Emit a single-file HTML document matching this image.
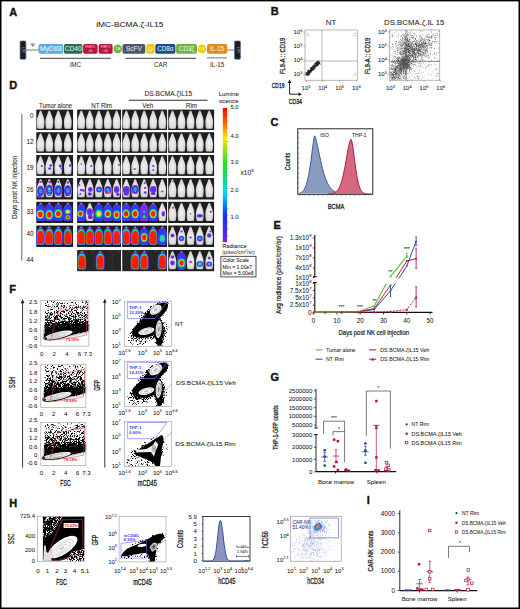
<!DOCTYPE html>
<html><head><meta charset="utf-8"><style>
html,body{margin:0;padding:0;background:#fff;}
body{width:520px;height:609px;overflow:hidden;}
svg{display:block;}
text{font-family:"Liberation Sans",sans-serif;}
</style></head><body>
<svg width="520" height="609" viewBox="0 0 520 609">
<defs>
<radialGradient id="mg" cx="50%" cy="55%" r="60%">
<stop offset="0" stop-color="#f2f2f2"/><stop offset="0.7" stop-color="#dadada"/><stop offset="1" stop-color="#a8a8a8"/>
</radialGradient>
<filter id="bl" x="-20%" y="-20%" width="140%" height="140%"><feGaussianBlur stdDeviation="0.35"/></filter>
<filter id="bl2" x="-20%" y="-20%" width="140%" height="140%"><feGaussianBlur stdDeviation="0.6"/></filter>
<filter id="bl3" x="-20%" y="-20%" width="140%" height="140%"><feGaussianBlur stdDeviation="1.3"/></filter>
<linearGradient id="cbar" x1="0" y1="0" x2="0" y2="1">
<stop offset="0" stop-color="#ff0000"/><stop offset="0.12" stop-color="#ff6a00"/><stop offset="0.22" stop-color="#ffe600"/>
<stop offset="0.42" stop-color="#20e020"/><stop offset="0.64" stop-color="#00d8f0"/><stop offset="0.8" stop-color="#1030ff"/>
<stop offset="1" stop-color="#7a20e8"/>
</linearGradient>

<linearGradient id="fsc" x1="0" y1="0" x2="0" y2="1">
<stop offset="0" stop-color="#000" stop-opacity="0.42"/><stop offset="0.3" stop-color="#000" stop-opacity="0.53"/>
<stop offset="0.5" stop-color="#000" stop-opacity="0.68"/><stop offset="0.66" stop-color="#000" stop-opacity="0.95"/><stop offset="1" stop-color="#000" stop-opacity="1"/>
</linearGradient>
<filter id="speck" x="0" y="0" width="100%" height="100%">
<feTurbulence type="fractalNoise" baseFrequency="2.2" numOctaves="1" seed="5" result="n"/>
<feColorMatrix in="n" type="matrix" values="0 0 0 0 0  0 0 0 0 0  0 0 0 0 0  2.0 0 0 0 -0.5" result="na"/>
<feComposite in="SourceGraphic" in2="na" operator="arithmetic" k1="0" k2="4" k3="-4" k4="0"/>
<feGaussianBlur stdDeviation="0.45"/>
</filter>
</defs>
<rect x="0" y="0" width="520" height="609" fill="#fff"/>
<text x="9.30" y="16.20" font-size="11" text-anchor="start" fill="#111" font-weight="bold" stroke="#111" stroke-width="0.35" >A</text>
<text x="129.80" y="27.10" font-size="8.1" text-anchor="middle" fill="#1a1a1a" font-weight="normal" stroke="#1a1a1a" stroke-width="0.05" textLength="67.3" lengthAdjust="spacingAndGlyphs">iMC-BCMA.ζ-IL15</text>
<line x1="25.80" y1="50.00" x2="38.60" y2="50.00" stroke="#999" stroke-width="1.3" />
<line x1="227.20" y1="50.00" x2="234.80" y2="50.00" stroke="#999" stroke-width="1.3" />
<rect x="20.10" y="41.00" width="5.80" height="18.20" fill="#1c1c1c" stroke="#4a6a9a" stroke-width="0.7" rx="1" />
<text transform="translate(23.00,50) rotate(90)" font-size="3" text-anchor="middle" dominant-baseline="central" fill="#ddd">LTR</text>
<rect x="234.60" y="41.00" width="5.80" height="18.20" fill="#1c1c1c" stroke="#4a6a9a" stroke-width="0.7" rx="1" />
<text transform="translate(237.50,50) rotate(90)" font-size="3" text-anchor="middle" dominant-baseline="central" fill="#ddd">LTR</text>
<text x="32.80" y="46.90" font-size="4.8" text-anchor="middle" fill="#333" font-weight="normal" stroke="#333" stroke-width="0.05" >Ψ</text>
<rect x="38.50" y="44.10" width="24.70" height="9.60" fill="#5ea9df" stroke="none" stroke-width="1" rx="1.8" />
<text x="50.85" y="51.30" font-size="6.9" text-anchor="middle" fill="#eef6ff" font-weight="normal" stroke="#eef6ff" stroke-width="0.05" >MyD88</text>
<rect x="63.90" y="44.10" width="18.50" height="9.60" fill="#2d6a4e" stroke="none" stroke-width="1" rx="1.8" />
<text x="73.15" y="51.30" font-size="6.6" text-anchor="middle" fill="#e6efe9" font-weight="normal" stroke="#e6efe9" stroke-width="0.05" >CD40</text>
<rect x="83.10" y="44.10" width="14.50" height="9.60" fill="#b4173c" stroke="none" stroke-width="1" rx="1.8" />
<rect x="98.70" y="44.10" width="13.90" height="9.60" fill="#b4173c" stroke="none" stroke-width="1" rx="1.8" />
<text x="90.35" y="48.30" font-size="2.7" text-anchor="middle" fill="#f8d0da" font-weight="normal" >FKBP12</text>
<text x="90.35" y="51.80" font-size="2.7" text-anchor="middle" fill="#f8d0da" font-weight="normal" >v36</text>
<text x="105.65" y="48.30" font-size="2.7" text-anchor="middle" fill="#f8d0da" font-weight="normal" >FKBP12</text>
<text x="105.65" y="51.80" font-size="2.7" text-anchor="middle" fill="#f8d0da" font-weight="normal" >v36</text>
<circle cx="117.8" cy="48.9" r="4.3" fill="#6cb544"/>
<text x="117.80" y="50.00" font-size="2.8" text-anchor="middle" fill="#e8f5e0" font-weight="normal" stroke="#e8f5e0" stroke-width="0.05" >T2A</text>
<rect x="122.50" y="44.10" width="22.80" height="9.60" fill="#4c556c" stroke="none" stroke-width="1" rx="1.8" />
<text x="133.90" y="51.30" font-size="6.4" text-anchor="middle" fill="#e6e8ee" font-weight="normal" stroke="#e6e8ee" stroke-width="0.05" >ScFV</text>
<rect x="146.30" y="44.10" width="8.20" height="9.60" fill="#f0c41c" stroke="none" stroke-width="1" rx="1.8" />
<text x="150.40" y="51.30" font-size="6.2" text-anchor="middle" fill="#fff6d0" font-weight="normal" stroke="#fff6d0" stroke-width="0.05" >Q</text>
<rect x="155.30" y="44.10" width="20.10" height="9.60" fill="#1f4a8b" stroke="none" stroke-width="1" rx="1.8" />
<text x="165.35" y="51.30" font-size="6.3" text-anchor="middle" fill="#e6ecf5" font-weight="normal" stroke="#e6ecf5" stroke-width="0.05" >CD8α</text>
<rect x="176.10" y="44.10" width="20.90" height="9.60" fill="#6cb544" stroke="none" stroke-width="1" rx="1.8" />
<text x="186.55" y="51.30" font-size="6.3" text-anchor="middle" fill="#eef8e8" font-weight="normal" stroke="#eef8e8" stroke-width="0.05" >CD3ζ</text>
<circle cx="202" cy="48.9" r="4.3" fill="#f0c41c"/>
<text x="202.00" y="50.00" font-size="2.8" text-anchor="middle" fill="#fff6d0" font-weight="normal" stroke="#fff6d0" stroke-width="0.05" >P2A</text>
<rect x="207.00" y="44.10" width="20.30" height="9.60" fill="#e08a1f" stroke="none" stroke-width="1" rx="1.8" />
<text x="217.15" y="51.30" font-size="6.3" text-anchor="middle" fill="#fff1de" font-weight="normal" stroke="#fff1de" stroke-width="0.05" >IL-15</text>
<line x1="40.00" y1="58.45" x2="110.80" y2="58.45" stroke="#666" stroke-width="1.2" />
<line x1="125.60" y1="58.45" x2="196.00" y2="58.45" stroke="#666" stroke-width="1.2" />
<line x1="207.00" y1="57.80" x2="227.00" y2="57.80" stroke="#999" stroke-width="1.4" />
<text x="75.50" y="67.30" font-size="6.3" text-anchor="middle" fill="#333" font-weight="normal" stroke="#333" stroke-width="0.05" >iMC</text>
<text x="160.60" y="67.30" font-size="6.3" text-anchor="middle" fill="#333" font-weight="normal" stroke="#333" stroke-width="0.05" >CAR</text>
<text x="217.20" y="67.30" font-size="6.3" text-anchor="middle" fill="#333" font-weight="normal" stroke="#333" stroke-width="0.05" >IL-15</text>
<text x="270.80" y="15.30" font-size="11" text-anchor="start" fill="#111" font-weight="bold" stroke="#111" stroke-width="0.35" >B</text>
<text x="331.00" y="25.30" font-size="7.8" text-anchor="middle" fill="#1a1a1a" font-weight="normal" stroke="#1a1a1a" stroke-width="0.05" >NT</text>
<rect x="305.00" y="30.00" width="52.60" height="50.20" fill="#fff" stroke="#888" stroke-width="0.6" rx="0" />
<line x1="322.00" y1="30.00" x2="322.00" y2="80.20" stroke="#888" stroke-width="0.6" />
<line x1="305.00" y1="61.00" x2="357.60" y2="61.00" stroke="#888" stroke-width="0.6" />
<text x="302.40" y="34.20" font-size="6.0" text-anchor="end" fill="#1a1a1a" stroke="#1a1a1a" stroke-width="0.05">10<tspan font-size="3.90" dy="-2.70">6</tspan></text>
<line x1="303.50" y1="32.00" x2="305.00" y2="32.00" stroke="#555" stroke-width="0.5" />
<text x="302.40" y="48.20" font-size="6.0" text-anchor="end" fill="#1a1a1a" stroke="#1a1a1a" stroke-width="0.05">10<tspan font-size="3.90" dy="-2.70">5</tspan></text>
<line x1="303.50" y1="46.00" x2="305.00" y2="46.00" stroke="#555" stroke-width="0.5" />
<text x="302.40" y="62.20" font-size="6.0" text-anchor="end" fill="#1a1a1a" stroke="#1a1a1a" stroke-width="0.05">10<tspan font-size="3.90" dy="-2.70">4</tspan></text>
<line x1="303.50" y1="60.00" x2="305.00" y2="60.00" stroke="#555" stroke-width="0.5" />
<text x="302.40" y="76.20" font-size="6.0" text-anchor="end" fill="#1a1a1a" stroke="#1a1a1a" stroke-width="0.05">10<tspan font-size="3.90" dy="-2.70">3</tspan></text>
<line x1="303.50" y1="74.00" x2="305.00" y2="74.00" stroke="#555" stroke-width="0.5" />
<text x="306.00" y="90.40" font-size="6.0" text-anchor="middle" fill="#1a1a1a" stroke="#1a1a1a" stroke-width="0.05">10<tspan font-size="3.90" dy="-2.70">3</tspan></text>
<line x1="306.00" y1="80.20" x2="306.00" y2="81.70" stroke="#555" stroke-width="0.5" />
<text x="322.80" y="90.40" font-size="6.0" text-anchor="middle" fill="#1a1a1a" stroke="#1a1a1a" stroke-width="0.05">10<tspan font-size="3.90" dy="-2.70">4</tspan></text>
<line x1="322.80" y1="80.20" x2="322.80" y2="81.70" stroke="#555" stroke-width="0.5" />
<text x="339.60" y="90.40" font-size="6.0" text-anchor="middle" fill="#1a1a1a" stroke="#1a1a1a" stroke-width="0.05">10<tspan font-size="3.90" dy="-2.70">5</tspan></text>
<line x1="339.60" y1="80.20" x2="339.60" y2="81.70" stroke="#555" stroke-width="0.5" />
<text x="356.40" y="90.40" font-size="6.0" text-anchor="middle" fill="#1a1a1a" stroke="#1a1a1a" stroke-width="0.05">10<tspan font-size="3.90" dy="-2.70">6</tspan></text>
<line x1="356.40" y1="80.20" x2="356.40" y2="81.70" stroke="#555" stroke-width="0.5" />
<text transform="translate(285.38,74.00) rotate(-90)" x="0" y="0" font-size="6.6" fill="#1a1a1a" stroke="#1a1a1a" stroke-width="0.28" textLength="36.2" lengthAdjust="spacingAndGlyphs">FL9-A :: CD19</text>
<text x="306.50" y="33.60" font-size="2.2" text-anchor="start" fill="#555" font-weight="normal" >Q</text>
<text x="306.50" y="36.20" font-size="2.2" text-anchor="start" fill="#555" font-weight="normal" >0.0</text>
<text x="356.10" y="33.60" font-size="2.2" text-anchor="end" fill="#555" font-weight="normal" >Q</text>
<text x="356.10" y="36.20" font-size="2.2" text-anchor="end" fill="#555" font-weight="normal" >0.0</text>
<text x="306.50" y="73.70" font-size="2.2" text-anchor="start" fill="#555" font-weight="normal" >Q</text>
<text x="306.50" y="76.30" font-size="2.2" text-anchor="start" fill="#555" font-weight="normal" >0.0</text>
<text x="356.10" y="73.70" font-size="2.2" text-anchor="end" fill="#555" font-weight="normal" >Q</text>
<text x="356.10" y="76.30" font-size="2.2" text-anchor="end" fill="#555" font-weight="normal" >0.0</text>
<text x="414.30" y="25.30" font-size="7.8" text-anchor="middle" fill="#1a1a1a" font-weight="normal" stroke="#1a1a1a" stroke-width="0.05" >DS.BCMA.ζ.IL 15</text>
<rect x="389.40" y="30.00" width="50.40" height="50.20" fill="#fff" stroke="#888" stroke-width="0.6" rx="0" />
<line x1="406.00" y1="30.00" x2="406.00" y2="80.20" stroke="#888" stroke-width="0.6" />
<line x1="389.40" y1="61.40" x2="439.80" y2="61.40" stroke="#888" stroke-width="0.6" />
<text x="386.80" y="34.20" font-size="6.0" text-anchor="end" fill="#1a1a1a" stroke="#1a1a1a" stroke-width="0.05">10<tspan font-size="3.90" dy="-2.70">6</tspan></text>
<line x1="387.90" y1="32.00" x2="389.40" y2="32.00" stroke="#555" stroke-width="0.5" />
<text x="386.80" y="48.20" font-size="6.0" text-anchor="end" fill="#1a1a1a" stroke="#1a1a1a" stroke-width="0.05">10<tspan font-size="3.90" dy="-2.70">5</tspan></text>
<line x1="387.90" y1="46.00" x2="389.40" y2="46.00" stroke="#555" stroke-width="0.5" />
<text x="386.80" y="62.20" font-size="6.0" text-anchor="end" fill="#1a1a1a" stroke="#1a1a1a" stroke-width="0.05">10<tspan font-size="3.90" dy="-2.70">4</tspan></text>
<line x1="387.90" y1="60.00" x2="389.40" y2="60.00" stroke="#555" stroke-width="0.5" />
<text x="386.80" y="76.20" font-size="6.0" text-anchor="end" fill="#1a1a1a" stroke="#1a1a1a" stroke-width="0.05">10<tspan font-size="3.90" dy="-2.70">3</tspan></text>
<line x1="387.90" y1="74.00" x2="389.40" y2="74.00" stroke="#555" stroke-width="0.5" />
<text x="390.40" y="90.40" font-size="6.0" text-anchor="middle" fill="#1a1a1a" stroke="#1a1a1a" stroke-width="0.05">10<tspan font-size="3.90" dy="-2.70">3</tspan></text>
<line x1="390.40" y1="80.20" x2="390.40" y2="81.70" stroke="#555" stroke-width="0.5" />
<text x="407.20" y="90.40" font-size="6.0" text-anchor="middle" fill="#1a1a1a" stroke="#1a1a1a" stroke-width="0.05">10<tspan font-size="3.90" dy="-2.70">4</tspan></text>
<line x1="407.20" y1="80.20" x2="407.20" y2="81.70" stroke="#555" stroke-width="0.5" />
<text x="424.00" y="90.40" font-size="6.0" text-anchor="middle" fill="#1a1a1a" stroke="#1a1a1a" stroke-width="0.05">10<tspan font-size="3.90" dy="-2.70">5</tspan></text>
<line x1="424.00" y1="80.20" x2="424.00" y2="81.70" stroke="#555" stroke-width="0.5" />
<text x="440.80" y="90.40" font-size="6.0" text-anchor="middle" fill="#1a1a1a" stroke="#1a1a1a" stroke-width="0.05">10<tspan font-size="3.90" dy="-2.70">6</tspan></text>
<line x1="440.80" y1="80.20" x2="440.80" y2="81.70" stroke="#555" stroke-width="0.5" />
<text transform="translate(369.78,74.00) rotate(-90)" x="0" y="0" font-size="6.6" fill="#1a1a1a" stroke="#1a1a1a" stroke-width="0.28" textLength="36.2" lengthAdjust="spacingAndGlyphs">FL9-A :: CD19</text>
<text x="390.90" y="33.60" font-size="2.2" text-anchor="start" fill="#555" font-weight="normal" >Q</text>
<text x="390.90" y="36.20" font-size="2.2" text-anchor="start" fill="#555" font-weight="normal" >0.0</text>
<text x="438.30" y="33.60" font-size="2.2" text-anchor="end" fill="#555" font-weight="normal" >Q</text>
<text x="438.30" y="36.20" font-size="2.2" text-anchor="end" fill="#555" font-weight="normal" >0.0</text>
<text x="390.90" y="73.70" font-size="2.2" text-anchor="start" fill="#555" font-weight="normal" >Q</text>
<text x="390.90" y="76.30" font-size="2.2" text-anchor="start" fill="#555" font-weight="normal" >0.0</text>
<text x="438.30" y="73.70" font-size="2.2" text-anchor="end" fill="#555" font-weight="normal" >Q</text>
<text x="438.30" y="76.30" font-size="2.2" text-anchor="end" fill="#555" font-weight="normal" >0.0</text>
<path d="M310.3 71.8h0.7v0.7h-0.7zM310.6 70.8h0.7v0.7h-0.7zM306.1 74.0h0.7v0.7h-0.7zM316.9 64.4h0.7v0.7h-0.7zM314.1 66.8h0.7v0.7h-0.7zM307.6 74.7h0.7v0.7h-0.7zM307.9 73.4h0.7v0.7h-0.7zM312.2 66.8h0.7v0.7h-0.7zM312.6 68.2h0.7v0.7h-0.7zM311.4 70.9h0.7v0.7h-0.7zM311.3 68.7h0.7v0.7h-0.7zM311.5 67.0h0.7v0.7h-0.7zM315.4 65.1h0.7v0.7h-0.7zM316.0 65.7h0.7v0.7h-0.7zM308.5 70.0h0.7v0.7h-0.7zM311.8 66.7h0.7v0.7h-0.7zM314.2 66.2h0.7v0.7h-0.7zM314.9 67.6h0.7v0.7h-0.7zM315.0 66.8h0.7v0.7h-0.7zM307.8 72.9h0.7v0.7h-0.7zM307.6 71.9h0.7v0.7h-0.7zM306.0 73.3h0.7v0.7h-0.7zM316.1 62.9h0.7v0.7h-0.7zM310.4 71.7h0.7v0.7h-0.7zM308.6 72.7h0.7v0.7h-0.7zM312.9 67.0h0.7v0.7h-0.7zM313.4 67.8h0.7v0.7h-0.7zM310.8 68.3h0.7v0.7h-0.7zM316.5 64.6h0.7v0.7h-0.7zM310.1 69.6h0.7v0.7h-0.7zM306.4 73.7h0.7v0.7h-0.7zM309.6 70.7h0.7v0.7h-0.7zM310.8 70.7h0.7v0.7h-0.7zM313.7 67.1h0.7v0.7h-0.7zM308.2 72.7h0.7v0.7h-0.7zM310.9 69.0h0.7v0.7h-0.7zM309.1 71.7h0.7v0.7h-0.7zM306.7 75.1h0.7v0.7h-0.7zM305.8 74.5h0.7v0.7h-0.7zM316.5 63.0h0.7v0.7h-0.7zM315.2 64.8h0.7v0.7h-0.7zM310.3 71.6h0.7v0.7h-0.7zM316.2 63.5h0.7v0.7h-0.7zM307.6 71.5h0.7v0.7h-0.7zM308.8 71.9h0.7v0.7h-0.7zM317.2 61.3h0.7v0.7h-0.7zM309.8 70.5h0.7v0.7h-0.7zM308.6 73.1h0.7v0.7h-0.7zM310.3 67.6h0.7v0.7h-0.7zM310.6 68.4h0.7v0.7h-0.7zM309.1 71.0h0.7v0.7h-0.7zM318.5 62.2h0.7v0.7h-0.7zM308.5 74.0h0.7v0.7h-0.7zM316.5 63.5h0.7v0.7h-0.7zM309.3 71.1h0.7v0.7h-0.7zM313.1 66.5h0.7v0.7h-0.7zM311.1 70.3h0.7v0.7h-0.7zM309.5 72.2h0.7v0.7h-0.7zM308.4 71.6h0.7v0.7h-0.7zM310.1 68.4h0.7v0.7h-0.7zM311.0 69.8h0.7v0.7h-0.7zM305.8 74.0h0.7v0.7h-0.7zM305.9 73.7h0.7v0.7h-0.7zM312.4 68.3h0.7v0.7h-0.7zM312.3 67.6h0.7v0.7h-0.7zM308.7 70.8h0.7v0.7h-0.7zM311.8 67.3h0.7v0.7h-0.7zM311.5 68.7h0.7v0.7h-0.7zM310.2 69.0h0.7v0.7h-0.7zM317.0 62.7h0.7v0.7h-0.7zM313.4 69.0h0.7v0.7h-0.7zM311.4 69.7h0.7v0.7h-0.7zM305.5 73.3h0.7v0.7h-0.7zM314.4 65.1h0.7v0.7h-0.7zM317.6 63.8h0.7v0.7h-0.7zM312.0 68.5h0.7v0.7h-0.7zM306.9 71.9h0.7v0.7h-0.7zM309.6 71.2h0.7v0.7h-0.7zM312.3 67.4h0.7v0.7h-0.7zM313.5 69.5h0.7v0.7h-0.7zM316.0 64.7h0.7v0.7h-0.7zM315.8 64.9h0.7v0.7h-0.7zM311.3 70.6h0.7v0.7h-0.7zM317.6 62.6h0.7v0.7h-0.7zM307.8 74.3h0.7v0.7h-0.7zM317.7 61.8h0.7v0.7h-0.7zM306.7 73.9h0.7v0.7h-0.7zM308.3 69.9h0.7v0.7h-0.7zM309.5 72.1h0.7v0.7h-0.7zM308.0 73.1h0.7v0.7h-0.7zM309.4 70.5h0.7v0.7h-0.7zM308.3 73.3h0.7v0.7h-0.7zM309.5 72.5h0.7v0.7h-0.7zM311.3 68.7h0.7v0.7h-0.7zM315.7 63.5h0.7v0.7h-0.7zM310.8 67.0h0.7v0.7h-0.7zM309.6 70.9h0.7v0.7h-0.7zM309.3 70.1h0.7v0.7h-0.7zM306.2 73.7h0.7v0.7h-0.7zM317.1 63.5h0.7v0.7h-0.7zM309.2 71.2h0.7v0.7h-0.7zM310.9 70.3h0.7v0.7h-0.7zM318.0 61.5h0.7v0.7h-0.7zM310.0 70.3h0.7v0.7h-0.7zM310.9 68.4h0.7v0.7h-0.7zM308.9 71.8h0.7v0.7h-0.7zM306.9 74.5h0.7v0.7h-0.7zM312.9 68.5h0.7v0.7h-0.7zM314.9 65.5h0.7v0.7h-0.7zM308.9 74.0h0.7v0.7h-0.7zM306.3 74.2h0.7v0.7h-0.7zM315.7 63.7h0.7v0.7h-0.7zM311.8 69.3h0.7v0.7h-0.7zM316.4 61.6h0.7v0.7h-0.7zM308.6 72.2h0.7v0.7h-0.7zM316.3 63.8h0.7v0.7h-0.7zM312.7 67.1h0.7v0.7h-0.7zM314.8 65.0h0.7v0.7h-0.7zM315.1 67.3h0.7v0.7h-0.7zM308.9 71.6h0.7v0.7h-0.7zM315.7 65.6h0.7v0.7h-0.7zM314.8 66.0h0.7v0.7h-0.7zM314.1 66.9h0.7v0.7h-0.7zM310.1 72.1h0.7v0.7h-0.7zM306.9 73.5h0.7v0.7h-0.7zM307.7 70.3h0.7v0.7h-0.7zM312.7 70.3h0.7v0.7h-0.7zM320.1 63.9h0.7v0.7h-0.7zM316.8 64.6h0.7v0.7h-0.7zM318.7 62.9h0.7v0.7h-0.7zM305.6 71.9h0.7v0.7h-0.7zM313.1 68.9h0.7v0.7h-0.7zM308.6 72.6h0.7v0.7h-0.7zM311.3 68.8h0.7v0.7h-0.7zM307.2 72.7h0.7v0.7h-0.7zM315.3 64.8h0.7v0.7h-0.7zM316.8 61.9h0.7v0.7h-0.7zM311.3 70.5h0.7v0.7h-0.7zM309.5 70.1h0.7v0.7h-0.7zM316.4 64.6h0.7v0.7h-0.7zM308.8 71.8h0.7v0.7h-0.7zM319.4 62.0h0.7v0.7h-0.7zM314.3 67.5h0.7v0.7h-0.7zM306.0 73.2h0.7v0.7h-0.7zM314.7 65.4h0.7v0.7h-0.7zM307.2 73.6h0.7v0.7h-0.7zM308.0 71.0h0.7v0.7h-0.7zM309.7 71.9h0.7v0.7h-0.7zM308.0 73.2h0.7v0.7h-0.7zM308.7 71.0h0.7v0.7h-0.7zM311.4 69.7h0.7v0.7h-0.7zM307.1 74.0h0.7v0.7h-0.7zM313.0 68.1h0.7v0.7h-0.7zM312.1 68.8h0.7v0.7h-0.7zM307.1 73.7h0.7v0.7h-0.7zM314.2 67.1h0.7v0.7h-0.7zM309.1 70.7h0.7v0.7h-0.7zM317.2 64.0h0.7v0.7h-0.7zM305.5 74.8h0.7v0.7h-0.7zM316.6 64.9h0.7v0.7h-0.7zM307.2 73.0h0.7v0.7h-0.7zM317.4 62.0h0.7v0.7h-0.7zM312.3 67.3h0.7v0.7h-0.7zM308.8 72.7h0.7v0.7h-0.7zM308.4 71.6h0.7v0.7h-0.7zM307.8 73.7h0.7v0.7h-0.7zM307.8 71.7h0.7v0.7h-0.7zM307.8 69.1h0.7v0.7h-0.7zM310.3 68.1h0.7v0.7h-0.7zM317.9 62.1h0.7v0.7h-0.7zM314.0 66.3h0.7v0.7h-0.7zM314.3 66.9h0.7v0.7h-0.7zM310.6 69.5h0.7v0.7h-0.7zM315.4 64.5h0.7v0.7h-0.7zM310.9 72.4h0.7v0.7h-0.7zM307.9 72.5h0.7v0.7h-0.7zM307.6 72.6h0.7v0.7h-0.7zM314.2 66.4h0.7v0.7h-0.7zM318.9 62.0h0.7v0.7h-0.7zM305.9 73.1h0.7v0.7h-0.7zM318.6 60.4h0.7v0.7h-0.7zM308.5 73.9h0.7v0.7h-0.7zM310.0 70.6h0.7v0.7h-0.7zM308.1 72.6h0.7v0.7h-0.7zM308.6 74.4h0.7v0.7h-0.7zM309.7 70.8h0.7v0.7h-0.7zM310.8 69.5h0.7v0.7h-0.7zM307.5 71.9h0.7v0.7h-0.7zM316.3 64.1h0.7v0.7h-0.7zM307.8 75.3h0.7v0.7h-0.7zM318.3 64.0h0.7v0.7h-0.7zM317.8 61.4h0.7v0.7h-0.7zM308.8 70.9h0.7v0.7h-0.7zM316.1 61.7h0.7v0.7h-0.7zM312.2 68.7h0.7v0.7h-0.7zM310.5 69.2h0.7v0.7h-0.7zM307.9 72.0h0.7v0.7h-0.7zM315.9 63.9h0.7v0.7h-0.7zM310.4 70.7h0.7v0.7h-0.7zM307.6 72.4h0.7v0.7h-0.7zM312.0 68.8h0.7v0.7h-0.7zM317.7 63.6h0.7v0.7h-0.7zM311.7 68.3h0.7v0.7h-0.7zM307.8 70.9h0.7v0.7h-0.7zM315.6 62.5h0.7v0.7h-0.7zM316.8 63.0h0.7v0.7h-0.7zM308.6 73.3h0.7v0.7h-0.7zM307.7 73.3h0.7v0.7h-0.7zM319.2 61.9h0.7v0.7h-0.7zM314.1 63.3h0.7v0.7h-0.7zM317.1 63.7h0.7v0.7h-0.7zM306.4 74.2h0.7v0.7h-0.7zM314.7 68.8h0.7v0.7h-0.7zM316.6 62.9h0.7v0.7h-0.7zM308.0 72.0h0.7v0.7h-0.7zM313.4 67.4h0.7v0.7h-0.7zM306.1 73.8h0.7v0.7h-0.7zM308.5 72.4h0.7v0.7h-0.7zM307.2 73.8h0.7v0.7h-0.7zM306.7 73.6h0.7v0.7h-0.7zM310.6 69.9h0.7v0.7h-0.7zM312.2 67.8h0.7v0.7h-0.7zM317.5 64.1h0.7v0.7h-0.7zM309.6 73.3h0.7v0.7h-0.7zM310.6 70.1h0.7v0.7h-0.7zM307.4 72.3h0.7v0.7h-0.7zM313.8 66.6h0.7v0.7h-0.7zM311.5 68.3h0.7v0.7h-0.7zM312.1 67.9h0.7v0.7h-0.7zM318.6 62.0h0.7v0.7h-0.7zM318.8 63.6h0.7v0.7h-0.7zM311.0 70.2h0.7v0.7h-0.7zM317.4 64.5h0.7v0.7h-0.7zM317.4 64.0h0.7v0.7h-0.7zM307.7 71.4h0.7v0.7h-0.7zM308.5 71.2h0.7v0.7h-0.7zM306.9 73.2h0.7v0.7h-0.7zM313.5 66.2h0.7v0.7h-0.7zM313.2 66.1h0.7v0.7h-0.7zM316.5 65.7h0.7v0.7h-0.7zM311.7 69.0h0.7v0.7h-0.7zM310.9 69.4h0.7v0.7h-0.7zM314.7 67.6h0.7v0.7h-0.7zM319.6 63.3h0.7v0.7h-0.7zM316.5 64.9h0.7v0.7h-0.7zM312.7 70.3h0.7v0.7h-0.7zM319.2 63.4h0.7v0.7h-0.7zM316.7 65.5h0.7v0.7h-0.7zM307.6 74.1h0.7v0.7h-0.7zM308.3 72.1h0.7v0.7h-0.7zM308.3 73.4h0.7v0.7h-0.7zM314.4 66.4h0.7v0.7h-0.7zM311.6 67.6h0.7v0.7h-0.7zM316.1 62.5h0.7v0.7h-0.7zM318.5 60.9h0.7v0.7h-0.7zM316.8 63.8h0.7v0.7h-0.7zM314.9 64.6h0.7v0.7h-0.7zM316.4 66.2h0.7v0.7h-0.7zM319.2 62.1h0.7v0.7h-0.7zM309.4 71.4h0.7v0.7h-0.7zM310.7 70.1h0.7v0.7h-0.7zM307.8 73.2h0.7v0.7h-0.7zM310.0 70.7h0.7v0.7h-0.7zM307.2 71.5h0.7v0.7h-0.7zM312.7 70.3h0.7v0.7h-0.7zM308.7 71.5h0.7v0.7h-0.7zM314.5 63.7h0.7v0.7h-0.7zM312.2 69.8h0.7v0.7h-0.7zM308.5 71.6h0.7v0.7h-0.7zM308.8 72.0h0.7v0.7h-0.7zM313.0 67.3h0.7v0.7h-0.7zM316.7 64.3h0.7v0.7h-0.7zM317.6 62.6h0.7v0.7h-0.7zM306.1 74.2h0.7v0.7h-0.7zM311.3 69.6h0.7v0.7h-0.7zM308.9 72.5h0.7v0.7h-0.7zM315.6 62.3h0.7v0.7h-0.7zM311.6 66.5h0.7v0.7h-0.7zM313.8 66.4h0.7v0.7h-0.7zM317.7 63.6h0.7v0.7h-0.7zM319.2 62.8h0.7v0.7h-0.7zM317.2 63.2h0.7v0.7h-0.7zM313.4 64.5h0.7v0.7h-0.7zM311.3 69.7h0.7v0.7h-0.7zM314.0 64.7h0.7v0.7h-0.7zM307.7 72.2h0.7v0.7h-0.7zM306.6 74.3h0.7v0.7h-0.7zM309.8 71.2h0.7v0.7h-0.7zM313.6 66.4h0.7v0.7h-0.7zM305.8 73.5h0.7v0.7h-0.7zM316.9 62.1h0.7v0.7h-0.7zM317.9 62.9h0.7v0.7h-0.7zM306.9 73.7h0.7v0.7h-0.7zM313.5 67.0h0.7v0.7h-0.7zM307.1 73.4h0.7v0.7h-0.7zM309.2 70.8h0.7v0.7h-0.7zM315.0 66.2h0.7v0.7h-0.7zM317.2 60.5h0.7v0.7h-0.7zM309.8 69.8h0.7v0.7h-0.7zM309.0 70.5h0.7v0.7h-0.7zM308.0 74.5h0.7v0.7h-0.7zM306.9 74.5h0.7v0.7h-0.7zM310.9 68.7h0.7v0.7h-0.7zM307.1 72.0h0.7v0.7h-0.7zM317.7 61.9h0.7v0.7h-0.7zM314.2 65.3h0.7v0.7h-0.7zM315.4 63.7h0.7v0.7h-0.7zM313.3 65.8h0.7v0.7h-0.7zM307.6 74.3h0.7v0.7h-0.7zM308.6 71.8h0.7v0.7h-0.7zM317.2 63.4h0.7v0.7h-0.7zM311.5 67.9h0.7v0.7h-0.7zM309.3 70.9h0.7v0.7h-0.7zM313.7 65.7h0.7v0.7h-0.7zM313.4 68.1h0.7v0.7h-0.7zM317.5 62.8h0.7v0.7h-0.7zM317.6 64.7h0.7v0.7h-0.7zM308.5 71.6h0.7v0.7h-0.7zM308.8 72.8h0.7v0.7h-0.7zM307.1 72.9h0.7v0.7h-0.7zM317.0 65.2h0.7v0.7h-0.7zM307.5 72.3h0.7v0.7h-0.7zM306.3 74.9h0.7v0.7h-0.7zM313.5 64.7h0.7v0.7h-0.7zM312.7 67.5h0.7v0.7h-0.7zM317.0 61.9h0.7v0.7h-0.7zM307.4 70.6h0.7v0.7h-0.7zM314.5 64.0h0.7v0.7h-0.7zM310.0 68.8h0.7v0.7h-0.7zM306.1 72.3h0.7v0.7h-0.7zM307.3 71.1h0.7v0.7h-0.7zM312.8 66.3h0.7v0.7h-0.7zM313.7 65.9h0.7v0.7h-0.7zM311.7 68.7h0.7v0.7h-0.7zM316.0 64.3h0.7v0.7h-0.7zM305.9 72.6h0.7v0.7h-0.7zM313.1 65.5h0.7v0.7h-0.7zM310.8 70.0h0.7v0.7h-0.7zM315.5 64.9h0.7v0.7h-0.7zM310.3 70.9h0.7v0.7h-0.7zM310.2 69.9h0.7v0.7h-0.7zM309.9 70.4h0.7v0.7h-0.7zM310.7 67.3h0.7v0.7h-0.7zM310.5 70.2h0.7v0.7h-0.7zM312.0 65.6h0.7v0.7h-0.7zM308.7 72.2h0.7v0.7h-0.7zM315.0 63.2h0.7v0.7h-0.7zM313.6 68.3h0.7v0.7h-0.7zM309.5 72.7h0.7v0.7h-0.7zM310.7 69.5h0.7v0.7h-0.7zM307.8 71.7h0.7v0.7h-0.7zM309.7 68.4h0.7v0.7h-0.7zM318.5 64.8h0.7v0.7h-0.7zM317.4 63.0h0.7v0.7h-0.7zM306.2 73.4h0.7v0.7h-0.7zM314.0 66.5h0.7v0.7h-0.7zM315.8 65.1h0.7v0.7h-0.7zM317.4 63.2h0.7v0.7h-0.7zM314.8 63.3h0.7v0.7h-0.7zM315.8 64.5h0.7v0.7h-0.7zM313.7 64.7h0.7v0.7h-0.7zM312.6 68.0h0.7v0.7h-0.7zM306.8 74.4h0.7v0.7h-0.7zM310.8 67.9h0.7v0.7h-0.7zM316.1 63.7h0.7v0.7h-0.7zM314.0 65.8h0.7v0.7h-0.7zM307.0 74.0h0.7v0.7h-0.7zM318.1 61.2h0.7v0.7h-0.7zM318.5 63.5h0.7v0.7h-0.7zM316.2 63.2h0.7v0.7h-0.7zM311.8 67.9h0.7v0.7h-0.7zM312.8 67.8h0.7v0.7h-0.7zM316.0 63.2h0.7v0.7h-0.7zM319.0 61.8h0.7v0.7h-0.7zM309.5 70.1h0.7v0.7h-0.7zM315.8 64.2h0.7v0.7h-0.7zM317.0 62.8h0.7v0.7h-0.7zM308.3 72.3h0.7v0.7h-0.7zM313.5 66.3h0.7v0.7h-0.7zM312.7 65.8h0.7v0.7h-0.7zM314.9 65.6h0.7v0.7h-0.7zM307.2 73.7h0.7v0.7h-0.7zM316.1 65.0h0.7v0.7h-0.7zM316.4 65.2h0.7v0.7h-0.7zM308.7 70.2h0.7v0.7h-0.7zM318.8 62.8h0.7v0.7h-0.7zM307.5 74.1h0.7v0.7h-0.7zM310.6 68.6h0.7v0.7h-0.7zM314.2 68.6h0.7v0.7h-0.7zM306.8 73.3h0.7v0.7h-0.7zM307.4 72.8h0.7v0.7h-0.7zM318.8 61.8h0.7v0.7h-0.7zM308.2 74.1h0.7v0.7h-0.7zM309.3 73.7h0.7v0.7h-0.7zM314.9 66.6h0.7v0.7h-0.7zM314.3 66.2h0.7v0.7h-0.7zM309.4 72.7h0.7v0.7h-0.7zM313.8 66.3h0.7v0.7h-0.7zM308.9 71.2h0.7v0.7h-0.7zM305.6 73.5h0.7v0.7h-0.7zM310.5 69.3h0.7v0.7h-0.7zM312.9 65.7h0.7v0.7h-0.7zM309.7 70.5h0.7v0.7h-0.7zM309.1 70.8h0.7v0.7h-0.7zM314.5 65.2h0.7v0.7h-0.7zM315.1 62.5h0.7v0.7h-0.7zM311.0 69.8h0.7v0.7h-0.7zM316.7 61.8h0.7v0.7h-0.7zM306.3 73.6h0.7v0.7h-0.7zM317.3 62.5h0.7v0.7h-0.7zM316.3 64.5h0.7v0.7h-0.7zM317.0 64.7h0.7v0.7h-0.7zM310.6 71.3h0.7v0.7h-0.7zM315.0 64.5h0.7v0.7h-0.7zM312.5 66.8h0.7v0.7h-0.7zM315.8 65.1h0.7v0.7h-0.7zM306.5 73.9h0.7v0.7h-0.7zM318.6 63.3h0.7v0.7h-0.7zM310.9 68.6h0.7v0.7h-0.7zM314.6 66.4h0.7v0.7h-0.7zM310.0 70.6h0.7v0.7h-0.7zM311.0 71.1h0.7v0.7h-0.7zM316.6 64.7h0.7v0.7h-0.7zM307.8 74.9h0.7v0.7h-0.7zM316.2 62.4h0.7v0.7h-0.7zM312.3 70.4h0.7v0.7h-0.7zM316.6 64.7h0.7v0.7h-0.7zM307.9 72.7h0.7v0.7h-0.7zM312.6 69.0h0.7v0.7h-0.7zM305.7 73.1h0.7v0.7h-0.7zM307.4 73.2h0.7v0.7h-0.7zM317.8 61.2h0.7v0.7h-0.7zM312.6 70.4h0.7v0.7h-0.7zM306.2 74.2h0.7v0.7h-0.7zM318.1 64.3h0.7v0.7h-0.7zM314.3 65.1h0.7v0.7h-0.7zM307.5 74.9h0.7v0.7h-0.7zM308.2 70.5h0.7v0.7h-0.7zM306.9 73.4h0.7v0.7h-0.7zM308.1 73.4h0.7v0.7h-0.7z" fill="#222"/>
<path d="M403.8 62.0h0.6v0.6h-0.6zM403.5 60.2h0.6v0.6h-0.6zM411.8 64.3h0.6v0.6h-0.6zM405.5 70.5h0.6v0.6h-0.6zM408.9 57.1h0.6v0.6h-0.6zM406.4 65.4h0.6v0.6h-0.6zM410.6 67.1h0.6v0.6h-0.6zM406.7 58.4h0.6v0.6h-0.6zM401.0 63.4h0.6v0.6h-0.6zM405.8 58.9h0.6v0.6h-0.6zM402.7 61.1h0.6v0.6h-0.6zM404.2 63.7h0.6v0.6h-0.6zM403.0 58.2h0.6v0.6h-0.6zM408.3 68.1h0.6v0.6h-0.6zM403.6 66.1h0.6v0.6h-0.6zM405.6 64.8h0.6v0.6h-0.6zM405.7 59.8h0.6v0.6h-0.6zM406.0 66.0h0.6v0.6h-0.6zM400.9 69.4h0.6v0.6h-0.6zM411.3 68.9h0.6v0.6h-0.6zM411.0 65.1h0.6v0.6h-0.6zM402.8 60.4h0.6v0.6h-0.6zM401.2 62.9h0.6v0.6h-0.6zM403.9 64.8h0.6v0.6h-0.6zM396.9 70.6h0.6v0.6h-0.6zM412.0 62.4h0.6v0.6h-0.6zM406.4 64.2h0.6v0.6h-0.6zM405.0 61.8h0.6v0.6h-0.6zM403.6 59.6h0.6v0.6h-0.6zM404.6 62.4h0.6v0.6h-0.6zM405.1 59.5h0.6v0.6h-0.6zM404.1 62.7h0.6v0.6h-0.6zM406.1 58.8h0.6v0.6h-0.6zM405.5 65.9h0.6v0.6h-0.6zM406.1 61.2h0.6v0.6h-0.6zM402.3 61.7h0.6v0.6h-0.6zM406.6 67.9h0.6v0.6h-0.6zM403.4 60.3h0.6v0.6h-0.6zM405.3 63.2h0.6v0.6h-0.6zM400.8 59.9h0.6v0.6h-0.6zM403.6 64.9h0.6v0.6h-0.6zM399.8 58.9h0.6v0.6h-0.6zM405.7 58.2h0.6v0.6h-0.6zM404.4 63.7h0.6v0.6h-0.6zM403.6 58.9h0.6v0.6h-0.6zM403.8 61.3h0.6v0.6h-0.6zM405.2 59.6h0.6v0.6h-0.6zM407.8 56.6h0.6v0.6h-0.6zM403.4 62.5h0.6v0.6h-0.6zM407.4 60.4h0.6v0.6h-0.6zM405.9 60.5h0.6v0.6h-0.6zM406.6 68.6h0.6v0.6h-0.6zM402.6 64.1h0.6v0.6h-0.6zM400.8 65.9h0.6v0.6h-0.6zM408.2 62.6h0.6v0.6h-0.6zM400.0 63.9h0.6v0.6h-0.6zM408.0 66.3h0.6v0.6h-0.6zM406.8 56.1h0.6v0.6h-0.6zM401.6 67.5h0.6v0.6h-0.6zM399.7 66.5h0.6v0.6h-0.6zM410.6 65.2h0.6v0.6h-0.6zM407.9 61.3h0.6v0.6h-0.6zM399.7 62.1h0.6v0.6h-0.6zM403.3 62.3h0.6v0.6h-0.6zM406.4 62.0h0.6v0.6h-0.6zM404.7 64.0h0.6v0.6h-0.6zM404.0 69.0h0.6v0.6h-0.6zM405.5 62.8h0.6v0.6h-0.6zM403.3 60.3h0.6v0.6h-0.6zM408.7 63.0h0.6v0.6h-0.6zM400.2 60.5h0.6v0.6h-0.6zM403.5 60.9h0.6v0.6h-0.6zM407.8 58.4h0.6v0.6h-0.6zM405.7 63.0h0.6v0.6h-0.6zM399.9 62.7h0.6v0.6h-0.6zM403.7 64.3h0.6v0.6h-0.6zM402.4 63.6h0.6v0.6h-0.6zM398.2 58.7h0.6v0.6h-0.6zM406.7 66.1h0.6v0.6h-0.6zM404.0 60.4h0.6v0.6h-0.6zM407.8 55.2h0.6v0.6h-0.6zM401.2 64.9h0.6v0.6h-0.6zM406.3 58.9h0.6v0.6h-0.6zM397.4 67.6h0.6v0.6h-0.6zM404.5 59.4h0.6v0.6h-0.6zM404.2 65.7h0.6v0.6h-0.6zM394.9 66.4h0.6v0.6h-0.6zM406.6 55.2h0.6v0.6h-0.6zM406.7 56.3h0.6v0.6h-0.6zM408.0 63.9h0.6v0.6h-0.6zM411.9 60.4h0.6v0.6h-0.6zM404.0 66.2h0.6v0.6h-0.6zM401.8 60.0h0.6v0.6h-0.6zM402.7 62.2h0.6v0.6h-0.6zM400.2 64.2h0.6v0.6h-0.6zM405.9 62.8h0.6v0.6h-0.6zM410.0 61.4h0.6v0.6h-0.6zM408.6 60.6h0.6v0.6h-0.6zM406.6 55.7h0.6v0.6h-0.6zM404.7 61.9h0.6v0.6h-0.6zM402.3 60.4h0.6v0.6h-0.6zM402.8 60.0h0.6v0.6h-0.6zM396.3 60.4h0.6v0.6h-0.6zM402.1 60.7h0.6v0.6h-0.6zM400.3 62.0h0.6v0.6h-0.6zM406.7 61.6h0.6v0.6h-0.6zM402.3 67.3h0.6v0.6h-0.6zM407.4 65.7h0.6v0.6h-0.6zM408.0 61.4h0.6v0.6h-0.6zM403.5 66.4h0.6v0.6h-0.6zM402.1 62.1h0.6v0.6h-0.6zM405.3 63.8h0.6v0.6h-0.6zM403.0 65.9h0.6v0.6h-0.6zM403.4 65.0h0.6v0.6h-0.6zM407.7 64.8h0.6v0.6h-0.6zM406.6 58.4h0.6v0.6h-0.6zM399.4 60.3h0.6v0.6h-0.6zM405.7 67.8h0.6v0.6h-0.6zM399.7 63.6h0.6v0.6h-0.6zM401.0 59.9h0.6v0.6h-0.6zM403.0 64.9h0.6v0.6h-0.6zM404.7 66.6h0.6v0.6h-0.6zM400.6 65.6h0.6v0.6h-0.6zM407.3 62.7h0.6v0.6h-0.6zM405.7 60.5h0.6v0.6h-0.6zM400.2 61.1h0.6v0.6h-0.6zM401.8 72.6h0.6v0.6h-0.6zM402.3 68.3h0.6v0.6h-0.6zM404.7 63.6h0.6v0.6h-0.6zM406.6 59.8h0.6v0.6h-0.6zM407.2 63.8h0.6v0.6h-0.6zM398.7 64.6h0.6v0.6h-0.6zM405.9 64.1h0.6v0.6h-0.6zM409.5 61.0h0.6v0.6h-0.6zM405.8 65.1h0.6v0.6h-0.6zM400.8 66.7h0.6v0.6h-0.6zM398.9 57.9h0.6v0.6h-0.6zM405.8 58.7h0.6v0.6h-0.6zM403.6 56.7h0.6v0.6h-0.6zM404.2 58.5h0.6v0.6h-0.6zM405.2 57.1h0.6v0.6h-0.6zM405.6 61.6h0.6v0.6h-0.6zM404.2 62.3h0.6v0.6h-0.6zM404.5 57.9h0.6v0.6h-0.6zM395.0 62.6h0.6v0.6h-0.6zM400.7 60.9h0.6v0.6h-0.6zM405.5 55.6h0.6v0.6h-0.6zM401.3 60.4h0.6v0.6h-0.6zM400.3 63.6h0.6v0.6h-0.6zM403.5 59.6h0.6v0.6h-0.6zM400.6 65.3h0.6v0.6h-0.6zM401.7 64.5h0.6v0.6h-0.6zM405.6 55.9h0.6v0.6h-0.6zM400.2 62.5h0.6v0.6h-0.6zM405.2 65.2h0.6v0.6h-0.6zM406.8 66.1h0.6v0.6h-0.6zM402.7 61.8h0.6v0.6h-0.6zM406.7 61.0h0.6v0.6h-0.6zM407.7 56.9h0.6v0.6h-0.6zM406.3 61.9h0.6v0.6h-0.6zM397.1 65.9h0.6v0.6h-0.6zM405.1 62.6h0.6v0.6h-0.6zM400.2 60.9h0.6v0.6h-0.6zM409.3 59.6h0.6v0.6h-0.6zM391.8 59.5h0.6v0.6h-0.6zM399.8 62.0h0.6v0.6h-0.6zM402.6 59.3h0.6v0.6h-0.6zM401.1 66.2h0.6v0.6h-0.6zM399.0 69.3h0.6v0.6h-0.6zM402.1 58.7h0.6v0.6h-0.6zM406.8 64.5h0.6v0.6h-0.6zM400.4 65.1h0.6v0.6h-0.6zM397.6 59.3h0.6v0.6h-0.6zM407.9 61.6h0.6v0.6h-0.6zM399.4 64.3h0.6v0.6h-0.6zM407.2 62.4h0.6v0.6h-0.6zM397.7 61.3h0.6v0.6h-0.6zM405.5 65.2h0.6v0.6h-0.6zM410.5 61.6h0.6v0.6h-0.6zM402.3 62.4h0.6v0.6h-0.6zM408.2 59.2h0.6v0.6h-0.6zM408.6 52.9h0.6v0.6h-0.6zM406.8 60.1h0.6v0.6h-0.6zM405.6 64.9h0.6v0.6h-0.6zM399.9 62.2h0.6v0.6h-0.6zM404.8 64.6h0.6v0.6h-0.6zM400.7 59.0h0.6v0.6h-0.6zM397.3 71.4h0.6v0.6h-0.6zM403.3 61.7h0.6v0.6h-0.6zM398.8 65.8h0.6v0.6h-0.6zM402.1 67.5h0.6v0.6h-0.6zM407.0 62.6h0.6v0.6h-0.6zM406.5 58.6h0.6v0.6h-0.6zM402.9 60.5h0.6v0.6h-0.6zM399.6 62.6h0.6v0.6h-0.6zM403.5 67.5h0.6v0.6h-0.6zM392.3 60.1h0.6v0.6h-0.6zM400.8 60.9h0.6v0.6h-0.6zM405.5 63.9h0.6v0.6h-0.6zM404.1 60.8h0.6v0.6h-0.6zM405.7 63.8h0.6v0.6h-0.6zM397.6 61.6h0.6v0.6h-0.6zM399.2 58.4h0.6v0.6h-0.6zM404.5 62.7h0.6v0.6h-0.6zM404.4 59.4h0.6v0.6h-0.6zM403.3 59.3h0.6v0.6h-0.6zM405.3 64.9h0.6v0.6h-0.6zM410.1 66.9h0.6v0.6h-0.6zM401.2 60.9h0.6v0.6h-0.6zM400.7 63.6h0.6v0.6h-0.6zM410.9 65.0h0.6v0.6h-0.6zM396.3 58.1h0.6v0.6h-0.6zM399.5 64.3h0.6v0.6h-0.6zM404.0 63.5h0.6v0.6h-0.6zM410.2 59.6h0.6v0.6h-0.6zM401.0 69.4h0.6v0.6h-0.6zM405.2 59.8h0.6v0.6h-0.6zM396.9 57.2h0.6v0.6h-0.6zM395.4 62.7h0.6v0.6h-0.6zM404.2 66.0h0.6v0.6h-0.6zM403.5 60.1h0.6v0.6h-0.6zM401.4 69.2h0.6v0.6h-0.6zM397.8 63.1h0.6v0.6h-0.6zM404.1 64.7h0.6v0.6h-0.6zM402.6 64.2h0.6v0.6h-0.6zM406.9 62.0h0.6v0.6h-0.6zM402.4 61.8h0.6v0.6h-0.6zM400.6 61.8h0.6v0.6h-0.6zM402.9 63.2h0.6v0.6h-0.6zM408.7 67.1h0.6v0.6h-0.6zM402.4 64.6h0.6v0.6h-0.6zM405.0 65.2h0.6v0.6h-0.6zM404.1 63.4h0.6v0.6h-0.6zM402.4 59.8h0.6v0.6h-0.6zM407.1 67.0h0.6v0.6h-0.6zM406.3 64.0h0.6v0.6h-0.6zM404.9 60.9h0.6v0.6h-0.6zM397.8 64.8h0.6v0.6h-0.6zM404.7 60.6h0.6v0.6h-0.6zM400.6 67.0h0.6v0.6h-0.6zM397.7 68.7h0.6v0.6h-0.6zM406.2 70.8h0.6v0.6h-0.6zM401.5 62.4h0.6v0.6h-0.6zM402.2 63.0h0.6v0.6h-0.6zM403.3 59.9h0.6v0.6h-0.6zM407.8 59.8h0.6v0.6h-0.6zM402.2 64.4h0.6v0.6h-0.6zM402.1 61.0h0.6v0.6h-0.6zM405.2 61.2h0.6v0.6h-0.6zM399.6 62.1h0.6v0.6h-0.6zM403.2 68.5h0.6v0.6h-0.6zM400.2 65.9h0.6v0.6h-0.6zM401.2 61.3h0.6v0.6h-0.6zM402.9 63.4h0.6v0.6h-0.6zM407.0 68.6h0.6v0.6h-0.6zM401.8 67.2h0.6v0.6h-0.6zM407.5 65.3h0.6v0.6h-0.6zM401.3 65.7h0.6v0.6h-0.6zM403.6 63.7h0.6v0.6h-0.6zM403.1 64.8h0.6v0.6h-0.6zM407.9 66.5h0.6v0.6h-0.6zM403.3 66.0h0.6v0.6h-0.6zM409.1 59.2h0.6v0.6h-0.6zM409.2 57.8h0.6v0.6h-0.6zM405.9 64.6h0.6v0.6h-0.6zM409.2 63.5h0.6v0.6h-0.6zM402.3 59.7h0.6v0.6h-0.6zM399.6 65.2h0.6v0.6h-0.6zM403.2 60.0h0.6v0.6h-0.6zM405.9 59.8h0.6v0.6h-0.6zM402.5 60.9h0.6v0.6h-0.6zM409.8 67.6h0.6v0.6h-0.6zM403.4 57.0h0.6v0.6h-0.6zM405.0 62.8h0.6v0.6h-0.6zM405.2 64.5h0.6v0.6h-0.6zM402.9 65.7h0.6v0.6h-0.6zM406.9 63.2h0.6v0.6h-0.6zM402.6 60.8h0.6v0.6h-0.6zM406.4 58.7h0.6v0.6h-0.6zM403.4 59.9h0.6v0.6h-0.6zM399.1 64.6h0.6v0.6h-0.6zM403.9 62.6h0.6v0.6h-0.6zM407.1 57.3h0.6v0.6h-0.6zM403.8 63.5h0.6v0.6h-0.6zM406.9 58.7h0.6v0.6h-0.6zM406.5 63.3h0.6v0.6h-0.6zM408.7 66.5h0.6v0.6h-0.6zM405.9 70.0h0.6v0.6h-0.6zM404.0 61.0h0.6v0.6h-0.6zM402.8 59.2h0.6v0.6h-0.6zM403.9 55.9h0.6v0.6h-0.6zM403.7 64.0h0.6v0.6h-0.6zM407.5 61.3h0.6v0.6h-0.6zM408.9 60.2h0.6v0.6h-0.6zM403.5 55.9h0.6v0.6h-0.6zM401.3 59.7h0.6v0.6h-0.6zM409.1 64.3h0.6v0.6h-0.6zM400.2 64.3h0.6v0.6h-0.6zM405.6 61.7h0.6v0.6h-0.6zM404.1 61.5h0.6v0.6h-0.6zM402.1 56.4h0.6v0.6h-0.6zM403.7 66.9h0.6v0.6h-0.6zM408.9 61.5h0.6v0.6h-0.6zM401.4 61.8h0.6v0.6h-0.6zM407.1 63.7h0.6v0.6h-0.6zM402.0 63.7h0.6v0.6h-0.6zM403.3 64.3h0.6v0.6h-0.6zM402.6 57.5h0.6v0.6h-0.6zM404.2 65.1h0.6v0.6h-0.6zM400.2 62.1h0.6v0.6h-0.6zM407.0 61.2h0.6v0.6h-0.6zM401.8 69.4h0.6v0.6h-0.6zM406.8 66.0h0.6v0.6h-0.6zM400.8 68.1h0.6v0.6h-0.6zM398.4 60.7h0.6v0.6h-0.6zM406.5 67.0h0.6v0.6h-0.6zM400.8 60.2h0.6v0.6h-0.6zM404.7 55.9h0.6v0.6h-0.6zM406.2 64.4h0.6v0.6h-0.6zM402.5 64.3h0.6v0.6h-0.6zM406.6 63.6h0.6v0.6h-0.6zM405.8 67.6h0.6v0.6h-0.6zM402.4 63.0h0.6v0.6h-0.6zM402.2 66.0h0.6v0.6h-0.6zM402.6 64.1h0.6v0.6h-0.6zM404.5 62.7h0.6v0.6h-0.6zM409.8 62.2h0.6v0.6h-0.6zM408.8 65.3h0.6v0.6h-0.6zM408.5 61.9h0.6v0.6h-0.6zM407.1 65.1h0.6v0.6h-0.6zM401.9 63.4h0.6v0.6h-0.6zM403.6 62.4h0.6v0.6h-0.6zM408.4 60.1h0.6v0.6h-0.6zM398.3 56.6h0.6v0.6h-0.6zM402.5 60.3h0.6v0.6h-0.6zM404.0 64.4h0.6v0.6h-0.6zM409.9 63.5h0.6v0.6h-0.6zM405.6 60.0h0.6v0.6h-0.6zM406.0 67.1h0.6v0.6h-0.6zM408.5 55.9h0.6v0.6h-0.6zM407.0 67.8h0.6v0.6h-0.6zM406.8 57.5h0.6v0.6h-0.6zM403.0 64.5h0.6v0.6h-0.6zM405.4 59.8h0.6v0.6h-0.6zM401.0 65.8h0.6v0.6h-0.6zM399.5 67.3h0.6v0.6h-0.6zM404.1 63.5h0.6v0.6h-0.6zM399.5 60.5h0.6v0.6h-0.6zM406.3 57.5h0.6v0.6h-0.6zM411.0 57.8h0.6v0.6h-0.6zM399.9 62.6h0.6v0.6h-0.6zM405.6 65.0h0.6v0.6h-0.6zM402.8 61.8h0.6v0.6h-0.6zM403.2 60.6h0.6v0.6h-0.6zM395.3 65.7h0.6v0.6h-0.6zM404.8 63.0h0.6v0.6h-0.6zM401.9 63.3h0.6v0.6h-0.6zM404.0 62.2h0.6v0.6h-0.6zM407.7 56.7h0.6v0.6h-0.6zM404.8 58.9h0.6v0.6h-0.6zM402.9 67.5h0.6v0.6h-0.6zM400.4 62.2h0.6v0.6h-0.6zM402.0 65.7h0.6v0.6h-0.6zM400.7 56.8h0.6v0.6h-0.6zM405.7 61.3h0.6v0.6h-0.6zM402.9 66.1h0.6v0.6h-0.6zM401.0 61.2h0.6v0.6h-0.6zM404.5 63.9h0.6v0.6h-0.6zM402.3 66.0h0.6v0.6h-0.6zM411.5 61.1h0.6v0.6h-0.6zM410.3 55.4h0.6v0.6h-0.6zM408.7 61.3h0.6v0.6h-0.6zM404.5 61.4h0.6v0.6h-0.6zM401.9 58.2h0.6v0.6h-0.6zM402.7 66.9h0.6v0.6h-0.6zM407.8 61.3h0.6v0.6h-0.6zM402.2 60.1h0.6v0.6h-0.6zM400.0 68.6h0.6v0.6h-0.6zM406.2 62.9h0.6v0.6h-0.6zM402.3 59.1h0.6v0.6h-0.6zM408.4 65.1h0.6v0.6h-0.6zM400.8 65.8h0.6v0.6h-0.6zM400.3 64.7h0.6v0.6h-0.6zM400.8 61.1h0.6v0.6h-0.6zM405.7 64.0h0.6v0.6h-0.6zM407.4 59.7h0.6v0.6h-0.6zM409.3 67.0h0.6v0.6h-0.6zM404.0 64.1h0.6v0.6h-0.6zM401.4 62.0h0.6v0.6h-0.6zM399.6 62.8h0.6v0.6h-0.6zM404.7 67.0h0.6v0.6h-0.6zM407.2 65.2h0.6v0.6h-0.6zM402.8 61.7h0.6v0.6h-0.6zM402.9 63.2h0.6v0.6h-0.6zM397.5 65.1h0.6v0.6h-0.6zM398.7 60.8h0.6v0.6h-0.6zM404.1 60.8h0.6v0.6h-0.6zM409.6 62.2h0.6v0.6h-0.6zM409.3 66.4h0.6v0.6h-0.6zM402.3 63.8h0.6v0.6h-0.6zM408.4 61.4h0.6v0.6h-0.6zM404.3 60.6h0.6v0.6h-0.6zM404.2 61.3h0.6v0.6h-0.6zM404.3 65.9h0.6v0.6h-0.6zM408.7 62.9h0.6v0.6h-0.6zM404.7 65.4h0.6v0.6h-0.6zM403.0 58.9h0.6v0.6h-0.6zM407.7 59.4h0.6v0.6h-0.6zM407.1 59.3h0.6v0.6h-0.6zM410.2 59.0h0.6v0.6h-0.6zM406.9 67.5h0.6v0.6h-0.6zM400.8 67.5h0.6v0.6h-0.6zM401.2 56.6h0.6v0.6h-0.6zM406.4 64.9h0.6v0.6h-0.6zM403.3 54.0h0.6v0.6h-0.6zM403.8 61.5h0.6v0.6h-0.6zM402.7 61.5h0.6v0.6h-0.6zM398.0 60.6h0.6v0.6h-0.6zM410.0 67.7h0.6v0.6h-0.6zM402.8 60.1h0.6v0.6h-0.6zM405.3 66.1h0.6v0.6h-0.6zM406.4 58.6h0.6v0.6h-0.6zM404.5 63.0h0.6v0.6h-0.6zM408.8 66.5h0.6v0.6h-0.6zM405.8 66.6h0.6v0.6h-0.6zM402.7 67.7h0.6v0.6h-0.6zM402.6 63.8h0.6v0.6h-0.6zM407.1 59.4h0.6v0.6h-0.6zM401.6 56.6h0.6v0.6h-0.6zM404.6 62.3h0.6v0.6h-0.6zM402.9 64.2h0.6v0.6h-0.6zM396.9 62.4h0.6v0.6h-0.6zM404.3 61.6h0.6v0.6h-0.6zM406.7 68.4h0.6v0.6h-0.6zM402.5 59.3h0.6v0.6h-0.6zM402.0 62.8h0.6v0.6h-0.6zM406.0 59.6h0.6v0.6h-0.6zM407.4 59.1h0.6v0.6h-0.6zM406.8 63.9h0.6v0.6h-0.6zM405.6 69.7h0.6v0.6h-0.6zM403.1 61.9h0.6v0.6h-0.6zM405.6 65.4h0.6v0.6h-0.6zM399.5 63.4h0.6v0.6h-0.6zM401.5 64.6h0.6v0.6h-0.6zM408.6 62.7h0.6v0.6h-0.6zM403.6 63.1h0.6v0.6h-0.6zM394.1 65.1h0.6v0.6h-0.6zM405.9 63.1h0.6v0.6h-0.6zM402.7 60.0h0.6v0.6h-0.6zM403.4 66.6h0.6v0.6h-0.6zM403.7 67.0h0.6v0.6h-0.6zM395.4 61.0h0.6v0.6h-0.6zM404.9 62.5h0.6v0.6h-0.6zM398.4 60.3h0.6v0.6h-0.6zM408.2 58.2h0.6v0.6h-0.6zM400.7 58.8h0.6v0.6h-0.6zM402.1 64.7h0.6v0.6h-0.6zM406.0 55.7h0.6v0.6h-0.6zM408.9 60.5h0.6v0.6h-0.6zM402.0 68.1h0.6v0.6h-0.6zM403.7 58.3h0.6v0.6h-0.6zM401.9 60.1h0.6v0.6h-0.6zM400.6 61.4h0.6v0.6h-0.6zM406.9 63.7h0.6v0.6h-0.6zM399.4 71.9h0.6v0.6h-0.6zM400.7 62.9h0.6v0.6h-0.6zM404.1 65.1h0.6v0.6h-0.6zM402.9 64.0h0.6v0.6h-0.6zM411.1 62.8h0.6v0.6h-0.6zM400.4 63.6h0.6v0.6h-0.6zM401.3 61.3h0.6v0.6h-0.6zM404.6 63.6h0.6v0.6h-0.6zM403.0 65.4h0.6v0.6h-0.6zM403.4 58.1h0.6v0.6h-0.6zM406.9 61.3h0.6v0.6h-0.6zM408.1 60.3h0.6v0.6h-0.6zM405.9 63.6h0.6v0.6h-0.6zM394.9 57.5h0.6v0.6h-0.6zM400.2 67.2h0.6v0.6h-0.6zM397.7 65.6h0.6v0.6h-0.6zM407.7 64.2h0.6v0.6h-0.6zM406.3 60.8h0.6v0.6h-0.6zM404.0 63.3h0.6v0.6h-0.6zM405.4 64.9h0.6v0.6h-0.6zM403.3 60.1h0.6v0.6h-0.6zM402.1 63.9h0.6v0.6h-0.6zM398.4 58.3h0.6v0.6h-0.6zM402.6 60.6h0.6v0.6h-0.6zM403.1 53.6h0.6v0.6h-0.6zM402.9 61.7h0.6v0.6h-0.6zM406.6 55.8h0.6v0.6h-0.6zM403.0 64.1h0.6v0.6h-0.6zM405.6 66.5h0.6v0.6h-0.6zM407.5 59.0h0.6v0.6h-0.6zM406.1 61.4h0.6v0.6h-0.6zM401.3 67.7h0.6v0.6h-0.6zM401.9 59.6h0.6v0.6h-0.6zM402.6 59.6h0.6v0.6h-0.6zM407.4 63.8h0.6v0.6h-0.6zM408.7 63.9h0.6v0.6h-0.6zM401.9 66.0h0.6v0.6h-0.6zM401.8 60.9h0.6v0.6h-0.6zM403.4 62.6h0.6v0.6h-0.6zM408.0 60.5h0.6v0.6h-0.6zM405.2 62.4h0.6v0.6h-0.6zM399.8 58.8h0.6v0.6h-0.6zM403.3 63.9h0.6v0.6h-0.6zM405.1 64.1h0.6v0.6h-0.6zM404.2 61.0h0.6v0.6h-0.6zM405.4 59.1h0.6v0.6h-0.6zM399.5 61.4h0.6v0.6h-0.6zM399.2 60.8h0.6v0.6h-0.6zM401.5 60.6h0.6v0.6h-0.6zM403.8 59.8h0.6v0.6h-0.6zM402.6 56.7h0.6v0.6h-0.6zM404.5 59.5h0.6v0.6h-0.6zM405.4 53.0h0.6v0.6h-0.6zM401.3 63.3h0.6v0.6h-0.6zM395.8 61.3h0.6v0.6h-0.6zM404.3 62.8h0.6v0.6h-0.6zM399.0 63.3h0.6v0.6h-0.6zM404.5 59.2h0.6v0.6h-0.6zM406.5 62.3h0.6v0.6h-0.6zM404.1 61.0h0.6v0.6h-0.6zM405.8 62.8h0.6v0.6h-0.6zM407.8 64.0h0.6v0.6h-0.6zM401.9 61.7h0.6v0.6h-0.6zM407.1 61.3h0.6v0.6h-0.6zM405.3 64.3h0.6v0.6h-0.6zM403.4 54.6h0.6v0.6h-0.6zM404.4 63.2h0.6v0.6h-0.6zM404.5 59.9h0.6v0.6h-0.6zM408.1 62.0h0.6v0.6h-0.6zM401.9 60.1h0.6v0.6h-0.6zM405.2 58.8h0.6v0.6h-0.6zM400.6 69.3h0.6v0.6h-0.6zM408.4 66.1h0.6v0.6h-0.6zM408.6 64.5h0.6v0.6h-0.6zM398.3 66.5h0.6v0.6h-0.6zM408.2 64.2h0.6v0.6h-0.6zM397.4 66.7h0.6v0.6h-0.6zM408.6 60.8h0.6v0.6h-0.6zM404.4 65.1h0.6v0.6h-0.6zM403.7 66.2h0.6v0.6h-0.6zM404.3 64.8h0.6v0.6h-0.6zM404.3 57.5h0.6v0.6h-0.6zM400.6 73.2h0.6v0.6h-0.6zM404.9 66.9h0.6v0.6h-0.6zM407.9 68.3h0.6v0.6h-0.6zM405.9 60.5h0.6v0.6h-0.6zM404.1 56.0h0.6v0.6h-0.6zM403.4 65.6h0.6v0.6h-0.6zM396.7 63.2h0.6v0.6h-0.6zM406.8 67.0h0.6v0.6h-0.6zM400.9 60.3h0.6v0.6h-0.6zM397.6 59.0h0.6v0.6h-0.6zM405.8 69.5h0.6v0.6h-0.6zM400.1 67.2h0.6v0.6h-0.6zM405.5 60.8h0.6v0.6h-0.6zM411.5 53.9h0.6v0.6h-0.6zM403.8 63.2h0.6v0.6h-0.6zM411.2 68.6h0.6v0.6h-0.6zM411.7 63.0h0.6v0.6h-0.6zM407.3 67.1h0.6v0.6h-0.6zM405.7 63.7h0.6v0.6h-0.6zM403.4 61.1h0.6v0.6h-0.6zM399.8 69.1h0.6v0.6h-0.6zM402.5 55.4h0.6v0.6h-0.6zM404.9 62.4h0.6v0.6h-0.6zM404.6 68.7h0.6v0.6h-0.6zM403.6 61.6h0.6v0.6h-0.6zM401.5 62.4h0.6v0.6h-0.6zM402.5 63.2h0.6v0.6h-0.6zM414.6 63.8h0.6v0.6h-0.6zM401.1 69.1h0.6v0.6h-0.6zM406.9 65.3h0.6v0.6h-0.6zM406.4 65.3h0.6v0.6h-0.6zM406.3 67.3h0.6v0.6h-0.6zM407.4 67.1h0.6v0.6h-0.6zM402.3 62.5h0.6v0.6h-0.6zM401.5 65.8h0.6v0.6h-0.6zM406.8 60.9h0.6v0.6h-0.6zM406.0 71.4h0.6v0.6h-0.6zM408.2 58.7h0.6v0.6h-0.6zM403.7 64.7h0.6v0.6h-0.6zM403.9 63.8h0.6v0.6h-0.6zM408.0 63.6h0.6v0.6h-0.6zM400.3 64.9h0.6v0.6h-0.6zM403.7 62.9h0.6v0.6h-0.6zM402.1 57.8h0.6v0.6h-0.6zM399.8 61.3h0.6v0.6h-0.6zM400.4 53.2h0.6v0.6h-0.6zM407.9 58.5h0.6v0.6h-0.6zM401.5 64.3h0.6v0.6h-0.6zM395.8 67.1h0.6v0.6h-0.6zM401.4 64.7h0.6v0.6h-0.6zM402.4 63.5h0.6v0.6h-0.6zM404.4 62.5h0.6v0.6h-0.6zM397.8 57.5h0.6v0.6h-0.6zM403.9 67.3h0.6v0.6h-0.6zM402.1 64.3h0.6v0.6h-0.6zM404.6 64.1h0.6v0.6h-0.6zM407.4 57.4h0.6v0.6h-0.6zM404.9 61.9h0.6v0.6h-0.6zM402.9 59.6h0.6v0.6h-0.6zM401.3 59.0h0.6v0.6h-0.6zM400.3 71.1h0.6v0.6h-0.6zM409.8 62.5h0.6v0.6h-0.6zM406.5 59.2h0.6v0.6h-0.6zM394.5 56.3h0.6v0.6h-0.6zM404.5 67.4h0.6v0.6h-0.6zM403.9 59.1h0.6v0.6h-0.6zM403.2 59.1h0.6v0.6h-0.6zM399.2 61.7h0.6v0.6h-0.6zM402.6 59.7h0.6v0.6h-0.6zM401.0 59.3h0.6v0.6h-0.6zM404.8 67.3h0.6v0.6h-0.6zM403.3 70.1h0.6v0.6h-0.6zM398.5 63.4h0.6v0.6h-0.6zM400.1 62.0h0.6v0.6h-0.6zM404.3 64.4h0.6v0.6h-0.6zM407.9 60.6h0.6v0.6h-0.6zM399.8 61.9h0.6v0.6h-0.6zM405.0 60.1h0.6v0.6h-0.6zM407.0 68.2h0.6v0.6h-0.6zM399.1 63.7h0.6v0.6h-0.6zM407.5 55.9h0.6v0.6h-0.6zM404.7 61.7h0.6v0.6h-0.6zM399.1 67.0h0.6v0.6h-0.6zM404.7 60.9h0.6v0.6h-0.6zM405.5 64.7h0.6v0.6h-0.6zM406.6 64.5h0.6v0.6h-0.6zM405.4 58.5h0.6v0.6h-0.6zM402.6 62.9h0.6v0.6h-0.6zM394.6 69.8h0.6v0.6h-0.6zM402.7 58.9h0.6v0.6h-0.6zM397.8 63.3h0.6v0.6h-0.6zM404.1 60.5h0.6v0.6h-0.6zM402.6 59.5h0.6v0.6h-0.6zM401.4 62.2h0.6v0.6h-0.6zM401.8 64.8h0.6v0.6h-0.6zM403.5 63.0h0.6v0.6h-0.6zM405.4 66.8h0.6v0.6h-0.6zM406.1 63.3h0.6v0.6h-0.6zM403.4 59.8h0.6v0.6h-0.6zM402.8 64.8h0.6v0.6h-0.6zM404.8 61.2h0.6v0.6h-0.6zM399.5 57.3h0.6v0.6h-0.6zM405.1 66.0h0.6v0.6h-0.6zM405.3 57.8h0.6v0.6h-0.6zM404.9 48.4h0.6v0.6h-0.6zM401.7 48.7h0.6v0.6h-0.6zM406.0 41.2h0.6v0.6h-0.6zM399.8 51.7h0.6v0.6h-0.6zM408.5 41.2h0.6v0.6h-0.6zM400.7 52.3h0.6v0.6h-0.6zM408.9 45.3h0.6v0.6h-0.6zM413.2 46.1h0.6v0.6h-0.6zM400.3 53.7h0.6v0.6h-0.6zM404.8 49.2h0.6v0.6h-0.6zM407.2 40.3h0.6v0.6h-0.6zM401.1 44.9h0.6v0.6h-0.6zM413.1 41.2h0.6v0.6h-0.6zM411.7 49.4h0.6v0.6h-0.6zM400.9 48.1h0.6v0.6h-0.6zM409.4 41.3h0.6v0.6h-0.6zM396.4 48.0h0.6v0.6h-0.6zM400.7 49.2h0.6v0.6h-0.6zM397.9 44.8h0.6v0.6h-0.6zM404.0 36.5h0.6v0.6h-0.6zM404.8 48.0h0.6v0.6h-0.6zM404.8 38.7h0.6v0.6h-0.6zM408.7 35.4h0.6v0.6h-0.6zM407.8 50.7h0.6v0.6h-0.6zM412.4 54.0h0.6v0.6h-0.6zM407.3 49.0h0.6v0.6h-0.6zM407.5 38.1h0.6v0.6h-0.6zM411.8 51.5h0.6v0.6h-0.6zM405.9 39.1h0.6v0.6h-0.6zM411.9 51.5h0.6v0.6h-0.6zM400.2 50.7h0.6v0.6h-0.6zM414.2 48.1h0.6v0.6h-0.6zM408.2 44.5h0.6v0.6h-0.6zM402.2 53.8h0.6v0.6h-0.6zM419.2 49.8h0.6v0.6h-0.6zM404.7 52.3h0.6v0.6h-0.6zM403.9 51.7h0.6v0.6h-0.6zM410.6 40.7h0.6v0.6h-0.6zM401.4 45.8h0.6v0.6h-0.6zM409.3 49.4h0.6v0.6h-0.6zM412.8 38.6h0.6v0.6h-0.6zM408.8 43.1h0.6v0.6h-0.6zM406.1 49.2h0.6v0.6h-0.6zM402.0 44.8h0.6v0.6h-0.6zM400.7 48.0h0.6v0.6h-0.6zM402.8 43.1h0.6v0.6h-0.6zM407.6 42.8h0.6v0.6h-0.6zM411.6 43.5h0.6v0.6h-0.6zM409.4 49.5h0.6v0.6h-0.6zM401.8 44.9h0.6v0.6h-0.6zM402.8 44.0h0.6v0.6h-0.6zM403.0 59.0h0.6v0.6h-0.6zM402.6 57.3h0.6v0.6h-0.6zM409.3 38.5h0.6v0.6h-0.6zM395.3 50.0h0.6v0.6h-0.6zM396.7 50.5h0.6v0.6h-0.6zM410.0 50.3h0.6v0.6h-0.6zM405.4 45.2h0.6v0.6h-0.6zM407.4 45.1h0.6v0.6h-0.6zM404.1 44.2h0.6v0.6h-0.6zM411.7 43.6h0.6v0.6h-0.6zM408.8 39.5h0.6v0.6h-0.6zM404.3 37.3h0.6v0.6h-0.6zM404.5 51.4h0.6v0.6h-0.6zM407.8 43.9h0.6v0.6h-0.6zM409.0 45.1h0.6v0.6h-0.6zM407.3 49.1h0.6v0.6h-0.6zM410.8 30.8h0.6v0.6h-0.6zM399.6 51.3h0.6v0.6h-0.6zM403.3 62.0h0.6v0.6h-0.6zM405.5 43.2h0.6v0.6h-0.6zM411.9 51.7h0.6v0.6h-0.6zM413.7 51.6h0.6v0.6h-0.6zM404.4 51.7h0.6v0.6h-0.6zM403.1 43.5h0.6v0.6h-0.6zM403.8 45.2h0.6v0.6h-0.6zM409.8 44.3h0.6v0.6h-0.6zM407.9 43.9h0.6v0.6h-0.6zM404.9 48.0h0.6v0.6h-0.6zM400.3 53.1h0.6v0.6h-0.6zM405.6 55.7h0.6v0.6h-0.6zM409.5 51.9h0.6v0.6h-0.6zM406.5 39.6h0.6v0.6h-0.6zM405.5 43.8h0.6v0.6h-0.6zM407.5 44.1h0.6v0.6h-0.6zM420.8 38.3h0.6v0.6h-0.6zM411.5 44.6h0.6v0.6h-0.6zM404.0 53.0h0.6v0.6h-0.6zM407.2 38.9h0.6v0.6h-0.6zM408.0 46.0h0.6v0.6h-0.6zM397.0 47.0h0.6v0.6h-0.6zM402.2 41.3h0.6v0.6h-0.6zM407.8 49.3h0.6v0.6h-0.6zM402.6 61.3h0.6v0.6h-0.6zM408.4 43.2h0.6v0.6h-0.6zM407.1 46.3h0.6v0.6h-0.6zM398.1 35.0h0.6v0.6h-0.6zM397.9 59.9h0.6v0.6h-0.6zM405.5 45.0h0.6v0.6h-0.6zM402.6 53.2h0.6v0.6h-0.6zM404.4 58.4h0.6v0.6h-0.6zM407.7 58.5h0.6v0.6h-0.6zM405.1 49.4h0.6v0.6h-0.6zM404.3 45.6h0.6v0.6h-0.6zM399.2 42.0h0.6v0.6h-0.6zM402.6 42.0h0.6v0.6h-0.6zM411.0 49.5h0.6v0.6h-0.6zM410.4 53.5h0.6v0.6h-0.6zM408.9 54.3h0.6v0.6h-0.6zM402.6 52.0h0.6v0.6h-0.6zM405.2 43.3h0.6v0.6h-0.6zM408.9 62.2h0.6v0.6h-0.6zM400.1 58.0h0.6v0.6h-0.6zM410.4 41.9h0.6v0.6h-0.6zM406.8 49.7h0.6v0.6h-0.6zM408.0 44.9h0.6v0.6h-0.6zM400.5 46.4h0.6v0.6h-0.6zM408.9 52.8h0.6v0.6h-0.6zM407.7 54.8h0.6v0.6h-0.6zM401.8 46.1h0.6v0.6h-0.6zM406.5 53.9h0.6v0.6h-0.6zM406.1 50.6h0.6v0.6h-0.6zM404.5 61.1h0.6v0.6h-0.6zM396.7 45.4h0.6v0.6h-0.6zM416.4 50.2h0.6v0.6h-0.6zM398.0 46.7h0.6v0.6h-0.6zM400.5 41.5h0.6v0.6h-0.6zM405.2 58.6h0.6v0.6h-0.6zM407.3 51.8h0.6v0.6h-0.6zM410.2 49.0h0.6v0.6h-0.6zM402.4 45.8h0.6v0.6h-0.6zM407.7 45.4h0.6v0.6h-0.6zM403.5 44.2h0.6v0.6h-0.6zM400.6 39.2h0.6v0.6h-0.6zM406.0 44.5h0.6v0.6h-0.6zM404.7 56.4h0.6v0.6h-0.6zM407.3 47.0h0.6v0.6h-0.6zM402.1 39.1h0.6v0.6h-0.6zM408.5 41.4h0.6v0.6h-0.6zM408.9 40.1h0.6v0.6h-0.6zM406.6 46.6h0.6v0.6h-0.6zM410.7 45.0h0.6v0.6h-0.6zM404.2 48.4h0.6v0.6h-0.6zM404.5 58.3h0.6v0.6h-0.6zM405.4 43.3h0.6v0.6h-0.6zM404.2 50.0h0.6v0.6h-0.6zM406.3 51.8h0.6v0.6h-0.6zM397.6 62.6h0.6v0.6h-0.6zM413.9 48.0h0.6v0.6h-0.6zM400.7 47.2h0.6v0.6h-0.6zM410.0 32.4h0.6v0.6h-0.6zM407.5 37.2h0.6v0.6h-0.6zM406.6 56.5h0.6v0.6h-0.6zM411.9 37.6h0.6v0.6h-0.6zM411.0 53.9h0.6v0.6h-0.6zM403.9 50.1h0.6v0.6h-0.6zM412.8 45.8h0.6v0.6h-0.6zM406.5 43.3h0.6v0.6h-0.6zM413.1 33.4h0.6v0.6h-0.6zM413.1 41.5h0.6v0.6h-0.6zM411.6 36.8h0.6v0.6h-0.6zM402.6 42.4h0.6v0.6h-0.6zM411.2 36.7h0.6v0.6h-0.6zM409.2 43.2h0.6v0.6h-0.6zM411.6 45.7h0.6v0.6h-0.6zM408.3 46.2h0.6v0.6h-0.6zM414.0 45.8h0.6v0.6h-0.6zM403.9 60.2h0.6v0.6h-0.6zM405.6 51.6h0.6v0.6h-0.6zM402.6 47.9h0.6v0.6h-0.6zM396.2 46.2h0.6v0.6h-0.6zM404.7 36.6h0.6v0.6h-0.6zM398.8 53.7h0.6v0.6h-0.6zM409.4 37.2h0.6v0.6h-0.6zM414.5 43.5h0.6v0.6h-0.6zM404.2 48.4h0.6v0.6h-0.6zM402.8 35.5h0.6v0.6h-0.6zM401.6 54.4h0.6v0.6h-0.6zM411.7 37.1h0.6v0.6h-0.6zM411.1 48.0h0.6v0.6h-0.6zM408.1 47.7h0.6v0.6h-0.6zM408.8 40.6h0.6v0.6h-0.6zM402.8 41.7h0.6v0.6h-0.6zM403.8 50.9h0.6v0.6h-0.6zM399.2 56.8h0.6v0.6h-0.6zM403.9 42.7h0.6v0.6h-0.6zM408.6 50.3h0.6v0.6h-0.6zM405.6 39.7h0.6v0.6h-0.6zM403.3 35.7h0.6v0.6h-0.6zM409.8 55.0h0.6v0.6h-0.6zM413.5 51.5h0.6v0.6h-0.6zM406.7 52.3h0.6v0.6h-0.6zM410.3 45.9h0.6v0.6h-0.6zM405.3 61.6h0.6v0.6h-0.6zM400.2 36.5h0.6v0.6h-0.6zM401.1 51.4h0.6v0.6h-0.6zM411.4 45.5h0.6v0.6h-0.6zM408.9 47.1h0.6v0.6h-0.6zM407.8 43.6h0.6v0.6h-0.6zM405.9 47.0h0.6v0.6h-0.6zM408.6 62.6h0.6v0.6h-0.6zM397.7 49.4h0.6v0.6h-0.6zM405.0 53.4h0.6v0.6h-0.6zM409.8 52.9h0.6v0.6h-0.6zM410.4 41.2h0.6v0.6h-0.6zM397.0 57.0h0.6v0.6h-0.6zM412.1 41.4h0.6v0.6h-0.6zM410.9 52.3h0.6v0.6h-0.6zM394.6 51.4h0.6v0.6h-0.6zM400.6 54.1h0.6v0.6h-0.6zM403.8 41.6h0.6v0.6h-0.6zM399.6 44.6h0.6v0.6h-0.6zM411.0 43.2h0.6v0.6h-0.6zM395.9 60.1h0.6v0.6h-0.6zM413.2 52.8h0.6v0.6h-0.6zM404.9 38.6h0.6v0.6h-0.6zM398.4 49.7h0.6v0.6h-0.6zM412.6 40.8h0.6v0.6h-0.6zM406.3 45.1h0.6v0.6h-0.6zM404.4 50.2h0.6v0.6h-0.6zM415.6 44.1h0.6v0.6h-0.6zM408.5 54.8h0.6v0.6h-0.6zM404.9 45.8h0.6v0.6h-0.6zM399.2 53.3h0.6v0.6h-0.6zM404.4 42.3h0.6v0.6h-0.6zM407.2 41.3h0.6v0.6h-0.6zM401.8 44.3h0.6v0.6h-0.6zM412.6 46.6h0.6v0.6h-0.6zM409.7 37.6h0.6v0.6h-0.6zM395.8 57.9h0.6v0.6h-0.6zM405.8 36.5h0.6v0.6h-0.6zM404.9 51.0h0.6v0.6h-0.6zM399.5 40.0h0.6v0.6h-0.6zM408.0 41.0h0.6v0.6h-0.6zM408.4 53.9h0.6v0.6h-0.6zM408.3 44.4h0.6v0.6h-0.6zM406.4 42.7h0.6v0.6h-0.6zM405.1 49.0h0.6v0.6h-0.6zM403.7 53.3h0.6v0.6h-0.6zM417.7 45.0h0.6v0.6h-0.6zM406.6 52.7h0.6v0.6h-0.6zM409.0 45.8h0.6v0.6h-0.6zM402.9 53.4h0.6v0.6h-0.6zM408.2 50.8h0.6v0.6h-0.6zM401.9 50.7h0.6v0.6h-0.6zM409.6 46.3h0.6v0.6h-0.6zM406.6 61.9h0.6v0.6h-0.6zM397.3 49.8h0.6v0.6h-0.6zM402.3 37.1h0.6v0.6h-0.6zM404.4 50.5h0.6v0.6h-0.6zM407.4 39.2h0.6v0.6h-0.6zM400.4 42.3h0.6v0.6h-0.6zM406.9 41.5h0.6v0.6h-0.6zM397.8 57.8h0.6v0.6h-0.6zM402.6 45.4h0.6v0.6h-0.6zM404.2 42.7h0.6v0.6h-0.6zM406.5 45.0h0.6v0.6h-0.6zM409.9 39.5h0.6v0.6h-0.6zM397.6 59.1h0.6v0.6h-0.6zM404.9 52.1h0.6v0.6h-0.6zM410.5 51.5h0.6v0.6h-0.6zM407.7 36.6h0.6v0.6h-0.6zM398.1 52.5h0.6v0.6h-0.6zM408.3 51.3h0.6v0.6h-0.6zM401.0 31.6h0.6v0.6h-0.6zM402.6 38.4h0.6v0.6h-0.6zM407.7 40.3h0.6v0.6h-0.6zM413.5 43.9h0.6v0.6h-0.6zM402.7 52.4h0.6v0.6h-0.6zM408.3 41.2h0.6v0.6h-0.6zM407.6 60.4h0.6v0.6h-0.6zM401.0 44.5h0.6v0.6h-0.6zM403.3 33.3h0.6v0.6h-0.6zM408.0 52.1h0.6v0.6h-0.6zM409.8 50.5h0.6v0.6h-0.6zM397.3 45.5h0.6v0.6h-0.6zM404.3 38.7h0.6v0.6h-0.6zM400.4 51.4h0.6v0.6h-0.6zM402.7 60.0h0.6v0.6h-0.6zM410.0 34.5h0.6v0.6h-0.6zM408.6 56.0h0.6v0.6h-0.6zM407.4 38.9h0.6v0.6h-0.6zM415.0 39.3h0.6v0.6h-0.6zM407.6 34.1h0.6v0.6h-0.6zM402.3 34.7h0.6v0.6h-0.6zM409.5 55.6h0.6v0.6h-0.6zM405.6 37.6h0.6v0.6h-0.6zM405.4 49.5h0.6v0.6h-0.6zM400.6 38.2h0.6v0.6h-0.6zM404.8 51.7h0.6v0.6h-0.6zM405.9 50.1h0.6v0.6h-0.6zM408.3 41.0h0.6v0.6h-0.6zM405.8 44.4h0.6v0.6h-0.6zM408.9 42.1h0.6v0.6h-0.6zM412.2 48.2h0.6v0.6h-0.6zM407.7 51.6h0.6v0.6h-0.6zM410.1 50.4h0.6v0.6h-0.6zM399.0 41.6h0.6v0.6h-0.6zM413.6 51.4h0.6v0.6h-0.6zM408.0 50.5h0.6v0.6h-0.6zM403.9 42.0h0.6v0.6h-0.6zM402.0 54.4h0.6v0.6h-0.6zM405.8 59.3h0.6v0.6h-0.6zM406.2 60.1h0.6v0.6h-0.6zM409.2 39.3h0.6v0.6h-0.6zM413.2 50.4h0.6v0.6h-0.6zM411.0 49.2h0.6v0.6h-0.6zM404.4 47.9h0.6v0.6h-0.6zM402.3 38.2h0.6v0.6h-0.6zM402.7 42.9h0.6v0.6h-0.6zM400.2 45.4h0.6v0.6h-0.6zM405.2 61.0h0.6v0.6h-0.6zM414.1 47.9h0.6v0.6h-0.6zM410.1 46.1h0.6v0.6h-0.6zM407.7 47.0h0.6v0.6h-0.6zM403.6 47.2h0.6v0.6h-0.6zM399.1 49.0h0.6v0.6h-0.6zM405.8 39.4h0.6v0.6h-0.6zM403.9 50.5h0.6v0.6h-0.6zM402.5 49.8h0.6v0.6h-0.6zM406.9 58.0h0.6v0.6h-0.6zM401.4 45.5h0.6v0.6h-0.6zM406.7 57.6h0.6v0.6h-0.6zM406.4 52.3h0.6v0.6h-0.6zM400.2 42.1h0.6v0.6h-0.6zM413.6 46.2h0.6v0.6h-0.6zM416.2 43.5h0.6v0.6h-0.6zM406.4 35.9h0.6v0.6h-0.6zM408.5 49.2h0.6v0.6h-0.6zM414.7 49.5h0.6v0.6h-0.6zM406.4 37.2h0.6v0.6h-0.6zM404.7 53.4h0.6v0.6h-0.6zM408.0 55.9h0.6v0.6h-0.6zM409.8 47.3h0.6v0.6h-0.6zM408.5 48.6h0.6v0.6h-0.6zM398.4 57.8h0.6v0.6h-0.6zM408.7 40.1h0.6v0.6h-0.6zM407.4 49.2h0.6v0.6h-0.6zM408.9 57.5h0.6v0.6h-0.6zM392.1 48.8h0.6v0.6h-0.6zM413.7 41.5h0.6v0.6h-0.6zM397.5 47.7h0.6v0.6h-0.6zM407.1 49.6h0.6v0.6h-0.6zM401.6 43.1h0.6v0.6h-0.6zM406.1 52.2h0.6v0.6h-0.6zM415.3 50.5h0.6v0.6h-0.6zM410.9 46.8h0.6v0.6h-0.6zM406.5 40.2h0.6v0.6h-0.6zM411.1 35.2h0.6v0.6h-0.6zM406.4 47.9h0.6v0.6h-0.6zM406.0 56.2h0.6v0.6h-0.6zM405.5 47.6h0.6v0.6h-0.6zM411.4 36.9h0.6v0.6h-0.6zM404.6 47.3h0.6v0.6h-0.6zM411.0 42.1h0.6v0.6h-0.6zM409.1 50.2h0.6v0.6h-0.6zM401.0 35.8h0.6v0.6h-0.6zM399.5 47.0h0.6v0.6h-0.6zM406.2 52.1h0.6v0.6h-0.6zM410.2 43.8h0.6v0.6h-0.6zM409.9 53.3h0.6v0.6h-0.6zM407.6 50.6h0.6v0.6h-0.6zM399.9 48.6h0.6v0.6h-0.6zM402.7 38.1h0.6v0.6h-0.6zM404.3 47.7h0.6v0.6h-0.6zM406.1 44.7h0.6v0.6h-0.6zM401.4 47.6h0.6v0.6h-0.6zM404.2 36.8h0.6v0.6h-0.6zM404.9 57.1h0.6v0.6h-0.6zM405.3 39.4h0.6v0.6h-0.6zM410.3 59.7h0.6v0.6h-0.6zM404.9 45.4h0.6v0.6h-0.6zM403.9 67.5h0.6v0.6h-0.6zM405.6 53.9h0.6v0.6h-0.6zM409.9 34.8h0.6v0.6h-0.6zM402.4 37.8h0.6v0.6h-0.6zM407.8 48.0h0.6v0.6h-0.6zM414.2 46.3h0.6v0.6h-0.6zM407.3 47.7h0.6v0.6h-0.6zM404.2 63.1h0.6v0.6h-0.6zM405.7 57.3h0.6v0.6h-0.6zM412.4 43.7h0.6v0.6h-0.6zM409.4 44.8h0.6v0.6h-0.6zM406.3 48.2h0.6v0.6h-0.6zM406.6 43.8h0.6v0.6h-0.6zM413.2 46.2h0.6v0.6h-0.6zM407.4 59.1h0.6v0.6h-0.6zM407.7 54.5h0.6v0.6h-0.6zM411.0 55.4h0.6v0.6h-0.6zM415.1 38.3h0.6v0.6h-0.6zM414.7 48.5h0.6v0.6h-0.6zM398.9 41.4h0.6v0.6h-0.6zM399.8 45.9h0.6v0.6h-0.6zM400.4 39.1h0.6v0.6h-0.6zM407.1 48.3h0.6v0.6h-0.6zM402.7 44.8h0.6v0.6h-0.6zM405.5 47.5h0.6v0.6h-0.6zM406.2 45.5h0.6v0.6h-0.6zM411.6 36.5h0.6v0.6h-0.6zM403.7 47.6h0.6v0.6h-0.6zM404.8 42.9h0.6v0.6h-0.6zM403.8 48.2h0.6v0.6h-0.6zM411.7 46.6h0.6v0.6h-0.6zM404.4 49.3h0.6v0.6h-0.6zM406.9 33.5h0.6v0.6h-0.6zM407.6 44.6h0.6v0.6h-0.6zM402.8 51.0h0.6v0.6h-0.6zM406.8 43.1h0.6v0.6h-0.6zM398.1 33.6h0.6v0.6h-0.6zM406.2 46.2h0.6v0.6h-0.6zM407.7 48.8h0.6v0.6h-0.6zM405.2 37.9h0.6v0.6h-0.6zM401.3 45.3h0.6v0.6h-0.6zM400.1 51.5h0.6v0.6h-0.6zM402.0 33.7h0.6v0.6h-0.6zM407.0 34.6h0.6v0.6h-0.6zM414.3 41.2h0.6v0.6h-0.6zM406.0 45.3h0.6v0.6h-0.6zM404.2 34.2h0.6v0.6h-0.6zM396.8 51.7h0.6v0.6h-0.6zM408.3 62.7h0.6v0.6h-0.6zM398.9 49.9h0.6v0.6h-0.6zM405.1 52.8h0.6v0.6h-0.6zM403.0 51.6h0.6v0.6h-0.6zM409.4 51.8h0.6v0.6h-0.6zM412.6 46.8h0.6v0.6h-0.6zM413.6 43.2h0.6v0.6h-0.6zM406.9 41.5h0.6v0.6h-0.6zM404.9 54.1h0.6v0.6h-0.6zM409.1 48.1h0.6v0.6h-0.6zM415.1 37.9h0.6v0.6h-0.6zM400.8 56.9h0.6v0.6h-0.6zM409.6 32.9h0.6v0.6h-0.6zM408.8 39.0h0.6v0.6h-0.6zM411.4 55.9h0.6v0.6h-0.6zM402.2 55.6h0.6v0.6h-0.6zM401.3 52.8h0.6v0.6h-0.6zM408.7 46.5h0.6v0.6h-0.6zM400.0 44.1h0.6v0.6h-0.6zM396.4 41.6h0.6v0.6h-0.6zM396.5 54.2h0.6v0.6h-0.6zM408.2 49.9h0.6v0.6h-0.6zM401.5 61.3h0.6v0.6h-0.6zM409.4 48.0h0.6v0.6h-0.6zM407.1 54.0h0.6v0.6h-0.6zM404.8 36.8h0.6v0.6h-0.6zM407.6 35.4h0.6v0.6h-0.6zM405.2 52.3h0.6v0.6h-0.6zM412.4 49.9h0.6v0.6h-0.6zM406.1 52.3h0.6v0.6h-0.6zM412.6 45.7h0.6v0.6h-0.6zM401.4 40.7h0.6v0.6h-0.6zM401.3 40.0h0.6v0.6h-0.6zM405.1 49.3h0.6v0.6h-0.6zM406.6 47.6h0.6v0.6h-0.6zM404.0 49.7h0.6v0.6h-0.6zM409.1 52.9h0.6v0.6h-0.6zM413.0 46.0h0.6v0.6h-0.6zM403.1 58.6h0.6v0.6h-0.6zM406.5 50.0h0.6v0.6h-0.6zM403.5 53.5h0.6v0.6h-0.6zM405.3 39.8h0.6v0.6h-0.6zM406.2 43.9h0.6v0.6h-0.6zM410.1 44.9h0.6v0.6h-0.6zM406.8 45.6h0.6v0.6h-0.6zM408.2 42.9h0.6v0.6h-0.6zM412.4 37.9h0.6v0.6h-0.6zM405.0 41.8h0.6v0.6h-0.6zM408.8 47.7h0.6v0.6h-0.6zM408.5 45.0h0.6v0.6h-0.6zM404.0 38.8h0.6v0.6h-0.6zM405.1 43.1h0.6v0.6h-0.6zM406.9 49.6h0.6v0.6h-0.6zM410.5 46.9h0.6v0.6h-0.6zM403.8 39.2h0.6v0.6h-0.6zM405.9 49.5h0.6v0.6h-0.6zM414.5 49.6h0.6v0.6h-0.6zM411.9 61.1h0.6v0.6h-0.6zM400.1 54.7h0.6v0.6h-0.6zM409.6 57.1h0.6v0.6h-0.6zM405.0 53.6h0.6v0.6h-0.6zM403.9 46.2h0.6v0.6h-0.6zM404.2 59.4h0.6v0.6h-0.6zM404.0 53.5h0.6v0.6h-0.6zM407.0 42.1h0.6v0.6h-0.6zM406.4 51.7h0.6v0.6h-0.6zM402.2 50.9h0.6v0.6h-0.6zM403.7 40.5h0.6v0.6h-0.6zM407.2 45.5h0.6v0.6h-0.6zM403.3 35.1h0.6v0.6h-0.6zM405.8 48.7h0.6v0.6h-0.6zM403.8 48.0h0.6v0.6h-0.6zM398.8 48.7h0.6v0.6h-0.6zM407.6 49.2h0.6v0.6h-0.6zM403.2 47.1h0.6v0.6h-0.6zM405.5 54.5h0.6v0.6h-0.6zM407.0 48.9h0.6v0.6h-0.6zM401.9 52.5h0.6v0.6h-0.6zM411.7 44.4h0.6v0.6h-0.6zM408.5 49.6h0.6v0.6h-0.6zM407.1 38.1h0.6v0.6h-0.6zM415.8 35.3h0.6v0.6h-0.6zM407.7 44.6h0.6v0.6h-0.6zM411.5 44.8h0.6v0.6h-0.6zM405.5 51.3h0.6v0.6h-0.6zM408.6 43.7h0.6v0.6h-0.6zM408.6 50.2h0.6v0.6h-0.6zM410.9 44.1h0.6v0.6h-0.6zM406.2 44.3h0.6v0.6h-0.6zM402.0 48.2h0.6v0.6h-0.6zM406.3 57.1h0.6v0.6h-0.6zM404.1 49.5h0.6v0.6h-0.6zM411.2 47.0h0.6v0.6h-0.6zM406.1 48.0h0.6v0.6h-0.6zM404.0 39.7h0.6v0.6h-0.6zM410.8 48.9h0.6v0.6h-0.6zM407.0 38.4h0.6v0.6h-0.6zM405.3 55.2h0.6v0.6h-0.6zM401.8 40.1h0.6v0.6h-0.6zM409.4 57.6h0.6v0.6h-0.6zM413.5 44.2h0.6v0.6h-0.6zM409.4 42.2h0.6v0.6h-0.6zM408.7 44.8h0.6v0.6h-0.6zM405.5 56.4h0.6v0.6h-0.6zM407.8 45.6h0.6v0.6h-0.6zM406.0 48.9h0.6v0.6h-0.6zM403.5 48.1h0.6v0.6h-0.6zM407.0 58.1h0.6v0.6h-0.6zM398.1 37.4h0.6v0.6h-0.6zM399.6 52.2h0.6v0.6h-0.6zM416.6 50.0h0.6v0.6h-0.6zM405.4 54.9h0.6v0.6h-0.6zM395.4 44.1h0.6v0.6h-0.6zM392.1 46.0h0.6v0.6h-0.6zM404.3 43.3h0.6v0.6h-0.6zM408.1 43.2h0.6v0.6h-0.6zM410.9 47.7h0.6v0.6h-0.6zM405.0 64.7h0.6v0.6h-0.6zM403.1 53.1h0.6v0.6h-0.6zM401.1 55.0h0.6v0.6h-0.6zM410.1 48.6h0.6v0.6h-0.6zM408.7 58.7h0.6v0.6h-0.6zM412.1 47.9h0.6v0.6h-0.6zM404.6 54.6h0.6v0.6h-0.6zM390.5 72.4h0.6v0.6h-0.6zM401.7 70.6h0.6v0.6h-0.6zM410.7 70.7h0.6v0.6h-0.6zM400.6 70.6h0.6v0.6h-0.6zM392.4 73.5h0.6v0.6h-0.6zM398.3 68.3h0.6v0.6h-0.6zM400.2 72.1h0.6v0.6h-0.6zM392.6 70.9h0.6v0.6h-0.6zM400.2 66.7h0.6v0.6h-0.6zM400.5 65.5h0.6v0.6h-0.6zM408.3 65.9h0.6v0.6h-0.6zM398.9 70.0h0.6v0.6h-0.6zM399.8 73.7h0.6v0.6h-0.6zM404.2 62.0h0.6v0.6h-0.6zM395.8 75.7h0.6v0.6h-0.6zM397.3 61.0h0.6v0.6h-0.6zM392.2 68.4h0.6v0.6h-0.6zM401.7 70.1h0.6v0.6h-0.6zM391.6 68.1h0.6v0.6h-0.6zM394.0 60.1h0.6v0.6h-0.6zM399.9 67.4h0.6v0.6h-0.6zM408.4 67.6h0.6v0.6h-0.6zM394.9 70.8h0.6v0.6h-0.6zM394.6 68.1h0.6v0.6h-0.6zM401.4 73.4h0.6v0.6h-0.6zM391.6 73.9h0.6v0.6h-0.6zM406.0 68.1h0.6v0.6h-0.6zM392.4 69.5h0.6v0.6h-0.6zM402.6 66.6h0.6v0.6h-0.6zM390.8 66.8h0.6v0.6h-0.6zM394.9 69.3h0.6v0.6h-0.6zM403.0 62.8h0.6v0.6h-0.6zM401.8 73.7h0.6v0.6h-0.6zM399.9 67.2h0.6v0.6h-0.6zM398.9 66.5h0.6v0.6h-0.6zM394.6 66.7h0.6v0.6h-0.6zM401.5 70.4h0.6v0.6h-0.6zM401.1 72.4h0.6v0.6h-0.6zM400.4 68.8h0.6v0.6h-0.6zM396.6 75.0h0.6v0.6h-0.6zM404.5 68.6h0.6v0.6h-0.6zM401.2 64.3h0.6v0.6h-0.6zM398.3 77.8h0.6v0.6h-0.6zM396.6 72.8h0.6v0.6h-0.6zM397.4 70.7h0.6v0.6h-0.6zM395.3 68.8h0.6v0.6h-0.6zM392.7 62.1h0.6v0.6h-0.6zM391.0 68.6h0.6v0.6h-0.6zM405.3 74.3h0.6v0.6h-0.6zM399.4 73.6h0.6v0.6h-0.6zM396.3 63.4h0.6v0.6h-0.6zM397.2 59.8h0.6v0.6h-0.6zM394.7 70.5h0.6v0.6h-0.6zM403.1 66.5h0.6v0.6h-0.6zM395.0 67.4h0.6v0.6h-0.6zM398.5 69.9h0.6v0.6h-0.6zM405.1 72.9h0.6v0.6h-0.6zM400.8 67.7h0.6v0.6h-0.6zM402.5 76.5h0.6v0.6h-0.6zM398.7 69.3h0.6v0.6h-0.6zM409.7 70.2h0.6v0.6h-0.6zM399.8 67.8h0.6v0.6h-0.6zM399.0 76.0h0.6v0.6h-0.6zM399.3 75.0h0.6v0.6h-0.6zM395.4 72.9h0.6v0.6h-0.6zM400.0 69.3h0.6v0.6h-0.6zM400.1 70.7h0.6v0.6h-0.6zM390.3 69.4h0.6v0.6h-0.6zM403.1 77.2h0.6v0.6h-0.6zM394.6 66.9h0.6v0.6h-0.6zM395.6 72.2h0.6v0.6h-0.6zM400.6 64.2h0.6v0.6h-0.6zM400.7 68.9h0.6v0.6h-0.6zM393.7 67.6h0.6v0.6h-0.6zM395.2 67.8h0.6v0.6h-0.6zM394.5 61.7h0.6v0.6h-0.6zM404.6 69.3h0.6v0.6h-0.6zM404.9 73.8h0.6v0.6h-0.6zM394.9 61.7h0.6v0.6h-0.6zM399.6 71.5h0.6v0.6h-0.6zM391.9 67.9h0.6v0.6h-0.6zM401.2 70.5h0.6v0.6h-0.6zM395.7 70.4h0.6v0.6h-0.6zM394.3 69.5h0.6v0.6h-0.6zM401.2 74.2h0.6v0.6h-0.6zM390.9 73.8h0.6v0.6h-0.6zM405.0 66.1h0.6v0.6h-0.6zM401.2 72.6h0.6v0.6h-0.6zM390.5 68.6h0.6v0.6h-0.6zM401.6 72.4h0.6v0.6h-0.6zM394.3 68.8h0.6v0.6h-0.6zM401.4 71.0h0.6v0.6h-0.6zM393.0 62.1h0.6v0.6h-0.6zM396.2 66.1h0.6v0.6h-0.6zM400.3 77.7h0.6v0.6h-0.6zM404.4 67.6h0.6v0.6h-0.6zM399.6 69.8h0.6v0.6h-0.6zM395.7 71.6h0.6v0.6h-0.6zM402.4 60.7h0.6v0.6h-0.6zM396.0 72.7h0.6v0.6h-0.6zM403.9 70.3h0.6v0.6h-0.6zM394.0 72.5h0.6v0.6h-0.6zM393.1 66.2h0.6v0.6h-0.6zM396.8 68.0h0.6v0.6h-0.6zM402.8 68.7h0.6v0.6h-0.6zM395.4 72.7h0.6v0.6h-0.6zM394.7 68.8h0.6v0.6h-0.6zM399.5 75.5h0.6v0.6h-0.6zM391.1 64.9h0.6v0.6h-0.6zM397.6 75.4h0.6v0.6h-0.6zM402.7 59.3h0.6v0.6h-0.6zM395.6 69.9h0.6v0.6h-0.6zM394.0 75.9h0.6v0.6h-0.6zM398.7 71.2h0.6v0.6h-0.6zM405.5 62.0h0.6v0.6h-0.6zM403.6 70.6h0.6v0.6h-0.6zM393.8 69.8h0.6v0.6h-0.6zM406.0 67.8h0.6v0.6h-0.6zM395.1 65.5h0.6v0.6h-0.6zM402.9 69.2h0.6v0.6h-0.6zM410.8 68.6h0.6v0.6h-0.6zM401.8 68.5h0.6v0.6h-0.6zM396.5 67.8h0.6v0.6h-0.6zM399.9 69.9h0.6v0.6h-0.6zM403.8 72.0h0.6v0.6h-0.6zM397.5 67.0h0.6v0.6h-0.6zM405.9 73.2h0.6v0.6h-0.6zM396.2 74.2h0.6v0.6h-0.6zM401.7 70.3h0.6v0.6h-0.6zM399.6 68.1h0.6v0.6h-0.6zM402.9 76.6h0.6v0.6h-0.6zM400.1 59.4h0.6v0.6h-0.6zM393.9 70.2h0.6v0.6h-0.6zM393.2 76.3h0.6v0.6h-0.6zM396.1 68.2h0.6v0.6h-0.6zM409.0 76.2h0.6v0.6h-0.6zM407.2 69.7h0.6v0.6h-0.6zM398.5 73.7h0.6v0.6h-0.6zM401.5 74.4h0.6v0.6h-0.6zM400.1 68.0h0.6v0.6h-0.6zM397.8 65.6h0.6v0.6h-0.6zM405.7 73.1h0.6v0.6h-0.6zM398.4 73.2h0.6v0.6h-0.6zM394.7 78.7h0.6v0.6h-0.6zM398.1 63.5h0.6v0.6h-0.6zM404.8 65.0h0.6v0.6h-0.6zM400.4 66.3h0.6v0.6h-0.6zM397.3 60.8h0.6v0.6h-0.6zM400.7 73.9h0.6v0.6h-0.6zM397.6 74.6h0.6v0.6h-0.6zM397.7 72.4h0.6v0.6h-0.6zM406.2 77.3h0.6v0.6h-0.6zM395.8 76.8h0.6v0.6h-0.6zM399.4 61.7h0.6v0.6h-0.6zM405.5 78.3h0.6v0.6h-0.6zM392.6 55.7h0.6v0.6h-0.6zM391.8 64.4h0.6v0.6h-0.6zM396.9 66.4h0.6v0.6h-0.6zM393.3 68.6h0.6v0.6h-0.6zM397.6 67.3h0.6v0.6h-0.6zM393.9 72.0h0.6v0.6h-0.6zM396.8 65.5h0.6v0.6h-0.6zM396.9 60.4h0.6v0.6h-0.6zM398.3 67.3h0.6v0.6h-0.6zM401.8 62.7h0.6v0.6h-0.6zM391.3 67.1h0.6v0.6h-0.6zM407.3 66.1h0.6v0.6h-0.6zM392.9 72.1h0.6v0.6h-0.6zM399.2 78.7h0.6v0.6h-0.6zM393.2 61.1h0.6v0.6h-0.6zM401.6 72.7h0.6v0.6h-0.6zM399.5 71.8h0.6v0.6h-0.6zM398.2 71.1h0.6v0.6h-0.6zM396.6 66.7h0.6v0.6h-0.6zM399.8 69.5h0.6v0.6h-0.6zM395.7 67.6h0.6v0.6h-0.6zM395.0 74.1h0.6v0.6h-0.6zM393.5 58.4h0.6v0.6h-0.6zM400.3 76.7h0.6v0.6h-0.6zM399.2 64.5h0.6v0.6h-0.6zM399.9 62.1h0.6v0.6h-0.6zM401.1 79.7h0.6v0.6h-0.6zM395.7 70.6h0.6v0.6h-0.6zM393.2 73.2h0.6v0.6h-0.6zM394.5 79.7h0.6v0.6h-0.6zM394.8 68.9h0.6v0.6h-0.6zM398.0 74.8h0.6v0.6h-0.6zM402.4 63.7h0.6v0.6h-0.6zM409.0 70.9h0.6v0.6h-0.6zM403.9 66.9h0.6v0.6h-0.6zM394.6 77.2h0.6v0.6h-0.6zM397.1 72.0h0.6v0.6h-0.6zM390.1 74.9h0.6v0.6h-0.6zM395.9 65.8h0.6v0.6h-0.6zM404.3 75.3h0.6v0.6h-0.6zM396.7 66.7h0.6v0.6h-0.6zM400.1 54.5h0.6v0.6h-0.6zM395.9 74.4h0.6v0.6h-0.6zM401.6 72.3h0.6v0.6h-0.6zM399.6 77.9h0.6v0.6h-0.6zM403.6 72.9h0.6v0.6h-0.6zM392.3 74.8h0.6v0.6h-0.6zM410.3 72.5h0.6v0.6h-0.6zM402.9 65.9h0.6v0.6h-0.6zM396.7 67.1h0.6v0.6h-0.6zM399.9 64.0h0.6v0.6h-0.6zM392.0 61.9h0.6v0.6h-0.6zM398.9 70.6h0.6v0.6h-0.6zM401.0 57.9h0.6v0.6h-0.6zM395.4 70.9h0.6v0.6h-0.6zM395.4 76.3h0.6v0.6h-0.6zM400.4 73.2h0.6v0.6h-0.6zM395.8 75.6h0.6v0.6h-0.6zM396.6 71.7h0.6v0.6h-0.6zM401.6 67.2h0.6v0.6h-0.6zM391.5 64.9h0.6v0.6h-0.6zM400.7 72.7h0.6v0.6h-0.6zM395.4 71.7h0.6v0.6h-0.6zM403.6 73.6h0.6v0.6h-0.6zM391.6 64.7h0.6v0.6h-0.6zM391.6 65.3h0.6v0.6h-0.6zM403.1 78.1h0.6v0.6h-0.6zM398.6 68.5h0.6v0.6h-0.6zM400.7 65.3h0.6v0.6h-0.6zM399.9 69.7h0.6v0.6h-0.6zM395.0 63.1h0.6v0.6h-0.6zM403.4 71.1h0.6v0.6h-0.6zM399.4 78.4h0.6v0.6h-0.6zM400.2 72.5h0.6v0.6h-0.6zM402.9 71.6h0.6v0.6h-0.6zM393.8 69.8h0.6v0.6h-0.6zM401.3 71.1h0.6v0.6h-0.6zM401.2 69.5h0.6v0.6h-0.6zM399.7 75.7h0.6v0.6h-0.6zM403.1 72.5h0.6v0.6h-0.6zM395.9 72.6h0.6v0.6h-0.6zM395.2 70.3h0.6v0.6h-0.6zM399.8 70.7h0.6v0.6h-0.6zM396.8 74.5h0.6v0.6h-0.6zM396.2 74.3h0.6v0.6h-0.6zM393.6 67.6h0.6v0.6h-0.6zM407.7 72.5h0.6v0.6h-0.6zM397.4 70.1h0.6v0.6h-0.6zM397.4 61.9h0.6v0.6h-0.6zM398.3 77.0h0.6v0.6h-0.6zM399.8 65.3h0.6v0.6h-0.6zM396.2 73.8h0.6v0.6h-0.6zM391.1 72.6h0.6v0.6h-0.6zM402.7 71.0h0.6v0.6h-0.6zM397.5 61.2h0.6v0.6h-0.6zM390.5 71.0h0.6v0.6h-0.6zM393.3 71.9h0.6v0.6h-0.6zM400.2 71.1h0.6v0.6h-0.6zM400.0 61.3h0.6v0.6h-0.6zM401.8 67.8h0.6v0.6h-0.6zM394.0 74.3h0.6v0.6h-0.6zM398.4 76.1h0.6v0.6h-0.6zM401.0 63.5h0.6v0.6h-0.6zM395.0 73.4h0.6v0.6h-0.6zM396.9 76.8h0.6v0.6h-0.6zM396.2 66.5h0.6v0.6h-0.6zM397.7 74.9h0.6v0.6h-0.6zM394.4 71.8h0.6v0.6h-0.6zM399.7 79.1h0.6v0.6h-0.6zM405.3 72.3h0.6v0.6h-0.6zM400.8 68.3h0.6v0.6h-0.6zM406.6 67.1h0.6v0.6h-0.6zM401.5 70.8h0.6v0.6h-0.6zM401.7 68.7h0.6v0.6h-0.6zM392.3 64.5h0.6v0.6h-0.6zM401.7 58.5h0.6v0.6h-0.6zM409.3 68.4h0.6v0.6h-0.6zM396.6 72.9h0.6v0.6h-0.6zM391.5 62.5h0.6v0.6h-0.6zM397.7 72.2h0.6v0.6h-0.6zM398.6 61.7h0.6v0.6h-0.6zM399.5 69.2h0.6v0.6h-0.6zM399.0 70.1h0.6v0.6h-0.6zM392.2 66.0h0.6v0.6h-0.6zM401.0 70.0h0.6v0.6h-0.6zM404.2 72.9h0.6v0.6h-0.6zM395.8 74.5h0.6v0.6h-0.6zM400.3 72.8h0.6v0.6h-0.6zM408.6 57.7h0.6v0.6h-0.6zM395.4 68.3h0.6v0.6h-0.6zM400.6 71.2h0.6v0.6h-0.6zM398.5 78.2h0.6v0.6h-0.6zM403.8 68.0h0.6v0.6h-0.6zM396.8 69.4h0.6v0.6h-0.6zM393.8 77.8h0.6v0.6h-0.6zM392.7 71.2h0.6v0.6h-0.6zM398.8 63.3h0.6v0.6h-0.6zM398.8 75.0h0.6v0.6h-0.6zM402.9 61.4h0.6v0.6h-0.6zM400.1 63.9h0.6v0.6h-0.6zM401.0 70.6h0.6v0.6h-0.6zM396.9 77.6h0.6v0.6h-0.6zM405.0 64.4h0.6v0.6h-0.6zM395.3 64.6h0.6v0.6h-0.6zM405.0 64.5h0.6v0.6h-0.6zM395.6 77.0h0.6v0.6h-0.6zM390.2 72.1h0.6v0.6h-0.6zM404.4 60.5h0.6v0.6h-0.6zM393.6 69.9h0.6v0.6h-0.6zM397.6 73.9h0.6v0.6h-0.6zM400.3 61.4h0.6v0.6h-0.6zM393.9 61.7h0.6v0.6h-0.6zM403.5 64.8h0.6v0.6h-0.6zM400.3 78.1h0.6v0.6h-0.6zM402.0 75.6h0.6v0.6h-0.6zM407.4 72.9h0.6v0.6h-0.6zM395.1 72.8h0.6v0.6h-0.6zM398.8 68.1h0.6v0.6h-0.6zM401.5 62.4h0.6v0.6h-0.6zM406.2 72.0h0.6v0.6h-0.6zM392.8 70.8h0.6v0.6h-0.6zM398.9 68.1h0.6v0.6h-0.6zM396.8 68.0h0.6v0.6h-0.6zM399.2 72.1h0.6v0.6h-0.6zM398.3 64.6h0.6v0.6h-0.6zM395.1 67.5h0.6v0.6h-0.6zM392.7 65.1h0.6v0.6h-0.6zM403.8 69.5h0.6v0.6h-0.6zM395.3 67.8h0.6v0.6h-0.6zM394.1 68.9h0.6v0.6h-0.6zM406.6 54.7h0.6v0.6h-0.6zM395.4 76.0h0.6v0.6h-0.6zM395.2 62.0h0.6v0.6h-0.6zM392.4 78.3h0.6v0.6h-0.6zM396.4 71.9h0.6v0.6h-0.6zM396.2 67.9h0.6v0.6h-0.6zM396.5 69.3h0.6v0.6h-0.6zM402.5 65.6h0.6v0.6h-0.6zM396.2 68.1h0.6v0.6h-0.6zM393.2 69.2h0.6v0.6h-0.6zM404.0 77.0h0.6v0.6h-0.6zM403.0 67.3h0.6v0.6h-0.6zM407.6 68.5h0.6v0.6h-0.6zM398.3 68.7h0.6v0.6h-0.6zM394.6 74.5h0.6v0.6h-0.6zM391.7 65.0h0.6v0.6h-0.6zM400.4 71.2h0.6v0.6h-0.6zM397.3 67.6h0.6v0.6h-0.6zM403.3 72.7h0.6v0.6h-0.6zM398.5 73.0h0.6v0.6h-0.6zM400.4 64.9h0.6v0.6h-0.6zM396.3 66.6h0.6v0.6h-0.6zM399.1 66.6h0.6v0.6h-0.6zM399.9 63.4h0.6v0.6h-0.6zM403.5 63.4h0.6v0.6h-0.6zM391.9 69.2h0.6v0.6h-0.6zM397.8 64.6h0.6v0.6h-0.6zM409.0 69.1h0.6v0.6h-0.6zM395.4 62.9h0.6v0.6h-0.6zM395.6 67.3h0.6v0.6h-0.6zM392.4 77.5h0.6v0.6h-0.6zM404.7 60.9h0.6v0.6h-0.6zM405.2 72.3h0.6v0.6h-0.6zM393.2 71.8h0.6v0.6h-0.6zM400.5 70.9h0.6v0.6h-0.6zM394.3 74.5h0.6v0.6h-0.6zM400.7 74.0h0.6v0.6h-0.6zM390.1 73.0h0.6v0.6h-0.6zM395.1 70.4h0.6v0.6h-0.6zM398.7 65.3h0.6v0.6h-0.6zM406.2 58.5h0.6v0.6h-0.6zM404.5 71.2h0.6v0.6h-0.6zM401.0 66.1h0.6v0.6h-0.6zM394.0 71.7h0.6v0.6h-0.6zM400.9 68.3h0.6v0.6h-0.6zM402.1 70.3h0.6v0.6h-0.6zM391.6 69.3h0.6v0.6h-0.6zM401.9 63.5h0.6v0.6h-0.6zM391.8 69.1h0.6v0.6h-0.6zM398.1 62.6h0.6v0.6h-0.6zM398.0 76.8h0.6v0.6h-0.6zM398.7 69.8h0.6v0.6h-0.6zM394.8 71.2h0.6v0.6h-0.6zM396.0 71.5h0.6v0.6h-0.6zM396.9 62.7h0.6v0.6h-0.6zM403.5 64.9h0.6v0.6h-0.6zM397.8 69.8h0.6v0.6h-0.6zM402.9 68.0h0.6v0.6h-0.6zM400.7 66.6h0.6v0.6h-0.6zM397.4 70.2h0.6v0.6h-0.6zM400.7 68.1h0.6v0.6h-0.6zM406.6 73.9h0.6v0.6h-0.6zM409.6 69.3h0.6v0.6h-0.6zM403.7 78.6h0.6v0.6h-0.6zM394.4 72.5h0.6v0.6h-0.6zM401.1 66.0h0.6v0.6h-0.6zM396.4 69.0h0.6v0.6h-0.6zM395.3 56.2h0.6v0.6h-0.6zM406.3 70.0h0.6v0.6h-0.6zM399.5 72.4h0.6v0.6h-0.6zM397.9 77.4h0.6v0.6h-0.6zM406.7 56.6h0.6v0.6h-0.6zM403.2 65.3h0.6v0.6h-0.6zM395.1 69.2h0.6v0.6h-0.6zM393.2 65.8h0.6v0.6h-0.6zM399.7 72.2h0.6v0.6h-0.6zM400.7 70.8h0.6v0.6h-0.6zM403.6 71.8h0.6v0.6h-0.6zM391.8 71.5h0.6v0.6h-0.6zM396.0 75.9h0.6v0.6h-0.6zM399.4 69.0h0.6v0.6h-0.6zM396.6 73.4h0.6v0.6h-0.6zM416.2 46.6h0.6v0.6h-0.6zM418.4 45.0h0.6v0.6h-0.6zM426.0 45.0h0.6v0.6h-0.6zM415.1 54.9h0.6v0.6h-0.6zM416.5 46.5h0.6v0.6h-0.6zM407.4 49.7h0.6v0.6h-0.6zM411.5 57.0h0.6v0.6h-0.6zM424.2 39.8h0.6v0.6h-0.6zM420.0 49.0h0.6v0.6h-0.6zM424.3 45.5h0.6v0.6h-0.6zM428.2 43.7h0.6v0.6h-0.6zM414.1 54.8h0.6v0.6h-0.6zM402.1 62.8h0.6v0.6h-0.6zM419.7 50.6h0.6v0.6h-0.6zM418.3 53.3h0.6v0.6h-0.6zM424.4 38.4h0.6v0.6h-0.6zM415.1 53.1h0.6v0.6h-0.6zM421.6 46.4h0.6v0.6h-0.6zM420.2 40.4h0.6v0.6h-0.6zM426.3 47.7h0.6v0.6h-0.6zM426.5 43.4h0.6v0.6h-0.6zM417.5 51.6h0.6v0.6h-0.6zM413.2 44.8h0.6v0.6h-0.6zM413.9 52.6h0.6v0.6h-0.6zM412.1 49.4h0.6v0.6h-0.6zM415.5 49.3h0.6v0.6h-0.6zM418.3 48.4h0.6v0.6h-0.6zM421.8 50.9h0.6v0.6h-0.6zM420.0 49.4h0.6v0.6h-0.6zM401.9 47.9h0.6v0.6h-0.6zM417.2 53.4h0.6v0.6h-0.6zM414.1 49.3h0.6v0.6h-0.6zM412.3 59.2h0.6v0.6h-0.6zM415.2 53.0h0.6v0.6h-0.6zM426.9 43.6h0.6v0.6h-0.6zM432.4 34.8h0.6v0.6h-0.6zM426.2 45.2h0.6v0.6h-0.6zM413.8 53.2h0.6v0.6h-0.6zM411.5 49.5h0.6v0.6h-0.6zM417.9 44.9h0.6v0.6h-0.6zM427.0 36.5h0.6v0.6h-0.6zM414.7 52.6h0.6v0.6h-0.6zM414.7 52.3h0.6v0.6h-0.6zM410.1 48.6h0.6v0.6h-0.6zM398.6 60.0h0.6v0.6h-0.6zM429.2 41.0h0.6v0.6h-0.6zM417.7 46.7h0.6v0.6h-0.6zM417.9 50.8h0.6v0.6h-0.6zM406.7 55.2h0.6v0.6h-0.6zM415.6 58.1h0.6v0.6h-0.6zM414.2 58.9h0.6v0.6h-0.6zM422.4 59.8h0.6v0.6h-0.6zM417.6 49.6h0.6v0.6h-0.6zM429.3 43.3h0.6v0.6h-0.6zM421.3 40.1h0.6v0.6h-0.6zM430.1 46.9h0.6v0.6h-0.6zM416.0 48.2h0.6v0.6h-0.6zM413.6 58.7h0.6v0.6h-0.6zM420.0 47.2h0.6v0.6h-0.6zM414.3 61.3h0.6v0.6h-0.6zM423.7 43.6h0.6v0.6h-0.6zM425.1 37.2h0.6v0.6h-0.6zM421.1 40.7h0.6v0.6h-0.6zM426.5 39.5h0.6v0.6h-0.6zM424.9 40.3h0.6v0.6h-0.6zM423.7 49.9h0.6v0.6h-0.6zM412.3 54.8h0.6v0.6h-0.6zM414.8 56.6h0.6v0.6h-0.6zM413.0 51.6h0.6v0.6h-0.6zM419.8 53.7h0.6v0.6h-0.6zM411.1 55.3h0.6v0.6h-0.6zM414.3 49.4h0.6v0.6h-0.6zM412.4 53.4h0.6v0.6h-0.6zM415.1 43.3h0.6v0.6h-0.6zM416.3 44.1h0.6v0.6h-0.6zM424.3 55.6h0.6v0.6h-0.6zM411.4 54.7h0.6v0.6h-0.6zM419.0 53.4h0.6v0.6h-0.6zM410.0 46.7h0.6v0.6h-0.6zM407.9 59.4h0.6v0.6h-0.6zM422.6 50.6h0.6v0.6h-0.6zM416.3 54.2h0.6v0.6h-0.6zM414.5 59.3h0.6v0.6h-0.6zM415.7 47.5h0.6v0.6h-0.6zM423.9 53.0h0.6v0.6h-0.6zM409.0 50.6h0.6v0.6h-0.6zM408.2 51.8h0.6v0.6h-0.6zM418.6 50.3h0.6v0.6h-0.6zM417.5 50.6h0.6v0.6h-0.6zM425.0 40.9h0.6v0.6h-0.6zM403.5 50.0h0.6v0.6h-0.6zM417.7 45.5h0.6v0.6h-0.6zM417.5 51.7h0.6v0.6h-0.6zM416.8 41.6h0.6v0.6h-0.6zM411.9 55.1h0.6v0.6h-0.6zM420.2 53.2h0.6v0.6h-0.6zM409.1 46.0h0.6v0.6h-0.6zM421.2 37.0h0.6v0.6h-0.6zM412.7 56.1h0.6v0.6h-0.6zM417.8 62.8h0.6v0.6h-0.6zM421.0 49.1h0.6v0.6h-0.6zM421.2 58.2h0.6v0.6h-0.6zM419.6 43.6h0.6v0.6h-0.6zM421.7 36.4h0.6v0.6h-0.6zM414.9 53.4h0.6v0.6h-0.6zM416.3 45.3h0.6v0.6h-0.6zM432.4 43.6h0.6v0.6h-0.6zM412.9 55.8h0.6v0.6h-0.6zM412.6 51.6h0.6v0.6h-0.6zM424.8 43.3h0.6v0.6h-0.6zM417.6 50.0h0.6v0.6h-0.6zM413.6 59.8h0.6v0.6h-0.6zM416.6 57.4h0.6v0.6h-0.6zM413.7 50.5h0.6v0.6h-0.6zM428.3 40.4h0.6v0.6h-0.6zM412.3 51.4h0.6v0.6h-0.6zM427.1 50.8h0.6v0.6h-0.6zM421.0 44.1h0.6v0.6h-0.6zM408.8 53.9h0.6v0.6h-0.6zM417.9 50.4h0.6v0.6h-0.6zM417.2 56.8h0.6v0.6h-0.6zM409.7 52.8h0.6v0.6h-0.6zM422.6 47.4h0.6v0.6h-0.6zM418.1 54.2h0.6v0.6h-0.6zM413.2 62.4h0.6v0.6h-0.6zM437.7 41.3h0.6v0.6h-0.6zM424.1 54.0h0.6v0.6h-0.6zM422.0 52.6h0.6v0.6h-0.6zM417.2 50.8h0.6v0.6h-0.6zM416.7 40.7h0.6v0.6h-0.6zM421.3 55.3h0.6v0.6h-0.6zM399.8 68.1h0.6v0.6h-0.6zM425.0 44.3h0.6v0.6h-0.6zM423.1 51.9h0.6v0.6h-0.6zM415.1 41.4h0.6v0.6h-0.6zM411.0 53.9h0.6v0.6h-0.6zM417.7 46.8h0.6v0.6h-0.6zM421.9 54.5h0.6v0.6h-0.6zM401.8 70.4h0.6v0.6h-0.6zM425.8 45.0h0.6v0.6h-0.6zM418.3 49.1h0.6v0.6h-0.6zM421.1 47.5h0.6v0.6h-0.6zM415.4 55.7h0.6v0.6h-0.6zM412.5 53.9h0.6v0.6h-0.6zM412.5 47.8h0.6v0.6h-0.6zM421.8 45.1h0.6v0.6h-0.6zM410.1 55.9h0.6v0.6h-0.6zM412.8 61.6h0.6v0.6h-0.6zM426.8 51.6h0.6v0.6h-0.6zM416.2 54.5h0.6v0.6h-0.6zM409.3 52.4h0.6v0.6h-0.6zM418.5 50.7h0.6v0.6h-0.6zM423.3 42.6h0.6v0.6h-0.6zM427.9 45.1h0.6v0.6h-0.6zM411.8 53.8h0.6v0.6h-0.6zM416.6 59.6h0.6v0.6h-0.6zM416.8 55.0h0.6v0.6h-0.6zM423.3 42.7h0.6v0.6h-0.6zM415.7 53.0h0.6v0.6h-0.6zM409.5 50.1h0.6v0.6h-0.6zM412.6 55.9h0.6v0.6h-0.6zM424.0 53.0h0.6v0.6h-0.6zM407.4 61.6h0.6v0.6h-0.6zM413.6 59.4h0.6v0.6h-0.6zM422.9 45.1h0.6v0.6h-0.6zM426.7 38.9h0.6v0.6h-0.6zM411.7 49.2h0.6v0.6h-0.6zM414.0 53.3h0.6v0.6h-0.6zM425.9 48.6h0.6v0.6h-0.6zM414.3 48.5h0.6v0.6h-0.6zM414.6 49.8h0.6v0.6h-0.6zM413.8 50.7h0.6v0.6h-0.6zM412.2 54.2h0.6v0.6h-0.6zM414.2 51.6h0.6v0.6h-0.6zM409.3 57.9h0.6v0.6h-0.6zM423.5 47.4h0.6v0.6h-0.6zM411.3 49.0h0.6v0.6h-0.6zM406.3 53.5h0.6v0.6h-0.6zM413.0 52.0h0.6v0.6h-0.6zM408.2 61.8h0.6v0.6h-0.6zM406.1 56.4h0.6v0.6h-0.6zM415.5 55.8h0.6v0.6h-0.6zM429.1 36.8h0.6v0.6h-0.6zM415.1 49.5h0.6v0.6h-0.6zM416.2 49.7h0.6v0.6h-0.6zM431.2 30.8h0.6v0.6h-0.6zM415.2 47.4h0.6v0.6h-0.6zM418.9 45.3h0.6v0.6h-0.6zM418.8 42.4h0.6v0.6h-0.6zM432.3 36.8h0.6v0.6h-0.6zM408.4 61.8h0.6v0.6h-0.6zM411.8 48.5h0.6v0.6h-0.6zM419.5 44.8h0.6v0.6h-0.6zM421.3 42.9h0.6v0.6h-0.6zM424.3 43.9h0.6v0.6h-0.6zM420.8 47.3h0.6v0.6h-0.6zM414.7 50.2h0.6v0.6h-0.6zM422.9 48.3h0.6v0.6h-0.6zM421.4 58.0h0.6v0.6h-0.6zM425.9 35.4h0.6v0.6h-0.6zM424.9 42.2h0.6v0.6h-0.6zM417.4 45.3h0.6v0.6h-0.6zM426.5 36.6h0.6v0.6h-0.6zM415.5 47.4h0.6v0.6h-0.6zM434.0 40.9h0.6v0.6h-0.6zM408.2 55.7h0.6v0.6h-0.6zM419.2 45.5h0.6v0.6h-0.6zM412.8 48.0h0.6v0.6h-0.6zM416.7 44.3h0.6v0.6h-0.6zM429.9 50.9h0.6v0.6h-0.6zM420.3 55.7h0.6v0.6h-0.6zM418.6 44.8h0.6v0.6h-0.6zM413.2 48.3h0.6v0.6h-0.6zM420.6 50.3h0.6v0.6h-0.6zM423.3 42.6h0.6v0.6h-0.6zM410.0 56.0h0.6v0.6h-0.6zM429.6 39.7h0.6v0.6h-0.6zM412.0 43.4h0.6v0.6h-0.6zM416.7 53.2h0.6v0.6h-0.6zM415.5 58.6h0.6v0.6h-0.6zM412.0 49.9h0.6v0.6h-0.6zM414.0 52.2h0.6v0.6h-0.6zM423.0 41.3h0.6v0.6h-0.6zM406.2 59.6h0.6v0.6h-0.6zM425.5 50.3h0.6v0.6h-0.6zM414.7 60.0h0.6v0.6h-0.6zM423.6 46.2h0.6v0.6h-0.6zM410.7 51.1h0.6v0.6h-0.6zM414.3 57.5h0.6v0.6h-0.6zM422.3 50.8h0.6v0.6h-0.6zM429.8 38.1h0.6v0.6h-0.6zM422.8 54.8h0.6v0.6h-0.6zM408.4 55.6h0.6v0.6h-0.6zM414.6 50.2h0.6v0.6h-0.6zM416.7 45.7h0.6v0.6h-0.6zM421.9 38.1h0.6v0.6h-0.6zM408.2 49.1h0.6v0.6h-0.6zM410.5 59.2h0.6v0.6h-0.6zM421.6 44.6h0.6v0.6h-0.6zM425.1 45.7h0.6v0.6h-0.6zM414.2 52.4h0.6v0.6h-0.6zM425.8 52.6h0.6v0.6h-0.6zM416.2 52.7h0.6v0.6h-0.6zM424.8 49.2h0.6v0.6h-0.6zM423.6 49.5h0.6v0.6h-0.6zM410.4 54.7h0.6v0.6h-0.6zM405.3 60.5h0.6v0.6h-0.6zM433.8 35.6h0.6v0.6h-0.6zM419.3 49.2h0.6v0.6h-0.6zM415.4 44.3h0.6v0.6h-0.6zM413.1 52.7h0.6v0.6h-0.6zM416.8 45.5h0.6v0.6h-0.6zM415.4 47.6h0.6v0.6h-0.6zM407.7 55.1h0.6v0.6h-0.6zM415.0 56.3h0.6v0.6h-0.6zM428.2 42.6h0.6v0.6h-0.6zM415.2 48.7h0.6v0.6h-0.6zM406.4 57.0h0.6v0.6h-0.6zM431.2 42.9h0.6v0.6h-0.6zM418.8 47.0h0.6v0.6h-0.6zM419.2 50.2h0.6v0.6h-0.6zM419.1 50.3h0.6v0.6h-0.6zM413.2 53.8h0.6v0.6h-0.6zM418.6 54.2h0.6v0.6h-0.6zM413.4 60.2h0.6v0.6h-0.6zM416.1 48.1h0.6v0.6h-0.6zM418.5 49.2h0.6v0.6h-0.6zM417.6 51.6h0.6v0.6h-0.6zM409.8 47.7h0.6v0.6h-0.6zM422.5 44.7h0.6v0.6h-0.6zM429.8 40.1h0.6v0.6h-0.6zM408.4 64.6h0.6v0.6h-0.6zM415.0 54.7h0.6v0.6h-0.6zM435.3 38.8h0.6v0.6h-0.6zM410.7 55.4h0.6v0.6h-0.6zM409.4 60.6h0.6v0.6h-0.6zM418.9 42.7h0.6v0.6h-0.6zM423.4 49.0h0.6v0.6h-0.6zM421.5 42.2h0.6v0.6h-0.6zM410.6 50.0h0.6v0.6h-0.6zM410.5 57.7h0.6v0.6h-0.6zM421.7 52.5h0.6v0.6h-0.6zM418.9 46.5h0.6v0.6h-0.6zM412.9 62.0h0.6v0.6h-0.6zM419.0 47.9h0.6v0.6h-0.6zM408.7 52.1h0.6v0.6h-0.6zM419.5 42.4h0.6v0.6h-0.6zM423.5 47.3h0.6v0.6h-0.6zM411.2 46.7h0.6v0.6h-0.6zM424.4 50.6h0.6v0.6h-0.6zM409.3 50.4h0.6v0.6h-0.6zM425.4 42.9h0.6v0.6h-0.6zM417.2 56.3h0.6v0.6h-0.6zM417.4 52.0h0.6v0.6h-0.6zM413.4 49.3h0.6v0.6h-0.6zM417.2 45.3h0.6v0.6h-0.6zM405.1 58.2h0.6v0.6h-0.6zM428.9 44.7h0.6v0.6h-0.6zM434.7 38.8h0.6v0.6h-0.6zM429.1 40.0h0.6v0.6h-0.6zM416.4 53.0h0.6v0.6h-0.6zM413.8 56.8h0.6v0.6h-0.6zM415.8 52.5h0.6v0.6h-0.6zM412.2 53.8h0.6v0.6h-0.6zM423.8 42.5h0.6v0.6h-0.6zM414.4 53.9h0.6v0.6h-0.6zM423.2 43.2h0.6v0.6h-0.6zM406.3 51.6h0.6v0.6h-0.6zM412.2 60.1h0.6v0.6h-0.6zM418.7 50.9h0.6v0.6h-0.6zM425.7 43.4h0.6v0.6h-0.6zM419.8 44.7h0.6v0.6h-0.6zM409.3 60.5h0.6v0.6h-0.6zM418.9 51.2h0.6v0.6h-0.6zM410.8 55.0h0.6v0.6h-0.6zM428.8 34.5h0.6v0.6h-0.6zM422.1 52.2h0.6v0.6h-0.6zM416.9 50.8h0.6v0.6h-0.6zM406.3 64.0h0.6v0.6h-0.6zM418.6 55.3h0.6v0.6h-0.6zM416.5 48.5h0.6v0.6h-0.6zM420.2 45.7h0.6v0.6h-0.6zM418.8 56.5h0.6v0.6h-0.6zM424.7 43.4h0.6v0.6h-0.6zM425.4 46.5h0.6v0.6h-0.6zM421.9 45.7h0.6v0.6h-0.6zM419.6 49.8h0.6v0.6h-0.6zM422.6 46.6h0.6v0.6h-0.6zM414.3 52.1h0.6v0.6h-0.6zM418.4 43.5h0.6v0.6h-0.6zM420.0 51.2h0.6v0.6h-0.6zM418.4 47.2h0.6v0.6h-0.6zM416.6 47.8h0.6v0.6h-0.6zM423.4 42.1h0.6v0.6h-0.6zM404.1 55.6h0.6v0.6h-0.6zM420.5 47.8h0.6v0.6h-0.6zM411.6 48.2h0.6v0.6h-0.6zM414.9 47.6h0.6v0.6h-0.6zM413.8 53.0h0.6v0.6h-0.6zM413.9 54.5h0.6v0.6h-0.6zM412.1 52.2h0.6v0.6h-0.6zM420.4 54.5h0.6v0.6h-0.6zM430.7 42.2h0.6v0.6h-0.6zM413.3 53.5h0.6v0.6h-0.6zM426.0 45.8h0.6v0.6h-0.6zM407.4 58.7h0.6v0.6h-0.6zM415.2 55.6h0.6v0.6h-0.6zM420.7 43.7h0.6v0.6h-0.6zM431.1 35.4h0.6v0.6h-0.6zM433.3 33.9h0.6v0.6h-0.6zM422.5 54.9h0.6v0.6h-0.6zM413.4 50.9h0.6v0.6h-0.6zM427.4 40.1h0.6v0.6h-0.6zM417.8 42.6h0.6v0.6h-0.6zM432.1 41.1h0.6v0.6h-0.6zM422.2 48.9h0.6v0.6h-0.6zM413.6 50.7h0.6v0.6h-0.6zM408.9 59.5h0.6v0.6h-0.6zM428.2 44.0h0.6v0.6h-0.6zM425.8 45.5h0.6v0.6h-0.6zM408.7 50.9h0.6v0.6h-0.6zM422.6 45.7h0.6v0.6h-0.6zM423.7 42.4h0.6v0.6h-0.6zM413.5 55.6h0.6v0.6h-0.6zM410.2 47.8h0.6v0.6h-0.6zM411.8 50.2h0.6v0.6h-0.6zM409.4 54.2h0.6v0.6h-0.6zM430.3 49.9h0.6v0.6h-0.6zM428.1 37.5h0.6v0.6h-0.6zM425.2 42.0h0.6v0.6h-0.6zM418.9 44.7h0.6v0.6h-0.6zM413.2 44.8h0.6v0.6h-0.6zM427.6 36.2h0.6v0.6h-0.6zM420.3 43.9h0.6v0.6h-0.6zM416.7 44.1h0.6v0.6h-0.6zM418.0 53.8h0.6v0.6h-0.6zM416.8 40.1h0.6v0.6h-0.6zM420.1 40.3h0.6v0.6h-0.6zM421.2 48.8h0.6v0.6h-0.6zM413.1 52.0h0.6v0.6h-0.6zM417.5 51.6h0.6v0.6h-0.6zM427.5 47.4h0.6v0.6h-0.6zM425.3 52.6h0.6v0.6h-0.6zM416.6 59.7h0.6v0.6h-0.6zM418.3 52.8h0.6v0.6h-0.6zM417.5 50.0h0.6v0.6h-0.6zM413.1 55.6h0.6v0.6h-0.6zM431.5 37.3h0.6v0.6h-0.6zM417.9 49.2h0.6v0.6h-0.6zM422.1 44.2h0.6v0.6h-0.6zM418.6 49.7h0.6v0.6h-0.6zM428.9 43.9h0.6v0.6h-0.6zM409.6 53.6h0.6v0.6h-0.6zM420.4 51.3h0.6v0.6h-0.6zM423.8 42.7h0.6v0.6h-0.6zM431.3 35.8h0.6v0.6h-0.6zM430.8 44.6h0.6v0.6h-0.6zM428.9 40.0h0.6v0.6h-0.6zM417.8 41.3h0.6v0.6h-0.6zM405.0 58.0h0.6v0.6h-0.6zM425.4 47.7h0.6v0.6h-0.6zM420.1 52.6h0.6v0.6h-0.6zM425.7 49.8h0.6v0.6h-0.6zM405.6 56.3h0.6v0.6h-0.6zM409.2 51.9h0.6v0.6h-0.6zM426.3 36.6h0.6v0.6h-0.6zM411.7 52.9h0.6v0.6h-0.6zM422.6 42.5h0.6v0.6h-0.6zM424.2 46.2h0.6v0.6h-0.6zM407.8 46.3h0.6v0.6h-0.6zM408.9 51.1h0.6v0.6h-0.6zM426.7 37.2h0.6v0.6h-0.6zM412.1 56.5h0.6v0.6h-0.6zM416.0 46.1h0.6v0.6h-0.6zM427.5 45.0h0.6v0.6h-0.6zM417.9 45.3h0.6v0.6h-0.6zM407.1 48.6h0.6v0.6h-0.6zM421.5 47.8h0.6v0.6h-0.6zM412.2 54.6h0.6v0.6h-0.6zM408.6 61.0h0.6v0.6h-0.6zM414.0 50.2h0.6v0.6h-0.6zM421.7 44.9h0.6v0.6h-0.6zM425.8 44.5h0.6v0.6h-0.6zM425.8 42.4h0.6v0.6h-0.6zM407.6 65.8h0.6v0.6h-0.6zM409.8 62.2h0.6v0.6h-0.6zM416.1 43.7h0.6v0.6h-0.6zM420.7 51.1h0.6v0.6h-0.6zM411.6 55.3h0.6v0.6h-0.6zM410.7 50.7h0.6v0.6h-0.6zM417.4 56.3h0.6v0.6h-0.6zM422.4 44.8h0.6v0.6h-0.6zM417.8 49.9h0.6v0.6h-0.6zM420.4 47.8h0.6v0.6h-0.6zM409.3 61.9h0.6v0.6h-0.6zM405.8 46.9h0.6v0.6h-0.6zM419.4 41.4h0.6v0.6h-0.6zM416.9 49.6h0.6v0.6h-0.6zM415.6 54.1h0.6v0.6h-0.6zM415.6 49.9h0.6v0.6h-0.6zM411.1 54.0h0.6v0.6h-0.6zM411.4 55.4h0.6v0.6h-0.6zM429.2 43.9h0.6v0.6h-0.6zM417.3 42.7h0.6v0.6h-0.6zM427.1 45.4h0.6v0.6h-0.6zM417.3 48.0h0.6v0.6h-0.6zM422.2 39.5h0.6v0.6h-0.6zM421.6 57.8h0.6v0.6h-0.6zM419.3 37.5h0.6v0.6h-0.6zM421.7 52.7h0.6v0.6h-0.6zM415.6 54.4h0.6v0.6h-0.6zM414.9 44.4h0.6v0.6h-0.6zM416.9 56.0h0.6v0.6h-0.6zM424.1 40.2h0.6v0.6h-0.6zM423.5 40.3h0.6v0.6h-0.6zM419.6 47.5h0.6v0.6h-0.6zM410.8 57.5h0.6v0.6h-0.6zM408.4 43.7h0.6v0.6h-0.6zM410.5 51.7h0.6v0.6h-0.6zM410.1 51.3h0.6v0.6h-0.6zM407.2 46.3h0.6v0.6h-0.6zM424.0 43.9h0.6v0.6h-0.6zM419.0 46.7h0.6v0.6h-0.6zM417.8 47.9h0.6v0.6h-0.6zM407.0 51.4h0.6v0.6h-0.6zM421.1 51.4h0.6v0.6h-0.6zM423.7 52.1h0.6v0.6h-0.6zM408.5 56.5h0.6v0.6h-0.6zM417.2 56.2h0.6v0.6h-0.6zM427.6 37.3h0.6v0.6h-0.6zM422.1 43.9h0.6v0.6h-0.6zM411.3 54.7h0.6v0.6h-0.6zM415.3 59.6h0.6v0.6h-0.6zM424.9 48.8h0.6v0.6h-0.6zM414.0 40.1h0.6v0.6h-0.6zM423.4 44.4h0.6v0.6h-0.6zM402.8 63.7h0.6v0.6h-0.6zM429.0 47.7h0.6v0.6h-0.6zM413.4 57.4h0.6v0.6h-0.6zM419.7 46.5h0.6v0.6h-0.6zM417.6 52.2h0.6v0.6h-0.6zM423.5 47.4h0.6v0.6h-0.6zM411.9 47.8h0.6v0.6h-0.6zM429.9 44.7h0.6v0.6h-0.6zM414.3 52.3h0.6v0.6h-0.6zM418.7 39.2h0.6v0.6h-0.6zM427.6 52.8h0.6v0.6h-0.6zM417.9 45.4h0.6v0.6h-0.6zM431.3 36.7h0.6v0.6h-0.6zM418.3 46.5h0.6v0.6h-0.6zM414.5 42.9h0.6v0.6h-0.6zM405.9 52.6h0.6v0.6h-0.6zM423.6 43.3h0.6v0.6h-0.6zM420.2 36.3h0.6v0.6h-0.6zM417.9 56.7h0.6v0.6h-0.6zM408.0 48.6h0.6v0.6h-0.6zM412.3 52.5h0.6v0.6h-0.6zM421.3 52.7h0.6v0.6h-0.6zM430.7 45.3h0.6v0.6h-0.6zM420.5 44.1h0.6v0.6h-0.6zM410.9 47.8h0.6v0.6h-0.6zM429.5 44.8h0.6v0.6h-0.6zM416.3 46.0h0.6v0.6h-0.6zM423.7 46.3h0.6v0.6h-0.6zM416.0 44.8h0.6v0.6h-0.6zM418.1 46.0h0.6v0.6h-0.6zM424.4 46.2h0.6v0.6h-0.6zM419.7 45.2h0.6v0.6h-0.6zM429.9 42.0h0.6v0.6h-0.6zM428.4 43.7h0.6v0.6h-0.6zM423.3 46.1h0.6v0.6h-0.6zM406.3 50.3h0.6v0.6h-0.6zM413.6 56.4h0.6v0.6h-0.6zM424.4 44.0h0.6v0.6h-0.6zM423.4 53.6h0.6v0.6h-0.6zM410.8 46.4h0.6v0.6h-0.6zM407.2 57.4h0.6v0.6h-0.6zM424.5 46.9h0.6v0.6h-0.6zM418.7 52.6h0.6v0.6h-0.6zM415.8 47.3h0.6v0.6h-0.6zM417.5 53.4h0.6v0.6h-0.6zM421.2 40.1h0.6v0.6h-0.6zM411.9 55.3h0.6v0.6h-0.6zM428.7 32.9h0.6v0.6h-0.6zM411.0 57.7h0.6v0.6h-0.6zM419.7 44.2h0.6v0.6h-0.6zM419.1 50.5h0.6v0.6h-0.6zM406.7 59.4h0.6v0.6h-0.6zM424.3 48.0h0.6v0.6h-0.6zM425.3 41.8h0.6v0.6h-0.6zM412.2 61.4h0.6v0.6h-0.6zM421.3 42.6h0.6v0.6h-0.6zM427.4 45.7h0.6v0.6h-0.6zM410.9 43.2h0.6v0.6h-0.6zM413.0 49.7h0.6v0.6h-0.6zM412.4 53.8h0.6v0.6h-0.6zM412.0 56.6h0.6v0.6h-0.6zM427.1 34.3h0.6v0.6h-0.6zM423.3 41.3h0.6v0.6h-0.6zM421.2 45.4h0.6v0.6h-0.6zM424.4 39.3h0.6v0.6h-0.6zM420.7 42.4h0.6v0.6h-0.6zM419.4 47.6h0.6v0.6h-0.6zM420.9 38.0h0.6v0.6h-0.6zM412.9 61.0h0.6v0.6h-0.6zM424.9 51.4h0.6v0.6h-0.6zM411.9 55.8h0.6v0.6h-0.6zM426.5 50.3h0.6v0.6h-0.6zM416.5 48.1h0.6v0.6h-0.6zM422.3 44.4h0.6v0.6h-0.6zM415.2 55.6h0.6v0.6h-0.6zM403.1 57.6h0.6v0.6h-0.6zM425.5 39.4h0.6v0.6h-0.6zM416.9 52.0h0.6v0.6h-0.6zM426.6 43.7h0.6v0.6h-0.6zM410.3 53.2h0.6v0.6h-0.6zM424.5 42.4h0.6v0.6h-0.6zM416.2 55.2h0.6v0.6h-0.6zM431.0 48.3h0.6v0.6h-0.6zM409.2 53.5h0.6v0.6h-0.6zM414.5 54.2h0.6v0.6h-0.6zM417.8 55.0h0.6v0.6h-0.6zM403.2 67.8h0.6v0.6h-0.6zM413.1 52.1h0.6v0.6h-0.6zM422.2 46.2h0.6v0.6h-0.6zM415.4 59.3h0.6v0.6h-0.6zM420.4 44.2h0.6v0.6h-0.6zM416.5 44.6h0.6v0.6h-0.6zM409.3 55.5h0.6v0.6h-0.6zM420.6 47.1h0.6v0.6h-0.6zM409.4 49.8h0.6v0.6h-0.6zM411.4 63.5h0.6v0.6h-0.6zM418.3 44.5h0.6v0.6h-0.6zM427.0 43.4h0.6v0.6h-0.6zM413.7 49.8h0.6v0.6h-0.6zM426.2 43.1h0.6v0.6h-0.6zM429.5 40.2h0.6v0.6h-0.6zM412.7 50.8h0.6v0.6h-0.6zM414.1 53.9h0.6v0.6h-0.6zM421.2 49.2h0.6v0.6h-0.6zM418.2 43.4h0.6v0.6h-0.6zM414.2 47.6h0.6v0.6h-0.6zM417.7 42.4h0.6v0.6h-0.6zM412.0 50.1h0.6v0.6h-0.6zM413.4 52.0h0.6v0.6h-0.6zM427.0 39.2h0.6v0.6h-0.6zM408.0 56.7h0.6v0.6h-0.6zM424.3 46.1h0.6v0.6h-0.6zM424.7 53.2h0.6v0.6h-0.6zM425.4 42.6h0.6v0.6h-0.6zM422.3 38.0h0.6v0.6h-0.6zM414.6 47.6h0.6v0.6h-0.6zM423.4 52.5h0.6v0.6h-0.6zM419.0 56.4h0.6v0.6h-0.6zM415.2 59.1h0.6v0.6h-0.6zM404.9 56.7h0.6v0.6h-0.6zM424.2 42.8h0.6v0.6h-0.6zM418.9 48.1h0.6v0.6h-0.6zM418.7 47.4h0.6v0.6h-0.6zM411.0 54.0h0.6v0.6h-0.6zM416.4 45.8h0.6v0.6h-0.6zM425.6 51.2h0.6v0.6h-0.6zM406.1 57.3h0.6v0.6h-0.6zM416.3 50.7h0.6v0.6h-0.6zM416.7 46.4h0.6v0.6h-0.6zM417.8 49.2h0.6v0.6h-0.6zM421.5 53.8h0.6v0.6h-0.6zM415.0 44.1h0.6v0.6h-0.6zM409.5 60.0h0.6v0.6h-0.6zM414.2 49.3h0.6v0.6h-0.6zM408.5 56.2h0.6v0.6h-0.6zM415.6 47.6h0.6v0.6h-0.6zM418.1 53.6h0.6v0.6h-0.6zM424.5 45.9h0.6v0.6h-0.6zM413.3 46.2h0.6v0.6h-0.6zM426.9 48.6h0.6v0.6h-0.6zM429.2 44.7h0.6v0.6h-0.6zM420.8 48.4h0.6v0.6h-0.6zM421.2 52.6h0.6v0.6h-0.6zM421.9 56.6h0.6v0.6h-0.6zM422.1 43.5h0.6v0.6h-0.6zM413.8 44.5h0.6v0.6h-0.6zM412.5 52.5h0.6v0.6h-0.6zM431.5 32.1h0.6v0.6h-0.6zM424.1 43.7h0.6v0.6h-0.6zM417.7 52.5h0.6v0.6h-0.6zM407.7 63.5h0.6v0.6h-0.6zM431.2 38.3h0.6v0.6h-0.6zM418.0 49.8h0.6v0.6h-0.6zM421.0 43.7h0.6v0.6h-0.6zM420.1 49.7h0.6v0.6h-0.6zM416.8 52.2h0.6v0.6h-0.6zM422.0 49.0h0.6v0.6h-0.6zM410.3 53.4h0.6v0.6h-0.6zM418.4 54.9h0.6v0.6h-0.6zM415.3 42.9h0.6v0.6h-0.6zM414.9 62.1h0.6v0.6h-0.6zM416.8 43.3h0.6v0.6h-0.6zM412.6 54.8h0.6v0.6h-0.6zM431.4 45.0h0.6v0.6h-0.6zM414.9 50.3h0.6v0.6h-0.6zM427.7 34.8h0.6v0.6h-0.6zM428.9 40.6h0.6v0.6h-0.6zM422.0 52.1h0.6v0.6h-0.6zM418.9 43.8h0.6v0.6h-0.6zM408.3 58.1h0.6v0.6h-0.6zM424.9 49.8h0.6v0.6h-0.6zM404.8 68.3h0.6v0.6h-0.6zM425.9 49.6h0.6v0.6h-0.6zM423.7 44.9h0.6v0.6h-0.6zM421.8 47.5h0.6v0.6h-0.6zM413.7 52.4h0.6v0.6h-0.6zM417.6 47.0h0.6v0.6h-0.6zM404.9 53.7h0.6v0.6h-0.6zM422.6 47.5h0.6v0.6h-0.6zM415.6 45.1h0.6v0.6h-0.6zM422.4 42.8h0.6v0.6h-0.6zM408.8 65.8h0.6v0.6h-0.6zM414.4 64.2h0.6v0.6h-0.6zM420.3 44.6h0.6v0.6h-0.6zM401.1 61.0h0.6v0.6h-0.6zM431.0 44.0h0.6v0.6h-0.6zM415.2 42.6h0.6v0.6h-0.6zM414.8 50.5h0.6v0.6h-0.6zM420.6 45.9h0.6v0.6h-0.6zM415.9 42.4h0.6v0.6h-0.6zM417.7 56.9h0.6v0.6h-0.6zM411.1 60.3h0.6v0.6h-0.6zM434.5 37.1h0.6v0.6h-0.6zM412.4 60.8h0.6v0.6h-0.6zM407.0 61.0h0.6v0.6h-0.6zM418.6 54.9h0.6v0.6h-0.6zM426.0 42.5h0.6v0.6h-0.6zM432.0 41.1h0.6v0.6h-0.6zM412.4 49.1h0.6v0.6h-0.6zM432.7 33.2h0.6v0.6h-0.6zM420.3 46.2h0.6v0.6h-0.6zM410.8 47.3h0.6v0.6h-0.6zM416.8 49.5h0.6v0.6h-0.6zM422.9 41.7h0.6v0.6h-0.6zM405.2 55.3h0.6v0.6h-0.6zM418.4 49.9h0.6v0.6h-0.6zM421.6 43.6h0.6v0.6h-0.6zM421.8 46.2h0.6v0.6h-0.6zM428.7 38.8h0.6v0.6h-0.6zM420.4 49.7h0.6v0.6h-0.6zM423.4 39.1h0.6v0.6h-0.6zM414.3 51.0h0.6v0.6h-0.6zM407.8 65.4h0.6v0.6h-0.6zM424.9 42.7h0.6v0.6h-0.6zM435.1 41.4h0.6v0.6h-0.6zM420.1 39.6h0.6v0.6h-0.6zM428.9 41.1h0.6v0.6h-0.6zM410.5 56.3h0.6v0.6h-0.6zM425.4 47.3h0.6v0.6h-0.6zM417.8 46.5h0.6v0.6h-0.6zM420.9 42.3h0.6v0.6h-0.6zM414.1 63.8h0.6v0.6h-0.6zM398.2 59.3h0.6v0.6h-0.6zM392.2 44.3h0.6v0.6h-0.6zM400.7 54.0h0.6v0.6h-0.6zM423.3 54.4h0.6v0.6h-0.6zM425.7 56.1h0.6v0.6h-0.6zM412.6 60.7h0.6v0.6h-0.6zM412.2 56.6h0.6v0.6h-0.6zM427.1 48.4h0.6v0.6h-0.6zM428.4 42.2h0.6v0.6h-0.6zM412.4 34.9h0.6v0.6h-0.6zM408.8 73.4h0.6v0.6h-0.6zM419.2 69.7h0.6v0.6h-0.6zM397.9 43.3h0.6v0.6h-0.6zM420.4 64.6h0.6v0.6h-0.6zM424.8 35.6h0.6v0.6h-0.6zM421.0 54.2h0.6v0.6h-0.6zM416.4 60.5h0.6v0.6h-0.6zM411.7 35.4h0.6v0.6h-0.6zM402.5 38.3h0.6v0.6h-0.6zM399.7 53.5h0.6v0.6h-0.6zM430.3 46.7h0.6v0.6h-0.6zM406.1 41.7h0.6v0.6h-0.6zM394.8 55.8h0.6v0.6h-0.6zM409.3 52.2h0.6v0.6h-0.6zM403.8 60.6h0.6v0.6h-0.6zM401.0 61.4h0.6v0.6h-0.6zM407.3 64.1h0.6v0.6h-0.6zM404.6 60.1h0.6v0.6h-0.6zM420.1 54.1h0.6v0.6h-0.6zM434.1 57.0h0.6v0.6h-0.6zM404.6 63.0h0.6v0.6h-0.6zM405.4 48.7h0.6v0.6h-0.6zM415.1 57.1h0.6v0.6h-0.6zM434.9 34.8h0.6v0.6h-0.6zM412.0 68.1h0.6v0.6h-0.6zM413.1 58.7h0.6v0.6h-0.6zM432.8 40.7h0.6v0.6h-0.6zM415.5 64.2h0.6v0.6h-0.6zM408.1 34.7h0.6v0.6h-0.6zM403.3 57.3h0.6v0.6h-0.6zM417.2 76.4h0.6v0.6h-0.6zM430.5 37.1h0.6v0.6h-0.6zM427.1 65.6h0.6v0.6h-0.6zM433.9 53.2h0.6v0.6h-0.6zM408.5 56.7h0.6v0.6h-0.6zM433.1 62.2h0.6v0.6h-0.6zM434.8 64.1h0.6v0.6h-0.6zM408.1 43.3h0.6v0.6h-0.6zM436.7 37.4h0.6v0.6h-0.6zM410.9 51.3h0.6v0.6h-0.6zM404.3 48.4h0.6v0.6h-0.6zM414.2 48.9h0.6v0.6h-0.6zM416.5 65.9h0.6v0.6h-0.6zM405.5 50.3h0.6v0.6h-0.6zM394.6 63.1h0.6v0.6h-0.6zM423.0 72.4h0.6v0.6h-0.6zM425.2 51.8h0.6v0.6h-0.6zM410.4 51.4h0.6v0.6h-0.6zM400.8 63.9h0.6v0.6h-0.6zM407.9 46.6h0.6v0.6h-0.6zM421.0 56.3h0.6v0.6h-0.6zM408.2 52.3h0.6v0.6h-0.6zM409.2 70.6h0.6v0.6h-0.6zM426.7 46.6h0.6v0.6h-0.6zM414.5 70.9h0.6v0.6h-0.6zM411.6 75.7h0.6v0.6h-0.6zM420.2 62.8h0.6v0.6h-0.6zM390.7 64.9h0.6v0.6h-0.6zM419.0 61.8h0.6v0.6h-0.6zM420.6 61.1h0.6v0.6h-0.6zM409.1 65.5h0.6v0.6h-0.6zM415.7 42.8h0.6v0.6h-0.6zM403.1 56.9h0.6v0.6h-0.6zM390.9 67.2h0.6v0.6h-0.6zM397.1 52.1h0.6v0.6h-0.6zM408.0 61.5h0.6v0.6h-0.6zM431.5 73.7h0.6v0.6h-0.6zM403.2 69.4h0.6v0.6h-0.6zM400.8 58.6h0.6v0.6h-0.6zM417.0 62.2h0.6v0.6h-0.6zM405.6 70.6h0.6v0.6h-0.6zM414.2 54.8h0.6v0.6h-0.6zM411.9 42.6h0.6v0.6h-0.6zM423.4 58.9h0.6v0.6h-0.6zM420.3 76.7h0.6v0.6h-0.6zM404.8 51.7h0.6v0.6h-0.6zM415.1 65.0h0.6v0.6h-0.6zM412.9 65.9h0.6v0.6h-0.6zM420.3 34.5h0.6v0.6h-0.6zM407.0 31.4h0.6v0.6h-0.6zM411.7 50.2h0.6v0.6h-0.6zM421.9 57.0h0.6v0.6h-0.6zM414.3 69.7h0.6v0.6h-0.6zM422.0 40.7h0.6v0.6h-0.6zM406.9 58.8h0.6v0.6h-0.6zM434.9 52.7h0.6v0.6h-0.6zM413.0 58.1h0.6v0.6h-0.6zM424.2 54.0h0.6v0.6h-0.6zM418.5 50.1h0.6v0.6h-0.6zM408.6 45.8h0.6v0.6h-0.6zM422.7 48.5h0.6v0.6h-0.6zM421.4 59.7h0.6v0.6h-0.6zM403.7 40.8h0.6v0.6h-0.6zM413.1 64.4h0.6v0.6h-0.6zM430.9 59.4h0.6v0.6h-0.6zM410.5 61.2h0.6v0.6h-0.6zM415.1 62.2h0.6v0.6h-0.6zM402.9 42.2h0.6v0.6h-0.6zM407.5 54.5h0.6v0.6h-0.6zM419.1 50.9h0.6v0.6h-0.6zM419.1 62.9h0.6v0.6h-0.6zM401.4 53.8h0.6v0.6h-0.6zM396.8 48.6h0.6v0.6h-0.6zM425.6 46.7h0.6v0.6h-0.6zM436.8 60.9h0.6v0.6h-0.6zM425.4 56.2h0.6v0.6h-0.6zM425.1 67.8h0.6v0.6h-0.6zM416.3 48.8h0.6v0.6h-0.6zM408.6 77.5h0.6v0.6h-0.6zM412.9 49.7h0.6v0.6h-0.6zM406.7 35.3h0.6v0.6h-0.6zM409.1 58.8h0.6v0.6h-0.6zM409.3 46.2h0.6v0.6h-0.6zM419.8 60.4h0.6v0.6h-0.6zM409.9 58.6h0.6v0.6h-0.6zM403.6 65.0h0.6v0.6h-0.6zM403.4 51.1h0.6v0.6h-0.6zM416.6 50.1h0.6v0.6h-0.6zM401.6 79.5h0.6v0.6h-0.6zM432.8 34.7h0.6v0.6h-0.6zM416.4 40.2h0.6v0.6h-0.6zM418.7 39.8h0.6v0.6h-0.6zM421.8 61.2h0.6v0.6h-0.6zM435.0 69.1h0.6v0.6h-0.6zM409.6 66.0h0.6v0.6h-0.6zM409.6 53.7h0.6v0.6h-0.6zM409.1 34.4h0.6v0.6h-0.6zM422.1 31.3h0.6v0.6h-0.6zM412.2 61.1h0.6v0.6h-0.6zM416.3 36.6h0.6v0.6h-0.6zM407.4 62.9h0.6v0.6h-0.6zM427.9 73.6h0.6v0.6h-0.6zM393.7 60.4h0.6v0.6h-0.6zM409.4 63.9h0.6v0.6h-0.6zM395.2 53.3h0.6v0.6h-0.6zM423.3 47.5h0.6v0.6h-0.6zM410.8 43.6h0.6v0.6h-0.6zM428.1 39.5h0.6v0.6h-0.6zM404.3 51.1h0.6v0.6h-0.6zM411.3 79.7h0.6v0.6h-0.6zM418.2 45.3h0.6v0.6h-0.6zM421.8 59.0h0.6v0.6h-0.6zM418.3 54.2h0.6v0.6h-0.6zM420.4 41.3h0.6v0.6h-0.6zM400.9 50.0h0.6v0.6h-0.6zM402.1 63.2h0.6v0.6h-0.6zM437.8 69.4h0.6v0.6h-0.6zM420.2 59.0h0.6v0.6h-0.6zM407.0 39.8h0.6v0.6h-0.6zM421.4 37.7h0.6v0.6h-0.6zM418.5 53.4h0.6v0.6h-0.6zM423.8 55.6h0.6v0.6h-0.6zM416.2 48.2h0.6v0.6h-0.6zM394.8 51.0h0.6v0.6h-0.6zM423.2 67.2h0.6v0.6h-0.6zM431.2 43.4h0.6v0.6h-0.6zM404.0 63.2h0.6v0.6h-0.6zM418.7 37.3h0.6v0.6h-0.6zM408.5 73.4h0.6v0.6h-0.6zM393.6 56.8h0.6v0.6h-0.6zM398.7 73.7h0.6v0.6h-0.6zM409.8 43.0h0.6v0.6h-0.6zM395.0 46.7h0.6v0.6h-0.6zM411.9 41.4h0.6v0.6h-0.6zM419.0 49.5h0.6v0.6h-0.6zM405.1 71.2h0.6v0.6h-0.6zM420.2 44.6h0.6v0.6h-0.6zM432.3 54.4h0.6v0.6h-0.6zM420.9 56.7h0.6v0.6h-0.6zM428.8 62.2h0.6v0.6h-0.6zM410.9 63.4h0.6v0.6h-0.6zM410.4 56.6h0.6v0.6h-0.6zM434.3 42.6h0.6v0.6h-0.6zM402.9 50.3h0.6v0.6h-0.6zM409.1 70.2h0.6v0.6h-0.6zM433.6 49.7h0.6v0.6h-0.6zM417.2 50.8h0.6v0.6h-0.6zM422.9 62.7h0.6v0.6h-0.6zM423.8 64.0h0.6v0.6h-0.6zM437.7 53.0h0.6v0.6h-0.6zM423.2 52.8h0.6v0.6h-0.6zM415.5 57.6h0.6v0.6h-0.6zM414.4 59.0h0.6v0.6h-0.6zM405.0 53.2h0.6v0.6h-0.6zM407.9 41.3h0.6v0.6h-0.6zM406.7 49.2h0.6v0.6h-0.6zM413.3 36.7h0.6v0.6h-0.6zM412.0 41.8h0.6v0.6h-0.6zM405.4 57.2h0.6v0.6h-0.6zM428.0 58.4h0.6v0.6h-0.6zM409.3 49.9h0.6v0.6h-0.6zM430.7 36.0h0.6v0.6h-0.6zM428.4 37.4h0.6v0.6h-0.6zM407.6 55.5h0.6v0.6h-0.6zM412.4 74.5h0.6v0.6h-0.6zM420.8 54.4h0.6v0.6h-0.6zM426.2 55.4h0.6v0.6h-0.6zM405.5 68.1h0.6v0.6h-0.6zM432.6 70.0h0.6v0.6h-0.6zM401.2 77.3h0.6v0.6h-0.6zM410.1 64.0h0.6v0.6h-0.6zM396.0 43.0h0.6v0.6h-0.6zM428.9 60.8h0.6v0.6h-0.6zM420.2 52.8h0.6v0.6h-0.6zM414.9 57.7h0.6v0.6h-0.6zM423.9 51.9h0.6v0.6h-0.6zM404.5 50.8h0.6v0.6h-0.6zM390.3 41.9h0.6v0.6h-0.6zM438.2 47.0h0.6v0.6h-0.6zM414.1 77.2h0.6v0.6h-0.6zM427.4 56.4h0.6v0.6h-0.6zM423.6 51.8h0.6v0.6h-0.6zM404.4 66.7h0.6v0.6h-0.6zM416.6 73.8h0.6v0.6h-0.6zM411.9 50.6h0.6v0.6h-0.6zM419.1 52.8h0.6v0.6h-0.6zM411.3 44.5h0.6v0.6h-0.6zM418.0 58.8h0.6v0.6h-0.6zM436.5 54.7h0.6v0.6h-0.6zM394.4 60.5h0.6v0.6h-0.6zM405.6 53.0h0.6v0.6h-0.6zM412.8 37.3h0.6v0.6h-0.6zM421.8 44.7h0.6v0.6h-0.6zM393.3 46.6h0.6v0.6h-0.6zM422.5 77.5h0.6v0.6h-0.6zM429.7 57.3h0.6v0.6h-0.6zM409.0 51.9h0.6v0.6h-0.6zM426.4 48.9h0.6v0.6h-0.6zM419.9 66.3h0.6v0.6h-0.6zM404.3 48.1h0.6v0.6h-0.6zM420.3 55.1h0.6v0.6h-0.6zM413.5 48.8h0.6v0.6h-0.6zM414.3 76.8h0.6v0.6h-0.6zM431.0 36.1h0.6v0.6h-0.6zM415.6 56.1h0.6v0.6h-0.6zM415.4 38.8h0.6v0.6h-0.6zM413.5 56.7h0.6v0.6h-0.6zM407.0 58.7h0.6v0.6h-0.6zM416.2 59.6h0.6v0.6h-0.6zM413.0 49.6h0.6v0.6h-0.6zM417.2 67.7h0.6v0.6h-0.6zM425.6 54.1h0.6v0.6h-0.6zM409.5 67.5h0.6v0.6h-0.6zM421.4 65.4h0.6v0.6h-0.6zM411.7 44.9h0.6v0.6h-0.6zM417.2 47.7h0.6v0.6h-0.6zM428.5 65.0h0.6v0.6h-0.6zM430.7 67.2h0.6v0.6h-0.6zM409.4 44.9h0.6v0.6h-0.6zM426.4 66.9h0.6v0.6h-0.6zM415.7 41.4h0.6v0.6h-0.6zM397.0 58.1h0.6v0.6h-0.6zM405.3 47.0h0.6v0.6h-0.6zM420.2 67.3h0.6v0.6h-0.6zM390.7 47.1h0.6v0.6h-0.6zM430.3 54.5h0.6v0.6h-0.6zM411.0 62.5h0.6v0.6h-0.6zM401.6 40.6h0.6v0.6h-0.6zM415.3 73.4h0.6v0.6h-0.6zM427.0 54.9h0.6v0.6h-0.6zM426.9 50.2h0.6v0.6h-0.6zM401.1 35.3h0.6v0.6h-0.6zM418.2 65.6h0.6v0.6h-0.6zM419.4 54.6h0.6v0.6h-0.6zM410.3 67.8h0.6v0.6h-0.6zM414.5 38.1h0.6v0.6h-0.6zM431.2 47.4h0.6v0.6h-0.6zM419.6 55.0h0.6v0.6h-0.6zM427.4 57.9h0.6v0.6h-0.6zM429.5 57.5h0.6v0.6h-0.6zM391.6 75.8h0.6v0.6h-0.6zM394.9 75.0h0.6v0.6h-0.6zM395.7 76.4h0.6v0.6h-0.6zM390.3 74.9h0.6v0.6h-0.6zM395.3 77.0h0.6v0.6h-0.6zM392.2 77.0h0.6v0.6h-0.6zM393.5 75.9h0.6v0.6h-0.6zM393.5 74.6h0.6v0.6h-0.6zM398.9 74.3h0.6v0.6h-0.6zM392.6 73.1h0.6v0.6h-0.6zM393.5 77.5h0.6v0.6h-0.6zM395.2 73.7h0.6v0.6h-0.6zM391.2 75.4h0.6v0.6h-0.6zM392.4 76.9h0.6v0.6h-0.6zM391.5 79.0h0.6v0.6h-0.6zM397.5 74.4h0.6v0.6h-0.6zM396.1 77.1h0.6v0.6h-0.6zM396.7 79.6h0.6v0.6h-0.6zM394.9 72.9h0.6v0.6h-0.6zM393.4 75.8h0.6v0.6h-0.6zM394.3 77.1h0.6v0.6h-0.6zM396.1 73.1h0.6v0.6h-0.6zM390.8 76.8h0.6v0.6h-0.6zM393.9 76.0h0.6v0.6h-0.6zM392.9 77.1h0.6v0.6h-0.6zM396.1 76.7h0.6v0.6h-0.6zM393.7 72.5h0.6v0.6h-0.6zM394.1 71.3h0.6v0.6h-0.6zM394.2 76.8h0.6v0.6h-0.6zM393.0 75.2h0.6v0.6h-0.6zM391.8 79.0h0.6v0.6h-0.6zM394.1 76.9h0.6v0.6h-0.6zM391.6 77.5h0.6v0.6h-0.6zM396.5 77.0h0.6v0.6h-0.6zM391.9 74.1h0.6v0.6h-0.6zM393.3 74.7h0.6v0.6h-0.6zM391.2 72.0h0.6v0.6h-0.6zM392.7 73.7h0.6v0.6h-0.6zM394.2 77.5h0.6v0.6h-0.6zM392.4 78.2h0.6v0.6h-0.6zM397.5 78.2h0.6v0.6h-0.6zM392.5 73.6h0.6v0.6h-0.6zM394.9 73.9h0.6v0.6h-0.6zM391.1 78.2h0.6v0.6h-0.6zM394.1 78.7h0.6v0.6h-0.6zM392.0 76.9h0.6v0.6h-0.6zM392.9 77.1h0.6v0.6h-0.6zM398.3 76.5h0.6v0.6h-0.6zM394.0 77.9h0.6v0.6h-0.6zM393.4 77.4h0.6v0.6h-0.6zM392.7 77.0h0.6v0.6h-0.6zM392.8 79.4h0.6v0.6h-0.6zM393.1 77.2h0.6v0.6h-0.6zM392.9 78.9h0.6v0.6h-0.6zM391.6 79.3h0.6v0.6h-0.6zM391.3 78.7h0.6v0.6h-0.6zM398.7 77.6h0.6v0.6h-0.6zM392.7 74.1h0.6v0.6h-0.6zM395.2 77.0h0.6v0.6h-0.6zM395.7 75.4h0.6v0.6h-0.6zM394.2 76.2h0.6v0.6h-0.6zM394.9 78.5h0.6v0.6h-0.6zM390.1 74.5h0.6v0.6h-0.6zM392.2 77.7h0.6v0.6h-0.6zM398.7 77.5h0.6v0.6h-0.6zM397.3 72.9h0.6v0.6h-0.6zM397.6 79.0h0.6v0.6h-0.6zM394.3 79.0h0.6v0.6h-0.6zM395.4 72.7h0.6v0.6h-0.6zM392.0 75.4h0.6v0.6h-0.6zM392.0 77.8h0.6v0.6h-0.6zM393.6 75.5h0.6v0.6h-0.6zM394.6 78.5h0.6v0.6h-0.6zM390.3 74.3h0.6v0.6h-0.6zM393.0 75.3h0.6v0.6h-0.6zM391.2 76.7h0.6v0.6h-0.6zM393.1 78.4h0.6v0.6h-0.6zM395.5 78.1h0.6v0.6h-0.6zM396.3 74.6h0.6v0.6h-0.6zM394.8 77.9h0.6v0.6h-0.6zM394.3 77.2h0.6v0.6h-0.6zM397.5 79.1h0.6v0.6h-0.6zM390.3 76.6h0.6v0.6h-0.6zM395.8 76.2h0.6v0.6h-0.6zM397.7 70.7h0.6v0.6h-0.6zM393.5 73.9h0.6v0.6h-0.6zM392.1 73.5h0.6v0.6h-0.6zM400.7 75.3h0.6v0.6h-0.6zM393.1 75.3h0.6v0.6h-0.6zM418.1 52.2h0.6v0.6h-0.6zM401.4 69.0h0.6v0.6h-0.6zM400.9 65.5h0.6v0.6h-0.6zM414.2 51.5h0.6v0.6h-0.6zM425.0 66.2h0.6v0.6h-0.6zM439.0 79.7h0.6v0.6h-0.6zM429.6 43.5h0.6v0.6h-0.6zM423.1 54.9h0.6v0.6h-0.6zM436.6 52.5h0.6v0.6h-0.6zM407.7 31.8h0.6v0.6h-0.6zM413.3 56.8h0.6v0.6h-0.6zM405.3 35.7h0.6v0.6h-0.6zM414.0 34.0h0.6v0.6h-0.6zM398.5 52.4h0.6v0.6h-0.6zM407.2 55.2h0.6v0.6h-0.6zM416.2 49.7h0.6v0.6h-0.6zM396.6 31.4h0.6v0.6h-0.6zM417.7 78.3h0.6v0.6h-0.6zM403.9 47.8h0.6v0.6h-0.6zM405.8 67.1h0.6v0.6h-0.6zM414.4 69.7h0.6v0.6h-0.6zM390.3 37.0h0.6v0.6h-0.6zM400.2 48.7h0.6v0.6h-0.6zM409.8 49.5h0.6v0.6h-0.6zM437.8 52.2h0.6v0.6h-0.6zM418.5 78.0h0.6v0.6h-0.6zM421.8 59.8h0.6v0.6h-0.6zM431.0 47.0h0.6v0.6h-0.6zM391.8 77.7h0.6v0.6h-0.6zM416.5 59.2h0.6v0.6h-0.6zM393.3 67.2h0.6v0.6h-0.6zM408.5 62.2h0.6v0.6h-0.6zM404.0 75.8h0.6v0.6h-0.6zM408.3 44.1h0.6v0.6h-0.6zM434.2 41.5h0.6v0.6h-0.6zM403.4 54.5h0.6v0.6h-0.6zM438.6 36.2h0.6v0.6h-0.6zM400.4 69.7h0.6v0.6h-0.6zM393.7 50.9h0.6v0.6h-0.6zM428.8 65.6h0.6v0.6h-0.6zM429.3 36.3h0.6v0.6h-0.6zM434.0 48.1h0.6v0.6h-0.6zM430.3 53.8h0.6v0.6h-0.6zM434.1 54.1h0.6v0.6h-0.6zM402.8 37.9h0.6v0.6h-0.6zM414.6 33.0h0.6v0.6h-0.6zM398.1 73.6h0.6v0.6h-0.6zM418.4 73.1h0.6v0.6h-0.6zM397.5 54.2h0.6v0.6h-0.6zM413.2 35.8h0.6v0.6h-0.6zM403.0 75.9h0.6v0.6h-0.6zM425.8 55.6h0.6v0.6h-0.6zM420.2 72.9h0.6v0.6h-0.6zM437.2 59.8h0.6v0.6h-0.6zM392.5 73.5h0.6v0.6h-0.6zM398.2 42.3h0.6v0.6h-0.6zM396.8 55.8h0.6v0.6h-0.6zM418.8 53.2h0.6v0.6h-0.6zM413.3 37.4h0.6v0.6h-0.6zM425.5 57.0h0.6v0.6h-0.6zM405.3 71.6h0.6v0.6h-0.6zM436.5 76.0h0.6v0.6h-0.6zM438.8 33.9h0.6v0.6h-0.6zM409.2 52.7h0.6v0.6h-0.6zM402.7 67.2h0.6v0.6h-0.6zM434.8 37.3h0.6v0.6h-0.6zM415.1 78.2h0.6v0.6h-0.6zM434.0 52.7h0.6v0.6h-0.6zM395.2 53.0h0.6v0.6h-0.6zM415.6 69.2h0.6v0.6h-0.6zM399.2 44.3h0.6v0.6h-0.6zM438.7 31.1h0.6v0.6h-0.6zM420.2 35.2h0.6v0.6h-0.6zM427.2 51.4h0.6v0.6h-0.6zM435.8 41.5h0.6v0.6h-0.6zM433.4 41.7h0.6v0.6h-0.6zM392.4 34.8h0.6v0.6h-0.6zM393.8 49.7h0.6v0.6h-0.6zM438.1 48.0h0.6v0.6h-0.6zM425.5 32.2h0.6v0.6h-0.6zM415.5 57.1h0.6v0.6h-0.6zM394.9 59.1h0.6v0.6h-0.6zM412.1 46.6h0.6v0.6h-0.6zM431.1 64.6h0.6v0.6h-0.6zM396.0 35.7h0.6v0.6h-0.6zM392.6 43.5h0.6v0.6h-0.6zM421.5 78.2h0.6v0.6h-0.6zM438.0 73.1h0.6v0.6h-0.6zM396.2 69.5h0.6v0.6h-0.6zM427.7 53.8h0.6v0.6h-0.6zM439.3 60.0h0.6v0.6h-0.6zM395.9 41.1h0.6v0.6h-0.6zM396.4 60.6h0.6v0.6h-0.6zM420.9 72.8h0.6v0.6h-0.6zM390.5 31.0h0.6v0.6h-0.6zM438.1 43.4h0.6v0.6h-0.6zM403.1 73.2h0.6v0.6h-0.6zM395.5 69.6h0.6v0.6h-0.6zM434.4 58.2h0.6v0.6h-0.6zM420.1 30.8h0.6v0.6h-0.6zM420.0 60.8h0.6v0.6h-0.6zM428.2 56.0h0.6v0.6h-0.6zM395.6 41.5h0.6v0.6h-0.6zM422.3 34.4h0.6v0.6h-0.6zM395.3 42.9h0.6v0.6h-0.6zM429.4 57.4h0.6v0.6h-0.6zM407.7 78.0h0.6v0.6h-0.6zM418.8 42.3h0.6v0.6h-0.6zM418.0 72.7h0.6v0.6h-0.6zM408.2 51.9h0.6v0.6h-0.6zM418.6 79.2h0.6v0.6h-0.6zM421.6 39.4h0.6v0.6h-0.6zM418.8 46.3h0.6v0.6h-0.6zM413.4 65.6h0.6v0.6h-0.6zM391.0 55.5h0.6v0.6h-0.6zM405.5 60.0h0.6v0.6h-0.6zM430.6 53.5h0.6v0.6h-0.6zM421.2 44.7h0.6v0.6h-0.6zM402.7 55.6h0.6v0.6h-0.6zM416.4 41.5h0.6v0.6h-0.6zM427.9 55.1h0.6v0.6h-0.6zM407.6 43.0h0.6v0.6h-0.6zM431.4 75.0h0.6v0.6h-0.6zM436.4 42.7h0.6v0.6h-0.6zM393.5 61.6h0.6v0.6h-0.6zM391.2 72.7h0.6v0.6h-0.6zM423.6 47.1h0.6v0.6h-0.6zM411.9 64.2h0.6v0.6h-0.6zM397.9 48.5h0.6v0.6h-0.6zM428.9 64.1h0.6v0.6h-0.6zM419.0 35.6h0.6v0.6h-0.6zM400.7 43.1h0.6v0.6h-0.6zM391.6 62.0h0.6v0.6h-0.6zM418.4 76.1h0.6v0.6h-0.6zM417.4 75.8h0.6v0.6h-0.6zM413.2 56.0h0.6v0.6h-0.6zM403.9 53.4h0.6v0.6h-0.6zM436.4 54.5h0.6v0.6h-0.6zM390.1 47.9h0.6v0.6h-0.6zM399.8 61.2h0.6v0.6h-0.6zM415.2 54.0h0.6v0.6h-0.6zM435.9 68.1h0.6v0.6h-0.6zM394.3 32.0h0.6v0.6h-0.6zM424.7 59.9h0.6v0.6h-0.6zM422.3 55.2h0.6v0.6h-0.6zM391.8 52.8h0.6v0.6h-0.6zM431.4 60.2h0.6v0.6h-0.6zM392.2 36.6h0.6v0.6h-0.6zM434.8 57.4h0.6v0.6h-0.6zM398.1 65.3h0.6v0.6h-0.6z" fill="#111" opacity="0.75"/>
<line x1="406.00" y1="30.00" x2="406.00" y2="80.20" stroke="#777" stroke-width="0.6" />
<line x1="389.40" y1="61.40" x2="439.80" y2="61.40" stroke="#777" stroke-width="0.6" />
<text x="271.70" y="88.35" font-size="6.8" fill="#1a1a1a" stroke="#1a1a1a" stroke-width="0.28" textLength="12.8" lengthAdjust="spacingAndGlyphs">CD19</text>
<line x1="289.60" y1="81.00" x2="289.60" y2="94.20" stroke="#111" stroke-width="0.9" />
<line x1="289.60" y1="94.20" x2="299.50" y2="94.20" stroke="#111" stroke-width="0.9" />
<path d="M287.8 83 L289.6 79.5 L291.4 83 Z" fill="#111"/>
<path d="M298.5 92.4 L302 94.2 L298.5 96 Z" fill="#111"/>
<text x="288.65" y="103.85" font-size="6.8" fill="#1a1a1a" stroke="#1a1a1a" stroke-width="0.28" textLength="13.3" lengthAdjust="spacingAndGlyphs">CD34</text>
<text x="270.60" y="126.30" font-size="11" text-anchor="start" fill="#111" font-weight="bold" stroke="#111" stroke-width="0.35" >C</text>
<rect x="297.80" y="128.80" width="75.00" height="65.50" fill="#fff" stroke="#111" stroke-width="0.9" rx="0" />
<path d="M299.0 193.4 L299.5 193.3 L299.9 193.1 L300.4 192.9 L300.8 192.7 L301.3 192.4 L301.8 192.1 L302.2 191.8 L302.7 191.3 L303.1 190.8 L303.6 190.3 L304.1 189.6 L304.5 188.8 L305.0 187.9 L305.4 186.9 L305.9 185.7 L306.4 184.4 L306.8 182.9 L307.3 181.3 L307.7 179.4 L308.2 177.3 L308.7 175.1 L309.1 172.6 L309.6 169.9 L310.0 166.9 L310.5 163.8 L311.0 160.5 L311.4 157.0 L311.9 153.5 L312.3 149.9 L312.8 146.3 L313.3 142.9 L313.7 139.8 L314.2 137.2 L314.6 135.8 L315.1 136.7 L315.6 138.0 L316.0 139.6 L316.5 141.5 L316.9 143.5 L317.4 145.5 L317.9 147.7 L318.3 149.9 L318.8 152.0 L319.2 154.2 L319.7 156.4 L320.2 158.5 L320.6 160.6 L321.1 162.6 L321.5 164.6 L322.0 166.5 L322.5 168.3 L322.9 170.0 L323.4 171.7 L323.8 173.3 L324.3 174.8 L324.8 176.2 L325.2 177.6 L325.7 178.8 L326.1 180.0 L326.6 181.1 L327.1 182.2 L327.5 183.2 L328.0 184.1 L328.4 184.9 L328.9 185.7 L329.4 186.4 L329.8 187.1 L330.3 187.7 L330.7 188.3 L331.2 188.8 L331.7 189.3 L332.1 189.7 L332.6 190.1 L333.0 190.5 L333.5 190.9 L334.0 191.2 L334.4 191.4 L334.9 191.7 L335.3 191.9 L335.8 192.1 L336.3 192.3 L336.7 192.5 L337.2 192.7 L337.6 192.8 L338.1 192.9 L338.6 193.0 L339.0 193.2 L339.5 193.2 L339.9 193.3 L340.4 193.4 L340.9 193.5 L341.3 193.5 L341.8 193.6 L342.2 193.6 L342.7 193.7 L343.2 193.7 L343.6 193.7 L344.1 193.8 L344.5 193.8 L345.0 193.8" fill="#8b9bbf" stroke="#3a56a0" stroke-width="1.0"/>
<path d="M328.0 193.9 L328.4 193.9 L328.9 193.9 L329.3 193.9 L329.7 193.8 L330.1 193.8 L330.6 193.8 L331.0 193.7 L331.4 193.7 L331.9 193.6 L332.3 193.5 L332.7 193.4 L333.2 193.3 L333.6 193.2 L334.0 193.0 L334.4 192.8 L334.9 192.6 L335.3 192.3 L335.7 192.1 L336.2 191.7 L336.6 191.3 L337.0 190.9 L337.5 190.4 L337.9 189.8 L338.3 189.2 L338.8 188.5 L339.2 187.7 L339.6 186.8 L340.0 185.8 L340.5 184.7 L340.9 183.5 L341.3 182.2 L341.8 180.8 L342.2 179.3 L342.6 177.6 L343.1 175.8 L343.5 173.9 L343.9 171.9 L344.3 169.8 L344.8 167.6 L345.2 165.3 L345.6 163.0 L346.1 160.5 L346.5 158.1 L346.9 155.7 L347.4 153.3 L347.8 150.9 L348.2 148.6 L348.6 146.5 L349.1 144.6 L349.5 142.8 L349.9 141.3 L350.4 140.2 L350.8 139.5 L351.2 139.6 L351.6 140.8 L352.1 142.7 L352.5 145.0 L352.9 147.8 L353.4 150.8 L353.8 154.0 L354.2 157.3 L354.7 160.6 L355.1 163.8 L355.5 167.0 L355.9 170.0 L356.4 172.8 L356.8 175.4 L357.2 177.8 L357.7 180.0 L358.1 182.0 L358.5 183.8 L359.0 185.3 L359.4 186.7 L359.8 187.9 L360.2 188.9 L360.7 189.8 L361.1 190.5 L361.5 191.2 L362.0 191.7 L362.4 192.2 L362.8 192.5 L363.3 192.8 L363.7 193.1 L364.1 193.3 L364.6 193.4 L365.0 193.5 L365.4 193.6 L365.8 193.7 L366.3 193.8 L366.7 193.8 L367.1 193.9 L367.6 193.9 L368.0 193.9 L368.4 193.9 L368.9 194.0 L369.3 194.0 L369.7 194.0 L370.1 194.0 L370.6 194.0 L371.0 194.0" fill="#d4687f" stroke="#b3163e" stroke-width="1.0"/>
<text x="324.50" y="137.30" font-size="5" text-anchor="middle" fill="#222" font-weight="normal" stroke="#222" stroke-width="0.05" >ISO</text>
<text x="359.20" y="137.30" font-size="5" text-anchor="middle" fill="#222" font-weight="normal" stroke="#222" stroke-width="0.05" >THP-1</text>
<text transform="translate(290.14,170.30) rotate(-90)" x="0" y="0" font-size="7.9" fill="#1a1a1a" stroke="#1a1a1a" stroke-width="0.28" textLength="17.6" lengthAdjust="spacingAndGlyphs">Counts</text>
<text x="327.70" y="208.64" font-size="7.9" fill="#1a1a1a" stroke="#1a1a1a" stroke-width="0.28" textLength="16.6" lengthAdjust="spacingAndGlyphs">BCMA</text>
<line x1="297.80" y1="133.00" x2="299.30" y2="133.00" stroke="#222" stroke-width="0.4" />
<line x1="297.80" y1="138.00" x2="299.30" y2="138.00" stroke="#222" stroke-width="0.4" />
<line x1="297.80" y1="143.00" x2="299.30" y2="143.00" stroke="#222" stroke-width="0.4" />
<line x1="297.80" y1="148.00" x2="299.30" y2="148.00" stroke="#222" stroke-width="0.4" />
<line x1="297.80" y1="153.00" x2="299.30" y2="153.00" stroke="#222" stroke-width="0.4" />
<line x1="297.80" y1="158.00" x2="299.30" y2="158.00" stroke="#222" stroke-width="0.4" />
<line x1="297.80" y1="163.00" x2="299.30" y2="163.00" stroke="#222" stroke-width="0.4" />
<line x1="297.80" y1="168.00" x2="299.30" y2="168.00" stroke="#222" stroke-width="0.4" />
<line x1="297.80" y1="173.00" x2="299.30" y2="173.00" stroke="#222" stroke-width="0.4" />
<line x1="297.80" y1="178.00" x2="299.30" y2="178.00" stroke="#222" stroke-width="0.4" />
<line x1="297.80" y1="183.00" x2="299.30" y2="183.00" stroke="#222" stroke-width="0.4" />
<line x1="297.80" y1="188.00" x2="299.30" y2="188.00" stroke="#222" stroke-width="0.4" />
<line x1="300.00" y1="194.30" x2="300.00" y2="195.80" stroke="#222" stroke-width="0.4" />
<line x1="304.60" y1="194.30" x2="304.60" y2="195.80" stroke="#222" stroke-width="0.4" />
<line x1="309.20" y1="194.30" x2="309.20" y2="195.80" stroke="#222" stroke-width="0.4" />
<line x1="313.80" y1="194.30" x2="313.80" y2="195.80" stroke="#222" stroke-width="0.4" />
<line x1="318.40" y1="194.30" x2="318.40" y2="195.80" stroke="#222" stroke-width="0.4" />
<line x1="323.00" y1="194.30" x2="323.00" y2="195.80" stroke="#222" stroke-width="0.4" />
<line x1="327.60" y1="194.30" x2="327.60" y2="195.80" stroke="#222" stroke-width="0.4" />
<line x1="332.20" y1="194.30" x2="332.20" y2="195.80" stroke="#222" stroke-width="0.4" />
<line x1="336.80" y1="194.30" x2="336.80" y2="195.80" stroke="#222" stroke-width="0.4" />
<line x1="341.40" y1="194.30" x2="341.40" y2="195.80" stroke="#222" stroke-width="0.4" />
<line x1="346.00" y1="194.30" x2="346.00" y2="195.80" stroke="#222" stroke-width="0.4" />
<line x1="350.60" y1="194.30" x2="350.60" y2="195.80" stroke="#222" stroke-width="0.4" />
<line x1="355.20" y1="194.30" x2="355.20" y2="195.80" stroke="#222" stroke-width="0.4" />
<line x1="359.80" y1="194.30" x2="359.80" y2="195.80" stroke="#222" stroke-width="0.4" />
<line x1="364.40" y1="194.30" x2="364.40" y2="195.80" stroke="#222" stroke-width="0.4" />
<line x1="369.00" y1="194.30" x2="369.00" y2="195.80" stroke="#222" stroke-width="0.4" />
<text x="9.30" y="88.80" font-size="11" text-anchor="start" fill="#111" font-weight="bold" stroke="#111" stroke-width="0.35" >D</text>
<text x="55.60" y="107.90" font-size="6.5" text-anchor="middle" fill="#1a1a1a" font-weight="normal" stroke="#1a1a1a" stroke-width="0.05" textLength="33" lengthAdjust="spacingAndGlyphs">Tumor alone</text>
<text x="101.60" y="107.90" font-size="6.5" text-anchor="middle" fill="#1a1a1a" font-weight="normal" stroke="#1a1a1a" stroke-width="0.05" textLength="20.8" lengthAdjust="spacingAndGlyphs">NT Rim</text>
<text x="168.40" y="96.40" font-size="6.6" text-anchor="middle" fill="#222" font-weight="normal" stroke="#222" stroke-width="0.05" >DS.BCMA.ζIL15</text>
<line x1="128.70" y1="100.30" x2="207.50" y2="100.30" stroke="#333" stroke-width="1.1" />
<text x="147.80" y="108.20" font-size="6.4" text-anchor="middle" fill="#222" font-weight="normal" stroke="#222" stroke-width="0.05" >Veh</text>
<text x="191.50" y="108.20" font-size="6.4" text-anchor="middle" fill="#222" font-weight="normal" stroke="#222" stroke-width="0.05" >Rim</text>
<text x="33.60" y="117.60" font-size="6.4" text-anchor="end" fill="#222" font-weight="normal" stroke="#222" stroke-width="0.05" >0</text>
<text x="33.60" y="144.20" font-size="6.4" text-anchor="end" fill="#222" font-weight="normal" stroke="#222" stroke-width="0.05" >12</text>
<text x="33.60" y="170.40" font-size="6.4" text-anchor="end" fill="#222" font-weight="normal" stroke="#222" stroke-width="0.05" >19</text>
<text x="33.60" y="192.10" font-size="6.4" text-anchor="end" fill="#222" font-weight="normal" stroke="#222" stroke-width="0.05" >26</text>
<text x="33.60" y="213.90" font-size="6.4" text-anchor="end" fill="#222" font-weight="normal" stroke="#222" stroke-width="0.05" >33</text>
<text x="33.60" y="236.40" font-size="6.4" text-anchor="end" fill="#222" font-weight="normal" stroke="#222" stroke-width="0.05" >40</text>
<text x="33.60" y="262.10" font-size="6.4" text-anchor="end" fill="#222" font-weight="normal" stroke="#222" stroke-width="0.05" >44</text>
<line x1="21.80" y1="114.00" x2="21.80" y2="260.50" stroke="#555" stroke-width="0.9" />
<text transform="translate(14.50,187.30) rotate(-90)" font-size="6.3" text-anchor="middle" fill="#1a1a1a" stroke="#1a1a1a" stroke-width="0.08" font-weight="normal" dominant-baseline="central">Days post NK injection</text>
<rect x="36.30" y="109.60" width="36.80" height="20.40" fill="#1e1e1e" stroke="none" stroke-width="1" rx="0" />
<g filter="url(#bl)"><path d="M0,0 C0.7,0 1.3,1.2 1.7,2.8 L2.9,5.8 C3.5,7.3 4.0,8.8 4.15,10.8 C4.2,13 4.1,15.5 3.8,17.4 C3.6,18.6 3.2,19 2.4,19 L-2.4,19 C-3.2,19 -3.6,18.6 -3.8,17.4 C-4.1,15.5 -4.2,13 -4.15,10.8 C-4.0,8.8 -3.5,7.3 -2.9,5.8 L-1.7,2.8 C-1.3,1.2 -0.7,0 0,0 Z" transform="translate(40.60,110.60) scale(0.931,0.960)" fill="url(#mg)"/></g>
<g filter="url(#bl)"><path d="M0,0 C0.7,0 1.3,1.2 1.7,2.8 L2.9,5.8 C3.5,7.3 4.0,8.8 4.15,10.8 C4.2,13 4.1,15.5 3.8,17.4 C3.6,18.6 3.2,19 2.4,19 L-2.4,19 C-3.2,19 -3.6,18.6 -3.8,17.4 C-4.1,15.5 -4.2,13 -4.15,10.8 C-4.0,8.8 -3.5,7.3 -2.9,5.8 L-1.7,2.8 C-1.3,1.2 -0.7,0 0,0 Z" transform="translate(49.30,110.60) scale(0.931,0.960)" fill="url(#mg)"/></g>
<g filter="url(#bl)"><path d="M0,0 C0.7,0 1.3,1.2 1.7,2.8 L2.9,5.8 C3.5,7.3 4.0,8.8 4.15,10.8 C4.2,13 4.1,15.5 3.8,17.4 C3.6,18.6 3.2,19 2.4,19 L-2.4,19 C-3.2,19 -3.6,18.6 -3.8,17.4 C-4.1,15.5 -4.2,13 -4.15,10.8 C-4.0,8.8 -3.5,7.3 -2.9,5.8 L-1.7,2.8 C-1.3,1.2 -0.7,0 0,0 Z" transform="translate(58.30,110.60) scale(0.931,0.960)" fill="url(#mg)"/></g>
<g filter="url(#bl)"><path d="M0,0 C0.7,0 1.3,1.2 1.7,2.8 L2.9,5.8 C3.5,7.3 4.0,8.8 4.15,10.8 C4.2,13 4.1,15.5 3.8,17.4 C3.6,18.6 3.2,19 2.4,19 L-2.4,19 C-3.2,19 -3.6,18.6 -3.8,17.4 C-4.1,15.5 -4.2,13 -4.15,10.8 C-4.0,8.8 -3.5,7.3 -2.9,5.8 L-1.7,2.8 C-1.3,1.2 -0.7,0 0,0 Z" transform="translate(67.80,110.60) scale(0.931,0.960)" fill="url(#mg)"/></g>
<rect x="77.10" y="109.60" width="43.90" height="20.40" fill="#1e1e1e" stroke="none" stroke-width="1" rx="0" />
<g filter="url(#bl)"><path d="M0,0 C0.7,0 1.3,1.2 1.7,2.8 L2.9,5.8 C3.5,7.3 4.0,8.8 4.15,10.8 C4.2,13 4.1,15.5 3.8,17.4 C3.6,18.6 3.2,19 2.4,19 L-2.4,19 C-3.2,19 -3.6,18.6 -3.8,17.4 C-4.1,15.5 -4.2,13 -4.15,10.8 C-4.0,8.8 -3.5,7.3 -2.9,5.8 L-1.7,2.8 C-1.3,1.2 -0.7,0 0,0 Z" transform="translate(81.30,110.60) scale(0.931,0.960)" fill="url(#mg)"/></g>
<g filter="url(#bl)"><path d="M0,0 C0.7,0 1.3,1.2 1.7,2.8 L2.9,5.8 C3.5,7.3 4.0,8.8 4.15,10.8 C4.2,13 4.1,15.5 3.8,17.4 C3.6,18.6 3.2,19 2.4,19 L-2.4,19 C-3.2,19 -3.6,18.6 -3.8,17.4 C-4.1,15.5 -4.2,13 -4.15,10.8 C-4.0,8.8 -3.5,7.3 -2.9,5.8 L-1.7,2.8 C-1.3,1.2 -0.7,0 0,0 Z" transform="translate(89.80,110.60) scale(0.931,0.960)" fill="url(#mg)"/></g>
<g filter="url(#bl)"><path d="M0,0 C0.7,0 1.3,1.2 1.7,2.8 L2.9,5.8 C3.5,7.3 4.0,8.8 4.15,10.8 C4.2,13 4.1,15.5 3.8,17.4 C3.6,18.6 3.2,19 2.4,19 L-2.4,19 C-3.2,19 -3.6,18.6 -3.8,17.4 C-4.1,15.5 -4.2,13 -4.15,10.8 C-4.0,8.8 -3.5,7.3 -2.9,5.8 L-1.7,2.8 C-1.3,1.2 -0.7,0 0,0 Z" transform="translate(98.80,110.60) scale(0.931,0.960)" fill="url(#mg)"/></g>
<g filter="url(#bl)"><path d="M0,0 C0.7,0 1.3,1.2 1.7,2.8 L2.9,5.8 C3.5,7.3 4.0,8.8 4.15,10.8 C4.2,13 4.1,15.5 3.8,17.4 C3.6,18.6 3.2,19 2.4,19 L-2.4,19 C-3.2,19 -3.6,18.6 -3.8,17.4 C-4.1,15.5 -4.2,13 -4.15,10.8 C-4.0,8.8 -3.5,7.3 -2.9,5.8 L-1.7,2.8 C-1.3,1.2 -0.7,0 0,0 Z" transform="translate(107.80,110.60) scale(0.931,0.960)" fill="url(#mg)"/></g>
<g filter="url(#bl)"><path d="M0,0 C0.7,0 1.3,1.2 1.7,2.8 L2.9,5.8 C3.5,7.3 4.0,8.8 4.15,10.8 C4.2,13 4.1,15.5 3.8,17.4 C3.6,18.6 3.2,19 2.4,19 L-2.4,19 C-3.2,19 -3.6,18.6 -3.8,17.4 C-4.1,15.5 -4.2,13 -4.15,10.8 C-4.0,8.8 -3.5,7.3 -2.9,5.8 L-1.7,2.8 C-1.3,1.2 -0.7,0 0,0 Z" transform="translate(116.60,110.60) scale(0.931,0.960)" fill="url(#mg)"/></g>
<rect x="122.20" y="109.60" width="44.90" height="20.40" fill="#1e1e1e" stroke="none" stroke-width="1" rx="0" />
<g filter="url(#bl)"><path d="M0,0 C0.7,0 1.3,1.2 1.7,2.8 L2.9,5.8 C3.5,7.3 4.0,8.8 4.15,10.8 C4.2,13 4.1,15.5 3.8,17.4 C3.6,18.6 3.2,19 2.4,19 L-2.4,19 C-3.2,19 -3.6,18.6 -3.8,17.4 C-4.1,15.5 -4.2,13 -4.15,10.8 C-4.0,8.8 -3.5,7.3 -2.9,5.8 L-1.7,2.8 C-1.3,1.2 -0.7,0 0,0 Z" transform="translate(126.30,110.60) scale(0.931,0.960)" fill="url(#mg)"/></g>
<g filter="url(#bl)"><path d="M0,0 C0.7,0 1.3,1.2 1.7,2.8 L2.9,5.8 C3.5,7.3 4.0,8.8 4.15,10.8 C4.2,13 4.1,15.5 3.8,17.4 C3.6,18.6 3.2,19 2.4,19 L-2.4,19 C-3.2,19 -3.6,18.6 -3.8,17.4 C-4.1,15.5 -4.2,13 -4.15,10.8 C-4.0,8.8 -3.5,7.3 -2.9,5.8 L-1.7,2.8 C-1.3,1.2 -0.7,0 0,0 Z" transform="translate(135.20,110.60) scale(0.931,0.960)" fill="url(#mg)"/></g>
<g filter="url(#bl)"><path d="M0,0 C0.7,0 1.3,1.2 1.7,2.8 L2.9,5.8 C3.5,7.3 4.0,8.8 4.15,10.8 C4.2,13 4.1,15.5 3.8,17.4 C3.6,18.6 3.2,19 2.4,19 L-2.4,19 C-3.2,19 -3.6,18.6 -3.8,17.4 C-4.1,15.5 -4.2,13 -4.15,10.8 C-4.0,8.8 -3.5,7.3 -2.9,5.8 L-1.7,2.8 C-1.3,1.2 -0.7,0 0,0 Z" transform="translate(144.20,110.60) scale(0.931,0.960)" fill="url(#mg)"/></g>
<g filter="url(#bl)"><path d="M0,0 C0.7,0 1.3,1.2 1.7,2.8 L2.9,5.8 C3.5,7.3 4.0,8.8 4.15,10.8 C4.2,13 4.1,15.5 3.8,17.4 C3.6,18.6 3.2,19 2.4,19 L-2.4,19 C-3.2,19 -3.6,18.6 -3.8,17.4 C-4.1,15.5 -4.2,13 -4.15,10.8 C-4.0,8.8 -3.5,7.3 -2.9,5.8 L-1.7,2.8 C-1.3,1.2 -0.7,0 0,0 Z" transform="translate(153.20,110.60) scale(0.931,0.960)" fill="url(#mg)"/></g>
<g filter="url(#bl)"><path d="M0,0 C0.7,0 1.3,1.2 1.7,2.8 L2.9,5.8 C3.5,7.3 4.0,8.8 4.15,10.8 C4.2,13 4.1,15.5 3.8,17.4 C3.6,18.6 3.2,19 2.4,19 L-2.4,19 C-3.2,19 -3.6,18.6 -3.8,17.4 C-4.1,15.5 -4.2,13 -4.15,10.8 C-4.0,8.8 -3.5,7.3 -2.9,5.8 L-1.7,2.8 C-1.3,1.2 -0.7,0 0,0 Z" transform="translate(162.30,110.60) scale(0.931,0.960)" fill="url(#mg)"/></g>
<rect x="168.20" y="109.60" width="45.90" height="20.40" fill="#1e1e1e" stroke="none" stroke-width="1" rx="0" />
<g filter="url(#bl)"><path d="M0,0 C0.7,0 1.3,1.2 1.7,2.8 L2.9,5.8 C3.5,7.3 4.0,8.8 4.15,10.8 C4.2,13 4.1,15.5 3.8,17.4 C3.6,18.6 3.2,19 2.4,19 L-2.4,19 C-3.2,19 -3.6,18.6 -3.8,17.4 C-4.1,15.5 -4.2,13 -4.15,10.8 C-4.0,8.8 -3.5,7.3 -2.9,5.8 L-1.7,2.8 C-1.3,1.2 -0.7,0 0,0 Z" transform="translate(172.50,110.60) scale(0.931,0.960)" fill="url(#mg)"/></g>
<g filter="url(#bl)"><path d="M0,0 C0.7,0 1.3,1.2 1.7,2.8 L2.9,5.8 C3.5,7.3 4.0,8.8 4.15,10.8 C4.2,13 4.1,15.5 3.8,17.4 C3.6,18.6 3.2,19 2.4,19 L-2.4,19 C-3.2,19 -3.6,18.6 -3.8,17.4 C-4.1,15.5 -4.2,13 -4.15,10.8 C-4.0,8.8 -3.5,7.3 -2.9,5.8 L-1.7,2.8 C-1.3,1.2 -0.7,0 0,0 Z" transform="translate(181.50,110.60) scale(0.931,0.960)" fill="url(#mg)"/></g>
<g filter="url(#bl)"><path d="M0,0 C0.7,0 1.3,1.2 1.7,2.8 L2.9,5.8 C3.5,7.3 4.0,8.8 4.15,10.8 C4.2,13 4.1,15.5 3.8,17.4 C3.6,18.6 3.2,19 2.4,19 L-2.4,19 C-3.2,19 -3.6,18.6 -3.8,17.4 C-4.1,15.5 -4.2,13 -4.15,10.8 C-4.0,8.8 -3.5,7.3 -2.9,5.8 L-1.7,2.8 C-1.3,1.2 -0.7,0 0,0 Z" transform="translate(190.60,110.60) scale(0.931,0.960)" fill="url(#mg)"/></g>
<g filter="url(#bl)"><path d="M0,0 C0.7,0 1.3,1.2 1.7,2.8 L2.9,5.8 C3.5,7.3 4.0,8.8 4.15,10.8 C4.2,13 4.1,15.5 3.8,17.4 C3.6,18.6 3.2,19 2.4,19 L-2.4,19 C-3.2,19 -3.6,18.6 -3.8,17.4 C-4.1,15.5 -4.2,13 -4.15,10.8 C-4.0,8.8 -3.5,7.3 -2.9,5.8 L-1.7,2.8 C-1.3,1.2 -0.7,0 0,0 Z" transform="translate(199.80,110.60) scale(0.931,0.960)" fill="url(#mg)"/></g>
<g filter="url(#bl)"><path d="M0,0 C0.7,0 1.3,1.2 1.7,2.8 L2.9,5.8 C3.5,7.3 4.0,8.8 4.15,10.8 C4.2,13 4.1,15.5 3.8,17.4 C3.6,18.6 3.2,19 2.4,19 L-2.4,19 C-3.2,19 -3.6,18.6 -3.8,17.4 C-4.1,15.5 -4.2,13 -4.15,10.8 C-4.0,8.8 -3.5,7.3 -2.9,5.8 L-1.7,2.8 C-1.3,1.2 -0.7,0 0,0 Z" transform="translate(209.20,110.60) scale(0.931,0.960)" fill="url(#mg)"/></g>
<rect x="36.30" y="132.20" width="36.80" height="20.70" fill="#1e1e1e" stroke="none" stroke-width="1" rx="0" />
<g filter="url(#bl)"><path d="M0,0 C0.7,0 1.3,1.2 1.7,2.8 L2.9,5.8 C3.5,7.3 4.0,8.8 4.15,10.8 C4.2,13 4.1,15.5 3.8,17.4 C3.6,18.6 3.2,19 2.4,19 L-2.4,19 C-3.2,19 -3.6,18.6 -3.8,17.4 C-4.1,15.5 -4.2,13 -4.15,10.8 C-4.0,8.8 -3.5,7.3 -2.9,5.8 L-1.7,2.8 C-1.3,1.2 -0.7,0 0,0 Z" transform="translate(40.60,133.20) scale(0.931,0.960)" fill="url(#mg)"/></g>
<g filter="url(#bl)"><path d="M0,0 C0.7,0 1.3,1.2 1.7,2.8 L2.9,5.8 C3.5,7.3 4.0,8.8 4.15,10.8 C4.2,13 4.1,15.5 3.8,17.4 C3.6,18.6 3.2,19 2.4,19 L-2.4,19 C-3.2,19 -3.6,18.6 -3.8,17.4 C-4.1,15.5 -4.2,13 -4.15,10.8 C-4.0,8.8 -3.5,7.3 -2.9,5.8 L-1.7,2.8 C-1.3,1.2 -0.7,0 0,0 Z" transform="translate(49.30,133.20) scale(0.931,0.960)" fill="url(#mg)"/></g>
<g filter="url(#bl)"><path d="M0,0 C0.7,0 1.3,1.2 1.7,2.8 L2.9,5.8 C3.5,7.3 4.0,8.8 4.15,10.8 C4.2,13 4.1,15.5 3.8,17.4 C3.6,18.6 3.2,19 2.4,19 L-2.4,19 C-3.2,19 -3.6,18.6 -3.8,17.4 C-4.1,15.5 -4.2,13 -4.15,10.8 C-4.0,8.8 -3.5,7.3 -2.9,5.8 L-1.7,2.8 C-1.3,1.2 -0.7,0 0,0 Z" transform="translate(58.30,133.20) scale(0.931,0.960)" fill="url(#mg)"/></g>
<g filter="url(#bl)"><path d="M0,0 C0.7,0 1.3,1.2 1.7,2.8 L2.9,5.8 C3.5,7.3 4.0,8.8 4.15,10.8 C4.2,13 4.1,15.5 3.8,17.4 C3.6,18.6 3.2,19 2.4,19 L-2.4,19 C-3.2,19 -3.6,18.6 -3.8,17.4 C-4.1,15.5 -4.2,13 -4.15,10.8 C-4.0,8.8 -3.5,7.3 -2.9,5.8 L-1.7,2.8 C-1.3,1.2 -0.7,0 0,0 Z" transform="translate(67.80,133.20) scale(0.931,0.960)" fill="url(#mg)"/></g>
<rect x="77.10" y="132.20" width="43.90" height="20.70" fill="#1e1e1e" stroke="none" stroke-width="1" rx="0" />
<g filter="url(#bl)"><path d="M0,0 C0.7,0 1.3,1.2 1.7,2.8 L2.9,5.8 C3.5,7.3 4.0,8.8 4.15,10.8 C4.2,13 4.1,15.5 3.8,17.4 C3.6,18.6 3.2,19 2.4,19 L-2.4,19 C-3.2,19 -3.6,18.6 -3.8,17.4 C-4.1,15.5 -4.2,13 -4.15,10.8 C-4.0,8.8 -3.5,7.3 -2.9,5.8 L-1.7,2.8 C-1.3,1.2 -0.7,0 0,0 Z" transform="translate(81.30,133.20) scale(0.931,0.960)" fill="url(#mg)"/></g>
<g filter="url(#bl)"><path d="M0,0 C0.7,0 1.3,1.2 1.7,2.8 L2.9,5.8 C3.5,7.3 4.0,8.8 4.15,10.8 C4.2,13 4.1,15.5 3.8,17.4 C3.6,18.6 3.2,19 2.4,19 L-2.4,19 C-3.2,19 -3.6,18.6 -3.8,17.4 C-4.1,15.5 -4.2,13 -4.15,10.8 C-4.0,8.8 -3.5,7.3 -2.9,5.8 L-1.7,2.8 C-1.3,1.2 -0.7,0 0,0 Z" transform="translate(89.80,133.20) scale(0.931,0.960)" fill="url(#mg)"/></g>
<g filter="url(#bl)"><path d="M0,0 C0.7,0 1.3,1.2 1.7,2.8 L2.9,5.8 C3.5,7.3 4.0,8.8 4.15,10.8 C4.2,13 4.1,15.5 3.8,17.4 C3.6,18.6 3.2,19 2.4,19 L-2.4,19 C-3.2,19 -3.6,18.6 -3.8,17.4 C-4.1,15.5 -4.2,13 -4.15,10.8 C-4.0,8.8 -3.5,7.3 -2.9,5.8 L-1.7,2.8 C-1.3,1.2 -0.7,0 0,0 Z" transform="translate(98.80,133.20) scale(0.931,0.960)" fill="url(#mg)"/></g>
<g filter="url(#bl)"><path d="M0,0 C0.7,0 1.3,1.2 1.7,2.8 L2.9,5.8 C3.5,7.3 4.0,8.8 4.15,10.8 C4.2,13 4.1,15.5 3.8,17.4 C3.6,18.6 3.2,19 2.4,19 L-2.4,19 C-3.2,19 -3.6,18.6 -3.8,17.4 C-4.1,15.5 -4.2,13 -4.15,10.8 C-4.0,8.8 -3.5,7.3 -2.9,5.8 L-1.7,2.8 C-1.3,1.2 -0.7,0 0,0 Z" transform="translate(107.80,133.20) scale(0.931,0.960)" fill="url(#mg)"/></g>
<g filter="url(#bl)"><path d="M0,0 C0.7,0 1.3,1.2 1.7,2.8 L2.9,5.8 C3.5,7.3 4.0,8.8 4.15,10.8 C4.2,13 4.1,15.5 3.8,17.4 C3.6,18.6 3.2,19 2.4,19 L-2.4,19 C-3.2,19 -3.6,18.6 -3.8,17.4 C-4.1,15.5 -4.2,13 -4.15,10.8 C-4.0,8.8 -3.5,7.3 -2.9,5.8 L-1.7,2.8 C-1.3,1.2 -0.7,0 0,0 Z" transform="translate(116.60,133.20) scale(0.931,0.960)" fill="url(#mg)"/></g>
<rect x="122.20" y="132.20" width="44.90" height="20.70" fill="#1e1e1e" stroke="none" stroke-width="1" rx="0" />
<g filter="url(#bl)"><path d="M0,0 C0.7,0 1.3,1.2 1.7,2.8 L2.9,5.8 C3.5,7.3 4.0,8.8 4.15,10.8 C4.2,13 4.1,15.5 3.8,17.4 C3.6,18.6 3.2,19 2.4,19 L-2.4,19 C-3.2,19 -3.6,18.6 -3.8,17.4 C-4.1,15.5 -4.2,13 -4.15,10.8 C-4.0,8.8 -3.5,7.3 -2.9,5.8 L-1.7,2.8 C-1.3,1.2 -0.7,0 0,0 Z" transform="translate(126.30,133.20) scale(0.931,0.960)" fill="url(#mg)"/></g>
<g filter="url(#bl)"><path d="M0,0 C0.7,0 1.3,1.2 1.7,2.8 L2.9,5.8 C3.5,7.3 4.0,8.8 4.15,10.8 C4.2,13 4.1,15.5 3.8,17.4 C3.6,18.6 3.2,19 2.4,19 L-2.4,19 C-3.2,19 -3.6,18.6 -3.8,17.4 C-4.1,15.5 -4.2,13 -4.15,10.8 C-4.0,8.8 -3.5,7.3 -2.9,5.8 L-1.7,2.8 C-1.3,1.2 -0.7,0 0,0 Z" transform="translate(135.20,133.20) scale(0.931,0.960)" fill="url(#mg)"/></g>
<g filter="url(#bl)"><path d="M0,0 C0.7,0 1.3,1.2 1.7,2.8 L2.9,5.8 C3.5,7.3 4.0,8.8 4.15,10.8 C4.2,13 4.1,15.5 3.8,17.4 C3.6,18.6 3.2,19 2.4,19 L-2.4,19 C-3.2,19 -3.6,18.6 -3.8,17.4 C-4.1,15.5 -4.2,13 -4.15,10.8 C-4.0,8.8 -3.5,7.3 -2.9,5.8 L-1.7,2.8 C-1.3,1.2 -0.7,0 0,0 Z" transform="translate(144.20,133.20) scale(0.931,0.960)" fill="url(#mg)"/></g>
<g filter="url(#bl)"><path d="M0,0 C0.7,0 1.3,1.2 1.7,2.8 L2.9,5.8 C3.5,7.3 4.0,8.8 4.15,10.8 C4.2,13 4.1,15.5 3.8,17.4 C3.6,18.6 3.2,19 2.4,19 L-2.4,19 C-3.2,19 -3.6,18.6 -3.8,17.4 C-4.1,15.5 -4.2,13 -4.15,10.8 C-4.0,8.8 -3.5,7.3 -2.9,5.8 L-1.7,2.8 C-1.3,1.2 -0.7,0 0,0 Z" transform="translate(153.20,133.20) scale(0.931,0.960)" fill="url(#mg)"/></g>
<g filter="url(#bl)"><path d="M0,0 C0.7,0 1.3,1.2 1.7,2.8 L2.9,5.8 C3.5,7.3 4.0,8.8 4.15,10.8 C4.2,13 4.1,15.5 3.8,17.4 C3.6,18.6 3.2,19 2.4,19 L-2.4,19 C-3.2,19 -3.6,18.6 -3.8,17.4 C-4.1,15.5 -4.2,13 -4.15,10.8 C-4.0,8.8 -3.5,7.3 -2.9,5.8 L-1.7,2.8 C-1.3,1.2 -0.7,0 0,0 Z" transform="translate(162.30,133.20) scale(0.931,0.960)" fill="url(#mg)"/></g>
<rect x="168.20" y="132.20" width="45.90" height="20.70" fill="#1e1e1e" stroke="none" stroke-width="1" rx="0" />
<g filter="url(#bl)"><path d="M0,0 C0.7,0 1.3,1.2 1.7,2.8 L2.9,5.8 C3.5,7.3 4.0,8.8 4.15,10.8 C4.2,13 4.1,15.5 3.8,17.4 C3.6,18.6 3.2,19 2.4,19 L-2.4,19 C-3.2,19 -3.6,18.6 -3.8,17.4 C-4.1,15.5 -4.2,13 -4.15,10.8 C-4.0,8.8 -3.5,7.3 -2.9,5.8 L-1.7,2.8 C-1.3,1.2 -0.7,0 0,0 Z" transform="translate(172.50,133.20) scale(0.931,0.960)" fill="url(#mg)"/></g>
<g filter="url(#bl)"><path d="M0,0 C0.7,0 1.3,1.2 1.7,2.8 L2.9,5.8 C3.5,7.3 4.0,8.8 4.15,10.8 C4.2,13 4.1,15.5 3.8,17.4 C3.6,18.6 3.2,19 2.4,19 L-2.4,19 C-3.2,19 -3.6,18.6 -3.8,17.4 C-4.1,15.5 -4.2,13 -4.15,10.8 C-4.0,8.8 -3.5,7.3 -2.9,5.8 L-1.7,2.8 C-1.3,1.2 -0.7,0 0,0 Z" transform="translate(181.50,133.20) scale(0.931,0.960)" fill="url(#mg)"/></g>
<g filter="url(#bl)"><path d="M0,0 C0.7,0 1.3,1.2 1.7,2.8 L2.9,5.8 C3.5,7.3 4.0,8.8 4.15,10.8 C4.2,13 4.1,15.5 3.8,17.4 C3.6,18.6 3.2,19 2.4,19 L-2.4,19 C-3.2,19 -3.6,18.6 -3.8,17.4 C-4.1,15.5 -4.2,13 -4.15,10.8 C-4.0,8.8 -3.5,7.3 -2.9,5.8 L-1.7,2.8 C-1.3,1.2 -0.7,0 0,0 Z" transform="translate(190.60,133.20) scale(0.931,0.960)" fill="url(#mg)"/></g>
<g filter="url(#bl)"><path d="M0,0 C0.7,0 1.3,1.2 1.7,2.8 L2.9,5.8 C3.5,7.3 4.0,8.8 4.15,10.8 C4.2,13 4.1,15.5 3.8,17.4 C3.6,18.6 3.2,19 2.4,19 L-2.4,19 C-3.2,19 -3.6,18.6 -3.8,17.4 C-4.1,15.5 -4.2,13 -4.15,10.8 C-4.0,8.8 -3.5,7.3 -2.9,5.8 L-1.7,2.8 C-1.3,1.2 -0.7,0 0,0 Z" transform="translate(199.80,133.20) scale(0.931,0.960)" fill="url(#mg)"/></g>
<g filter="url(#bl)"><path d="M0,0 C0.7,0 1.3,1.2 1.7,2.8 L2.9,5.8 C3.5,7.3 4.0,8.8 4.15,10.8 C4.2,13 4.1,15.5 3.8,17.4 C3.6,18.6 3.2,19 2.4,19 L-2.4,19 C-3.2,19 -3.6,18.6 -3.8,17.4 C-4.1,15.5 -4.2,13 -4.15,10.8 C-4.0,8.8 -3.5,7.3 -2.9,5.8 L-1.7,2.8 C-1.3,1.2 -0.7,0 0,0 Z" transform="translate(209.20,133.20) scale(0.931,0.960)" fill="url(#mg)"/></g>
<rect x="36.30" y="155.00" width="36.80" height="20.90" fill="#1e1e1e" stroke="none" stroke-width="1" rx="0" />
<g filter="url(#bl)"><path d="M0,0 C0.7,0 1.3,1.2 1.7,2.8 L2.9,5.8 C3.5,7.3 4.0,8.8 4.15,10.8 C4.2,13 4.1,15.5 3.8,17.4 C3.6,18.6 3.2,19 2.4,19 L-2.4,19 C-3.2,19 -3.6,18.6 -3.8,17.4 C-4.1,15.5 -4.2,13 -4.15,10.8 C-4.0,8.8 -3.5,7.3 -2.9,5.8 L-1.7,2.8 C-1.3,1.2 -0.7,0 0,0 Z" transform="translate(40.60,156.00) scale(0.931,0.960)" fill="url(#mg)"/><ellipse cx="41.80" cy="166.00" rx="1.10" ry="1.10" fill="#7b2fe6"/><ellipse cx="41.80" cy="166.00" rx="0.49" ry="0.49" fill="#2b3cf2"/></g>
<g filter="url(#bl)"><path d="M0,0 C0.7,0 1.3,1.2 1.7,2.8 L2.9,5.8 C3.5,7.3 4.0,8.8 4.15,10.8 C4.2,13 4.1,15.5 3.8,17.4 C3.6,18.6 3.2,19 2.4,19 L-2.4,19 C-3.2,19 -3.6,18.6 -3.8,17.4 C-4.1,15.5 -4.2,13 -4.15,10.8 C-4.0,8.8 -3.5,7.3 -2.9,5.8 L-1.7,2.8 C-1.3,1.2 -0.7,0 0,0 Z" transform="translate(49.30,156.00) scale(0.931,0.960)" fill="url(#mg)"/><ellipse cx="50.80" cy="165.50" rx="1.40" ry="1.30" fill="#7b2fe6"/><ellipse cx="50.80" cy="165.50" rx="0.63" ry="0.58" fill="#2b3cf2"/><ellipse cx="49.60" cy="168.50" rx="1.50" ry="1.20" fill="#7b2fe6"/><ellipse cx="49.60" cy="168.50" rx="0.67" ry="0.54" fill="#2b3cf2"/></g>
<g filter="url(#bl)"><path d="M0,0 C0.7,0 1.3,1.2 1.7,2.8 L2.9,5.8 C3.5,7.3 4.0,8.8 4.15,10.8 C4.2,13 4.1,15.5 3.8,17.4 C3.6,18.6 3.2,19 2.4,19 L-2.4,19 C-3.2,19 -3.6,18.6 -3.8,17.4 C-4.1,15.5 -4.2,13 -4.15,10.8 C-4.0,8.8 -3.5,7.3 -2.9,5.8 L-1.7,2.8 C-1.3,1.2 -0.7,0 0,0 Z" transform="translate(58.30,156.00) scale(0.931,0.960)" fill="url(#mg)"/><ellipse cx="60.30" cy="166.00" rx="1.50" ry="1.40" fill="#7b2fe6"/><ellipse cx="60.30" cy="166.00" rx="0.67" ry="0.63" fill="#2b3cf2"/><ellipse cx="61.50" cy="168.50" rx="0.90" ry="0.90" fill="#7b2fe6"/></g>
<g filter="url(#bl)"><path d="M0,0 C0.7,0 1.3,1.2 1.7,2.8 L2.9,5.8 C3.5,7.3 4.0,8.8 4.15,10.8 C4.2,13 4.1,15.5 3.8,17.4 C3.6,18.6 3.2,19 2.4,19 L-2.4,19 C-3.2,19 -3.6,18.6 -3.8,17.4 C-4.1,15.5 -4.2,13 -4.15,10.8 C-4.0,8.8 -3.5,7.3 -2.9,5.8 L-1.7,2.8 C-1.3,1.2 -0.7,0 0,0 Z" transform="translate(67.80,156.00) scale(0.931,0.960)" fill="url(#mg)"/><ellipse cx="70.10" cy="165.50" rx="1.30" ry="1.20" fill="#7b2fe6"/><ellipse cx="70.10" cy="165.50" rx="0.58" ry="0.54" fill="#2b3cf2"/></g>
<rect x="77.10" y="155.00" width="43.90" height="20.90" fill="#1e1e1e" stroke="none" stroke-width="1" rx="0" />
<g filter="url(#bl)"><path d="M0,0 C0.7,0 1.3,1.2 1.7,2.8 L2.9,5.8 C3.5,7.3 4.0,8.8 4.15,10.8 C4.2,13 4.1,15.5 3.8,17.4 C3.6,18.6 3.2,19 2.4,19 L-2.4,19 C-3.2,19 -3.6,18.6 -3.8,17.4 C-4.1,15.5 -4.2,13 -4.15,10.8 C-4.0,8.8 -3.5,7.3 -2.9,5.8 L-1.7,2.8 C-1.3,1.2 -0.7,0 0,0 Z" transform="translate(81.30,156.00) scale(0.931,0.960)" fill="url(#mg)"/><ellipse cx="81.30" cy="164.00" rx="0.80" ry="0.80" fill="#7b2fe6"/></g>
<g filter="url(#bl)"><path d="M0,0 C0.7,0 1.3,1.2 1.7,2.8 L2.9,5.8 C3.5,7.3 4.0,8.8 4.15,10.8 C4.2,13 4.1,15.5 3.8,17.4 C3.6,18.6 3.2,19 2.4,19 L-2.4,19 C-3.2,19 -3.6,18.6 -3.8,17.4 C-4.1,15.5 -4.2,13 -4.15,10.8 C-4.0,8.8 -3.5,7.3 -2.9,5.8 L-1.7,2.8 C-1.3,1.2 -0.7,0 0,0 Z" transform="translate(89.80,156.00) scale(0.931,0.960)" fill="url(#mg)"/><ellipse cx="91.20" cy="166.00" rx="1.00" ry="1.00" fill="#7b2fe6"/><ellipse cx="91.20" cy="166.00" rx="0.45" ry="0.45" fill="#2b3cf2"/></g>
<g filter="url(#bl)"><path d="M0,0 C0.7,0 1.3,1.2 1.7,2.8 L2.9,5.8 C3.5,7.3 4.0,8.8 4.15,10.8 C4.2,13 4.1,15.5 3.8,17.4 C3.6,18.6 3.2,19 2.4,19 L-2.4,19 C-3.2,19 -3.6,18.6 -3.8,17.4 C-4.1,15.5 -4.2,13 -4.15,10.8 C-4.0,8.8 -3.5,7.3 -2.9,5.8 L-1.7,2.8 C-1.3,1.2 -0.7,0 0,0 Z" transform="translate(98.80,156.00) scale(0.931,0.960)" fill="url(#mg)"/></g>
<g filter="url(#bl)"><path d="M0,0 C0.7,0 1.3,1.2 1.7,2.8 L2.9,5.8 C3.5,7.3 4.0,8.8 4.15,10.8 C4.2,13 4.1,15.5 3.8,17.4 C3.6,18.6 3.2,19 2.4,19 L-2.4,19 C-3.2,19 -3.6,18.6 -3.8,17.4 C-4.1,15.5 -4.2,13 -4.15,10.8 C-4.0,8.8 -3.5,7.3 -2.9,5.8 L-1.7,2.8 C-1.3,1.2 -0.7,0 0,0 Z" transform="translate(107.80,156.00) scale(0.931,0.960)" fill="url(#mg)"/></g>
<g filter="url(#bl)"><path d="M0,0 C0.7,0 1.3,1.2 1.7,2.8 L2.9,5.8 C3.5,7.3 4.0,8.8 4.15,10.8 C4.2,13 4.1,15.5 3.8,17.4 C3.6,18.6 3.2,19 2.4,19 L-2.4,19 C-3.2,19 -3.6,18.6 -3.8,17.4 C-4.1,15.5 -4.2,13 -4.15,10.8 C-4.0,8.8 -3.5,7.3 -2.9,5.8 L-1.7,2.8 C-1.3,1.2 -0.7,0 0,0 Z" transform="translate(116.60,156.00) scale(0.931,0.960)" fill="url(#mg)"/><ellipse cx="119.10" cy="165.00" rx="0.90" ry="0.90" fill="#7b2fe6"/><ellipse cx="119.10" cy="165.00" rx="0.40" ry="0.40" fill="#2b3cf2"/></g>
<rect x="122.20" y="155.00" width="44.90" height="20.90" fill="#1e1e1e" stroke="none" stroke-width="1" rx="0" />
<g filter="url(#bl)"><path d="M0,0 C0.7,0 1.3,1.2 1.7,2.8 L2.9,5.8 C3.5,7.3 4.0,8.8 4.15,10.8 C4.2,13 4.1,15.5 3.8,17.4 C3.6,18.6 3.2,19 2.4,19 L-2.4,19 C-3.2,19 -3.6,18.6 -3.8,17.4 C-4.1,15.5 -4.2,13 -4.15,10.8 C-4.0,8.8 -3.5,7.3 -2.9,5.8 L-1.7,2.8 C-1.3,1.2 -0.7,0 0,0 Z" transform="translate(126.30,156.00) scale(0.931,0.960)" fill="url(#mg)"/></g>
<g filter="url(#bl)"><path d="M0,0 C0.7,0 1.3,1.2 1.7,2.8 L2.9,5.8 C3.5,7.3 4.0,8.8 4.15,10.8 C4.2,13 4.1,15.5 3.8,17.4 C3.6,18.6 3.2,19 2.4,19 L-2.4,19 C-3.2,19 -3.6,18.6 -3.8,17.4 C-4.1,15.5 -4.2,13 -4.15,10.8 C-4.0,8.8 -3.5,7.3 -2.9,5.8 L-1.7,2.8 C-1.3,1.2 -0.7,0 0,0 Z" transform="translate(135.20,156.00) scale(0.931,0.960)" fill="url(#mg)"/><ellipse cx="134.70" cy="169.00" rx="1.30" ry="0.80" fill="#7b2fe6"/><ellipse cx="134.70" cy="169.00" rx="0.58" ry="0.36" fill="#2b3cf2"/></g>
<g filter="url(#bl)"><path d="M0,0 C0.7,0 1.3,1.2 1.7,2.8 L2.9,5.8 C3.5,7.3 4.0,8.8 4.15,10.8 C4.2,13 4.1,15.5 3.8,17.4 C3.6,18.6 3.2,19 2.4,19 L-2.4,19 C-3.2,19 -3.6,18.6 -3.8,17.4 C-4.1,15.5 -4.2,13 -4.15,10.8 C-4.0,8.8 -3.5,7.3 -2.9,5.8 L-1.7,2.8 C-1.3,1.2 -0.7,0 0,0 Z" transform="translate(144.20,156.00) scale(0.931,0.960)" fill="url(#mg)"/></g>
<g filter="url(#bl)"><path d="M0,0 C0.7,0 1.3,1.2 1.7,2.8 L2.9,5.8 C3.5,7.3 4.0,8.8 4.15,10.8 C4.2,13 4.1,15.5 3.8,17.4 C3.6,18.6 3.2,19 2.4,19 L-2.4,19 C-3.2,19 -3.6,18.6 -3.8,17.4 C-4.1,15.5 -4.2,13 -4.15,10.8 C-4.0,8.8 -3.5,7.3 -2.9,5.8 L-1.7,2.8 C-1.3,1.2 -0.7,0 0,0 Z" transform="translate(153.20,156.00) scale(0.931,0.960)" fill="url(#mg)"/><ellipse cx="153.20" cy="166.00" rx="1.10" ry="1.00" fill="#7b2fe6"/><ellipse cx="153.20" cy="166.00" rx="0.49" ry="0.45" fill="#2b3cf2"/><ellipse cx="153.20" cy="170.00" rx="0.90" ry="0.90" fill="#7b2fe6"/></g>
<g filter="url(#bl)"><path d="M0,0 C0.7,0 1.3,1.2 1.7,2.8 L2.9,5.8 C3.5,7.3 4.0,8.8 4.15,10.8 C4.2,13 4.1,15.5 3.8,17.4 C3.6,18.6 3.2,19 2.4,19 L-2.4,19 C-3.2,19 -3.6,18.6 -3.8,17.4 C-4.1,15.5 -4.2,13 -4.15,10.8 C-4.0,8.8 -3.5,7.3 -2.9,5.8 L-1.7,2.8 C-1.3,1.2 -0.7,0 0,0 Z" transform="translate(162.30,156.00) scale(0.931,0.960)" fill="url(#mg)"/></g>
<rect x="168.20" y="155.00" width="45.90" height="20.90" fill="#1e1e1e" stroke="none" stroke-width="1" rx="0" />
<g filter="url(#bl)"><path d="M0,0 C0.7,0 1.3,1.2 1.7,2.8 L2.9,5.8 C3.5,7.3 4.0,8.8 4.15,10.8 C4.2,13 4.1,15.5 3.8,17.4 C3.6,18.6 3.2,19 2.4,19 L-2.4,19 C-3.2,19 -3.6,18.6 -3.8,17.4 C-4.1,15.5 -4.2,13 -4.15,10.8 C-4.0,8.8 -3.5,7.3 -2.9,5.8 L-1.7,2.8 C-1.3,1.2 -0.7,0 0,0 Z" transform="translate(172.50,156.00) scale(0.931,0.960)" fill="url(#mg)"/></g>
<g filter="url(#bl)"><path d="M0,0 C0.7,0 1.3,1.2 1.7,2.8 L2.9,5.8 C3.5,7.3 4.0,8.8 4.15,10.8 C4.2,13 4.1,15.5 3.8,17.4 C3.6,18.6 3.2,19 2.4,19 L-2.4,19 C-3.2,19 -3.6,18.6 -3.8,17.4 C-4.1,15.5 -4.2,13 -4.15,10.8 C-4.0,8.8 -3.5,7.3 -2.9,5.8 L-1.7,2.8 C-1.3,1.2 -0.7,0 0,0 Z" transform="translate(181.50,156.00) scale(0.931,0.960)" fill="url(#mg)"/></g>
<g filter="url(#bl)"><path d="M0,0 C0.7,0 1.3,1.2 1.7,2.8 L2.9,5.8 C3.5,7.3 4.0,8.8 4.15,10.8 C4.2,13 4.1,15.5 3.8,17.4 C3.6,18.6 3.2,19 2.4,19 L-2.4,19 C-3.2,19 -3.6,18.6 -3.8,17.4 C-4.1,15.5 -4.2,13 -4.15,10.8 C-4.0,8.8 -3.5,7.3 -2.9,5.8 L-1.7,2.8 C-1.3,1.2 -0.7,0 0,0 Z" transform="translate(190.60,156.00) scale(0.931,0.960)" fill="url(#mg)"/></g>
<g filter="url(#bl)"><path d="M0,0 C0.7,0 1.3,1.2 1.7,2.8 L2.9,5.8 C3.5,7.3 4.0,8.8 4.15,10.8 C4.2,13 4.1,15.5 3.8,17.4 C3.6,18.6 3.2,19 2.4,19 L-2.4,19 C-3.2,19 -3.6,18.6 -3.8,17.4 C-4.1,15.5 -4.2,13 -4.15,10.8 C-4.0,8.8 -3.5,7.3 -2.9,5.8 L-1.7,2.8 C-1.3,1.2 -0.7,0 0,0 Z" transform="translate(199.80,156.00) scale(0.931,0.960)" fill="url(#mg)"/></g>
<g filter="url(#bl)"><path d="M0,0 C0.7,0 1.3,1.2 1.7,2.8 L2.9,5.8 C3.5,7.3 4.0,8.8 4.15,10.8 C4.2,13 4.1,15.5 3.8,17.4 C3.6,18.6 3.2,19 2.4,19 L-2.4,19 C-3.2,19 -3.6,18.6 -3.8,17.4 C-4.1,15.5 -4.2,13 -4.15,10.8 C-4.0,8.8 -3.5,7.3 -2.9,5.8 L-1.7,2.8 C-1.3,1.2 -0.7,0 0,0 Z" transform="translate(209.20,156.00) scale(0.931,0.960)" fill="url(#mg)"/></g>
<rect x="36.30" y="178.00" width="36.80" height="21.50" fill="#1e1e1e" stroke="none" stroke-width="1" rx="0" />
<g filter="url(#bl)"><path d="M0,0 C0.7,0 1.3,1.2 1.7,2.8 L2.9,5.8 C3.5,7.3 4.0,8.8 4.15,10.8 C4.2,13 4.1,15.5 3.8,17.4 C3.6,18.6 3.2,19 2.4,19 L-2.4,19 C-3.2,19 -3.6,18.6 -3.8,17.4 C-4.1,15.5 -4.2,13 -4.15,10.8 C-4.0,8.8 -3.5,7.3 -2.9,5.8 L-1.7,2.8 C-1.3,1.2 -0.7,0 0,0 Z" transform="translate(40.60,179.00) scale(0.931,0.960)" fill="url(#mg)"/><ellipse cx="40.60" cy="182.00" rx="1.20" ry="1.00" fill="#7b2fe6"/><ellipse cx="40.60" cy="191.00" rx="3.60" ry="5.50" fill="#7b2fe6"/><ellipse cx="40.60" cy="191.00" rx="2.61" ry="3.99" fill="#2b3cf2"/><ellipse cx="40.60" cy="191.00" rx="1.62" ry="2.47" fill="#12c6ee"/><ellipse cx="41.10" cy="190.50" rx="1.60" ry="1.60" fill="#7b2fe6"/><ellipse cx="41.10" cy="190.50" rx="1.31" ry="1.31" fill="#2b3cf2"/><ellipse cx="41.10" cy="190.50" rx="1.01" ry="1.01" fill="#12c6ee"/><ellipse cx="41.10" cy="190.50" rx="0.72" ry="0.72" fill="#34e044"/><ellipse cx="39.10" cy="196.00" rx="2.00" ry="1.30" fill="#7b2fe6"/></g>
<g filter="url(#bl)"><path d="M0,0 C0.7,0 1.3,1.2 1.7,2.8 L2.9,5.8 C3.5,7.3 4.0,8.8 4.15,10.8 C4.2,13 4.1,15.5 3.8,17.4 C3.6,18.6 3.2,19 2.4,19 L-2.4,19 C-3.2,19 -3.6,18.6 -3.8,17.4 C-4.1,15.5 -4.2,13 -4.15,10.8 C-4.0,8.8 -3.5,7.3 -2.9,5.8 L-1.7,2.8 C-1.3,1.2 -0.7,0 0,0 Z" transform="translate(49.30,179.00) scale(0.931,0.960)" fill="url(#mg)"/><ellipse cx="49.80" cy="182.00" rx="1.40" ry="1.20" fill="#7b2fe6"/><ellipse cx="49.30" cy="190.00" rx="3.80" ry="5.50" fill="#7b2fe6"/><ellipse cx="49.30" cy="190.00" rx="2.75" ry="3.99" fill="#2b3cf2"/><ellipse cx="49.30" cy="190.00" rx="1.71" ry="2.47" fill="#12c6ee"/><ellipse cx="49.30" cy="189.00" rx="1.80" ry="1.60" fill="#7b2fe6"/><ellipse cx="49.30" cy="189.00" rx="1.55" ry="1.38" fill="#2b3cf2"/><ellipse cx="49.30" cy="189.00" rx="1.30" ry="1.16" fill="#12c6ee"/><ellipse cx="49.30" cy="189.00" rx="1.06" ry="0.94" fill="#34e044"/><ellipse cx="49.30" cy="189.00" rx="0.81" ry="0.72" fill="#f2ee10"/><ellipse cx="49.30" cy="194.50" rx="1.80" ry="1.50" fill="#7b2fe6"/><ellipse cx="49.30" cy="194.50" rx="1.47" ry="1.23" fill="#2b3cf2"/><ellipse cx="49.30" cy="194.50" rx="1.14" ry="0.95" fill="#12c6ee"/><ellipse cx="49.30" cy="194.50" rx="0.81" ry="0.67" fill="#34e044"/></g>
<g filter="url(#bl)"><path d="M0,0 C0.7,0 1.3,1.2 1.7,2.8 L2.9,5.8 C3.5,7.3 4.0,8.8 4.15,10.8 C4.2,13 4.1,15.5 3.8,17.4 C3.6,18.6 3.2,19 2.4,19 L-2.4,19 C-3.2,19 -3.6,18.6 -3.8,17.4 C-4.1,15.5 -4.2,13 -4.15,10.8 C-4.0,8.8 -3.5,7.3 -2.9,5.8 L-1.7,2.8 C-1.3,1.2 -0.7,0 0,0 Z" transform="translate(58.30,179.00) scale(0.931,0.960)" fill="url(#mg)"/><ellipse cx="58.30" cy="182.00" rx="1.00" ry="1.00" fill="#7b2fe6"/><ellipse cx="58.30" cy="190.50" rx="3.90" ry="5.50" fill="#7b2fe6"/><ellipse cx="58.30" cy="190.50" rx="2.83" ry="3.99" fill="#2b3cf2"/><ellipse cx="58.30" cy="190.50" rx="1.75" ry="2.47" fill="#12c6ee"/><ellipse cx="58.80" cy="189.50" rx="1.80" ry="1.80" fill="#7b2fe6"/><ellipse cx="58.80" cy="189.50" rx="1.47" ry="1.47" fill="#2b3cf2"/><ellipse cx="58.80" cy="189.50" rx="1.14" ry="1.14" fill="#12c6ee"/><ellipse cx="58.80" cy="189.50" rx="0.81" ry="0.81" fill="#34e044"/></g>
<g filter="url(#bl)"><path d="M0,0 C0.7,0 1.3,1.2 1.7,2.8 L2.9,5.8 C3.5,7.3 4.0,8.8 4.15,10.8 C4.2,13 4.1,15.5 3.8,17.4 C3.6,18.6 3.2,19 2.4,19 L-2.4,19 C-3.2,19 -3.6,18.6 -3.8,17.4 C-4.1,15.5 -4.2,13 -4.15,10.8 C-4.0,8.8 -3.5,7.3 -2.9,5.8 L-1.7,2.8 C-1.3,1.2 -0.7,0 0,0 Z" transform="translate(67.80,179.00) scale(0.931,0.960)" fill="url(#mg)"/><ellipse cx="67.80" cy="182.50" rx="1.20" ry="1.20" fill="#7b2fe6"/><ellipse cx="67.80" cy="190.50" rx="3.90" ry="5.50" fill="#7b2fe6"/><ellipse cx="67.80" cy="190.50" rx="2.83" ry="3.99" fill="#2b3cf2"/><ellipse cx="67.80" cy="190.50" rx="1.75" ry="2.47" fill="#12c6ee"/><ellipse cx="68.30" cy="189.50" rx="1.60" ry="1.60" fill="#7b2fe6"/><ellipse cx="68.30" cy="189.50" rx="1.31" ry="1.31" fill="#2b3cf2"/><ellipse cx="68.30" cy="189.50" rx="1.01" ry="1.01" fill="#12c6ee"/><ellipse cx="68.30" cy="189.50" rx="0.72" ry="0.72" fill="#34e044"/><ellipse cx="66.80" cy="195.00" rx="1.60" ry="1.20" fill="#7b2fe6"/><ellipse cx="66.80" cy="195.00" rx="0.72" ry="0.54" fill="#2b3cf2"/></g>
<rect x="77.10" y="178.00" width="43.90" height="21.50" fill="#1e1e1e" stroke="none" stroke-width="1" rx="0" />
<g filter="url(#bl)"><path d="M0,0 C0.7,0 1.3,1.2 1.7,2.8 L2.9,5.8 C3.5,7.3 4.0,8.8 4.15,10.8 C4.2,13 4.1,15.5 3.8,17.4 C3.6,18.6 3.2,19 2.4,19 L-2.4,19 C-3.2,19 -3.6,18.6 -3.8,17.4 C-4.1,15.5 -4.2,13 -4.15,10.8 C-4.0,8.8 -3.5,7.3 -2.9,5.8 L-1.7,2.8 C-1.3,1.2 -0.7,0 0,0 Z" transform="translate(81.30,179.00) scale(0.931,0.960)" fill="url(#mg)"/><ellipse cx="79.50" cy="185.00" rx="0.90" ry="0.90" fill="#7b2fe6"/><ellipse cx="81.30" cy="190.00" rx="1.30" ry="1.30" fill="#7b2fe6"/><ellipse cx="81.30" cy="190.00" rx="0.58" ry="0.58" fill="#2b3cf2"/><ellipse cx="83.50" cy="190.50" rx="1.50" ry="1.30" fill="#7b2fe6"/><ellipse cx="83.50" cy="190.50" rx="0.67" ry="0.58" fill="#2b3cf2"/><ellipse cx="80.30" cy="194.00" rx="1.00" ry="1.00" fill="#7b2fe6"/></g>
<g filter="url(#bl)"><path d="M0,0 C0.7,0 1.3,1.2 1.7,2.8 L2.9,5.8 C3.5,7.3 4.0,8.8 4.15,10.8 C4.2,13 4.1,15.5 3.8,17.4 C3.6,18.6 3.2,19 2.4,19 L-2.4,19 C-3.2,19 -3.6,18.6 -3.8,17.4 C-4.1,15.5 -4.2,13 -4.15,10.8 C-4.0,8.8 -3.5,7.3 -2.9,5.8 L-1.7,2.8 C-1.3,1.2 -0.7,0 0,0 Z" transform="translate(89.80,179.00) scale(0.931,0.960)" fill="url(#mg)"/><ellipse cx="90.30" cy="189.50" rx="2.40" ry="2.40" fill="#7b2fe6"/><ellipse cx="90.30" cy="189.50" rx="1.08" ry="1.08" fill="#2b3cf2"/><ellipse cx="89.80" cy="194.00" rx="2.20" ry="1.80" fill="#7b2fe6"/><ellipse cx="89.80" cy="194.00" rx="0.99" ry="0.81" fill="#2b3cf2"/></g>
<g filter="url(#bl)"><path d="M0,0 C0.7,0 1.3,1.2 1.7,2.8 L2.9,5.8 C3.5,7.3 4.0,8.8 4.15,10.8 C4.2,13 4.1,15.5 3.8,17.4 C3.6,18.6 3.2,19 2.4,19 L-2.4,19 C-3.2,19 -3.6,18.6 -3.8,17.4 C-4.1,15.5 -4.2,13 -4.15,10.8 C-4.0,8.8 -3.5,7.3 -2.9,5.8 L-1.7,2.8 C-1.3,1.2 -0.7,0 0,0 Z" transform="translate(98.80,179.00) scale(0.931,0.960)" fill="url(#mg)"/><ellipse cx="99.10" cy="189.50" rx="3.00" ry="3.00" fill="#7b2fe6"/><ellipse cx="99.10" cy="189.50" rx="2.17" ry="2.17" fill="#2b3cf2"/><ellipse cx="99.10" cy="189.50" rx="1.35" ry="1.35" fill="#12c6ee"/></g>
<g filter="url(#bl)"><path d="M0,0 C0.7,0 1.3,1.2 1.7,2.8 L2.9,5.8 C3.5,7.3 4.0,8.8 4.15,10.8 C4.2,13 4.1,15.5 3.8,17.4 C3.6,18.6 3.2,19 2.4,19 L-2.4,19 C-3.2,19 -3.6,18.6 -3.8,17.4 C-4.1,15.5 -4.2,13 -4.15,10.8 C-4.0,8.8 -3.5,7.3 -2.9,5.8 L-1.7,2.8 C-1.3,1.2 -0.7,0 0,0 Z" transform="translate(107.80,179.00) scale(0.931,0.960)" fill="url(#mg)"/><ellipse cx="107.80" cy="190.00" rx="3.50" ry="4.00" fill="#7b2fe6"/><ellipse cx="107.80" cy="190.00" rx="2.54" ry="2.90" fill="#2b3cf2"/><ellipse cx="107.80" cy="190.00" rx="1.57" ry="1.80" fill="#12c6ee"/><ellipse cx="108.80" cy="192.50" rx="1.50" ry="1.50" fill="#7b2fe6"/><ellipse cx="108.80" cy="192.50" rx="1.33" ry="1.33" fill="#2b3cf2"/><ellipse cx="108.80" cy="192.50" rx="1.17" ry="1.17" fill="#12c6ee"/><ellipse cx="108.80" cy="192.50" rx="1.00" ry="1.00" fill="#34e044"/><ellipse cx="108.80" cy="192.50" rx="0.84" ry="0.84" fill="#f2ee10"/><ellipse cx="108.80" cy="192.50" rx="0.67" ry="0.67" fill="#ff1c00"/></g>
<g filter="url(#bl)"><path d="M0,0 C0.7,0 1.3,1.2 1.7,2.8 L2.9,5.8 C3.5,7.3 4.0,8.8 4.15,10.8 C4.2,13 4.1,15.5 3.8,17.4 C3.6,18.6 3.2,19 2.4,19 L-2.4,19 C-3.2,19 -3.6,18.6 -3.8,17.4 C-4.1,15.5 -4.2,13 -4.15,10.8 C-4.0,8.8 -3.5,7.3 -2.9,5.8 L-1.7,2.8 C-1.3,1.2 -0.7,0 0,0 Z" transform="translate(116.60,179.00) scale(0.931,0.960)" fill="url(#mg)"/><ellipse cx="116.60" cy="189.50" rx="2.80" ry="3.50" fill="#7b2fe6"/><ellipse cx="116.60" cy="189.50" rx="1.26" ry="1.57" fill="#2b3cf2"/><ellipse cx="117.80" cy="194.50" rx="1.80" ry="1.40" fill="#7b2fe6"/><ellipse cx="117.80" cy="194.50" rx="0.81" ry="0.63" fill="#2b3cf2"/></g>
<rect x="122.20" y="178.00" width="44.90" height="21.50" fill="#1e1e1e" stroke="none" stroke-width="1" rx="0" />
<g filter="url(#bl)"><path d="M0,0 C0.7,0 1.3,1.2 1.7,2.8 L2.9,5.8 C3.5,7.3 4.0,8.8 4.15,10.8 C4.2,13 4.1,15.5 3.8,17.4 C3.6,18.6 3.2,19 2.4,19 L-2.4,19 C-3.2,19 -3.6,18.6 -3.8,17.4 C-4.1,15.5 -4.2,13 -4.15,10.8 C-4.0,8.8 -3.5,7.3 -2.9,5.8 L-1.7,2.8 C-1.3,1.2 -0.7,0 0,0 Z" transform="translate(126.30,179.00) scale(0.931,0.960)" fill="url(#mg)"/><ellipse cx="126.30" cy="190.00" rx="3.60" ry="4.00" fill="#7b2fe6"/><ellipse cx="126.30" cy="190.00" rx="1.62" ry="1.80" fill="#2b3cf2"/><ellipse cx="126.30" cy="194.00" rx="2.80" ry="1.80" fill="#7b2fe6"/><ellipse cx="126.30" cy="194.00" rx="1.26" ry="0.81" fill="#2b3cf2"/></g>
<g filter="url(#bl)"><path d="M0,0 C0.7,0 1.3,1.2 1.7,2.8 L2.9,5.8 C3.5,7.3 4.0,8.8 4.15,10.8 C4.2,13 4.1,15.5 3.8,17.4 C3.6,18.6 3.2,19 2.4,19 L-2.4,19 C-3.2,19 -3.6,18.6 -3.8,17.4 C-4.1,15.5 -4.2,13 -4.15,10.8 C-4.0,8.8 -3.5,7.3 -2.9,5.8 L-1.7,2.8 C-1.3,1.2 -0.7,0 0,0 Z" transform="translate(135.20,179.00) scale(0.931,0.960)" fill="url(#mg)"/><ellipse cx="135.20" cy="189.50" rx="3.70" ry="4.50" fill="#7b2fe6"/><ellipse cx="135.20" cy="189.50" rx="2.68" ry="3.26" fill="#2b3cf2"/><ellipse cx="135.20" cy="189.50" rx="1.66" ry="2.02" fill="#12c6ee"/><ellipse cx="135.20" cy="191.00" rx="1.60" ry="1.60" fill="#7b2fe6"/><ellipse cx="135.20" cy="191.00" rx="1.31" ry="1.31" fill="#2b3cf2"/><ellipse cx="135.20" cy="191.00" rx="1.01" ry="1.01" fill="#12c6ee"/><ellipse cx="135.20" cy="191.00" rx="0.72" ry="0.72" fill="#34e044"/></g>
<g filter="url(#bl)"><path d="M0,0 C0.7,0 1.3,1.2 1.7,2.8 L2.9,5.8 C3.5,7.3 4.0,8.8 4.15,10.8 C4.2,13 4.1,15.5 3.8,17.4 C3.6,18.6 3.2,19 2.4,19 L-2.4,19 C-3.2,19 -3.6,18.6 -3.8,17.4 C-4.1,15.5 -4.2,13 -4.15,10.8 C-4.0,8.8 -3.5,7.3 -2.9,5.8 L-1.7,2.8 C-1.3,1.2 -0.7,0 0,0 Z" transform="translate(144.20,179.00) scale(0.931,0.960)" fill="url(#mg)"/><ellipse cx="144.70" cy="183.00" rx="1.00" ry="1.00" fill="#7b2fe6"/><ellipse cx="145.00" cy="188.00" rx="1.20" ry="1.00" fill="#7b2fe6"/><ellipse cx="145.20" cy="192.50" rx="1.40" ry="1.20" fill="#7b2fe6"/><ellipse cx="145.20" cy="192.50" rx="0.63" ry="0.54" fill="#2b3cf2"/></g>
<g filter="url(#bl)"><path d="M0,0 C0.7,0 1.3,1.2 1.7,2.8 L2.9,5.8 C3.5,7.3 4.0,8.8 4.15,10.8 C4.2,13 4.1,15.5 3.8,17.4 C3.6,18.6 3.2,19 2.4,19 L-2.4,19 C-3.2,19 -3.6,18.6 -3.8,17.4 C-4.1,15.5 -4.2,13 -4.15,10.8 C-4.0,8.8 -3.5,7.3 -2.9,5.8 L-1.7,2.8 C-1.3,1.2 -0.7,0 0,0 Z" transform="translate(153.20,179.00) scale(0.931,0.960)" fill="url(#mg)"/><ellipse cx="153.20" cy="189.50" rx="3.40" ry="3.40" fill="#7b2fe6"/><ellipse cx="153.20" cy="189.50" rx="1.53" ry="1.53" fill="#2b3cf2"/><ellipse cx="153.20" cy="193.50" rx="2.50" ry="1.60" fill="#7b2fe6"/><ellipse cx="153.20" cy="193.50" rx="1.12" ry="0.72" fill="#2b3cf2"/></g>
<g filter="url(#bl)"><path d="M0,0 C0.7,0 1.3,1.2 1.7,2.8 L2.9,5.8 C3.5,7.3 4.0,8.8 4.15,10.8 C4.2,13 4.1,15.5 3.8,17.4 C3.6,18.6 3.2,19 2.4,19 L-2.4,19 C-3.2,19 -3.6,18.6 -3.8,17.4 C-4.1,15.5 -4.2,13 -4.15,10.8 C-4.0,8.8 -3.5,7.3 -2.9,5.8 L-1.7,2.8 C-1.3,1.2 -0.7,0 0,0 Z" transform="translate(162.30,179.00) scale(0.931,0.960)" fill="url(#mg)"/><ellipse cx="162.30" cy="191.50" rx="1.10" ry="1.10" fill="#7b2fe6"/><ellipse cx="162.30" cy="191.50" rx="0.49" ry="0.49" fill="#2b3cf2"/></g>
<rect x="168.20" y="178.00" width="45.90" height="21.50" fill="#1e1e1e" stroke="none" stroke-width="1" rx="0" />
<g filter="url(#bl)"><path d="M0,0 C0.7,0 1.3,1.2 1.7,2.8 L2.9,5.8 C3.5,7.3 4.0,8.8 4.15,10.8 C4.2,13 4.1,15.5 3.8,17.4 C3.6,18.6 3.2,19 2.4,19 L-2.4,19 C-3.2,19 -3.6,18.6 -3.8,17.4 C-4.1,15.5 -4.2,13 -4.15,10.8 C-4.0,8.8 -3.5,7.3 -2.9,5.8 L-1.7,2.8 C-1.3,1.2 -0.7,0 0,0 Z" transform="translate(172.50,179.00) scale(0.931,0.960)" fill="url(#mg)"/><ellipse cx="173.00" cy="181.50" rx="0.90" ry="0.80" fill="#7b2fe6"/></g>
<g filter="url(#bl)"><path d="M0,0 C0.7,0 1.3,1.2 1.7,2.8 L2.9,5.8 C3.5,7.3 4.0,8.8 4.15,10.8 C4.2,13 4.1,15.5 3.8,17.4 C3.6,18.6 3.2,19 2.4,19 L-2.4,19 C-3.2,19 -3.6,18.6 -3.8,17.4 C-4.1,15.5 -4.2,13 -4.15,10.8 C-4.0,8.8 -3.5,7.3 -2.9,5.8 L-1.7,2.8 C-1.3,1.2 -0.7,0 0,0 Z" transform="translate(181.50,179.00) scale(0.931,0.960)" fill="url(#mg)"/></g>
<g filter="url(#bl)"><path d="M0,0 C0.7,0 1.3,1.2 1.7,2.8 L2.9,5.8 C3.5,7.3 4.0,8.8 4.15,10.8 C4.2,13 4.1,15.5 3.8,17.4 C3.6,18.6 3.2,19 2.4,19 L-2.4,19 C-3.2,19 -3.6,18.6 -3.8,17.4 C-4.1,15.5 -4.2,13 -4.15,10.8 C-4.0,8.8 -3.5,7.3 -2.9,5.8 L-1.7,2.8 C-1.3,1.2 -0.7,0 0,0 Z" transform="translate(190.60,179.00) scale(0.931,0.960)" fill="url(#mg)"/></g>
<g filter="url(#bl)"><path d="M0,0 C0.7,0 1.3,1.2 1.7,2.8 L2.9,5.8 C3.5,7.3 4.0,8.8 4.15,10.8 C4.2,13 4.1,15.5 3.8,17.4 C3.6,18.6 3.2,19 2.4,19 L-2.4,19 C-3.2,19 -3.6,18.6 -3.8,17.4 C-4.1,15.5 -4.2,13 -4.15,10.8 C-4.0,8.8 -3.5,7.3 -2.9,5.8 L-1.7,2.8 C-1.3,1.2 -0.7,0 0,0 Z" transform="translate(199.80,179.00) scale(0.931,0.960)" fill="url(#mg)"/></g>
<g filter="url(#bl)"><path d="M0,0 C0.7,0 1.3,1.2 1.7,2.8 L2.9,5.8 C3.5,7.3 4.0,8.8 4.15,10.8 C4.2,13 4.1,15.5 3.8,17.4 C3.6,18.6 3.2,19 2.4,19 L-2.4,19 C-3.2,19 -3.6,18.6 -3.8,17.4 C-4.1,15.5 -4.2,13 -4.15,10.8 C-4.0,8.8 -3.5,7.3 -2.9,5.8 L-1.7,2.8 C-1.3,1.2 -0.7,0 0,0 Z" transform="translate(209.20,179.00) scale(0.931,0.960)" fill="url(#mg)"/></g>
<rect x="36.30" y="201.80" width="36.80" height="21.20" fill="#1e1e1e" stroke="none" stroke-width="1" rx="0" />
<g filter="url(#bl)"><path d="M0,0 C0.7,0 1.3,1.2 1.7,2.8 L2.9,5.8 C3.5,7.3 4.0,8.8 4.15,10.8 C4.2,13 4.1,15.5 3.8,17.4 C3.6,18.6 3.2,19 2.4,19 L-2.4,19 C-3.2,19 -3.6,18.6 -3.8,17.4 C-4.1,15.5 -4.2,13 -4.15,10.8 C-4.0,8.8 -3.5,7.3 -2.9,5.8 L-1.7,2.8 C-1.3,1.2 -0.7,0 0,0 Z" transform="translate(40.60,202.80) scale(0.931,0.960)" fill="url(#mg)"/><path d="M0,0 C2.4,0 4.2,3.2 4.2,8 L4.2,16.8 C4.2,18.6 3,19 0,19 C-3,19 -4.2,18.6 -4.2,16.8 L-4.2,8 C-4.2,3.2 -2.4,0 0,0 Z" transform="translate(40.60,203.80) scale(1.043,0.909)" fill="#7b2fe6"/><path d="M0,0 C2.4,0 4.2,3.2 4.2,8 L4.2,16.8 C4.2,18.6 3,19 0,19 C-3,19 -4.2,18.6 -4.2,16.8 L-4.2,8 C-4.2,3.2 -2.4,0 0,0 Z" transform="translate(40.60,204.60) scale(0.959,0.859)" fill="#2b3cf2"/><ellipse cx="40.30" cy="214.30" rx="3.90" ry="4.80" fill="#12c6ee"/><ellipse cx="40.30" cy="214.30" rx="3.38" ry="4.16" fill="#34e044"/><ellipse cx="40.30" cy="214.30" rx="2.86" ry="3.52" fill="#f2ee10"/><ellipse cx="40.30" cy="214.30" rx="2.34" ry="2.88" fill="#ff1c00"/></g>
<g filter="url(#bl)"><path d="M0,0 C0.7,0 1.3,1.2 1.7,2.8 L2.9,5.8 C3.5,7.3 4.0,8.8 4.15,10.8 C4.2,13 4.1,15.5 3.8,17.4 C3.6,18.6 3.2,19 2.4,19 L-2.4,19 C-3.2,19 -3.6,18.6 -3.8,17.4 C-4.1,15.5 -4.2,13 -4.15,10.8 C-4.0,8.8 -3.5,7.3 -2.9,5.8 L-1.7,2.8 C-1.3,1.2 -0.7,0 0,0 Z" transform="translate(49.30,202.80) scale(0.931,0.960)" fill="url(#mg)"/><path d="M0,0 C2.4,0 4.2,3.2 4.2,8 L4.2,16.8 C4.2,18.6 3,19 0,19 C-3,19 -4.2,18.6 -4.2,16.8 L-4.2,8 C-4.2,3.2 -2.4,0 0,0 Z" transform="translate(49.30,203.80) scale(1.043,0.909)" fill="#7b2fe6"/><path d="M0,0 C2.4,0 4.2,3.2 4.2,8 L4.2,16.8 C4.2,18.6 3,19 0,19 C-3,19 -4.2,18.6 -4.2,16.8 L-4.2,8 C-4.2,3.2 -2.4,0 0,0 Z" transform="translate(49.30,204.60) scale(0.959,0.859)" fill="#2b3cf2"/><ellipse cx="49.30" cy="214.80" rx="3.80" ry="5.00" fill="#12c6ee"/><ellipse cx="49.30" cy="214.80" rx="3.29" ry="4.33" fill="#34e044"/><ellipse cx="49.30" cy="214.80" rx="2.79" ry="3.67" fill="#f2ee10"/><ellipse cx="49.30" cy="214.80" rx="2.28" ry="3.00" fill="#ff1c00"/></g>
<g filter="url(#bl)"><path d="M0,0 C0.7,0 1.3,1.2 1.7,2.8 L2.9,5.8 C3.5,7.3 4.0,8.8 4.15,10.8 C4.2,13 4.1,15.5 3.8,17.4 C3.6,18.6 3.2,19 2.4,19 L-2.4,19 C-3.2,19 -3.6,18.6 -3.8,17.4 C-4.1,15.5 -4.2,13 -4.15,10.8 C-4.0,8.8 -3.5,7.3 -2.9,5.8 L-1.7,2.8 C-1.3,1.2 -0.7,0 0,0 Z" transform="translate(58.30,202.80) scale(0.931,0.960)" fill="url(#mg)"/><path d="M0,0 C2.4,0 4.2,3.2 4.2,8 L4.2,16.8 C4.2,18.6 3,19 0,19 C-3,19 -4.2,18.6 -4.2,16.8 L-4.2,8 C-4.2,3.2 -2.4,0 0,0 Z" transform="translate(58.30,203.80) scale(1.043,0.909)" fill="#7b2fe6"/><path d="M0,0 C2.4,0 4.2,3.2 4.2,8 L4.2,16.8 C4.2,18.6 3,19 0,19 C-3,19 -4.2,18.6 -4.2,16.8 L-4.2,8 C-4.2,3.2 -2.4,0 0,0 Z" transform="translate(58.30,204.60) scale(0.959,0.859)" fill="#2b3cf2"/><ellipse cx="58.30" cy="213.80" rx="3.90" ry="4.50" fill="#12c6ee"/><ellipse cx="58.30" cy="213.80" rx="3.38" ry="3.90" fill="#34e044"/><ellipse cx="58.30" cy="213.80" rx="2.86" ry="3.30" fill="#f2ee10"/><ellipse cx="58.30" cy="213.80" rx="2.34" ry="2.70" fill="#ff1c00"/></g>
<g filter="url(#bl)"><path d="M0,0 C0.7,0 1.3,1.2 1.7,2.8 L2.9,5.8 C3.5,7.3 4.0,8.8 4.15,10.8 C4.2,13 4.1,15.5 3.8,17.4 C3.6,18.6 3.2,19 2.4,19 L-2.4,19 C-3.2,19 -3.6,18.6 -3.8,17.4 C-4.1,15.5 -4.2,13 -4.15,10.8 C-4.0,8.8 -3.5,7.3 -2.9,5.8 L-1.7,2.8 C-1.3,1.2 -0.7,0 0,0 Z" transform="translate(67.80,202.80) scale(0.931,0.960)" fill="url(#mg)"/><path d="M0,0 C2.4,0 4.2,3.2 4.2,8 L4.2,16.8 C4.2,18.6 3,19 0,19 C-3,19 -4.2,18.6 -4.2,16.8 L-4.2,8 C-4.2,3.2 -2.4,0 0,0 Z" transform="translate(67.80,203.80) scale(1.043,0.909)" fill="#7b2fe6"/><path d="M0,0 C2.4,0 4.2,3.2 4.2,8 L4.2,16.8 C4.2,18.6 3,19 0,19 C-3,19 -4.2,18.6 -4.2,16.8 L-4.2,8 C-4.2,3.2 -2.4,0 0,0 Z" transform="translate(67.80,204.60) scale(0.959,0.859)" fill="#2b3cf2"/><ellipse cx="67.80" cy="211.80" rx="2.80" ry="2.50" fill="#12c6ee"/><ellipse cx="67.80" cy="211.80" rx="2.24" ry="2.00" fill="#34e044"/><ellipse cx="67.80" cy="211.80" rx="1.68" ry="1.50" fill="#f2ee10"/><ellipse cx="67.80" cy="217.30" rx="2.50" ry="2.20" fill="#12c6ee"/><ellipse cx="67.80" cy="217.30" rx="2.17" ry="1.91" fill="#34e044"/><ellipse cx="67.80" cy="217.30" rx="1.83" ry="1.61" fill="#f2ee10"/><ellipse cx="67.80" cy="217.30" rx="1.50" ry="1.32" fill="#ff1c00"/></g>
<rect x="77.10" y="201.80" width="43.90" height="21.20" fill="#1e1e1e" stroke="none" stroke-width="1" rx="0" />
<g filter="url(#bl)"><path d="M0,0 C0.7,0 1.3,1.2 1.7,2.8 L2.9,5.8 C3.5,7.3 4.0,8.8 4.15,10.8 C4.2,13 4.1,15.5 3.8,17.4 C3.6,18.6 3.2,19 2.4,19 L-2.4,19 C-3.2,19 -3.6,18.6 -3.8,17.4 C-4.1,15.5 -4.2,13 -4.15,10.8 C-4.0,8.8 -3.5,7.3 -2.9,5.8 L-1.7,2.8 C-1.3,1.2 -0.7,0 0,0 Z" transform="translate(81.30,202.80) scale(0.931,0.960)" fill="url(#mg)"/><path d="M0,0 C2.4,0 4.2,3.2 4.2,8 L4.2,16.8 C4.2,18.6 3,19 0,19 C-3,19 -4.2,18.6 -4.2,16.8 L-4.2,8 C-4.2,3.2 -2.4,0 0,0 Z" transform="translate(81.30,203.80) scale(1.043,0.909)" fill="#7b2fe6"/><path d="M0,0 C2.4,0 4.2,3.2 4.2,8 L4.2,16.8 C4.2,18.6 3,19 0,19 C-3,19 -4.2,18.6 -4.2,16.8 L-4.2,8 C-4.2,3.2 -2.4,0 0,0 Z" transform="translate(81.30,204.60) scale(0.959,0.859)" fill="#2b3cf2"/><ellipse cx="80.50" cy="213.80" rx="3.30" ry="3.50" fill="#12c6ee"/><ellipse cx="80.50" cy="213.80" rx="2.86" ry="3.03" fill="#34e044"/><ellipse cx="80.50" cy="213.80" rx="2.42" ry="2.57" fill="#f2ee10"/><ellipse cx="80.50" cy="213.80" rx="1.98" ry="2.10" fill="#ff1c00"/></g>
<g filter="url(#bl)"><path d="M0,0 C0.7,0 1.3,1.2 1.7,2.8 L2.9,5.8 C3.5,7.3 4.0,8.8 4.15,10.8 C4.2,13 4.1,15.5 3.8,17.4 C3.6,18.6 3.2,19 2.4,19 L-2.4,19 C-3.2,19 -3.6,18.6 -3.8,17.4 C-4.1,15.5 -4.2,13 -4.15,10.8 C-4.0,8.8 -3.5,7.3 -2.9,5.8 L-1.7,2.8 C-1.3,1.2 -0.7,0 0,0 Z" transform="translate(89.80,202.80) scale(0.931,0.960)" fill="url(#mg)"/><ellipse cx="89.80" cy="211.80" rx="3.20" ry="3.50" fill="#7b2fe6"/><ellipse cx="89.80" cy="211.80" rx="1.44" ry="1.57" fill="#2b3cf2"/><ellipse cx="90.30" cy="216.80" rx="2.50" ry="2.50" fill="#7b2fe6"/><ellipse cx="90.30" cy="216.80" rx="1.12" ry="1.12" fill="#2b3cf2"/></g>
<g filter="url(#bl)"><path d="M0,0 C0.7,0 1.3,1.2 1.7,2.8 L2.9,5.8 C3.5,7.3 4.0,8.8 4.15,10.8 C4.2,13 4.1,15.5 3.8,17.4 C3.6,18.6 3.2,19 2.4,19 L-2.4,19 C-3.2,19 -3.6,18.6 -3.8,17.4 C-4.1,15.5 -4.2,13 -4.15,10.8 C-4.0,8.8 -3.5,7.3 -2.9,5.8 L-1.7,2.8 C-1.3,1.2 -0.7,0 0,0 Z" transform="translate(98.80,202.80) scale(0.931,0.960)" fill="url(#mg)"/><path d="M0,0 C2.4,0 4.2,3.2 4.2,8 L4.2,16.8 C4.2,18.6 3,19 0,19 C-3,19 -4.2,18.6 -4.2,16.8 L-4.2,8 C-4.2,3.2 -2.4,0 0,0 Z" transform="translate(98.80,203.80) scale(1.043,0.909)" fill="#7b2fe6"/><path d="M0,0 C2.4,0 4.2,3.2 4.2,8 L4.2,16.8 C4.2,18.6 3,19 0,19 C-3,19 -4.2,18.6 -4.2,16.8 L-4.2,8 C-4.2,3.2 -2.4,0 0,0 Z" transform="translate(98.80,204.60) scale(0.959,0.859)" fill="#2b3cf2"/><ellipse cx="98.80" cy="213.80" rx="3.40" ry="4.00" fill="#12c6ee"/><ellipse cx="98.80" cy="213.80" rx="2.72" ry="3.20" fill="#34e044"/><ellipse cx="98.80" cy="213.80" rx="2.04" ry="2.40" fill="#f2ee10"/></g>
<g filter="url(#bl)"><path d="M0,0 C0.7,0 1.3,1.2 1.7,2.8 L2.9,5.8 C3.5,7.3 4.0,8.8 4.15,10.8 C4.2,13 4.1,15.5 3.8,17.4 C3.6,18.6 3.2,19 2.4,19 L-2.4,19 C-3.2,19 -3.6,18.6 -3.8,17.4 C-4.1,15.5 -4.2,13 -4.15,10.8 C-4.0,8.8 -3.5,7.3 -2.9,5.8 L-1.7,2.8 C-1.3,1.2 -0.7,0 0,0 Z" transform="translate(107.80,202.80) scale(0.931,0.960)" fill="url(#mg)"/><path d="M0,0 C2.4,0 4.2,3.2 4.2,8 L4.2,16.8 C4.2,18.6 3,19 0,19 C-3,19 -4.2,18.6 -4.2,16.8 L-4.2,8 C-4.2,3.2 -2.4,0 0,0 Z" transform="translate(107.80,203.80) scale(1.043,0.909)" fill="#7b2fe6"/><path d="M0,0 C2.4,0 4.2,3.2 4.2,8 L4.2,16.8 C4.2,18.6 3,19 0,19 C-3,19 -4.2,18.6 -4.2,16.8 L-4.2,8 C-4.2,3.2 -2.4,0 0,0 Z" transform="translate(107.80,204.60) scale(0.959,0.859)" fill="#2b3cf2"/><ellipse cx="107.80" cy="213.80" rx="3.50" ry="4.20" fill="#12c6ee"/><ellipse cx="107.80" cy="213.80" rx="3.03" ry="3.64" fill="#34e044"/><ellipse cx="107.80" cy="213.80" rx="2.57" ry="3.08" fill="#f2ee10"/><ellipse cx="107.80" cy="213.80" rx="2.10" ry="2.52" fill="#ff1c00"/></g>
<g filter="url(#bl)"><path d="M0,0 C0.7,0 1.3,1.2 1.7,2.8 L2.9,5.8 C3.5,7.3 4.0,8.8 4.15,10.8 C4.2,13 4.1,15.5 3.8,17.4 C3.6,18.6 3.2,19 2.4,19 L-2.4,19 C-3.2,19 -3.6,18.6 -3.8,17.4 C-4.1,15.5 -4.2,13 -4.15,10.8 C-4.0,8.8 -3.5,7.3 -2.9,5.8 L-1.7,2.8 C-1.3,1.2 -0.7,0 0,0 Z" transform="translate(116.60,202.80) scale(0.931,0.960)" fill="url(#mg)"/><path d="M0,0 C2.4,0 4.2,3.2 4.2,8 L4.2,16.8 C4.2,18.6 3,19 0,19 C-3,19 -4.2,18.6 -4.2,16.8 L-4.2,8 C-4.2,3.2 -2.4,0 0,0 Z" transform="translate(116.60,203.80) scale(1.043,0.909)" fill="#7b2fe6"/><path d="M0,0 C2.4,0 4.2,3.2 4.2,8 L4.2,16.8 C4.2,18.6 3,19 0,19 C-3,19 -4.2,18.6 -4.2,16.8 L-4.2,8 C-4.2,3.2 -2.4,0 0,0 Z" transform="translate(116.60,204.60) scale(0.959,0.859)" fill="#2b3cf2"/><ellipse cx="116.60" cy="214.80" rx="3.30" ry="4.20" fill="#12c6ee"/><ellipse cx="116.60" cy="214.80" rx="2.86" ry="3.64" fill="#34e044"/><ellipse cx="116.60" cy="214.80" rx="2.42" ry="3.08" fill="#f2ee10"/><ellipse cx="116.60" cy="214.80" rx="1.98" ry="2.52" fill="#ff1c00"/></g>
<rect x="122.20" y="201.80" width="44.90" height="21.20" fill="#1e1e1e" stroke="none" stroke-width="1" rx="0" />
<g filter="url(#bl)"><path d="M0,0 C0.7,0 1.3,1.2 1.7,2.8 L2.9,5.8 C3.5,7.3 4.0,8.8 4.15,10.8 C4.2,13 4.1,15.5 3.8,17.4 C3.6,18.6 3.2,19 2.4,19 L-2.4,19 C-3.2,19 -3.6,18.6 -3.8,17.4 C-4.1,15.5 -4.2,13 -4.15,10.8 C-4.0,8.8 -3.5,7.3 -2.9,5.8 L-1.7,2.8 C-1.3,1.2 -0.7,0 0,0 Z" transform="translate(126.30,202.80) scale(0.931,0.960)" fill="url(#mg)"/><path d="M0,0 C2.4,0 4.2,3.2 4.2,8 L4.2,16.8 C4.2,18.6 3,19 0,19 C-3,19 -4.2,18.6 -4.2,16.8 L-4.2,8 C-4.2,3.2 -2.4,0 0,0 Z" transform="translate(126.30,203.80) scale(1.043,0.909)" fill="#7b2fe6"/><path d="M0,0 C2.4,0 4.2,3.2 4.2,8 L4.2,16.8 C4.2,18.6 3,19 0,19 C-3,19 -4.2,18.6 -4.2,16.8 L-4.2,8 C-4.2,3.2 -2.4,0 0,0 Z" transform="translate(126.30,204.60) scale(0.959,0.859)" fill="#2b3cf2"/><ellipse cx="126.00" cy="213.80" rx="3.80" ry="4.50" fill="#12c6ee"/><ellipse cx="126.00" cy="213.80" rx="3.29" ry="3.90" fill="#34e044"/><ellipse cx="126.00" cy="213.80" rx="2.79" ry="3.30" fill="#f2ee10"/><ellipse cx="126.00" cy="213.80" rx="2.28" ry="2.70" fill="#ff1c00"/></g>
<g filter="url(#bl)"><path d="M0,0 C0.7,0 1.3,1.2 1.7,2.8 L2.9,5.8 C3.5,7.3 4.0,8.8 4.15,10.8 C4.2,13 4.1,15.5 3.8,17.4 C3.6,18.6 3.2,19 2.4,19 L-2.4,19 C-3.2,19 -3.6,18.6 -3.8,17.4 C-4.1,15.5 -4.2,13 -4.15,10.8 C-4.0,8.8 -3.5,7.3 -2.9,5.8 L-1.7,2.8 C-1.3,1.2 -0.7,0 0,0 Z" transform="translate(135.20,202.80) scale(0.931,0.960)" fill="url(#mg)"/><path d="M0,0 C2.4,0 4.2,3.2 4.2,8 L4.2,16.8 C4.2,18.6 3,19 0,19 C-3,19 -4.2,18.6 -4.2,16.8 L-4.2,8 C-4.2,3.2 -2.4,0 0,0 Z" transform="translate(135.20,203.80) scale(1.043,0.909)" fill="#7b2fe6"/><path d="M0,0 C2.4,0 4.2,3.2 4.2,8 L4.2,16.8 C4.2,18.6 3,19 0,19 C-3,19 -4.2,18.6 -4.2,16.8 L-4.2,8 C-4.2,3.2 -2.4,0 0,0 Z" transform="translate(135.20,204.60) scale(0.959,0.859)" fill="#2b3cf2"/><ellipse cx="135.20" cy="213.80" rx="3.80" ry="4.80" fill="#12c6ee"/><ellipse cx="135.20" cy="213.80" rx="3.29" ry="4.16" fill="#34e044"/><ellipse cx="135.20" cy="213.80" rx="2.79" ry="3.52" fill="#f2ee10"/><ellipse cx="135.20" cy="213.80" rx="2.28" ry="2.88" fill="#ff1c00"/></g>
<g filter="url(#bl)"><path d="M0,0 C0.7,0 1.3,1.2 1.7,2.8 L2.9,5.8 C3.5,7.3 4.0,8.8 4.15,10.8 C4.2,13 4.1,15.5 3.8,17.4 C3.6,18.6 3.2,19 2.4,19 L-2.4,19 C-3.2,19 -3.6,18.6 -3.8,17.4 C-4.1,15.5 -4.2,13 -4.15,10.8 C-4.0,8.8 -3.5,7.3 -2.9,5.8 L-1.7,2.8 C-1.3,1.2 -0.7,0 0,0 Z" transform="translate(144.20,202.80) scale(0.931,0.960)" fill="url(#mg)"/><path d="M0,0 C2.4,0 4.2,3.2 4.2,8 L4.2,16.8 C4.2,18.6 3,19 0,19 C-3,19 -4.2,18.6 -4.2,16.8 L-4.2,8 C-4.2,3.2 -2.4,0 0,0 Z" transform="translate(144.20,203.80) scale(1.043,0.909)" fill="#7b2fe6"/><ellipse cx="144.20" cy="211.80" rx="2.50" ry="3.00" fill="#7b2fe6"/><ellipse cx="144.20" cy="211.80" rx="1.81" ry="2.17" fill="#2b3cf2"/><ellipse cx="144.20" cy="211.80" rx="1.12" ry="1.35" fill="#12c6ee"/><ellipse cx="144.20" cy="216.80" rx="2.20" ry="2.50" fill="#2b3cf2"/><ellipse cx="144.20" cy="216.80" rx="1.59" ry="1.81" fill="#12c6ee"/><ellipse cx="144.20" cy="216.80" rx="0.99" ry="1.12" fill="#34e044"/></g>
<g filter="url(#bl)"><path d="M0,0 C0.7,0 1.3,1.2 1.7,2.8 L2.9,5.8 C3.5,7.3 4.0,8.8 4.15,10.8 C4.2,13 4.1,15.5 3.8,17.4 C3.6,18.6 3.2,19 2.4,19 L-2.4,19 C-3.2,19 -3.6,18.6 -3.8,17.4 C-4.1,15.5 -4.2,13 -4.15,10.8 C-4.0,8.8 -3.5,7.3 -2.9,5.8 L-1.7,2.8 C-1.3,1.2 -0.7,0 0,0 Z" transform="translate(153.20,202.80) scale(0.931,0.960)" fill="url(#mg)"/><path d="M0,0 C2.4,0 4.2,3.2 4.2,8 L4.2,16.8 C4.2,18.6 3,19 0,19 C-3,19 -4.2,18.6 -4.2,16.8 L-4.2,8 C-4.2,3.2 -2.4,0 0,0 Z" transform="translate(153.20,203.80) scale(1.043,0.909)" fill="#7b2fe6"/><path d="M0,0 C2.4,0 4.2,3.2 4.2,8 L4.2,16.8 C4.2,18.6 3,19 0,19 C-3,19 -4.2,18.6 -4.2,16.8 L-4.2,8 C-4.2,3.2 -2.4,0 0,0 Z" transform="translate(153.20,204.60) scale(0.959,0.859)" fill="#2b3cf2"/><ellipse cx="153.20" cy="213.80" rx="3.80" ry="4.80" fill="#12c6ee"/><ellipse cx="153.20" cy="213.80" rx="3.29" ry="4.16" fill="#34e044"/><ellipse cx="153.20" cy="213.80" rx="2.79" ry="3.52" fill="#f2ee10"/><ellipse cx="153.20" cy="213.80" rx="2.28" ry="2.88" fill="#ff1c00"/></g>
<g filter="url(#bl)"><path d="M0,0 C0.7,0 1.3,1.2 1.7,2.8 L2.9,5.8 C3.5,7.3 4.0,8.8 4.15,10.8 C4.2,13 4.1,15.5 3.8,17.4 C3.6,18.6 3.2,19 2.4,19 L-2.4,19 C-3.2,19 -3.6,18.6 -3.8,17.4 C-4.1,15.5 -4.2,13 -4.15,10.8 C-4.0,8.8 -3.5,7.3 -2.9,5.8 L-1.7,2.8 C-1.3,1.2 -0.7,0 0,0 Z" transform="translate(162.30,202.80) scale(0.931,0.960)" fill="url(#mg)"/><ellipse cx="163.30" cy="213.80" rx="1.70" ry="2.80" fill="#7b2fe6"/><ellipse cx="163.30" cy="213.80" rx="0.76" ry="1.26" fill="#2b3cf2"/></g>
<rect x="168.20" y="201.80" width="45.90" height="21.20" fill="#1e1e1e" stroke="none" stroke-width="1" rx="0" />
<g filter="url(#bl)"><path d="M0,0 C0.7,0 1.3,1.2 1.7,2.8 L2.9,5.8 C3.5,7.3 4.0,8.8 4.15,10.8 C4.2,13 4.1,15.5 3.8,17.4 C3.6,18.6 3.2,19 2.4,19 L-2.4,19 C-3.2,19 -3.6,18.6 -3.8,17.4 C-4.1,15.5 -4.2,13 -4.15,10.8 C-4.0,8.8 -3.5,7.3 -2.9,5.8 L-1.7,2.8 C-1.3,1.2 -0.7,0 0,0 Z" transform="translate(172.50,202.80) scale(0.931,0.960)" fill="url(#mg)"/><ellipse cx="173.00" cy="207.80" rx="1.00" ry="1.00" fill="#7b2fe6"/></g>
<g filter="url(#bl)"><path d="M0,0 C0.7,0 1.3,1.2 1.7,2.8 L2.9,5.8 C3.5,7.3 4.0,8.8 4.15,10.8 C4.2,13 4.1,15.5 3.8,17.4 C3.6,18.6 3.2,19 2.4,19 L-2.4,19 C-3.2,19 -3.6,18.6 -3.8,17.4 C-4.1,15.5 -4.2,13 -4.15,10.8 C-4.0,8.8 -3.5,7.3 -2.9,5.8 L-1.7,2.8 C-1.3,1.2 -0.7,0 0,0 Z" transform="translate(181.50,202.80) scale(0.931,0.960)" fill="url(#mg)"/></g>
<g filter="url(#bl)"><path d="M0,0 C0.7,0 1.3,1.2 1.7,2.8 L2.9,5.8 C3.5,7.3 4.0,8.8 4.15,10.8 C4.2,13 4.1,15.5 3.8,17.4 C3.6,18.6 3.2,19 2.4,19 L-2.4,19 C-3.2,19 -3.6,18.6 -3.8,17.4 C-4.1,15.5 -4.2,13 -4.15,10.8 C-4.0,8.8 -3.5,7.3 -2.9,5.8 L-1.7,2.8 C-1.3,1.2 -0.7,0 0,0 Z" transform="translate(190.60,202.80) scale(0.931,0.960)" fill="url(#mg)"/><ellipse cx="190.60" cy="213.80" rx="0.80" ry="0.80" fill="#7b2fe6"/></g>
<g filter="url(#bl)"><path d="M0,0 C0.7,0 1.3,1.2 1.7,2.8 L2.9,5.8 C3.5,7.3 4.0,8.8 4.15,10.8 C4.2,13 4.1,15.5 3.8,17.4 C3.6,18.6 3.2,19 2.4,19 L-2.4,19 C-3.2,19 -3.6,18.6 -3.8,17.4 C-4.1,15.5 -4.2,13 -4.15,10.8 C-4.0,8.8 -3.5,7.3 -2.9,5.8 L-1.7,2.8 C-1.3,1.2 -0.7,0 0,0 Z" transform="translate(199.80,202.80) scale(0.931,0.960)" fill="url(#mg)"/><ellipse cx="199.80" cy="215.80" rx="3.00" ry="1.80" fill="#7b2fe6"/><ellipse cx="199.80" cy="215.80" rx="1.35" ry="0.81" fill="#2b3cf2"/></g>
<g filter="url(#bl)"><path d="M0,0 C0.7,0 1.3,1.2 1.7,2.8 L2.9,5.8 C3.5,7.3 4.0,8.8 4.15,10.8 C4.2,13 4.1,15.5 3.8,17.4 C3.6,18.6 3.2,19 2.4,19 L-2.4,19 C-3.2,19 -3.6,18.6 -3.8,17.4 C-4.1,15.5 -4.2,13 -4.15,10.8 C-4.0,8.8 -3.5,7.3 -2.9,5.8 L-1.7,2.8 C-1.3,1.2 -0.7,0 0,0 Z" transform="translate(209.20,202.80) scale(0.931,0.960)" fill="url(#mg)"/><ellipse cx="210.70" cy="211.80" rx="1.10" ry="1.10" fill="#7b2fe6"/></g>
<rect x="36.30" y="225.50" width="36.80" height="21.50" fill="#1e1e1e" stroke="none" stroke-width="1" rx="0" />
<g filter="url(#bl)"><path d="M0,0 C0.7,0 1.3,1.2 1.7,2.8 L2.9,5.8 C3.5,7.3 4.0,8.8 4.15,10.8 C4.2,13 4.1,15.5 3.8,17.4 C3.6,18.6 3.2,19 2.4,19 L-2.4,19 C-3.2,19 -3.6,18.6 -3.8,17.4 C-4.1,15.5 -4.2,13 -4.15,10.8 C-4.0,8.8 -3.5,7.3 -2.9,5.8 L-1.7,2.8 C-1.3,1.2 -0.7,0 0,0 Z" transform="translate(40.60,226.50) scale(0.931,0.960)" fill="url(#mg)"/><path d="M0,0 C2.4,0 4.2,3.2 4.2,8 L4.2,16.8 C4.2,18.6 3,19 0,19 C-3,19 -4.2,18.6 -4.2,16.8 L-4.2,8 C-4.2,3.2 -2.4,0 0,0 Z" transform="translate(40.60,227.50) scale(1.043,0.909)" fill="#7b2fe6"/><path d="M0,0 C2.4,0 4.2,3.2 4.2,8 L4.2,16.8 C4.2,18.6 3,19 0,19 C-3,19 -4.2,18.6 -4.2,16.8 L-4.2,8 C-4.2,3.2 -2.4,0 0,0 Z" transform="translate(40.60,228.30) scale(0.959,0.859)" fill="#2b3cf2"/><path d="M0,0 C2.4,0 4.2,3.2 4.2,8 L4.2,16.8 C4.2,18.6 3,19 0,19 C-3,19 -4.2,18.6 -4.2,16.8 L-4.2,8 C-4.2,3.2 -2.4,0 0,0 Z" transform="translate(40.60,229.10) scale(0.885,0.808)" fill="#12c6ee"/><path d="M0,0 C2.4,0 4.2,3.2 4.2,8 L4.2,16.8 C4.2,18.6 3,19 0,19 C-3,19 -4.2,18.6 -4.2,16.8 L-4.2,8 C-4.2,3.2 -2.4,0 0,0 Z" transform="translate(40.60,229.80) scale(0.838,0.763)" fill="#34e044"/><path d="M0,0 C2.4,0 4.2,3.2 4.2,8 L4.2,16.8 C4.2,18.6 3,19 0,19 C-3,19 -4.2,18.6 -4.2,16.8 L-4.2,8 C-4.2,3.2 -2.4,0 0,0 Z" transform="translate(40.60,230.70) scale(0.801,0.707)" fill="#ff1c00"/></g>
<g filter="url(#bl)"><path d="M0,0 C0.7,0 1.3,1.2 1.7,2.8 L2.9,5.8 C3.5,7.3 4.0,8.8 4.15,10.8 C4.2,13 4.1,15.5 3.8,17.4 C3.6,18.6 3.2,19 2.4,19 L-2.4,19 C-3.2,19 -3.6,18.6 -3.8,17.4 C-4.1,15.5 -4.2,13 -4.15,10.8 C-4.0,8.8 -3.5,7.3 -2.9,5.8 L-1.7,2.8 C-1.3,1.2 -0.7,0 0,0 Z" transform="translate(49.30,226.50) scale(0.931,0.960)" fill="url(#mg)"/><path d="M0,0 C2.4,0 4.2,3.2 4.2,8 L4.2,16.8 C4.2,18.6 3,19 0,19 C-3,19 -4.2,18.6 -4.2,16.8 L-4.2,8 C-4.2,3.2 -2.4,0 0,0 Z" transform="translate(49.30,227.50) scale(1.043,0.909)" fill="#7b2fe6"/><path d="M0,0 C2.4,0 4.2,3.2 4.2,8 L4.2,16.8 C4.2,18.6 3,19 0,19 C-3,19 -4.2,18.6 -4.2,16.8 L-4.2,8 C-4.2,3.2 -2.4,0 0,0 Z" transform="translate(49.30,228.30) scale(0.959,0.859)" fill="#2b3cf2"/><path d="M0,0 C2.4,0 4.2,3.2 4.2,8 L4.2,16.8 C4.2,18.6 3,19 0,19 C-3,19 -4.2,18.6 -4.2,16.8 L-4.2,8 C-4.2,3.2 -2.4,0 0,0 Z" transform="translate(49.30,229.10) scale(0.885,0.808)" fill="#12c6ee"/><path d="M0,0 C2.4,0 4.2,3.2 4.2,8 L4.2,16.8 C4.2,18.6 3,19 0,19 C-3,19 -4.2,18.6 -4.2,16.8 L-4.2,8 C-4.2,3.2 -2.4,0 0,0 Z" transform="translate(49.30,229.80) scale(0.838,0.763)" fill="#34e044"/><path d="M0,0 C2.4,0 4.2,3.2 4.2,8 L4.2,16.8 C4.2,18.6 3,19 0,19 C-3,19 -4.2,18.6 -4.2,16.8 L-4.2,8 C-4.2,3.2 -2.4,0 0,0 Z" transform="translate(49.30,230.70) scale(0.801,0.707)" fill="#ff1c00"/></g>
<g filter="url(#bl)"><path d="M0,0 C0.7,0 1.3,1.2 1.7,2.8 L2.9,5.8 C3.5,7.3 4.0,8.8 4.15,10.8 C4.2,13 4.1,15.5 3.8,17.4 C3.6,18.6 3.2,19 2.4,19 L-2.4,19 C-3.2,19 -3.6,18.6 -3.8,17.4 C-4.1,15.5 -4.2,13 -4.15,10.8 C-4.0,8.8 -3.5,7.3 -2.9,5.8 L-1.7,2.8 C-1.3,1.2 -0.7,0 0,0 Z" transform="translate(58.30,226.50) scale(0.931,0.960)" fill="url(#mg)"/><path d="M0,0 C2.4,0 4.2,3.2 4.2,8 L4.2,16.8 C4.2,18.6 3,19 0,19 C-3,19 -4.2,18.6 -4.2,16.8 L-4.2,8 C-4.2,3.2 -2.4,0 0,0 Z" transform="translate(58.30,227.50) scale(1.043,0.909)" fill="#7b2fe6"/><path d="M0,0 C2.4,0 4.2,3.2 4.2,8 L4.2,16.8 C4.2,18.6 3,19 0,19 C-3,19 -4.2,18.6 -4.2,16.8 L-4.2,8 C-4.2,3.2 -2.4,0 0,0 Z" transform="translate(58.30,228.30) scale(0.959,0.859)" fill="#2b3cf2"/><path d="M0,0 C2.4,0 4.2,3.2 4.2,8 L4.2,16.8 C4.2,18.6 3,19 0,19 C-3,19 -4.2,18.6 -4.2,16.8 L-4.2,8 C-4.2,3.2 -2.4,0 0,0 Z" transform="translate(58.30,229.10) scale(0.885,0.808)" fill="#12c6ee"/><path d="M0,0 C2.4,0 4.2,3.2 4.2,8 L4.2,16.8 C4.2,18.6 3,19 0,19 C-3,19 -4.2,18.6 -4.2,16.8 L-4.2,8 C-4.2,3.2 -2.4,0 0,0 Z" transform="translate(58.30,229.80) scale(0.838,0.763)" fill="#34e044"/><path d="M0,0 C2.4,0 4.2,3.2 4.2,8 L4.2,16.8 C4.2,18.6 3,19 0,19 C-3,19 -4.2,18.6 -4.2,16.8 L-4.2,8 C-4.2,3.2 -2.4,0 0,0 Z" transform="translate(58.30,230.70) scale(0.801,0.707)" fill="#ff1c00"/></g>
<g filter="url(#bl)"><path d="M0,0 C0.7,0 1.3,1.2 1.7,2.8 L2.9,5.8 C3.5,7.3 4.0,8.8 4.15,10.8 C4.2,13 4.1,15.5 3.8,17.4 C3.6,18.6 3.2,19 2.4,19 L-2.4,19 C-3.2,19 -3.6,18.6 -3.8,17.4 C-4.1,15.5 -4.2,13 -4.15,10.8 C-4.0,8.8 -3.5,7.3 -2.9,5.8 L-1.7,2.8 C-1.3,1.2 -0.7,0 0,0 Z" transform="translate(67.80,226.50) scale(0.931,0.960)" fill="url(#mg)"/><path d="M0,0 C2.4,0 4.2,3.2 4.2,8 L4.2,16.8 C4.2,18.6 3,19 0,19 C-3,19 -4.2,18.6 -4.2,16.8 L-4.2,8 C-4.2,3.2 -2.4,0 0,0 Z" transform="translate(67.80,227.50) scale(1.043,0.909)" fill="#7b2fe6"/><path d="M0,0 C2.4,0 4.2,3.2 4.2,8 L4.2,16.8 C4.2,18.6 3,19 0,19 C-3,19 -4.2,18.6 -4.2,16.8 L-4.2,8 C-4.2,3.2 -2.4,0 0,0 Z" transform="translate(67.80,228.30) scale(0.959,0.859)" fill="#2b3cf2"/><path d="M0,0 C2.4,0 4.2,3.2 4.2,8 L4.2,16.8 C4.2,18.6 3,19 0,19 C-3,19 -4.2,18.6 -4.2,16.8 L-4.2,8 C-4.2,3.2 -2.4,0 0,0 Z" transform="translate(67.80,229.10) scale(0.885,0.808)" fill="#12c6ee"/><path d="M0,0 C2.4,0 4.2,3.2 4.2,8 L4.2,16.8 C4.2,18.6 3,19 0,19 C-3,19 -4.2,18.6 -4.2,16.8 L-4.2,8 C-4.2,3.2 -2.4,0 0,0 Z" transform="translate(67.80,229.80) scale(0.838,0.763)" fill="#34e044"/><path d="M0,0 C2.4,0 4.2,3.2 4.2,8 L4.2,16.8 C4.2,18.6 3,19 0,19 C-3,19 -4.2,18.6 -4.2,16.8 L-4.2,8 C-4.2,3.2 -2.4,0 0,0 Z" transform="translate(67.80,230.70) scale(0.801,0.707)" fill="#ff1c00"/></g>
<rect x="77.10" y="225.50" width="43.90" height="21.50" fill="#1e1e1e" stroke="none" stroke-width="1" rx="0" />
<g filter="url(#bl)"><path d="M0,0 C0.7,0 1.3,1.2 1.7,2.8 L2.9,5.8 C3.5,7.3 4.0,8.8 4.15,10.8 C4.2,13 4.1,15.5 3.8,17.4 C3.6,18.6 3.2,19 2.4,19 L-2.4,19 C-3.2,19 -3.6,18.6 -3.8,17.4 C-4.1,15.5 -4.2,13 -4.15,10.8 C-4.0,8.8 -3.5,7.3 -2.9,5.8 L-1.7,2.8 C-1.3,1.2 -0.7,0 0,0 Z" transform="translate(81.30,226.50) scale(0.931,0.960)" fill="url(#mg)"/><path d="M0,0 C2.4,0 4.2,3.2 4.2,8 L4.2,16.8 C4.2,18.6 3,19 0,19 C-3,19 -4.2,18.6 -4.2,16.8 L-4.2,8 C-4.2,3.2 -2.4,0 0,0 Z" transform="translate(81.30,227.50) scale(1.043,0.909)" fill="#7b2fe6"/><path d="M0,0 C2.4,0 4.2,3.2 4.2,8 L4.2,16.8 C4.2,18.6 3,19 0,19 C-3,19 -4.2,18.6 -4.2,16.8 L-4.2,8 C-4.2,3.2 -2.4,0 0,0 Z" transform="translate(81.30,228.30) scale(0.959,0.859)" fill="#2b3cf2"/><path d="M0,0 C2.4,0 4.2,3.2 4.2,8 L4.2,16.8 C4.2,18.6 3,19 0,19 C-3,19 -4.2,18.6 -4.2,16.8 L-4.2,8 C-4.2,3.2 -2.4,0 0,0 Z" transform="translate(81.30,229.10) scale(0.885,0.808)" fill="#12c6ee"/><path d="M0,0 C2.4,0 4.2,3.2 4.2,8 L4.2,16.8 C4.2,18.6 3,19 0,19 C-3,19 -4.2,18.6 -4.2,16.8 L-4.2,8 C-4.2,3.2 -2.4,0 0,0 Z" transform="translate(81.30,229.80) scale(0.838,0.763)" fill="#34e044"/><path d="M0,0 C2.4,0 4.2,3.2 4.2,8 L4.2,16.8 C4.2,18.6 3,19 0,19 C-3,19 -4.2,18.6 -4.2,16.8 L-4.2,8 C-4.2,3.2 -2.4,0 0,0 Z" transform="translate(81.30,230.70) scale(0.801,0.707)" fill="#ff1c00"/></g>
<g filter="url(#bl)"><path d="M0,0 C0.7,0 1.3,1.2 1.7,2.8 L2.9,5.8 C3.5,7.3 4.0,8.8 4.15,10.8 C4.2,13 4.1,15.5 3.8,17.4 C3.6,18.6 3.2,19 2.4,19 L-2.4,19 C-3.2,19 -3.6,18.6 -3.8,17.4 C-4.1,15.5 -4.2,13 -4.15,10.8 C-4.0,8.8 -3.5,7.3 -2.9,5.8 L-1.7,2.8 C-1.3,1.2 -0.7,0 0,0 Z" transform="translate(89.80,226.50) scale(0.931,0.960)" fill="url(#mg)"/><path d="M0,0 C2.4,0 4.2,3.2 4.2,8 L4.2,16.8 C4.2,18.6 3,19 0,19 C-3,19 -4.2,18.6 -4.2,16.8 L-4.2,8 C-4.2,3.2 -2.4,0 0,0 Z" transform="translate(89.80,227.50) scale(1.043,0.909)" fill="#7b2fe6"/><path d="M0,0 C2.4,0 4.2,3.2 4.2,8 L4.2,16.8 C4.2,18.6 3,19 0,19 C-3,19 -4.2,18.6 -4.2,16.8 L-4.2,8 C-4.2,3.2 -2.4,0 0,0 Z" transform="translate(89.80,228.30) scale(0.959,0.859)" fill="#2b3cf2"/><path d="M0,0 C2.4,0 4.2,3.2 4.2,8 L4.2,16.8 C4.2,18.6 3,19 0,19 C-3,19 -4.2,18.6 -4.2,16.8 L-4.2,8 C-4.2,3.2 -2.4,0 0,0 Z" transform="translate(89.80,229.10) scale(0.885,0.808)" fill="#12c6ee"/><path d="M0,0 C2.4,0 4.2,3.2 4.2,8 L4.2,16.8 C4.2,18.6 3,19 0,19 C-3,19 -4.2,18.6 -4.2,16.8 L-4.2,8 C-4.2,3.2 -2.4,0 0,0 Z" transform="translate(89.80,229.80) scale(0.838,0.763)" fill="#34e044"/><path d="M0,0 C2.4,0 4.2,3.2 4.2,8 L4.2,16.8 C4.2,18.6 3,19 0,19 C-3,19 -4.2,18.6 -4.2,16.8 L-4.2,8 C-4.2,3.2 -2.4,0 0,0 Z" transform="translate(89.80,230.70) scale(0.801,0.707)" fill="#ff1c00"/></g>
<g filter="url(#bl)"><path d="M0,0 C0.7,0 1.3,1.2 1.7,2.8 L2.9,5.8 C3.5,7.3 4.0,8.8 4.15,10.8 C4.2,13 4.1,15.5 3.8,17.4 C3.6,18.6 3.2,19 2.4,19 L-2.4,19 C-3.2,19 -3.6,18.6 -3.8,17.4 C-4.1,15.5 -4.2,13 -4.15,10.8 C-4.0,8.8 -3.5,7.3 -2.9,5.8 L-1.7,2.8 C-1.3,1.2 -0.7,0 0,0 Z" transform="translate(98.80,226.50) scale(0.931,0.960)" fill="url(#mg)"/><path d="M0,0 C2.4,0 4.2,3.2 4.2,8 L4.2,16.8 C4.2,18.6 3,19 0,19 C-3,19 -4.2,18.6 -4.2,16.8 L-4.2,8 C-4.2,3.2 -2.4,0 0,0 Z" transform="translate(98.80,227.50) scale(1.043,0.909)" fill="#7b2fe6"/><path d="M0,0 C2.4,0 4.2,3.2 4.2,8 L4.2,16.8 C4.2,18.6 3,19 0,19 C-3,19 -4.2,18.6 -4.2,16.8 L-4.2,8 C-4.2,3.2 -2.4,0 0,0 Z" transform="translate(98.80,228.30) scale(0.959,0.859)" fill="#2b3cf2"/><path d="M0,0 C2.4,0 4.2,3.2 4.2,8 L4.2,16.8 C4.2,18.6 3,19 0,19 C-3,19 -4.2,18.6 -4.2,16.8 L-4.2,8 C-4.2,3.2 -2.4,0 0,0 Z" transform="translate(98.80,229.10) scale(0.885,0.808)" fill="#12c6ee"/><path d="M0,0 C2.4,0 4.2,3.2 4.2,8 L4.2,16.8 C4.2,18.6 3,19 0,19 C-3,19 -4.2,18.6 -4.2,16.8 L-4.2,8 C-4.2,3.2 -2.4,0 0,0 Z" transform="translate(98.80,229.80) scale(0.838,0.763)" fill="#34e044"/><path d="M0,0 C2.4,0 4.2,3.2 4.2,8 L4.2,16.8 C4.2,18.6 3,19 0,19 C-3,19 -4.2,18.6 -4.2,16.8 L-4.2,8 C-4.2,3.2 -2.4,0 0,0 Z" transform="translate(98.80,230.70) scale(0.801,0.707)" fill="#ff1c00"/></g>
<g filter="url(#bl)"><path d="M0,0 C0.7,0 1.3,1.2 1.7,2.8 L2.9,5.8 C3.5,7.3 4.0,8.8 4.15,10.8 C4.2,13 4.1,15.5 3.8,17.4 C3.6,18.6 3.2,19 2.4,19 L-2.4,19 C-3.2,19 -3.6,18.6 -3.8,17.4 C-4.1,15.5 -4.2,13 -4.15,10.8 C-4.0,8.8 -3.5,7.3 -2.9,5.8 L-1.7,2.8 C-1.3,1.2 -0.7,0 0,0 Z" transform="translate(107.80,226.50) scale(0.931,0.960)" fill="url(#mg)"/><path d="M0,0 C2.4,0 4.2,3.2 4.2,8 L4.2,16.8 C4.2,18.6 3,19 0,19 C-3,19 -4.2,18.6 -4.2,16.8 L-4.2,8 C-4.2,3.2 -2.4,0 0,0 Z" transform="translate(107.80,227.50) scale(1.043,0.909)" fill="#7b2fe6"/><path d="M0,0 C2.4,0 4.2,3.2 4.2,8 L4.2,16.8 C4.2,18.6 3,19 0,19 C-3,19 -4.2,18.6 -4.2,16.8 L-4.2,8 C-4.2,3.2 -2.4,0 0,0 Z" transform="translate(107.80,228.30) scale(0.959,0.859)" fill="#2b3cf2"/><path d="M0,0 C2.4,0 4.2,3.2 4.2,8 L4.2,16.8 C4.2,18.6 3,19 0,19 C-3,19 -4.2,18.6 -4.2,16.8 L-4.2,8 C-4.2,3.2 -2.4,0 0,0 Z" transform="translate(107.80,229.10) scale(0.885,0.808)" fill="#12c6ee"/><path d="M0,0 C2.4,0 4.2,3.2 4.2,8 L4.2,16.8 C4.2,18.6 3,19 0,19 C-3,19 -4.2,18.6 -4.2,16.8 L-4.2,8 C-4.2,3.2 -2.4,0 0,0 Z" transform="translate(107.80,229.80) scale(0.838,0.763)" fill="#34e044"/><path d="M0,0 C2.4,0 4.2,3.2 4.2,8 L4.2,16.8 C4.2,18.6 3,19 0,19 C-3,19 -4.2,18.6 -4.2,16.8 L-4.2,8 C-4.2,3.2 -2.4,0 0,0 Z" transform="translate(107.80,230.70) scale(0.801,0.707)" fill="#ff1c00"/></g>
<g filter="url(#bl)"><path d="M0,0 C0.7,0 1.3,1.2 1.7,2.8 L2.9,5.8 C3.5,7.3 4.0,8.8 4.15,10.8 C4.2,13 4.1,15.5 3.8,17.4 C3.6,18.6 3.2,19 2.4,19 L-2.4,19 C-3.2,19 -3.6,18.6 -3.8,17.4 C-4.1,15.5 -4.2,13 -4.15,10.8 C-4.0,8.8 -3.5,7.3 -2.9,5.8 L-1.7,2.8 C-1.3,1.2 -0.7,0 0,0 Z" transform="translate(116.60,226.50) scale(0.931,0.960)" fill="url(#mg)"/><path d="M0,0 C2.4,0 4.2,3.2 4.2,8 L4.2,16.8 C4.2,18.6 3,19 0,19 C-3,19 -4.2,18.6 -4.2,16.8 L-4.2,8 C-4.2,3.2 -2.4,0 0,0 Z" transform="translate(116.60,227.50) scale(1.043,0.909)" fill="#7b2fe6"/><path d="M0,0 C2.4,0 4.2,3.2 4.2,8 L4.2,16.8 C4.2,18.6 3,19 0,19 C-3,19 -4.2,18.6 -4.2,16.8 L-4.2,8 C-4.2,3.2 -2.4,0 0,0 Z" transform="translate(116.60,228.30) scale(0.959,0.859)" fill="#2b3cf2"/><path d="M0,0 C2.4,0 4.2,3.2 4.2,8 L4.2,16.8 C4.2,18.6 3,19 0,19 C-3,19 -4.2,18.6 -4.2,16.8 L-4.2,8 C-4.2,3.2 -2.4,0 0,0 Z" transform="translate(116.60,229.10) scale(0.885,0.808)" fill="#12c6ee"/><path d="M0,0 C2.4,0 4.2,3.2 4.2,8 L4.2,16.8 C4.2,18.6 3,19 0,19 C-3,19 -4.2,18.6 -4.2,16.8 L-4.2,8 C-4.2,3.2 -2.4,0 0,0 Z" transform="translate(116.60,229.80) scale(0.838,0.763)" fill="#34e044"/><path d="M0,0 C2.4,0 4.2,3.2 4.2,8 L4.2,16.8 C4.2,18.6 3,19 0,19 C-3,19 -4.2,18.6 -4.2,16.8 L-4.2,8 C-4.2,3.2 -2.4,0 0,0 Z" transform="translate(116.60,230.70) scale(0.801,0.707)" fill="#ff1c00"/></g>
<rect x="122.20" y="225.50" width="44.90" height="21.50" fill="#1e1e1e" stroke="none" stroke-width="1" rx="0" />
<g filter="url(#bl)"><path d="M0,0 C0.7,0 1.3,1.2 1.7,2.8 L2.9,5.8 C3.5,7.3 4.0,8.8 4.15,10.8 C4.2,13 4.1,15.5 3.8,17.4 C3.6,18.6 3.2,19 2.4,19 L-2.4,19 C-3.2,19 -3.6,18.6 -3.8,17.4 C-4.1,15.5 -4.2,13 -4.15,10.8 C-4.0,8.8 -3.5,7.3 -2.9,5.8 L-1.7,2.8 C-1.3,1.2 -0.7,0 0,0 Z" transform="translate(126.30,226.50) scale(0.931,0.960)" fill="url(#mg)"/><path d="M0,0 C2.4,0 4.2,3.2 4.2,8 L4.2,16.8 C4.2,18.6 3,19 0,19 C-3,19 -4.2,18.6 -4.2,16.8 L-4.2,8 C-4.2,3.2 -2.4,0 0,0 Z" transform="translate(126.30,227.50) scale(1.043,0.909)" fill="#7b2fe6"/><path d="M0,0 C2.4,0 4.2,3.2 4.2,8 L4.2,16.8 C4.2,18.6 3,19 0,19 C-3,19 -4.2,18.6 -4.2,16.8 L-4.2,8 C-4.2,3.2 -2.4,0 0,0 Z" transform="translate(126.30,228.30) scale(0.959,0.859)" fill="#2b3cf2"/><path d="M0,0 C2.4,0 4.2,3.2 4.2,8 L4.2,16.8 C4.2,18.6 3,19 0,19 C-3,19 -4.2,18.6 -4.2,16.8 L-4.2,8 C-4.2,3.2 -2.4,0 0,0 Z" transform="translate(126.30,229.10) scale(0.885,0.808)" fill="#12c6ee"/><path d="M0,0 C2.4,0 4.2,3.2 4.2,8 L4.2,16.8 C4.2,18.6 3,19 0,19 C-3,19 -4.2,18.6 -4.2,16.8 L-4.2,8 C-4.2,3.2 -2.4,0 0,0 Z" transform="translate(126.30,229.80) scale(0.838,0.763)" fill="#34e044"/><path d="M0,0 C2.4,0 4.2,3.2 4.2,8 L4.2,16.8 C4.2,18.6 3,19 0,19 C-3,19 -4.2,18.6 -4.2,16.8 L-4.2,8 C-4.2,3.2 -2.4,0 0,0 Z" transform="translate(126.30,230.70) scale(0.801,0.707)" fill="#ff1c00"/></g>
<g filter="url(#bl)"><path d="M0,0 C0.7,0 1.3,1.2 1.7,2.8 L2.9,5.8 C3.5,7.3 4.0,8.8 4.15,10.8 C4.2,13 4.1,15.5 3.8,17.4 C3.6,18.6 3.2,19 2.4,19 L-2.4,19 C-3.2,19 -3.6,18.6 -3.8,17.4 C-4.1,15.5 -4.2,13 -4.15,10.8 C-4.0,8.8 -3.5,7.3 -2.9,5.8 L-1.7,2.8 C-1.3,1.2 -0.7,0 0,0 Z" transform="translate(135.20,226.50) scale(0.931,0.960)" fill="url(#mg)"/><path d="M0,0 C2.4,0 4.2,3.2 4.2,8 L4.2,16.8 C4.2,18.6 3,19 0,19 C-3,19 -4.2,18.6 -4.2,16.8 L-4.2,8 C-4.2,3.2 -2.4,0 0,0 Z" transform="translate(135.20,227.50) scale(1.043,0.909)" fill="#7b2fe6"/><path d="M0,0 C2.4,0 4.2,3.2 4.2,8 L4.2,16.8 C4.2,18.6 3,19 0,19 C-3,19 -4.2,18.6 -4.2,16.8 L-4.2,8 C-4.2,3.2 -2.4,0 0,0 Z" transform="translate(135.20,228.30) scale(0.959,0.859)" fill="#2b3cf2"/><path d="M0,0 C2.4,0 4.2,3.2 4.2,8 L4.2,16.8 C4.2,18.6 3,19 0,19 C-3,19 -4.2,18.6 -4.2,16.8 L-4.2,8 C-4.2,3.2 -2.4,0 0,0 Z" transform="translate(135.20,229.10) scale(0.885,0.808)" fill="#12c6ee"/><path d="M0,0 C2.4,0 4.2,3.2 4.2,8 L4.2,16.8 C4.2,18.6 3,19 0,19 C-3,19 -4.2,18.6 -4.2,16.8 L-4.2,8 C-4.2,3.2 -2.4,0 0,0 Z" transform="translate(135.20,229.80) scale(0.838,0.763)" fill="#34e044"/><path d="M0,0 C2.4,0 4.2,3.2 4.2,8 L4.2,16.8 C4.2,18.6 3,19 0,19 C-3,19 -4.2,18.6 -4.2,16.8 L-4.2,8 C-4.2,3.2 -2.4,0 0,0 Z" transform="translate(135.20,230.70) scale(0.801,0.707)" fill="#ff1c00"/></g>
<g filter="url(#bl)"><path d="M0,0 C0.7,0 1.3,1.2 1.7,2.8 L2.9,5.8 C3.5,7.3 4.0,8.8 4.15,10.8 C4.2,13 4.1,15.5 3.8,17.4 C3.6,18.6 3.2,19 2.4,19 L-2.4,19 C-3.2,19 -3.6,18.6 -3.8,17.4 C-4.1,15.5 -4.2,13 -4.15,10.8 C-4.0,8.8 -3.5,7.3 -2.9,5.8 L-1.7,2.8 C-1.3,1.2 -0.7,0 0,0 Z" transform="translate(144.20,226.50) scale(0.931,0.960)" fill="url(#mg)"/><path d="M0,0 C2.4,0 4.2,3.2 4.2,8 L4.2,16.8 C4.2,18.6 3,19 0,19 C-3,19 -4.2,18.6 -4.2,16.8 L-4.2,8 C-4.2,3.2 -2.4,0 0,0 Z" transform="translate(144.20,227.50) scale(1.043,0.909)" fill="#7b2fe6"/><path d="M0,0 C2.4,0 4.2,3.2 4.2,8 L4.2,16.8 C4.2,18.6 3,19 0,19 C-3,19 -4.2,18.6 -4.2,16.8 L-4.2,8 C-4.2,3.2 -2.4,0 0,0 Z" transform="translate(144.20,228.30) scale(0.959,0.859)" fill="#2b3cf2"/><ellipse cx="144.20" cy="237.50" rx="3.40" ry="4.80" fill="#12c6ee"/><ellipse cx="144.20" cy="237.50" rx="2.95" ry="4.16" fill="#34e044"/><ellipse cx="144.20" cy="237.50" rx="2.49" ry="3.52" fill="#f2ee10"/><ellipse cx="144.20" cy="237.50" rx="2.04" ry="2.88" fill="#ff1c00"/></g>
<g filter="url(#bl)"><path d="M0,0 C0.7,0 1.3,1.2 1.7,2.8 L2.9,5.8 C3.5,7.3 4.0,8.8 4.15,10.8 C4.2,13 4.1,15.5 3.8,17.4 C3.6,18.6 3.2,19 2.4,19 L-2.4,19 C-3.2,19 -3.6,18.6 -3.8,17.4 C-4.1,15.5 -4.2,13 -4.15,10.8 C-4.0,8.8 -3.5,7.3 -2.9,5.8 L-1.7,2.8 C-1.3,1.2 -0.7,0 0,0 Z" transform="translate(153.20,226.50) scale(0.931,0.960)" fill="url(#mg)"/><path d="M0,0 C2.4,0 4.2,3.2 4.2,8 L4.2,16.8 C4.2,18.6 3,19 0,19 C-3,19 -4.2,18.6 -4.2,16.8 L-4.2,8 C-4.2,3.2 -2.4,0 0,0 Z" transform="translate(153.20,227.50) scale(1.043,0.909)" fill="#7b2fe6"/><path d="M0,0 C2.4,0 4.2,3.2 4.2,8 L4.2,16.8 C4.2,18.6 3,19 0,19 C-3,19 -4.2,18.6 -4.2,16.8 L-4.2,8 C-4.2,3.2 -2.4,0 0,0 Z" transform="translate(153.20,228.30) scale(0.959,0.859)" fill="#2b3cf2"/><path d="M0,0 C2.4,0 4.2,3.2 4.2,8 L4.2,16.8 C4.2,18.6 3,19 0,19 C-3,19 -4.2,18.6 -4.2,16.8 L-4.2,8 C-4.2,3.2 -2.4,0 0,0 Z" transform="translate(153.20,229.10) scale(0.885,0.808)" fill="#12c6ee"/><path d="M0,0 C2.4,0 4.2,3.2 4.2,8 L4.2,16.8 C4.2,18.6 3,19 0,19 C-3,19 -4.2,18.6 -4.2,16.8 L-4.2,8 C-4.2,3.2 -2.4,0 0,0 Z" transform="translate(153.20,229.80) scale(0.838,0.763)" fill="#34e044"/><path d="M0,0 C2.4,0 4.2,3.2 4.2,8 L4.2,16.8 C4.2,18.6 3,19 0,19 C-3,19 -4.2,18.6 -4.2,16.8 L-4.2,8 C-4.2,3.2 -2.4,0 0,0 Z" transform="translate(153.20,230.70) scale(0.801,0.707)" fill="#ff1c00"/></g>
<g filter="url(#bl)"><path d="M0,0 C0.7,0 1.3,1.2 1.7,2.8 L2.9,5.8 C3.5,7.3 4.0,8.8 4.15,10.8 C4.2,13 4.1,15.5 3.8,17.4 C3.6,18.6 3.2,19 2.4,19 L-2.4,19 C-3.2,19 -3.6,18.6 -3.8,17.4 C-4.1,15.5 -4.2,13 -4.15,10.8 C-4.0,8.8 -3.5,7.3 -2.9,5.8 L-1.7,2.8 C-1.3,1.2 -0.7,0 0,0 Z" transform="translate(162.30,226.50) scale(0.931,0.960)" fill="url(#mg)"/><path d="M0,0 C2.4,0 4.2,3.2 4.2,8 L4.2,16.8 C4.2,18.6 3,19 0,19 C-3,19 -4.2,18.6 -4.2,16.8 L-4.2,8 C-4.2,3.2 -2.4,0 0,0 Z" transform="translate(162.30,227.50) scale(1.043,0.909)" fill="#7b2fe6"/><path d="M0,0 C2.4,0 4.2,3.2 4.2,8 L4.2,16.8 C4.2,18.6 3,19 0,19 C-3,19 -4.2,18.6 -4.2,16.8 L-4.2,8 C-4.2,3.2 -2.4,0 0,0 Z" transform="translate(162.30,228.30) scale(0.959,0.859)" fill="#2b3cf2"/><ellipse cx="162.30" cy="238.50" rx="2.80" ry="3.80" fill="#12c6ee"/><ellipse cx="162.30" cy="238.50" rx="1.68" ry="2.28" fill="#34e044"/></g>
<rect x="168.20" y="225.50" width="45.90" height="21.50" fill="#1e1e1e" stroke="none" stroke-width="1" rx="0" />
<g filter="url(#bl)"><path d="M0,0 C0.7,0 1.3,1.2 1.7,2.8 L2.9,5.8 C3.5,7.3 4.0,8.8 4.15,10.8 C4.2,13 4.1,15.5 3.8,17.4 C3.6,18.6 3.2,19 2.4,19 L-2.4,19 C-3.2,19 -3.6,18.6 -3.8,17.4 C-4.1,15.5 -4.2,13 -4.15,10.8 C-4.0,8.8 -3.5,7.3 -2.9,5.8 L-1.7,2.8 C-1.3,1.2 -0.7,0 0,0 Z" transform="translate(172.50,226.50) scale(0.931,0.960)" fill="url(#mg)"/><ellipse cx="172.50" cy="235.50" rx="2.00" ry="2.00" fill="#7b2fe6"/><ellipse cx="172.50" cy="235.50" rx="0.90" ry="0.90" fill="#2b3cf2"/></g>
<g filter="url(#bl)"><path d="M0,0 C0.7,0 1.3,1.2 1.7,2.8 L2.9,5.8 C3.5,7.3 4.0,8.8 4.15,10.8 C4.2,13 4.1,15.5 3.8,17.4 C3.6,18.6 3.2,19 2.4,19 L-2.4,19 C-3.2,19 -3.6,18.6 -3.8,17.4 C-4.1,15.5 -4.2,13 -4.15,10.8 C-4.0,8.8 -3.5,7.3 -2.9,5.8 L-1.7,2.8 C-1.3,1.2 -0.7,0 0,0 Z" transform="translate(181.50,226.50) scale(0.931,0.960)" fill="url(#mg)"/><ellipse cx="181.50" cy="238.50" rx="2.80" ry="2.80" fill="#7b2fe6"/><ellipse cx="181.50" cy="238.50" rx="2.03" ry="2.03" fill="#2b3cf2"/><ellipse cx="181.50" cy="238.50" rx="1.26" ry="1.26" fill="#12c6ee"/><ellipse cx="181.50" cy="231.50" rx="1.10" ry="1.10" fill="#7b2fe6"/></g>
<g filter="url(#bl)"><path d="M0,0 C0.7,0 1.3,1.2 1.7,2.8 L2.9,5.8 C3.5,7.3 4.0,8.8 4.15,10.8 C4.2,13 4.1,15.5 3.8,17.4 C3.6,18.6 3.2,19 2.4,19 L-2.4,19 C-3.2,19 -3.6,18.6 -3.8,17.4 C-4.1,15.5 -4.2,13 -4.15,10.8 C-4.0,8.8 -3.5,7.3 -2.9,5.8 L-1.7,2.8 C-1.3,1.2 -0.7,0 0,0 Z" transform="translate(190.60,226.50) scale(0.931,0.960)" fill="url(#mg)"/><ellipse cx="190.60" cy="237.50" rx="1.20" ry="1.00" fill="#7b2fe6"/></g>
<g filter="url(#bl)"><path d="M0,0 C0.7,0 1.3,1.2 1.7,2.8 L2.9,5.8 C3.5,7.3 4.0,8.8 4.15,10.8 C4.2,13 4.1,15.5 3.8,17.4 C3.6,18.6 3.2,19 2.4,19 L-2.4,19 C-3.2,19 -3.6,18.6 -3.8,17.4 C-4.1,15.5 -4.2,13 -4.15,10.8 C-4.0,8.8 -3.5,7.3 -2.9,5.8 L-1.7,2.8 C-1.3,1.2 -0.7,0 0,0 Z" transform="translate(199.80,226.50) scale(0.931,0.960)" fill="url(#mg)"/><ellipse cx="199.80" cy="238.50" rx="3.00" ry="3.00" fill="#7b2fe6"/><ellipse cx="199.80" cy="238.50" rx="2.17" ry="2.17" fill="#2b3cf2"/><ellipse cx="199.80" cy="238.50" rx="1.35" ry="1.35" fill="#12c6ee"/></g>
<g filter="url(#bl)"><path d="M0,0 C0.7,0 1.3,1.2 1.7,2.8 L2.9,5.8 C3.5,7.3 4.0,8.8 4.15,10.8 C4.2,13 4.1,15.5 3.8,17.4 C3.6,18.6 3.2,19 2.4,19 L-2.4,19 C-3.2,19 -3.6,18.6 -3.8,17.4 C-4.1,15.5 -4.2,13 -4.15,10.8 C-4.0,8.8 -3.5,7.3 -2.9,5.8 L-1.7,2.8 C-1.3,1.2 -0.7,0 0,0 Z" transform="translate(209.20,226.50) scale(0.931,0.960)" fill="url(#mg)"/><ellipse cx="209.20" cy="235.50" rx="2.20" ry="2.20" fill="#7b2fe6"/><ellipse cx="209.20" cy="235.50" rx="0.99" ry="0.99" fill="#2b3cf2"/><ellipse cx="210.20" cy="231.50" rx="1.00" ry="1.00" fill="#7b2fe6"/></g>
<rect x="77.10" y="250.00" width="43.90" height="21.20" fill="#262626" stroke="none" stroke-width="1" rx="0" />
<line x1="85.55" y1="250.50" x2="85.55" y2="270.70" stroke="#3a3a3a" stroke-width="0.6" />
<line x1="94.30" y1="250.50" x2="94.30" y2="270.70" stroke="#3a3a3a" stroke-width="0.6" />
<line x1="103.30" y1="250.50" x2="103.30" y2="270.70" stroke="#3a3a3a" stroke-width="0.6" />
<line x1="112.20" y1="250.50" x2="112.20" y2="270.70" stroke="#3a3a3a" stroke-width="0.6" />
<rect x="82.80" y="251.20" width="1.00" height="0.80" fill="#777" stroke="none" stroke-width="1" rx="0" />
<rect x="91.30" y="251.20" width="1.00" height="0.80" fill="#777" stroke="none" stroke-width="1" rx="0" />
<rect x="100.30" y="251.20" width="1.00" height="0.80" fill="#777" stroke="none" stroke-width="1" rx="0" />
<rect x="109.30" y="251.20" width="1.00" height="0.80" fill="#777" stroke="none" stroke-width="1" rx="0" />
<rect x="118.10" y="251.20" width="1.00" height="0.80" fill="#777" stroke="none" stroke-width="1" rx="0" />
<rect x="77.10" y="250.00" width="43.90" height="21.20" fill="none" stroke="none" stroke-width="1" rx="0" />
<g filter="url(#bl)"><path d="M0,0 C0.7,0 1.3,1.2 1.7,2.8 L2.9,5.8 C3.5,7.3 4.0,8.8 4.15,10.8 C4.2,13 4.1,15.5 3.8,17.4 C3.6,18.6 3.2,19 2.4,19 L-2.4,19 C-3.2,19 -3.6,18.6 -3.8,17.4 C-4.1,15.5 -4.2,13 -4.15,10.8 C-4.0,8.8 -3.5,7.3 -2.9,5.8 L-1.7,2.8 C-1.3,1.2 -0.7,0 0,0 Z" transform="translate(81.80,251.00) scale(0.931,0.960)" fill="url(#mg)"/><path d="M0,0 C2.4,0 4.2,3.2 4.2,8 L4.2,16.8 C4.2,18.6 3,19 0,19 C-3,19 -4.2,18.6 -4.2,16.8 L-4.2,8 C-4.2,3.2 -2.4,0 0,0 Z" transform="translate(81.80,252.00) scale(1.043,0.909)" fill="#7b2fe6"/><path d="M0,0 C2.4,0 4.2,3.2 4.2,8 L4.2,16.8 C4.2,18.6 3,19 0,19 C-3,19 -4.2,18.6 -4.2,16.8 L-4.2,8 C-4.2,3.2 -2.4,0 0,0 Z" transform="translate(81.80,252.80) scale(0.959,0.859)" fill="#2b3cf2"/><path d="M0,0 C2.4,0 4.2,3.2 4.2,8 L4.2,16.8 C4.2,18.6 3,19 0,19 C-3,19 -4.2,18.6 -4.2,16.8 L-4.2,8 C-4.2,3.2 -2.4,0 0,0 Z" transform="translate(81.80,253.60) scale(0.885,0.808)" fill="#12c6ee"/><path d="M0,0 C2.4,0 4.2,3.2 4.2,8 L4.2,16.8 C4.2,18.6 3,19 0,19 C-3,19 -4.2,18.6 -4.2,16.8 L-4.2,8 C-4.2,3.2 -2.4,0 0,0 Z" transform="translate(81.80,254.30) scale(0.838,0.763)" fill="#34e044"/><path d="M0,0 C2.4,0 4.2,3.2 4.2,8 L4.2,16.8 C4.2,18.6 3,19 0,19 C-3,19 -4.2,18.6 -4.2,16.8 L-4.2,8 C-4.2,3.2 -2.4,0 0,0 Z" transform="translate(81.80,255.20) scale(0.801,0.707)" fill="#ff1c00"/></g>
<g filter="url(#bl)"><path d="M0,0 C0.7,0 1.3,1.2 1.7,2.8 L2.9,5.8 C3.5,7.3 4.0,8.8 4.15,10.8 C4.2,13 4.1,15.5 3.8,17.4 C3.6,18.6 3.2,19 2.4,19 L-2.4,19 C-3.2,19 -3.6,18.6 -3.8,17.4 C-4.1,15.5 -4.2,13 -4.15,10.8 C-4.0,8.8 -3.5,7.3 -2.9,5.8 L-1.7,2.8 C-1.3,1.2 -0.7,0 0,0 Z" transform="translate(100.20,251.00) scale(0.931,0.960)" fill="url(#mg)"/><path d="M0,0 C2.4,0 4.2,3.2 4.2,8 L4.2,16.8 C4.2,18.6 3,19 0,19 C-3,19 -4.2,18.6 -4.2,16.8 L-4.2,8 C-4.2,3.2 -2.4,0 0,0 Z" transform="translate(100.20,252.00) scale(1.043,0.909)" fill="#7b2fe6"/><path d="M0,0 C2.4,0 4.2,3.2 4.2,8 L4.2,16.8 C4.2,18.6 3,19 0,19 C-3,19 -4.2,18.6 -4.2,16.8 L-4.2,8 C-4.2,3.2 -2.4,0 0,0 Z" transform="translate(100.20,252.80) scale(0.959,0.859)" fill="#2b3cf2"/><path d="M0,0 C2.4,0 4.2,3.2 4.2,8 L4.2,16.8 C4.2,18.6 3,19 0,19 C-3,19 -4.2,18.6 -4.2,16.8 L-4.2,8 C-4.2,3.2 -2.4,0 0,0 Z" transform="translate(100.20,253.60) scale(0.885,0.808)" fill="#12c6ee"/><path d="M0,0 C2.4,0 4.2,3.2 4.2,8 L4.2,16.8 C4.2,18.6 3,19 0,19 C-3,19 -4.2,18.6 -4.2,16.8 L-4.2,8 C-4.2,3.2 -2.4,0 0,0 Z" transform="translate(100.20,254.30) scale(0.838,0.763)" fill="#34e044"/><path d="M0,0 C2.4,0 4.2,3.2 4.2,8 L4.2,16.8 C4.2,18.6 3,19 0,19 C-3,19 -4.2,18.6 -4.2,16.8 L-4.2,8 C-4.2,3.2 -2.4,0 0,0 Z" transform="translate(100.20,255.20) scale(0.801,0.707)" fill="#ff1c00"/></g>
<rect x="122.20" y="250.00" width="44.90" height="21.20" fill="#262626" stroke="none" stroke-width="1" rx="0" />
<line x1="130.75" y1="250.50" x2="130.75" y2="270.70" stroke="#3a3a3a" stroke-width="0.6" />
<line x1="139.70" y1="250.50" x2="139.70" y2="270.70" stroke="#3a3a3a" stroke-width="0.6" />
<line x1="148.70" y1="250.50" x2="148.70" y2="270.70" stroke="#3a3a3a" stroke-width="0.6" />
<line x1="157.75" y1="250.50" x2="157.75" y2="270.70" stroke="#3a3a3a" stroke-width="0.6" />
<rect x="127.80" y="251.20" width="1.00" height="0.80" fill="#777" stroke="none" stroke-width="1" rx="0" />
<rect x="136.70" y="251.20" width="1.00" height="0.80" fill="#777" stroke="none" stroke-width="1" rx="0" />
<rect x="145.70" y="251.20" width="1.00" height="0.80" fill="#777" stroke="none" stroke-width="1" rx="0" />
<rect x="154.70" y="251.20" width="1.00" height="0.80" fill="#777" stroke="none" stroke-width="1" rx="0" />
<rect x="163.80" y="251.20" width="1.00" height="0.80" fill="#777" stroke="none" stroke-width="1" rx="0" />
<rect x="122.20" y="250.00" width="44.90" height="21.20" fill="none" stroke="none" stroke-width="1" rx="0" />
<g filter="url(#bl)"><path d="M0,0 C0.7,0 1.3,1.2 1.7,2.8 L2.9,5.8 C3.5,7.3 4.0,8.8 4.15,10.8 C4.2,13 4.1,15.5 3.8,17.4 C3.6,18.6 3.2,19 2.4,19 L-2.4,19 C-3.2,19 -3.6,18.6 -3.8,17.4 C-4.1,15.5 -4.2,13 -4.15,10.8 C-4.0,8.8 -3.5,7.3 -2.9,5.8 L-1.7,2.8 C-1.3,1.2 -0.7,0 0,0 Z" transform="translate(135.20,251.00) scale(0.931,0.960)" fill="url(#mg)"/><path d="M0,0 C2.4,0 4.2,3.2 4.2,8 L4.2,16.8 C4.2,18.6 3,19 0,19 C-3,19 -4.2,18.6 -4.2,16.8 L-4.2,8 C-4.2,3.2 -2.4,0 0,0 Z" transform="translate(135.20,252.00) scale(1.043,0.909)" fill="#7b2fe6"/><path d="M0,0 C2.4,0 4.2,3.2 4.2,8 L4.2,16.8 C4.2,18.6 3,19 0,19 C-3,19 -4.2,18.6 -4.2,16.8 L-4.2,8 C-4.2,3.2 -2.4,0 0,0 Z" transform="translate(135.20,252.80) scale(0.959,0.859)" fill="#2b3cf2"/><path d="M0,0 C2.4,0 4.2,3.2 4.2,8 L4.2,16.8 C4.2,18.6 3,19 0,19 C-3,19 -4.2,18.6 -4.2,16.8 L-4.2,8 C-4.2,3.2 -2.4,0 0,0 Z" transform="translate(135.20,253.60) scale(0.885,0.808)" fill="#12c6ee"/><path d="M0,0 C2.4,0 4.2,3.2 4.2,8 L4.2,16.8 C4.2,18.6 3,19 0,19 C-3,19 -4.2,18.6 -4.2,16.8 L-4.2,8 C-4.2,3.2 -2.4,0 0,0 Z" transform="translate(135.20,254.30) scale(0.838,0.763)" fill="#34e044"/><path d="M0,0 C2.4,0 4.2,3.2 4.2,8 L4.2,16.8 C4.2,18.6 3,19 0,19 C-3,19 -4.2,18.6 -4.2,16.8 L-4.2,8 C-4.2,3.2 -2.4,0 0,0 Z" transform="translate(135.20,255.20) scale(0.801,0.707)" fill="#ff1c00"/></g>
<g filter="url(#bl)"><path d="M0,0 C0.7,0 1.3,1.2 1.7,2.8 L2.9,5.8 C3.5,7.3 4.0,8.8 4.15,10.8 C4.2,13 4.1,15.5 3.8,17.4 C3.6,18.6 3.2,19 2.4,19 L-2.4,19 C-3.2,19 -3.6,18.6 -3.8,17.4 C-4.1,15.5 -4.2,13 -4.15,10.8 C-4.0,8.8 -3.5,7.3 -2.9,5.8 L-1.7,2.8 C-1.3,1.2 -0.7,0 0,0 Z" transform="translate(144.20,251.00) scale(0.931,0.960)" fill="url(#mg)"/><path d="M0,0 C2.4,0 4.2,3.2 4.2,8 L4.2,16.8 C4.2,18.6 3,19 0,19 C-3,19 -4.2,18.6 -4.2,16.8 L-4.2,8 C-4.2,3.2 -2.4,0 0,0 Z" transform="translate(144.20,252.00) scale(1.043,0.909)" fill="#7b2fe6"/><path d="M0,0 C2.4,0 4.2,3.2 4.2,8 L4.2,16.8 C4.2,18.6 3,19 0,19 C-3,19 -4.2,18.6 -4.2,16.8 L-4.2,8 C-4.2,3.2 -2.4,0 0,0 Z" transform="translate(144.20,252.80) scale(0.959,0.859)" fill="#2b3cf2"/><path d="M0,0 C2.4,0 4.2,3.2 4.2,8 L4.2,16.8 C4.2,18.6 3,19 0,19 C-3,19 -4.2,18.6 -4.2,16.8 L-4.2,8 C-4.2,3.2 -2.4,0 0,0 Z" transform="translate(144.20,253.60) scale(0.885,0.808)" fill="#12c6ee"/><path d="M0,0 C2.4,0 4.2,3.2 4.2,8 L4.2,16.8 C4.2,18.6 3,19 0,19 C-3,19 -4.2,18.6 -4.2,16.8 L-4.2,8 C-4.2,3.2 -2.4,0 0,0 Z" transform="translate(144.20,254.30) scale(0.838,0.763)" fill="#34e044"/><path d="M0,0 C2.4,0 4.2,3.2 4.2,8 L4.2,16.8 C4.2,18.6 3,19 0,19 C-3,19 -4.2,18.6 -4.2,16.8 L-4.2,8 C-4.2,3.2 -2.4,0 0,0 Z" transform="translate(144.20,255.20) scale(0.801,0.707)" fill="#ff1c00"/></g>
<g filter="url(#bl)"><path d="M0,0 C0.7,0 1.3,1.2 1.7,2.8 L2.9,5.8 C3.5,7.3 4.0,8.8 4.15,10.8 C4.2,13 4.1,15.5 3.8,17.4 C3.6,18.6 3.2,19 2.4,19 L-2.4,19 C-3.2,19 -3.6,18.6 -3.8,17.4 C-4.1,15.5 -4.2,13 -4.15,10.8 C-4.0,8.8 -3.5,7.3 -2.9,5.8 L-1.7,2.8 C-1.3,1.2 -0.7,0 0,0 Z" transform="translate(162.30,251.00) scale(0.931,0.960)" fill="url(#mg)"/><path d="M0,0 C2.4,0 4.2,3.2 4.2,8 L4.2,16.8 C4.2,18.6 3,19 0,19 C-3,19 -4.2,18.6 -4.2,16.8 L-4.2,8 C-4.2,3.2 -2.4,0 0,0 Z" transform="translate(162.30,252.00) scale(1.043,0.909)" fill="#7b2fe6"/><path d="M0,0 C2.4,0 4.2,3.2 4.2,8 L4.2,16.8 C4.2,18.6 3,19 0,19 C-3,19 -4.2,18.6 -4.2,16.8 L-4.2,8 C-4.2,3.2 -2.4,0 0,0 Z" transform="translate(162.30,252.80) scale(0.959,0.859)" fill="#2b3cf2"/><path d="M0,0 C2.4,0 4.2,3.2 4.2,8 L4.2,16.8 C4.2,18.6 3,19 0,19 C-3,19 -4.2,18.6 -4.2,16.8 L-4.2,8 C-4.2,3.2 -2.4,0 0,0 Z" transform="translate(162.30,253.60) scale(0.885,0.808)" fill="#12c6ee"/><path d="M0,0 C2.4,0 4.2,3.2 4.2,8 L4.2,16.8 C4.2,18.6 3,19 0,19 C-3,19 -4.2,18.6 -4.2,16.8 L-4.2,8 C-4.2,3.2 -2.4,0 0,0 Z" transform="translate(162.30,254.30) scale(0.838,0.763)" fill="#34e044"/><path d="M0,0 C2.4,0 4.2,3.2 4.2,8 L4.2,16.8 C4.2,18.6 3,19 0,19 C-3,19 -4.2,18.6 -4.2,16.8 L-4.2,8 C-4.2,3.2 -2.4,0 0,0 Z" transform="translate(162.30,255.20) scale(0.801,0.707)" fill="#ff1c00"/></g>
<rect x="168.20" y="250.00" width="45.90" height="21.20" fill="#1e1e1e" stroke="none" stroke-width="1" rx="0" />
<g filter="url(#bl)"><path d="M0,0 C0.7,0 1.3,1.2 1.7,2.8 L2.9,5.8 C3.5,7.3 4.0,8.8 4.15,10.8 C4.2,13 4.1,15.5 3.8,17.4 C3.6,18.6 3.2,19 2.4,19 L-2.4,19 C-3.2,19 -3.6,18.6 -3.8,17.4 C-4.1,15.5 -4.2,13 -4.15,10.8 C-4.0,8.8 -3.5,7.3 -2.9,5.8 L-1.7,2.8 C-1.3,1.2 -0.7,0 0,0 Z" transform="translate(172.50,251.00) scale(0.931,0.960)" fill="url(#mg)"/><ellipse cx="172.50" cy="257.00" rx="1.80" ry="1.80" fill="#7b2fe6"/><ellipse cx="172.50" cy="257.00" rx="0.81" ry="0.81" fill="#2b3cf2"/><ellipse cx="172.50" cy="263.00" rx="2.40" ry="2.40" fill="#7b2fe6"/><ellipse cx="172.50" cy="263.00" rx="1.08" ry="1.08" fill="#2b3cf2"/></g>
<g filter="url(#bl)"><path d="M0,0 C0.7,0 1.3,1.2 1.7,2.8 L2.9,5.8 C3.5,7.3 4.0,8.8 4.15,10.8 C4.2,13 4.1,15.5 3.8,17.4 C3.6,18.6 3.2,19 2.4,19 L-2.4,19 C-3.2,19 -3.6,18.6 -3.8,17.4 C-4.1,15.5 -4.2,13 -4.15,10.8 C-4.0,8.8 -3.5,7.3 -2.9,5.8 L-1.7,2.8 C-1.3,1.2 -0.7,0 0,0 Z" transform="translate(181.50,251.00) scale(0.931,0.960)" fill="url(#mg)"/><path d="M0,0 C2.4,0 4.2,3.2 4.2,8 L4.2,16.8 C4.2,18.6 3,19 0,19 C-3,19 -4.2,18.6 -4.2,16.8 L-4.2,8 C-4.2,3.2 -2.4,0 0,0 Z" transform="translate(181.50,252.00) scale(1.043,0.909)" fill="#7b2fe6"/><path d="M0,0 C2.4,0 4.2,3.2 4.2,8 L4.2,16.8 C4.2,18.6 3,19 0,19 C-3,19 -4.2,18.6 -4.2,16.8 L-4.2,8 C-4.2,3.2 -2.4,0 0,0 Z" transform="translate(181.50,252.80) scale(0.959,0.859)" fill="#2b3cf2"/><ellipse cx="181.50" cy="263.00" rx="3.60" ry="4.50" fill="#12c6ee"/><ellipse cx="181.50" cy="263.00" rx="3.12" ry="3.90" fill="#34e044"/><ellipse cx="181.50" cy="263.00" rx="2.64" ry="3.30" fill="#f2ee10"/><ellipse cx="181.50" cy="263.00" rx="2.16" ry="2.70" fill="#ff1c00"/></g>
<g filter="url(#bl)"><path d="M0,0 C0.7,0 1.3,1.2 1.7,2.8 L2.9,5.8 C3.5,7.3 4.0,8.8 4.15,10.8 C4.2,13 4.1,15.5 3.8,17.4 C3.6,18.6 3.2,19 2.4,19 L-2.4,19 C-3.2,19 -3.6,18.6 -3.8,17.4 C-4.1,15.5 -4.2,13 -4.15,10.8 C-4.0,8.8 -3.5,7.3 -2.9,5.8 L-1.7,2.8 C-1.3,1.2 -0.7,0 0,0 Z" transform="translate(190.60,251.00) scale(0.931,0.960)" fill="url(#mg)"/><ellipse cx="190.60" cy="262.00" rx="1.20" ry="1.20" fill="#7b2fe6"/></g>
<g filter="url(#bl)"><path d="M0,0 C0.7,0 1.3,1.2 1.7,2.8 L2.9,5.8 C3.5,7.3 4.0,8.8 4.15,10.8 C4.2,13 4.1,15.5 3.8,17.4 C3.6,18.6 3.2,19 2.4,19 L-2.4,19 C-3.2,19 -3.6,18.6 -3.8,17.4 C-4.1,15.5 -4.2,13 -4.15,10.8 C-4.0,8.8 -3.5,7.3 -2.9,5.8 L-1.7,2.8 C-1.3,1.2 -0.7,0 0,0 Z" transform="translate(199.80,251.00) scale(0.931,0.960)" fill="url(#mg)"/><ellipse cx="199.80" cy="264.00" rx="3.50" ry="3.00" fill="#7b2fe6"/><ellipse cx="199.80" cy="264.00" rx="2.86" ry="2.45" fill="#2b3cf2"/><ellipse cx="199.80" cy="264.00" rx="2.22" ry="1.90" fill="#12c6ee"/><ellipse cx="199.80" cy="264.00" rx="1.57" ry="1.35" fill="#34e044"/></g>
<g filter="url(#bl)"><path d="M0,0 C0.7,0 1.3,1.2 1.7,2.8 L2.9,5.8 C3.5,7.3 4.0,8.8 4.15,10.8 C4.2,13 4.1,15.5 3.8,17.4 C3.6,18.6 3.2,19 2.4,19 L-2.4,19 C-3.2,19 -3.6,18.6 -3.8,17.4 C-4.1,15.5 -4.2,13 -4.15,10.8 C-4.0,8.8 -3.5,7.3 -2.9,5.8 L-1.7,2.8 C-1.3,1.2 -0.7,0 0,0 Z" transform="translate(209.20,251.00) scale(0.931,0.960)" fill="url(#mg)"/><ellipse cx="209.20" cy="258.00" rx="1.50" ry="1.50" fill="#7b2fe6"/><ellipse cx="209.20" cy="264.00" rx="3.00" ry="2.60" fill="#7b2fe6"/><ellipse cx="209.20" cy="264.00" rx="2.17" ry="1.89" fill="#2b3cf2"/><ellipse cx="209.20" cy="264.00" rx="1.35" ry="1.17" fill="#12c6ee"/></g>
<rect x="222.80" y="108.00" width="4.30" height="134.20" fill="url(#cbar)" stroke="none" stroke-width="1" rx="0" />
<line x1="227.10" y1="108.00" x2="228.40" y2="108.00" stroke="#444" stroke-width="0.4" />
<line x1="227.10" y1="114.71" x2="228.40" y2="114.71" stroke="#444" stroke-width="0.4" />
<line x1="227.10" y1="121.42" x2="228.40" y2="121.42" stroke="#444" stroke-width="0.4" />
<line x1="227.10" y1="128.13" x2="228.40" y2="128.13" stroke="#444" stroke-width="0.4" />
<line x1="227.10" y1="134.84" x2="228.40" y2="134.84" stroke="#444" stroke-width="0.4" />
<line x1="227.10" y1="141.55" x2="228.40" y2="141.55" stroke="#444" stroke-width="0.4" />
<line x1="227.10" y1="148.26" x2="228.40" y2="148.26" stroke="#444" stroke-width="0.4" />
<line x1="227.10" y1="154.97" x2="228.40" y2="154.97" stroke="#444" stroke-width="0.4" />
<line x1="227.10" y1="161.68" x2="228.40" y2="161.68" stroke="#444" stroke-width="0.4" />
<line x1="227.10" y1="168.39" x2="228.40" y2="168.39" stroke="#444" stroke-width="0.4" />
<line x1="227.10" y1="175.10" x2="228.40" y2="175.10" stroke="#444" stroke-width="0.4" />
<line x1="227.10" y1="181.81" x2="228.40" y2="181.81" stroke="#444" stroke-width="0.4" />
<line x1="227.10" y1="188.52" x2="228.40" y2="188.52" stroke="#444" stroke-width="0.4" />
<line x1="227.10" y1="195.23" x2="228.40" y2="195.23" stroke="#444" stroke-width="0.4" />
<line x1="227.10" y1="201.94" x2="228.40" y2="201.94" stroke="#444" stroke-width="0.4" />
<line x1="227.10" y1="208.65" x2="228.40" y2="208.65" stroke="#444" stroke-width="0.4" />
<line x1="227.10" y1="215.36" x2="228.40" y2="215.36" stroke="#444" stroke-width="0.4" />
<line x1="227.10" y1="222.07" x2="228.40" y2="222.07" stroke="#444" stroke-width="0.4" />
<line x1="227.10" y1="228.78" x2="228.40" y2="228.78" stroke="#444" stroke-width="0.4" />
<line x1="227.10" y1="235.49" x2="228.40" y2="235.49" stroke="#444" stroke-width="0.4" />
<text x="228.80" y="95.60" font-size="6.2" text-anchor="middle" fill="#222" font-weight="normal" stroke="#222" stroke-width="0.05" >Lumine</text>
<text x="228.80" y="103.10" font-size="6.2" text-anchor="middle" fill="#222" font-weight="normal" stroke="#222" stroke-width="0.05" >scence</text>
<text x="230.40" y="109.30" font-size="5.8" text-anchor="start" fill="#222" font-weight="normal" stroke="#222" stroke-width="0.05" >5.0</text>
<text x="230.40" y="137.60" font-size="5.8" text-anchor="start" fill="#222" font-weight="normal" stroke="#222" stroke-width="0.05" >4.0</text>
<text x="230.40" y="164.40" font-size="5.8" text-anchor="start" fill="#222" font-weight="normal" stroke="#222" stroke-width="0.05" >3.0</text>
<text x="230.40" y="191.90" font-size="5.8" text-anchor="start" fill="#222" font-weight="normal" stroke="#222" stroke-width="0.05" >2.0</text>
<text x="230.40" y="219.30" font-size="5.8" text-anchor="start" fill="#222" font-weight="normal" stroke="#222" stroke-width="0.05" >1.0</text>
<text x="247.00" y="175.20" font-size="6.6" text-anchor="middle" fill="#222" stroke="#222" stroke-width="0.05">x10<tspan font-size="4.29" dy="-2.97">8</tspan></text>
<text x="222.20" y="247.80" font-size="5.8" text-anchor="start" fill="#222" font-weight="normal" stroke="#222" stroke-width="0.05" >Radiance</text>
<text x="222.2" y="254.2" font-size="5.3" fill="#222">(p/sec/cm<tspan font-size="3.4" dy="-2">2</tspan><tspan dy="2">/sr)</tspan></text>
<rect x="220.90" y="256.30" width="35.10" height="20.60" fill="#fff" stroke="#222" stroke-width="0.8" rx="0" />
<text x="222.60" y="262.00" font-size="5.1" text-anchor="start" fill="#1a1a1a" font-weight="normal" stroke="#1a1a1a" stroke-width="0.05" >Color Scale</text>
<text x="222.60" y="268.80" font-size="5.1" text-anchor="start" fill="#1a1a1a" font-weight="normal" stroke="#1a1a1a" stroke-width="0.05" >Min = 1.00e7</text>
<text x="222.60" y="275.40" font-size="5.1" text-anchor="start" fill="#1a1a1a" font-weight="normal" stroke="#1a1a1a" stroke-width="0.05" >Max = 5.00e8</text>
<text x="273.40" y="228.90" font-size="11" text-anchor="start" fill="#111" font-weight="bold" stroke="#111" stroke-width="0.35" >E</text>
<line x1="314.80" y1="235.00" x2="314.80" y2="276.60" stroke="#111" stroke-width="1.1" />
<line x1="314.80" y1="282.60" x2="314.80" y2="312.40" stroke="#111" stroke-width="1.1" />
<line x1="313.00" y1="276.60" x2="316.60" y2="276.60" stroke="#111" stroke-width="1.1" />
<line x1="313.00" y1="282.60" x2="316.60" y2="282.60" stroke="#111" stroke-width="1.1" />
<line x1="314.80" y1="312.40" x2="432.50" y2="312.40" stroke="#111" stroke-width="1.3" />
<text x="311.60" y="240.20" font-size="6.5" text-anchor="end" fill="#1a1a1a" stroke="#1a1a1a" stroke-width="0.05">1.3x10<tspan font-size="4.23" dy="-2.93">9</tspan></text>
<line x1="312.80" y1="238.00" x2="314.80" y2="238.00" stroke="#111" stroke-width="0.8" />
<text x="311.60" y="250.20" font-size="6.5" text-anchor="end" fill="#1a1a1a" stroke="#1a1a1a" stroke-width="0.05">1x10<tspan font-size="4.23" dy="-2.93">9</tspan></text>
<line x1="312.80" y1="248.00" x2="314.80" y2="248.00" stroke="#111" stroke-width="0.8" />
<text x="311.60" y="260.20" font-size="6.5" text-anchor="end" fill="#1a1a1a" stroke="#1a1a1a" stroke-width="0.05">7x10<tspan font-size="4.23" dy="-2.93">8</tspan></text>
<line x1="312.80" y1="258.00" x2="314.80" y2="258.00" stroke="#111" stroke-width="0.8" />
<text x="311.60" y="270.20" font-size="6.5" text-anchor="end" fill="#1a1a1a" stroke="#1a1a1a" stroke-width="0.05">4x10<tspan font-size="4.23" dy="-2.93">8</tspan></text>
<line x1="312.80" y1="268.00" x2="314.80" y2="268.00" stroke="#111" stroke-width="0.8" />
<text x="311.60" y="279.70" font-size="6.5" text-anchor="end" fill="#1a1a1a" stroke="#1a1a1a" stroke-width="0.05">1x10<tspan font-size="4.23" dy="-2.93">8</tspan></text>
<line x1="312.80" y1="277.50" x2="314.80" y2="277.50" stroke="#111" stroke-width="0.8" />
<text x="311.60" y="285.60" font-size="6.5" text-anchor="end" fill="#1a1a1a" stroke="#1a1a1a" stroke-width="0.05">1x10<tspan font-size="4.23" dy="-2.93">8</tspan></text>
<line x1="312.80" y1="283.40" x2="314.80" y2="283.40" stroke="#111" stroke-width="0.8" />
<text x="311.60" y="292.80" font-size="6.5" text-anchor="end" fill="#1a1a1a" stroke="#1a1a1a" stroke-width="0.05">7.5x10<tspan font-size="4.23" dy="-2.93">7</tspan></text>
<line x1="312.80" y1="290.60" x2="314.80" y2="290.60" stroke="#111" stroke-width="0.8" />
<text x="311.60" y="300.20" font-size="6.5" text-anchor="end" fill="#1a1a1a" stroke="#1a1a1a" stroke-width="0.05">5x10<tspan font-size="4.23" dy="-2.93">7</tspan></text>
<line x1="312.80" y1="298.00" x2="314.80" y2="298.00" stroke="#111" stroke-width="0.8" />
<text x="311.60" y="307.40" font-size="6.5" text-anchor="end" fill="#1a1a1a" stroke="#1a1a1a" stroke-width="0.05">2.5x10<tspan font-size="4.23" dy="-2.93">7</tspan></text>
<line x1="312.80" y1="305.20" x2="314.80" y2="305.20" stroke="#111" stroke-width="0.8" />
<text x="311.60" y="314.60" font-size="6.5" text-anchor="end" fill="#1a1a1a" font-weight="normal" stroke="#1a1a1a" stroke-width="0.05" >0</text>
<line x1="313.60" y1="312.40" x2="313.60" y2="314.60" stroke="#111" stroke-width="0.8" />
<text x="313.60" y="323.40" font-size="6.3" text-anchor="middle" fill="#1a1a1a" font-weight="normal" stroke="#1a1a1a" stroke-width="0.05" >0</text>
<line x1="336.90" y1="312.40" x2="336.90" y2="314.60" stroke="#111" stroke-width="0.8" />
<text x="336.90" y="323.40" font-size="6.3" text-anchor="middle" fill="#1a1a1a" font-weight="normal" stroke="#1a1a1a" stroke-width="0.05" >10</text>
<line x1="360.20" y1="312.40" x2="360.20" y2="314.60" stroke="#111" stroke-width="0.8" />
<text x="360.20" y="323.40" font-size="6.3" text-anchor="middle" fill="#1a1a1a" font-weight="normal" stroke="#1a1a1a" stroke-width="0.05" >20</text>
<line x1="383.50" y1="312.40" x2="383.50" y2="314.60" stroke="#111" stroke-width="0.8" />
<text x="383.50" y="323.40" font-size="6.3" text-anchor="middle" fill="#1a1a1a" font-weight="normal" stroke="#1a1a1a" stroke-width="0.05" >30</text>
<line x1="406.80" y1="312.40" x2="406.80" y2="314.60" stroke="#111" stroke-width="0.8" />
<text x="406.80" y="323.40" font-size="6.3" text-anchor="middle" fill="#1a1a1a" font-weight="normal" stroke="#1a1a1a" stroke-width="0.05" >40</text>
<line x1="430.10" y1="312.40" x2="430.10" y2="314.60" stroke="#111" stroke-width="0.8" />
<text x="430.10" y="323.40" font-size="6.3" text-anchor="middle" fill="#1a1a1a" font-weight="normal" stroke="#1a1a1a" stroke-width="0.05" >50</text>
<text x="373.80" y="335.30" font-size="7.2" text-anchor="middle" fill="#1a1a1a" font-weight="normal" stroke="#1a1a1a" stroke-width="0.22" textLength="70.5" lengthAdjust="spacingAndGlyphs">Days post NK cell injection</text>
<text transform="translate(281.3,275) rotate(-90)" font-size="7.0" text-anchor="middle" fill="#1a1a1a" stroke="#1a1a1a" stroke-width="0.2" textLength="78" lengthAdjust="spacingAndGlyphs">Avg radiance (p/sec/cm<tspan font-size="3.8" dy="-2">2</tspan><tspan dy="2">/sr)</tspan></text>
<path d="M313.6 312.2 L325.2 312.2 L341.6 312.2 L357.9 312.2 L374.2 312.0 L390.5 311.6 L406.8 309.6 L416.1 297.3" fill="none" stroke="#c0183e" stroke-width="1.0" stroke-dasharray="2,1.3" stroke-linejoin="round"/>
<path d="M313.6 312.1 L325.2 312.1 L341.6 312.0 L357.9 311.8 L374.2 309.6 L390.5 290.7 L395.3 283.4" fill="none" stroke="#2f4f9e" stroke-width="1.0"  stroke-linejoin="round"/>
<path d="M313.6 312.1 L325.2 312.1 L341.6 312.0 L357.9 311.8 L374.2 308.6 L391.2 284.2" fill="none" stroke="#c0183e" stroke-width="1.0"  stroke-linejoin="round"/>
<path d="M399.0 278.4 L406.8 266.0 L416.1 241.4" fill="none" stroke="#2f4f9e" stroke-width="1.0"  stroke-linejoin="round"/>
<path d="M396.0 277.9 L406.8 261.0 L416.1 258.7" fill="none" stroke="#c0183e" stroke-width="1.0"  stroke-linejoin="round"/>
<line x1="416.12" y1="236.80" x2="416.12" y2="245.60" stroke="#2f4f9e" stroke-width="0.9" />
<line x1="415.12" y1="236.80" x2="417.12" y2="236.80" stroke="#2f4f9e" stroke-width="0.7" />
<line x1="415.12" y1="245.60" x2="417.12" y2="245.60" stroke="#2f4f9e" stroke-width="0.7" />
<line x1="416.12" y1="248.20" x2="416.12" y2="268.60" stroke="#c0183e" stroke-width="0.9" />
<line x1="415.12" y1="248.20" x2="417.12" y2="248.20" stroke="#c0183e" stroke-width="0.7" />
<line x1="415.12" y1="268.60" x2="417.12" y2="268.60" stroke="#c0183e" stroke-width="0.7" />
<line x1="406.80" y1="253.00" x2="406.80" y2="257.90" stroke="#5bbf3a" stroke-width="0.9" />
<line x1="405.80" y1="253.00" x2="407.80" y2="253.00" stroke="#5bbf3a" stroke-width="0.7" />
<line x1="405.80" y1="257.90" x2="407.80" y2="257.90" stroke="#5bbf3a" stroke-width="0.7" />
<line x1="390.49" y1="285.20" x2="390.49" y2="296.60" stroke="#2f4f9e" stroke-width="0.9" />
<line x1="389.49" y1="285.20" x2="391.49" y2="285.20" stroke="#2f4f9e" stroke-width="0.7" />
<line x1="389.49" y1="296.60" x2="391.49" y2="296.60" stroke="#2f4f9e" stroke-width="0.7" />
<line x1="416.12" y1="286.60" x2="416.12" y2="307.00" stroke="#c0183e" stroke-width="0.9" />
<line x1="415.12" y1="286.60" x2="417.12" y2="286.60" stroke="#c0183e" stroke-width="0.7" />
<line x1="415.12" y1="307.00" x2="417.12" y2="307.00" stroke="#c0183e" stroke-width="0.7" />
<rect x="373.3" y="307.7" width="1.8" height="1.8" fill="#c0183e"/>
<rect x="405.9" y="260.1" width="1.8" height="1.8" fill="#c0183e"/>
<rect x="415.2" y="257.8" width="1.8" height="1.8" fill="#c0183e"/>
<circle cx="374.2" cy="309.6" r="0.9" fill="#2f4f9e"/>
<circle cx="390.5" cy="290.7" r="0.9" fill="#2f4f9e"/>
<circle cx="406.8" cy="266.0" r="0.9" fill="#2f4f9e"/>
<circle cx="416.1" cy="241.4" r="0.9" fill="#2f4f9e"/>
<path d="M313.6 312.1 L325.2 312.1 L341.6 312.0 L357.9 311.8 L374.2 306.0 L386.3 283.5" fill="none" stroke="#5bbf3a" stroke-width="1.1"  stroke-linejoin="round"/>
<path d="M390.4 276.7 L406.8 256.3" fill="none" stroke="#5bbf3a" stroke-width="1.1"  stroke-linejoin="round"/>
<rect x="373.3" y="305.1" width="1.8" height="1.8" fill="#5bbf3a"/>
<rect x="389.6" y="275.6" width="1.8" height="1.8" fill="#5bbf3a"/>
<rect x="405.9" y="255.4" width="1.8" height="1.8" fill="#5bbf3a"/>
<path d="M312.0 313.4 L313.6 310.7 L315.2 313.4 Z" fill="#c0183e"/>
<path d="M323.6 313.4 L325.2 310.7 L326.9 313.4 Z" fill="#c0183e"/>
<path d="M340.0 313.4 L341.6 310.7 L343.2 313.4 Z" fill="#c0183e"/>
<path d="M356.3 313.2 L357.9 310.5 L359.5 313.2 Z" fill="#c0183e"/>
<path d="M372.6 313.2 L374.2 310.5 L375.8 313.2 Z" fill="#c0183e"/>
<path d="M388.9 312.7 L390.5 310.0 L392.1 312.7 Z" fill="#c0183e"/>
<path d="M405.2 310.7 L406.8 308.0 L408.4 310.7 Z" fill="#c0183e"/>
<path d="M414.5 298.5 L416.1 295.8 L417.7 298.5 Z" fill="#c0183e"/>
<text x="341.50" y="308.50" font-size="5" text-anchor="middle" fill="#333" font-weight="normal" stroke="#333" stroke-width="0.05" >***</text>
<text x="360.00" y="308.50" font-size="5" text-anchor="middle" fill="#333" font-weight="normal" stroke="#333" stroke-width="0.05" >***</text>
<text x="374.50" y="302.80" font-size="5" text-anchor="middle" fill="#333" font-weight="normal" stroke="#333" stroke-width="0.05" >**</text>
<text x="390.50" y="273.80" font-size="5" text-anchor="middle" fill="#333" font-weight="normal" stroke="#333" stroke-width="0.05" >**</text>
<text x="406.80" y="250.80" font-size="5" text-anchor="middle" fill="#333" font-weight="normal" stroke="#333" stroke-width="0.05" >***</text>
<line x1="315.60" y1="349.90" x2="322.60" y2="349.90" stroke="#5bbf3a" stroke-width="1.1" />
<text x="326.00" y="351.80" font-size="5.3" text-anchor="start" fill="#222" font-weight="normal" stroke="#222" stroke-width="0.05" >Tumor alone</text>
<line x1="315.60" y1="359.20" x2="322.60" y2="359.20" stroke="#2f4f9e" stroke-width="1.1" />
<text x="326.00" y="361.10" font-size="5.3" text-anchor="start" fill="#222" font-weight="normal" stroke="#222" stroke-width="0.05" >NT Rim</text>
<line x1="369.20" y1="349.90" x2="376.20" y2="349.90" stroke="#c0183e" stroke-width="1.1" />
<text x="380.30" y="351.80" font-size="5.3" text-anchor="start" fill="#222" font-weight="normal" stroke="#222" stroke-width="0.05" >DS.BCMA.ζIL15 Veh</text>
<line x1="369.20" y1="359.20" x2="376.20" y2="359.20" stroke="#c0183e" stroke-width="1.1" />
<path d="M371.1 360.4 L372.7 357.7 L374.3 360.4 Z" fill="#c0183e"/>
<text x="380.30" y="361.10" font-size="5.3" text-anchor="start" fill="#222" font-weight="normal" stroke="#222" stroke-width="0.05" >DS.BCMA.ζIL15 Rim</text>
<text x="9.30" y="293.30" font-size="11" text-anchor="start" fill="#111" font-weight="bold" stroke="#111" stroke-width="0.35" >F</text>
<line x1="22.60" y1="302.30" x2="22.60" y2="467.60" stroke="#222" stroke-width="0.9" />
<path d="M20.8 303.3 L22.6 299.3 L24.4 303.3 Z" fill="#111"/>
<line x1="104.80" y1="301.80" x2="104.80" y2="467.60" stroke="#222" stroke-width="0.9" />
<path d="M103.0 302.8 L104.8 298.8 L106.6 302.8 Z" fill="#111"/>
<text transform="translate(15.10,388.10) rotate(-90)" x="0" y="0" font-size="8.6" fill="#1a1a1a" stroke="#1a1a1a" stroke-width="0.28" textLength="11.0" lengthAdjust="spacingAndGlyphs">SSH</text>
<text transform="translate(99.80,390.75) rotate(-90)" x="0" y="0" font-size="8.6" fill="#1a1a1a" stroke="#1a1a1a" stroke-width="0.28" textLength="10.7" lengthAdjust="spacingAndGlyphs">GFP</text>
<text x="60.25" y="486.19" font-size="8.3" fill="#1a1a1a" stroke="#1a1a1a" stroke-width="0.28" textLength="10.5" lengthAdjust="spacingAndGlyphs">FSC</text>
<text x="137.80" y="486.39" font-size="8.3" fill="#1a1a1a" stroke="#1a1a1a" stroke-width="0.28" textLength="19.0" lengthAdjust="spacingAndGlyphs">mCD45</text>
<rect x="40.80" y="300.40" width="48.10" height="45.70" fill="#fff" stroke="#999" stroke-width="0.6" rx="0" />
<path d="M44.8 301.2 L88.4 301.2 L88.4 331.0 L81.0 333.1 L72.9 334.7 L59.9 337.3 L46.3 339.1 L43.6 337.7 L44.4 333.5 Z" fill="url(#fsc)" filter="url(#speck)"/>
<path d="M44.4 327.5 L88.4 323.5 L88.4 331.0 L81.0 333.1 L72.9 334.7 L59.9 337.3 L46.3 339.1 L43.6 337.7 L44.4 333.5 Z" fill="#000" opacity="0.8" filter="url(#bl3)"/>
<g transform="translate(58.4,335.1) rotate(-13)"><ellipse cx="0" cy="0" rx="15.3" ry="4.1" fill="#000"/><ellipse cx="0" cy="0" rx="14.5" ry="3.2" fill="#fff"/><ellipse cx="-1" cy="0.2" rx="11.6" ry="2.2" fill="none" stroke="#888" stroke-width="0.35"/><ellipse cx="-2" cy="0.3" rx="8.7" ry="1.4" fill="none" stroke="#777" stroke-width="0.35"/><ellipse cx="-3" cy="0.3" rx="5.1" ry="0.8" fill="#ccc"/><circle cx="-13.0" cy="0.3" r="1.4" fill="#333"/></g>
<path d="M50.6 339.7 L58.8 310.8 L87.7 306.2 L86.2 335.1 L78.0 336.8 L55.9 339.9 Z" fill="none" stroke="#e04848" stroke-width="0.6"/>
<text x="72.43" y="340.69" font-size="3.9" text-anchor="middle" fill="#ee2a2a" font-weight="bold" >79.58%</text>
<text x="37.40" y="303.55" font-size="6.1" text-anchor="end" fill="#1a1a1a" font-weight="normal" stroke="#1a1a1a" stroke-width="0.05" >2.5</text>
<text x="37.40" y="314.25" font-size="6.1" text-anchor="end" fill="#1a1a1a" font-weight="normal" stroke="#1a1a1a" stroke-width="0.05" >1.8</text>
<text x="37.40" y="322.75" font-size="6.1" text-anchor="end" fill="#1a1a1a" font-weight="normal" stroke="#1a1a1a" stroke-width="0.05" >1.2</text>
<text x="37.40" y="331.85" font-size="6.1" text-anchor="end" fill="#1a1a1a" font-weight="normal" stroke="#1a1a1a" stroke-width="0.05" >0.6</text>
<text x="37.40" y="339.75" font-size="6.1" text-anchor="end" fill="#1a1a1a" font-weight="normal" stroke="#1a1a1a" stroke-width="0.05" >0</text>
<text x="37.40" y="348.35" font-size="6.1" text-anchor="end" fill="#1a1a1a" font-weight="normal" stroke="#1a1a1a" stroke-width="0.05" >-0.6</text>
<text x="41.80" y="355.65" font-size="6.1" text-anchor="middle" fill="#1a1a1a" font-weight="normal" stroke="#1a1a1a" stroke-width="0.05" >0</text>
<text x="54.20" y="355.65" font-size="6.1" text-anchor="middle" fill="#1a1a1a" font-weight="normal" stroke="#1a1a1a" stroke-width="0.05" >2</text>
<text x="67.00" y="355.65" font-size="6.1" text-anchor="middle" fill="#1a1a1a" font-weight="normal" stroke="#1a1a1a" stroke-width="0.05" >4</text>
<text x="79.50" y="355.65" font-size="6.1" text-anchor="middle" fill="#1a1a1a" font-weight="normal" stroke="#1a1a1a" stroke-width="0.05" >6</text>
<text x="87.90" y="355.65" font-size="6.1" text-anchor="middle" fill="#1a1a1a" font-weight="normal" stroke="#1a1a1a" stroke-width="0.05" >7.3</text>
<rect x="40.80" y="364.20" width="45.10" height="43.10" fill="#fff" stroke="#999" stroke-width="0.6" rx="0" />
<path d="M44.6 365.0 L85.4 365.0 L85.4 393.0 L78.5 395.0 L70.9 396.5 L58.7 399.0 L46.0 400.7 L43.4 399.4 L44.2 395.4 Z" fill="url(#fsc)" filter="url(#speck)"/>
<path d="M44.2 389.7 L85.4 385.9 L85.4 393.0 L78.5 395.0 L70.9 396.5 L58.7 399.0 L46.0 400.7 L43.4 399.4 L44.2 395.4 Z" fill="#000" opacity="0.8" filter="url(#bl3)"/>
<g transform="translate(57.3,396.5) rotate(-13)"><ellipse cx="0" cy="0" rx="15.3" ry="4.1" fill="#000"/><ellipse cx="0" cy="0" rx="14.5" ry="3.2" fill="#fff"/><ellipse cx="-1" cy="0.2" rx="11.6" ry="2.2" fill="none" stroke="#888" stroke-width="0.35"/><ellipse cx="-2" cy="0.3" rx="8.7" ry="1.4" fill="none" stroke="#777" stroke-width="0.35"/><ellipse cx="-3" cy="0.3" rx="5.1" ry="0.8" fill="#ccc"/><circle cx="-13.0" cy="0.3" r="1.4" fill="#333"/></g>
<path d="M50.0 401.3 L57.7 374.0 L84.8 369.7 L83.4 396.9 L75.6 398.5 L54.9 401.4 Z" fill="none" stroke="#e04848" stroke-width="0.6"/>
<text x="70.46" y="402.27" font-size="3.9" text-anchor="middle" fill="#ee2a2a" font-weight="bold" >76.64%</text>
<text x="37.40" y="365.15" font-size="6.1" text-anchor="end" fill="#1a1a1a" font-weight="normal" stroke="#1a1a1a" stroke-width="0.05" >2.5</text>
<text x="37.40" y="375.05" font-size="6.1" text-anchor="end" fill="#1a1a1a" font-weight="normal" stroke="#1a1a1a" stroke-width="0.05" >1.8</text>
<text x="37.40" y="383.45" font-size="6.1" text-anchor="end" fill="#1a1a1a" font-weight="normal" stroke="#1a1a1a" stroke-width="0.05" >1.2</text>
<text x="37.40" y="391.85" font-size="6.1" text-anchor="end" fill="#1a1a1a" font-weight="normal" stroke="#1a1a1a" stroke-width="0.05" >0.6</text>
<text x="37.40" y="399.55" font-size="6.1" text-anchor="end" fill="#1a1a1a" font-weight="normal" stroke="#1a1a1a" stroke-width="0.05" >0</text>
<text x="37.40" y="407.65" font-size="6.1" text-anchor="end" fill="#1a1a1a" font-weight="normal" stroke="#1a1a1a" stroke-width="0.05" >-0.6</text>
<text x="41.40" y="415.95" font-size="6.1" text-anchor="middle" fill="#1a1a1a" font-weight="normal" stroke="#1a1a1a" stroke-width="0.05" >0</text>
<text x="53.60" y="415.95" font-size="6.1" text-anchor="middle" fill="#1a1a1a" font-weight="normal" stroke="#1a1a1a" stroke-width="0.05" >2</text>
<text x="65.70" y="415.95" font-size="6.1" text-anchor="middle" fill="#1a1a1a" font-weight="normal" stroke="#1a1a1a" stroke-width="0.05" >4</text>
<text x="77.40" y="415.95" font-size="6.1" text-anchor="middle" fill="#1a1a1a" font-weight="normal" stroke="#1a1a1a" stroke-width="0.05" >6</text>
<text x="86.50" y="415.95" font-size="6.1" text-anchor="middle" fill="#1a1a1a" font-weight="normal" stroke="#1a1a1a" stroke-width="0.05" >7.3</text>
<rect x="40.80" y="422.50" width="45.10" height="43.10" fill="#fff" stroke="#999" stroke-width="0.6" rx="0" />
<path d="M44.6 423.3 L85.4 423.3 L85.4 451.3 L78.5 453.3 L70.9 454.8 L58.7 457.3 L46.0 459.0 L43.4 457.7 L44.2 453.7 Z" fill="url(#fsc)" filter="url(#speck)"/>
<path d="M44.2 448.0 L85.4 444.2 L85.4 451.3 L78.5 453.3 L70.9 454.8 L58.7 457.3 L46.0 459.0 L43.4 457.7 L44.2 453.7 Z" fill="#000" opacity="0.8" filter="url(#bl3)"/>
<g transform="translate(56.8,455.6) rotate(-10)"><ellipse cx="0" cy="0" rx="15.3" ry="3.6" fill="#000"/><ellipse cx="0" cy="0" rx="14.5" ry="2.7" fill="#fff"/><ellipse cx="-1" cy="0.2" rx="11.6" ry="1.9" fill="none" stroke="#888" stroke-width="0.35"/><ellipse cx="-2" cy="0.3" rx="8.7" ry="1.2" fill="none" stroke="#777" stroke-width="0.35"/><ellipse cx="-3" cy="0.3" rx="5.1" ry="0.7" fill="#ccc"/><circle cx="-13.0" cy="0.3" r="1.4" fill="#333"/></g>
<path d="M50.0 459.6 L57.7 432.3 L84.8 428.0 L83.4 455.2 L75.6 456.8 L54.9 459.7 Z" fill="none" stroke="#e04848" stroke-width="0.6"/>
<text x="70.46" y="460.57" font-size="3.9" text-anchor="middle" fill="#ee2a2a" font-weight="bold" >78.74%</text>
<text x="37.40" y="422.25" font-size="6.1" text-anchor="end" fill="#1a1a1a" font-weight="normal" stroke="#1a1a1a" stroke-width="0.05" >2.5</text>
<text x="37.40" y="432.15" font-size="6.1" text-anchor="end" fill="#1a1a1a" font-weight="normal" stroke="#1a1a1a" stroke-width="0.05" >1.8</text>
<text x="37.40" y="439.65" font-size="6.1" text-anchor="end" fill="#1a1a1a" font-weight="normal" stroke="#1a1a1a" stroke-width="0.05" >1.2</text>
<text x="37.40" y="448.75" font-size="6.1" text-anchor="end" fill="#1a1a1a" font-weight="normal" stroke="#1a1a1a" stroke-width="0.05" >0.6</text>
<text x="37.40" y="456.65" font-size="6.1" text-anchor="end" fill="#1a1a1a" font-weight="normal" stroke="#1a1a1a" stroke-width="0.05" >0</text>
<text x="37.40" y="464.75" font-size="6.1" text-anchor="end" fill="#1a1a1a" font-weight="normal" stroke="#1a1a1a" stroke-width="0.05" >-0.6</text>
<text x="41.40" y="475.15" font-size="6.1" text-anchor="middle" fill="#1a1a1a" font-weight="normal" stroke="#1a1a1a" stroke-width="0.05" >0</text>
<text x="53.60" y="475.15" font-size="6.1" text-anchor="middle" fill="#1a1a1a" font-weight="normal" stroke="#1a1a1a" stroke-width="0.05" >2</text>
<text x="65.70" y="475.15" font-size="6.1" text-anchor="middle" fill="#1a1a1a" font-weight="normal" stroke="#1a1a1a" stroke-width="0.05" >4</text>
<text x="77.40" y="475.15" font-size="6.1" text-anchor="middle" fill="#1a1a1a" font-weight="normal" stroke="#1a1a1a" stroke-width="0.05" >6</text>
<text x="86.50" y="475.15" font-size="6.1" text-anchor="middle" fill="#1a1a1a" font-weight="normal" stroke="#1a1a1a" stroke-width="0.05" >7.3</text>
<rect x="124.40" y="301.20" width="47.20" height="45.20" fill="#fff" stroke="#999" stroke-width="0.6" rx="0" />
<clipPath id="cp301"><rect x="124.7" y="301.5" width="46.6" height="44.6"/></clipPath>
<g clip-path="url(#cp301)"><g filter="url(#speck)"><path d="M132.4 332.2 C133.4 327.2 136.4 324.2 139.4 322.2 C142.4 319.2 146.4 313.2 151.4 308.2 C155.4 304.7 160.4 302.7 164.4 302.59999999999997 C168.9 302.7 168.9 306.2 166.4 310.2 C164.4 313.2 161.4 316.2 159.4 318.2 C162.4 321.2 163.9 327.2 163.4 333.2 C162.9 338.2 161.9 342.2 161.4 345.8 L157.4 345.8 C156.9 341.2 155.4 337.2 153.4 335.2 C149.4 337.2 142.4 338.7 136.4 337.2 C133.4 336.2 131.9 334.7 132.4 332.2 Z" fill="none" stroke="#000" stroke-opacity="0.45" stroke-width="3.5" stroke-linejoin="round"/><g transform="translate(142.4,334.2) rotate(-25)"><ellipse cx="0" cy="0" rx="16.00" ry="10.00" fill="rgba(0,0,0,0.42)"/></g><g transform="translate(151.4,314.2) rotate(-32)"><ellipse cx="0" cy="0" rx="16.00" ry="7.00" fill="rgba(0,0,0,0.36)"/></g><g transform="translate(161.4,333.2) rotate(8)"><ellipse cx="0" cy="0" rx="6.00" ry="13.00" fill="rgba(0,0,0,0.36)"/></g></g><g filter="url(#bl)"><path d="M132.4 332.2 C133.4 327.2 136.4 324.2 139.4 322.2 C142.4 319.2 146.4 313.2 151.4 308.2 C155.4 304.7 160.4 302.7 164.4 302.59999999999997 C168.9 302.7 168.9 306.2 166.4 310.2 C164.4 313.2 161.4 316.2 159.4 318.2 C162.4 321.2 163.9 327.2 163.4 333.2 C162.9 338.2 161.9 342.2 161.4 345.8 L157.4 345.8 C156.9 341.2 155.4 337.2 153.4 335.2 C149.4 337.2 142.4 338.7 136.4 337.2 C133.4 336.2 131.9 334.7 132.4 332.2 Z" fill="#000"/><g transform="translate(155.7,309.8) rotate(-35)"><ellipse cx="0" cy="0" rx="6.60" ry="4.00" fill="#fff"/><ellipse cx="0" cy="0" rx="5.15" ry="3.12" fill="#aaa"/><ellipse cx="0" cy="0" rx="4.36" ry="2.64" fill="#f4f4f4"/><ellipse cx="0" cy="0" rx="2.11" ry="1.28" fill="#bbb"/></g><g transform="translate(146.4,331.2) rotate(-15)"><ellipse cx="0" cy="0" rx="8.20" ry="3.30" fill="#fff"/><ellipse cx="0" cy="0" rx="6.40" ry="2.57" fill="#aaa"/><ellipse cx="0" cy="0" rx="5.41" ry="2.18" fill="#f4f4f4"/><ellipse cx="0" cy="0" rx="2.30" ry="0.92" fill="#bbb"/></g><g transform="translate(158.7,329.2) rotate(5)"><ellipse cx="0" cy="0" rx="3.00" ry="9.00" fill="#eee"/><ellipse cx="0" cy="0" rx="2.25" ry="6.75" fill="#999"/><ellipse cx="0" cy="0" rx="1.80" ry="5.40" fill="#ddd"/><ellipse cx="0" cy="0" rx="0.90" ry="2.70" fill="#888"/></g></g></g>
<line x1="161.40" y1="335.20" x2="171.40" y2="324.20" stroke="#666" stroke-width="0.35" />
<path d="M127.3 302.3 L167.0 302.3 L154.9 318.5 L127.3 318.5 Z" fill="none" stroke="#7a7af0" stroke-width="0.7"/>
<text x="129.00" y="308.50" font-size="4.3" text-anchor="start" fill="#4848e6" font-weight="bold" >THP-1</text>
<text x="129.00" y="313.50" font-size="4.3" text-anchor="start" fill="#4848e6" font-weight="bold" >12.29%</text>
<text x="120.80" y="304.30" font-size="6.2" text-anchor="end" fill="#1a1a1a" stroke="#1a1a1a" stroke-width="0.05">10<tspan font-size="4.03" dy="-2.79">7</tspan></text>
<text x="120.80" y="318.77" font-size="6.2" text-anchor="end" fill="#1a1a1a" stroke="#1a1a1a" stroke-width="0.05">10<tspan font-size="4.03" dy="-2.79">5</tspan></text>
<text x="120.80" y="333.68" font-size="6.2" text-anchor="end" fill="#1a1a1a" stroke="#1a1a1a" stroke-width="0.05">10<tspan font-size="4.03" dy="-2.79">3</tspan></text>
<text x="120.80" y="347.70" font-size="6.2" text-anchor="end" fill="#1a1a1a" stroke="#1a1a1a" stroke-width="0.05">10<tspan font-size="4.03" dy="-2.79">1</tspan></text>
<text x="124.40" y="355.20" font-size="6.2" text-anchor="middle" fill="#1a1a1a" stroke="#1a1a1a" stroke-width="0.05">10<tspan font-size="4.03" dy="-2.79">2.6</tspan></text>
<text x="142.34" y="355.20" font-size="6.2" text-anchor="middle" fill="#1a1a1a" stroke="#1a1a1a" stroke-width="0.05">10<tspan font-size="4.03" dy="-2.79">3</tspan></text>
<text x="157.44" y="355.20" font-size="6.2" text-anchor="middle" fill="#1a1a1a" stroke="#1a1a1a" stroke-width="0.05">10<tspan font-size="4.03" dy="-2.79">5</tspan></text>
<text x="171.60" y="355.20" font-size="6.2" text-anchor="middle" fill="#1a1a1a" stroke="#1a1a1a" stroke-width="0.05">10<tspan font-size="4.03" dy="-2.79">6.6</tspan></text>
<rect x="124.40" y="361.20" width="47.20" height="45.20" fill="#fff" stroke="#999" stroke-width="0.6" rx="0" />
<clipPath id="cp361"><rect x="124.7" y="361.5" width="46.6" height="44.6"/></clipPath>
<g clip-path="url(#cp361)"><g filter="url(#speck)"><path d="M132.4 392.2 C133.4 387.2 136.4 384.2 139.4 382.2 C142.4 379.2 146.4 373.2 151.4 368.2 C155.4 364.7 160.4 362.7 164.4 362.59999999999997 C168.9 362.7 168.9 366.2 166.4 370.2 C164.4 373.2 161.4 376.2 159.4 378.2 C162.4 381.2 163.9 387.2 163.4 393.2 C162.9 398.2 161.9 402.2 161.4 405.8 L157.4 405.8 C156.9 401.2 155.4 397.2 153.4 395.2 C149.4 397.2 142.4 398.7 136.4 397.2 C133.4 396.2 131.9 394.7 132.4 392.2 Z" fill="none" stroke="#000" stroke-opacity="0.45" stroke-width="3.5" stroke-linejoin="round"/><g transform="translate(142.4,394.2) rotate(-25)"><ellipse cx="0" cy="0" rx="16.00" ry="10.00" fill="rgba(0,0,0,0.42)"/></g><g transform="translate(151.4,374.2) rotate(-32)"><ellipse cx="0" cy="0" rx="16.00" ry="7.00" fill="rgba(0,0,0,0.36)"/></g><g transform="translate(161.4,393.2) rotate(8)"><ellipse cx="0" cy="0" rx="6.00" ry="13.00" fill="rgba(0,0,0,0.36)"/></g></g><g filter="url(#bl)"><path d="M132.4 392.2 C133.4 387.2 136.4 384.2 139.4 382.2 C142.4 379.2 146.4 373.2 151.4 368.2 C155.4 364.7 160.4 362.7 164.4 362.59999999999997 C168.9 362.7 168.9 366.2 166.4 370.2 C164.4 373.2 161.4 376.2 159.4 378.2 C162.4 381.2 163.9 387.2 163.4 393.2 C162.9 398.2 161.9 402.2 161.4 405.8 L157.4 405.8 C156.9 401.2 155.4 397.2 153.4 395.2 C149.4 397.2 142.4 398.7 136.4 397.2 C133.4 396.2 131.9 394.7 132.4 392.2 Z" fill="#000"/><g transform="translate(155.7,369.8) rotate(-35)"><ellipse cx="0" cy="0" rx="7.26" ry="4.40" fill="#fff"/><ellipse cx="0" cy="0" rx="5.66" ry="3.43" fill="#aaa"/><ellipse cx="0" cy="0" rx="4.79" ry="2.90" fill="#f4f4f4"/><ellipse cx="0" cy="0" rx="2.32" ry="1.41" fill="#bbb"/></g><g transform="translate(146.4,391.2) rotate(-15)"><ellipse cx="0" cy="0" rx="8.20" ry="3.30" fill="#fff"/><ellipse cx="0" cy="0" rx="6.40" ry="2.57" fill="#aaa"/><ellipse cx="0" cy="0" rx="5.41" ry="2.18" fill="#f4f4f4"/><ellipse cx="0" cy="0" rx="2.30" ry="0.92" fill="#bbb"/></g><g transform="translate(158.7,389.2) rotate(5)"><ellipse cx="0" cy="0" rx="3.00" ry="9.00" fill="#eee"/><ellipse cx="0" cy="0" rx="2.25" ry="6.75" fill="#999"/><ellipse cx="0" cy="0" rx="1.80" ry="5.40" fill="#ddd"/><ellipse cx="0" cy="0" rx="0.90" ry="2.70" fill="#888"/></g></g></g>
<line x1="161.40" y1="395.20" x2="171.40" y2="384.20" stroke="#666" stroke-width="0.35" />
<path d="M127.3 362.3 L167.0 362.3 L154.9 378.5 L127.3 378.5 Z" fill="none" stroke="#7a7af0" stroke-width="0.7"/>
<text x="129.00" y="368.50" font-size="4.3" text-anchor="start" fill="#4848e6" font-weight="bold" >THP-1</text>
<text x="129.00" y="373.50" font-size="4.3" text-anchor="start" fill="#4848e6" font-weight="bold" >14.23%</text>
<text x="120.80" y="364.30" font-size="6.2" text-anchor="end" fill="#1a1a1a" stroke="#1a1a1a" stroke-width="0.05">10<tspan font-size="4.03" dy="-2.79">7</tspan></text>
<text x="120.80" y="378.77" font-size="6.2" text-anchor="end" fill="#1a1a1a" stroke="#1a1a1a" stroke-width="0.05">10<tspan font-size="4.03" dy="-2.79">5</tspan></text>
<text x="120.80" y="393.68" font-size="6.2" text-anchor="end" fill="#1a1a1a" stroke="#1a1a1a" stroke-width="0.05">10<tspan font-size="4.03" dy="-2.79">3</tspan></text>
<text x="120.80" y="407.70" font-size="6.2" text-anchor="end" fill="#1a1a1a" stroke="#1a1a1a" stroke-width="0.05">10<tspan font-size="4.03" dy="-2.79">1</tspan></text>
<text x="124.40" y="415.20" font-size="6.2" text-anchor="middle" fill="#1a1a1a" stroke="#1a1a1a" stroke-width="0.05">10<tspan font-size="4.03" dy="-2.79">2.6</tspan></text>
<text x="142.34" y="415.20" font-size="6.2" text-anchor="middle" fill="#1a1a1a" stroke="#1a1a1a" stroke-width="0.05">10<tspan font-size="4.03" dy="-2.79">3</tspan></text>
<text x="157.44" y="415.20" font-size="6.2" text-anchor="middle" fill="#1a1a1a" stroke="#1a1a1a" stroke-width="0.05">10<tspan font-size="4.03" dy="-2.79">5</tspan></text>
<text x="171.60" y="415.20" font-size="6.2" text-anchor="middle" fill="#1a1a1a" stroke="#1a1a1a" stroke-width="0.05">10<tspan font-size="4.03" dy="-2.79">6.6</tspan></text>
<rect x="124.40" y="421.40" width="47.20" height="45.20" fill="#fff" stroke="#999" stroke-width="0.6" rx="0" />
<clipPath id="cp421"><rect x="124.7" y="421.7" width="46.6" height="44.6"/></clipPath>
<g clip-path="url(#cp421)"><g filter="url(#speck)"><g transform="translate(144.4,456.4) rotate(-25)"><ellipse cx="0" cy="0" rx="20.00" ry="11.00" fill="rgba(0,0,0,0.42)"/></g><g transform="translate(154.4,448.4) rotate(-30)"><ellipse cx="0" cy="0" rx="14.00" ry="12.00" fill="rgba(0,0,0,0.3)"/></g></g><g filter="url(#bl)"><path d="M133.4 453.4 C140.4 448.4 152.4 440.4 161.4 434.9 C164.4 435.4 163.9 441.4 161.9 448.4 C160.9 454.4 160.9 460.4 159.9 465.9 L155.4 465.9 C152.4 459.4 144.4 459.9 133.4 453.4 Z" fill="#000"/><path d="M135.4 449.9 L146.4 448.9 L152.9 444.9 L155.4 440.9 L158.4 444.4 L155.9 450.4 L153.9 456.4 L150.9 451.9 L136.4 452.4 Z" fill="#eee"/><g transform="translate(153.9,448.4) rotate(0)"><ellipse cx="0" cy="0" rx="2.20" ry="3.50" fill="#aaa"/><ellipse cx="0" cy="0" rx="1.32" ry="2.10" fill="#ddd"/><ellipse cx="0" cy="0" rx="0.66" ry="1.05" fill="#666"/></g></g></g>
<line x1="162.40" y1="440.90" x2="171.40" y2="432.40" stroke="#444" stroke-width="0.4" />
<path d="M127.3 422.5 L167.0 422.5 L154.9 438.7 L127.3 438.7 Z" fill="none" stroke="#7a7af0" stroke-width="0.7"/>
<text x="129.00" y="428.70" font-size="4.3" text-anchor="start" fill="#4848e6" font-weight="bold" >THP-1</text>
<text x="129.00" y="433.70" font-size="4.3" text-anchor="start" fill="#4848e6" font-weight="bold" >0.00%</text>
<text x="120.80" y="424.50" font-size="6.2" text-anchor="end" fill="#1a1a1a" stroke="#1a1a1a" stroke-width="0.05">10<tspan font-size="4.03" dy="-2.79">7</tspan></text>
<text x="120.80" y="438.97" font-size="6.2" text-anchor="end" fill="#1a1a1a" stroke="#1a1a1a" stroke-width="0.05">10<tspan font-size="4.03" dy="-2.79">5</tspan></text>
<text x="120.80" y="453.88" font-size="6.2" text-anchor="end" fill="#1a1a1a" stroke="#1a1a1a" stroke-width="0.05">10<tspan font-size="4.03" dy="-2.79">3</tspan></text>
<text x="120.80" y="467.90" font-size="6.2" text-anchor="end" fill="#1a1a1a" stroke="#1a1a1a" stroke-width="0.05">10<tspan font-size="4.03" dy="-2.79">1</tspan></text>
<text x="124.40" y="475.40" font-size="6.2" text-anchor="middle" fill="#1a1a1a" stroke="#1a1a1a" stroke-width="0.05">10<tspan font-size="4.03" dy="-2.79">2.6</tspan></text>
<text x="142.34" y="475.40" font-size="6.2" text-anchor="middle" fill="#1a1a1a" stroke="#1a1a1a" stroke-width="0.05">10<tspan font-size="4.03" dy="-2.79">3</tspan></text>
<text x="157.44" y="475.40" font-size="6.2" text-anchor="middle" fill="#1a1a1a" stroke="#1a1a1a" stroke-width="0.05">10<tspan font-size="4.03" dy="-2.79">5</tspan></text>
<text x="171.60" y="475.40" font-size="6.2" text-anchor="middle" fill="#1a1a1a" stroke="#1a1a1a" stroke-width="0.05">10<tspan font-size="4.03" dy="-2.79">6.6</tspan></text>
<text x="175.00" y="326.40" font-size="6.2" text-anchor="start" fill="#1a1a1a" font-weight="normal" stroke="#1a1a1a" stroke-width="0.05" >NT</text>
<text x="176.00" y="384.70" font-size="6.2" text-anchor="start" fill="#1a1a1a" font-weight="normal" stroke="#1a1a1a" stroke-width="0.05" textLength="59.8" lengthAdjust="spacingAndGlyphs">DS.BCMA.ζIL15 Veh</text>
<text x="175.30" y="445.70" font-size="6.2" text-anchor="start" fill="#1a1a1a" font-weight="normal" stroke="#1a1a1a" stroke-width="0.05" textLength="60.5" lengthAdjust="spacingAndGlyphs">DS.BCMA.ζIL15 Rim</text>
<text x="270.60" y="381.00" font-size="11" text-anchor="start" fill="#111" font-weight="bold" stroke="#111" stroke-width="0.35" >G</text>
<line x1="316.00" y1="388.80" x2="316.00" y2="428.00" stroke="#111" stroke-width="0.9" />
<line x1="316.00" y1="434.60" x2="316.00" y2="471.60" stroke="#111" stroke-width="0.9" />
<line x1="314.20" y1="428.00" x2="317.80" y2="428.00" stroke="#111" stroke-width="0.9" />
<line x1="314.20" y1="434.60" x2="317.80" y2="434.60" stroke="#111" stroke-width="0.9" />
<line x1="316.00" y1="471.60" x2="396.20" y2="471.60" stroke="#111" stroke-width="1.3" />
<text x="312.40" y="392.80" font-size="6.1" text-anchor="end" fill="#1a1a1a" font-weight="normal" stroke="#1a1a1a" stroke-width="0.05" >2500000</text>
<line x1="314.00" y1="390.70" x2="316.00" y2="390.70" stroke="#111" stroke-width="0.7" />
<text x="312.40" y="401.10" font-size="6.1" text-anchor="end" fill="#1a1a1a" font-weight="normal" stroke="#1a1a1a" stroke-width="0.05" >2000000</text>
<line x1="314.00" y1="399.00" x2="316.00" y2="399.00" stroke="#111" stroke-width="0.7" />
<text x="312.40" y="409.80" font-size="6.1" text-anchor="end" fill="#1a1a1a" font-weight="normal" stroke="#1a1a1a" stroke-width="0.05" >1500000</text>
<line x1="314.00" y1="407.70" x2="316.00" y2="407.70" stroke="#111" stroke-width="0.7" />
<text x="312.40" y="418.40" font-size="6.1" text-anchor="end" fill="#1a1a1a" font-weight="normal" stroke="#1a1a1a" stroke-width="0.05" >1000000</text>
<line x1="314.00" y1="416.30" x2="316.00" y2="416.30" stroke="#111" stroke-width="0.7" />
<text x="312.40" y="427.30" font-size="6.1" text-anchor="end" fill="#1a1a1a" font-weight="normal" stroke="#1a1a1a" stroke-width="0.05" >500000</text>
<line x1="314.00" y1="425.20" x2="316.00" y2="425.20" stroke="#111" stroke-width="0.7" />
<text x="312.40" y="436.70" font-size="6.1" text-anchor="end" fill="#1a1a1a" font-weight="normal" stroke="#1a1a1a" stroke-width="0.05" >300000</text>
<line x1="314.00" y1="434.60" x2="316.00" y2="434.60" stroke="#111" stroke-width="0.7" />
<text x="312.40" y="449.40" font-size="6.1" text-anchor="end" fill="#1a1a1a" font-weight="normal" stroke="#1a1a1a" stroke-width="0.05" >200000</text>
<line x1="314.00" y1="447.30" x2="316.00" y2="447.30" stroke="#111" stroke-width="0.7" />
<text x="312.40" y="461.50" font-size="6.1" text-anchor="end" fill="#1a1a1a" font-weight="normal" stroke="#1a1a1a" stroke-width="0.05" >100000</text>
<line x1="314.00" y1="459.40" x2="316.00" y2="459.40" stroke="#111" stroke-width="0.7" />
<text x="312.40" y="473.90" font-size="6.1" text-anchor="end" fill="#1a1a1a" font-weight="normal" stroke="#1a1a1a" stroke-width="0.05" >0</text>
<line x1="314.00" y1="471.80" x2="316.00" y2="471.80" stroke="#111" stroke-width="0.7" />
<line x1="335.60" y1="471.60" x2="335.60" y2="473.60" stroke="#111" stroke-width="0.8" />
<line x1="377.00" y1="471.60" x2="377.00" y2="473.60" stroke="#111" stroke-width="0.8" />
<text x="336.00" y="483.60" font-size="6.1" text-anchor="middle" fill="#1a1a1a" font-weight="normal" stroke="#1a1a1a" stroke-width="0.05" >Bone marrow</text>
<text x="376.30" y="483.60" font-size="6.1" text-anchor="middle" fill="#1a1a1a" font-weight="normal" stroke="#1a1a1a" stroke-width="0.05" >Spleen</text>
<text transform="translate(277.58,449.75) rotate(-90)" x="0" y="0" font-size="6.6" fill="#1a1a1a" stroke="#1a1a1a" stroke-width="0.28" textLength="44.3" lengthAdjust="spacingAndGlyphs">THP-1-GFP counts</text>
<line x1="321.50" y1="457.00" x2="327.90" y2="457.00" stroke="#1f3f8a" stroke-width="0.8" />
<line x1="324.70" y1="452.70" x2="324.70" y2="461.30" stroke="#1f3f8a" stroke-width="0.7" />
<line x1="323.30" y1="452.70" x2="326.10" y2="452.70" stroke="#1f3f8a" stroke-width="0.7" />
<line x1="323.30" y1="461.30" x2="326.10" y2="461.30" stroke="#1f3f8a" stroke-width="0.7" />
<circle cx="324.7" cy="450.2" r="1.3" fill="#1f3f8a"/>
<circle cx="324.7" cy="465.6" r="1.3" fill="#1f3f8a"/>
<circle cx="324.7" cy="456.5" r="1.3" fill="#1f3f8a"/>
<line x1="332.80" y1="456.00" x2="339.20" y2="456.00" stroke="#b0173a" stroke-width="0.8" />
<line x1="336.00" y1="449.80" x2="336.00" y2="462.30" stroke="#b0173a" stroke-width="0.7" />
<line x1="334.60" y1="449.80" x2="337.40" y2="449.80" stroke="#b0173a" stroke-width="0.7" />
<line x1="334.60" y1="462.30" x2="337.40" y2="462.30" stroke="#b0173a" stroke-width="0.7" />
<rect x="332.9" y="438.4" width="2.5" height="2.5" fill="#b0173a"/>
<rect x="336.6" y="439.9" width="2.5" height="2.5" fill="#b0173a"/>
<rect x="335.2" y="460.8" width="2.5" height="2.5" fill="#b0173a"/>
<rect x="332.9" y="465.2" width="2.5" height="2.5" fill="#b0173a"/>
<rect x="336.6" y="468.8" width="2.5" height="2.5" fill="#b0173a"/>
<rect x="344.2" y="469.0" width="2.0" height="2.0" fill="#b0173a"/>
<rect x="346.0" y="469.5" width="2.0" height="2.0" fill="#b0173a"/>
<rect x="348.0" y="469.6" width="2.0" height="2.0" fill="#b0173a"/>
<rect x="345.2" y="468.2" width="2.0" height="2.0" fill="#b0173a"/>
<line x1="344.50" y1="470.60" x2="349.50" y2="470.60" stroke="#b0173a" stroke-width="0.8" />
<line x1="347.00" y1="470.00" x2="347.00" y2="471.00" stroke="#b0173a" stroke-width="0.7" />
<line x1="345.60" y1="470.00" x2="348.40" y2="470.00" stroke="#b0173a" stroke-width="0.7" />
<line x1="345.60" y1="471.00" x2="348.40" y2="471.00" stroke="#b0173a" stroke-width="0.7" />
<line x1="362.20" y1="451.70" x2="368.60" y2="451.70" stroke="#1f3f8a" stroke-width="0.8" />
<line x1="365.40" y1="446.30" x2="365.40" y2="455.20" stroke="#1f3f8a" stroke-width="0.7" />
<line x1="364.00" y1="446.30" x2="366.80" y2="446.30" stroke="#1f3f8a" stroke-width="0.7" />
<line x1="364.00" y1="455.20" x2="366.80" y2="455.20" stroke="#1f3f8a" stroke-width="0.7" />
<circle cx="365.4" cy="443.5" r="1.3" fill="#1f3f8a"/>
<circle cx="365.4" cy="462.7" r="1.3" fill="#1f3f8a"/>
<circle cx="365.4" cy="450.4" r="1.3" fill="#1f3f8a"/>
<line x1="373.10" y1="425.40" x2="379.50" y2="425.40" stroke="#b0173a" stroke-width="0.8" />
<line x1="376.30" y1="425.40" x2="376.30" y2="471.00" stroke="#b0173a" stroke-width="0.7" />
<line x1="374.90" y1="425.40" x2="377.70" y2="425.40" stroke="#b0173a" stroke-width="0.7" />
<line x1="374.90" y1="471.00" x2="377.70" y2="471.00" stroke="#b0173a" stroke-width="0.7" />
<rect x="375.1" y="399.8" width="2.5" height="2.5" fill="#b0173a"/>
<rect x="375.1" y="426.4" width="2.5" height="2.5" fill="#b0173a"/>
<rect x="375.1" y="456.2" width="2.5" height="2.5" fill="#b0173a"/>
<rect x="374.4" y="468.9" width="2.5" height="2.5" fill="#b0173a"/>
<rect x="377.4" y="469.1" width="2.5" height="2.5" fill="#b0173a"/>
<rect x="385.2" y="461.4" width="2.6" height="2.6" fill="#fff" stroke="#b0173a" stroke-width="0.7"/>
<rect x="387.0" y="464.1" width="2.6" height="2.6" fill="#fff" stroke="#b0173a" stroke-width="0.7"/>
<rect x="384.7" y="467.7" width="2.6" height="2.6" fill="#fff" stroke="#b0173a" stroke-width="0.7"/>
<rect x="387.3" y="468.7" width="2.6" height="2.6" fill="#fff" stroke="#b0173a" stroke-width="0.7"/>
<line x1="384.00" y1="470.40" x2="390.00" y2="470.40" stroke="#b0173a" stroke-width="0.8" />
<line x1="387.00" y1="467.00" x2="387.00" y2="471.00" stroke="#b0173a" stroke-width="0.7" />
<line x1="385.60" y1="467.00" x2="388.40" y2="467.00" stroke="#b0173a" stroke-width="0.7" />
<line x1="385.60" y1="471.00" x2="388.40" y2="471.00" stroke="#b0173a" stroke-width="0.7" />
<path d="M323.5 433.5 V421.2 H344.6 V462.3" fill="none" stroke="#222" stroke-width="0.6"/>
<path d="M333.0 435.4 V431.6 H344.6" fill="none" stroke="#222" stroke-width="0.6"/>
<path d="M366.3 436.3 V391.0 H390.4 V448.8" fill="none" stroke="#222" stroke-width="0.6"/>
<text x="334.00" y="420.00" font-size="4.6" text-anchor="middle" fill="#333" font-weight="normal" stroke="#333" stroke-width="0.05" >***</text>
<text x="338.80" y="430.60" font-size="4.6" text-anchor="middle" fill="#333" font-weight="normal" stroke="#333" stroke-width="0.05" >*</text>
<text x="378.40" y="389.80" font-size="4.6" text-anchor="middle" fill="#333" font-weight="normal" stroke="#333" stroke-width="0.05" >*</text>
<circle cx="406.7" cy="424.4" r="1.1" fill="#1f3f8a"/>
<text x="411.50" y="426.20" font-size="5.2" text-anchor="start" fill="#1a1a1a" font-weight="normal" stroke="#1a1a1a" stroke-width="0.05" >NT Rim</text>
<rect x="405.6" y="432.6" width="2.2" height="2.2" fill="#b0173a"/>
<text x="411.50" y="435.50" font-size="5.2" text-anchor="start" fill="#1a1a1a" font-weight="normal" stroke="#1a1a1a" stroke-width="0.05" textLength="50.4" lengthAdjust="spacingAndGlyphs">DS.BCMA.ζIL15 Veh</text>
<rect x="405.5" y="441.5" width="2.4" height="2.4" fill="#fff" stroke="#b0173a" stroke-width="0.7"/>
<text x="411.50" y="444.50" font-size="5.2" text-anchor="start" fill="#1a1a1a" font-weight="normal" stroke="#1a1a1a" stroke-width="0.05" textLength="50.4" lengthAdjust="spacingAndGlyphs">DS.BCMA.ζIL15 Rim</text>
<text x="366.80" y="504.10" font-size="11" text-anchor="start" fill="#111" font-weight="bold" stroke="#111" stroke-width="0.35" >I</text>
<line x1="399.80" y1="510.30" x2="399.80" y2="590.60" stroke="#111" stroke-width="0.9" />
<line x1="399.80" y1="590.60" x2="477.30" y2="590.60" stroke="#111" stroke-width="1.3" />
<text x="395.00" y="515.90" font-size="6.4" text-anchor="end" fill="#1a1a1a" font-weight="normal" stroke="#1a1a1a" stroke-width="0.05" >4000</text>
<line x1="397.80" y1="513.70" x2="399.80" y2="513.70" stroke="#111" stroke-width="0.7" />
<text x="395.00" y="535.00" font-size="6.4" text-anchor="end" fill="#1a1a1a" font-weight="normal" stroke="#1a1a1a" stroke-width="0.05" >3000</text>
<line x1="397.80" y1="532.80" x2="399.80" y2="532.80" stroke="#111" stroke-width="0.7" />
<text x="395.00" y="554.30" font-size="6.4" text-anchor="end" fill="#1a1a1a" font-weight="normal" stroke="#1a1a1a" stroke-width="0.05" >2000</text>
<line x1="397.80" y1="552.10" x2="399.80" y2="552.10" stroke="#111" stroke-width="0.7" />
<text x="395.00" y="573.30" font-size="6.4" text-anchor="end" fill="#1a1a1a" font-weight="normal" stroke="#1a1a1a" stroke-width="0.05" >1000</text>
<line x1="397.80" y1="571.10" x2="399.80" y2="571.10" stroke="#111" stroke-width="0.7" />
<text x="395.00" y="592.70" font-size="6.4" text-anchor="end" fill="#1a1a1a" font-weight="normal" stroke="#1a1a1a" stroke-width="0.05" >0</text>
<line x1="397.80" y1="590.50" x2="399.80" y2="590.50" stroke="#111" stroke-width="0.7" />
<line x1="419.50" y1="590.60" x2="419.50" y2="592.60" stroke="#111" stroke-width="0.8" />
<line x1="457.20" y1="590.60" x2="457.20" y2="592.60" stroke="#111" stroke-width="0.8" />
<text x="419.50" y="601.20" font-size="6.0" text-anchor="middle" fill="#1a1a1a" font-weight="normal" stroke="#1a1a1a" stroke-width="0.05" >Bone marrow</text>
<text x="457.20" y="601.20" font-size="6.0" text-anchor="middle" fill="#1a1a1a" font-weight="normal" stroke="#1a1a1a" stroke-width="0.05" >Spleen</text>
<text transform="translate(373.18,571.50) rotate(-90)" x="0" y="0" font-size="6.6" fill="#1a1a1a" stroke="#1a1a1a" stroke-width="0.28" textLength="41.0" lengthAdjust="spacingAndGlyphs">CAR-NK counts</text>
<circle cx="405.5" cy="590.2" r="1.0" fill="#1f3f8a"/>
<circle cx="407.5" cy="590.2" r="1.0" fill="#1f3f8a"/>
<circle cx="409.5" cy="590.2" r="1.0" fill="#1f3f8a"/>
<circle cx="411.5" cy="590.2" r="1.0" fill="#1f3f8a"/>
<line x1="416.40" y1="583.80" x2="422.80" y2="583.80" stroke="#b0173a" stroke-width="0.8" />
<line x1="419.60" y1="579.50" x2="419.60" y2="590.00" stroke="#b0173a" stroke-width="0.7" />
<line x1="418.20" y1="579.50" x2="421.00" y2="579.50" stroke="#b0173a" stroke-width="0.7" />
<line x1="418.20" y1="590.00" x2="421.00" y2="590.00" stroke="#b0173a" stroke-width="0.7" />
<rect x="417.8" y="563.0" width="2.5" height="2.5" fill="#b0173a"/>
<rect x="416.2" y="587.2" width="2.5" height="2.5" fill="#b0173a"/>
<rect x="419.2" y="588.4" width="2.5" height="2.5" fill="#b0173a"/>
<rect x="421.2" y="588.5" width="2.5" height="2.5" fill="#b0173a"/>
<line x1="426.60" y1="571.70" x2="433.00" y2="571.70" stroke="#b0173a" stroke-width="0.8" />
<line x1="429.80" y1="561.30" x2="429.80" y2="582.40" stroke="#b0173a" stroke-width="0.7" />
<line x1="428.40" y1="561.30" x2="431.20" y2="561.30" stroke="#b0173a" stroke-width="0.7" />
<line x1="428.40" y1="582.40" x2="431.20" y2="582.40" stroke="#b0173a" stroke-width="0.7" />
<rect x="428.4" y="529.2" width="2.6" height="2.6" fill="#fff" stroke="#b0173a" stroke-width="0.7"/>
<rect x="428.4" y="570.4" width="2.6" height="2.6" fill="#fff" stroke="#b0173a" stroke-width="0.7"/>
<rect x="428.4" y="577.3" width="2.6" height="2.6" fill="#fff" stroke="#b0173a" stroke-width="0.7"/>
<rect x="425.0" y="588.1" width="2.6" height="2.6" fill="#fff" stroke="#b0173a" stroke-width="0.7"/>
<rect x="431.3" y="588.1" width="2.6" height="2.6" fill="#fff" stroke="#b0173a" stroke-width="0.7"/>
<circle cx="445.5" cy="590.2" r="1.0" fill="#1f3f8a"/>
<circle cx="447.5" cy="590.2" r="1.0" fill="#1f3f8a"/>
<circle cx="449.5" cy="590.2" r="1.0" fill="#1f3f8a"/>
<rect x="454.5" y="589.0" width="2.0" height="2.0" fill="#b0173a"/>
<rect x="456.5" y="589.0" width="2.0" height="2.0" fill="#b0173a"/>
<rect x="458.5" y="589.0" width="2.0" height="2.0" fill="#b0173a"/>
<line x1="465.00" y1="579.50" x2="471.00" y2="579.50" stroke="#b0173a" stroke-width="0.8" />
<line x1="468.00" y1="577.00" x2="468.00" y2="585.00" stroke="#b0173a" stroke-width="0.7" />
<line x1="466.60" y1="577.00" x2="469.40" y2="577.00" stroke="#b0173a" stroke-width="0.7" />
<line x1="466.60" y1="585.00" x2="469.40" y2="585.00" stroke="#b0173a" stroke-width="0.7" />
<rect x="467.0" y="568.7" width="2.6" height="2.6" fill="#fff" stroke="#b0173a" stroke-width="0.7"/>
<rect x="466.7" y="578.2" width="2.6" height="2.6" fill="#fff" stroke="#b0173a" stroke-width="0.7"/>
<rect x="470.5" y="582.0" width="2.6" height="2.6" fill="#fff" stroke="#b0173a" stroke-width="0.7"/>
<rect x="466.7" y="588.5" width="2.6" height="2.6" fill="#fff" stroke="#b0173a" stroke-width="0.7"/>
<rect x="464.7" y="579.2" width="2.6" height="2.6" fill="#fff" stroke="#b0173a" stroke-width="0.7"/>
<path d="M448.5 557.9 V546.3 H469.5 V552.1" fill="none" stroke="#222" stroke-width="0.6"/>
<text x="460.00" y="544.60" font-size="4.6" text-anchor="middle" fill="#333" font-weight="normal" stroke="#333" stroke-width="0.05" >*</text>
<circle cx="456.5" cy="513.2" r="1.1" fill="#1f3f8a"/>
<text x="461.70" y="515.10" font-size="5.2" text-anchor="start" fill="#1a1a1a" font-weight="normal" stroke="#1a1a1a" stroke-width="0.05" >NT Rim</text>
<rect x="455.4" y="521.6" width="2.2" height="2.2" fill="#b0173a"/>
<text x="461.70" y="524.60" font-size="5.2" text-anchor="start" fill="#1a1a1a" font-weight="normal" stroke="#1a1a1a" stroke-width="0.05" textLength="44.2" lengthAdjust="spacingAndGlyphs">DS.BCMA.ζIL15 Veh</text>
<rect x="455.3" y="530.8" width="2.4" height="2.4" fill="#fff" stroke="#b0173a" stroke-width="0.7"/>
<text x="461.70" y="533.90" font-size="5.2" text-anchor="start" fill="#1a1a1a" font-weight="normal" stroke="#1a1a1a" stroke-width="0.05" textLength="44.2" lengthAdjust="spacingAndGlyphs">DS.BCMA.ζIL15 Rim</text>
<text x="9.30" y="507.30" font-size="11" text-anchor="start" fill="#111" font-weight="bold" stroke="#111" stroke-width="0.35" >H</text>
<rect x="37.40" y="516.30" width="47.20" height="45.00" fill="#fff" stroke="#999" stroke-width="0.6" rx="0" />
<path d="M42.9 516.8 L84.2 516.8 L84.2 552 L79 555 L70 558 L60 560.8 L42.9 560.8 Z" fill="#000"/>
<path d="M42.9 516.8 L62 516.8 C60 522 56 528 51 534 L42.9 538 Z" fill="#fff"/>
<path d="M42.9 516.8 L62 516.8 C60 522 56 528 51 534 L42.9 538 Z" fill="#000" fill-opacity="0.8" filter="url(#speck)"/>
<path d="M72 552 L84.2 549 L84.2 560.8 L66 560.8 Z" fill="#fff"/>
<path d="M72 552 L84.2 549 L84.2 560.8 L66 560.8 Z" fill="#000" fill-opacity="0.72" filter="url(#speck)"/>
<g transform="translate(62.8,547.0) rotate(-34)"><ellipse cx="0" cy="0" rx="17" ry="7.2" fill="#fff"/><ellipse cx="-0.5" cy="0.3" rx="12.5" ry="5.2" fill="none" stroke="#aaa" stroke-width="0.4"/><ellipse cx="-1" cy="0.5" rx="9.5" ry="3.9" fill="none" stroke="#999" stroke-width="0.4"/><ellipse cx="-1.5" cy="0.6" rx="6" ry="2.5" fill="none" stroke="#999" stroke-width="0.4"/><ellipse cx="-1.5" cy="0.6" rx="3" ry="1.0" fill="#bbb"/></g>
<path d="M43.2 561 L44 546 L45.6 545 L46.5 552 L50 554 L52 560.8 Z" fill="#ddd"/>
<path d="M50.9 546.9 L62.0 519.9 L82.6 519.4 L83.1 546.9 L79.4 554.3 L56.2 561.0 L50.9 554.3 Z" fill="none" stroke="#d84848" stroke-width="0.55"/>
<rect x="63.60" y="523.00" width="14.80" height="5.00" fill="#fff" stroke="none" stroke-width="1" rx="0" />
<text x="71.00" y="527.00" font-size="4.0" text-anchor="middle" fill="#e02828" font-weight="bold" >75.03%</text>
<text x="35.00" y="518.40" font-size="6.0" text-anchor="end" fill="#1a1a1a" font-weight="normal" stroke="#1a1a1a" stroke-width="0.05" >729.4</text>
<text x="35.00" y="538.40" font-size="6.0" text-anchor="end" fill="#1a1a1a" font-weight="normal" stroke="#1a1a1a" stroke-width="0.05" >400</text>
<text x="35.00" y="551.60" font-size="6.0" text-anchor="end" fill="#1a1a1a" font-weight="normal" stroke="#1a1a1a" stroke-width="0.05" >200</text>
<text x="35.00" y="563.40" font-size="6.0" text-anchor="end" fill="#1a1a1a" font-weight="normal" stroke="#1a1a1a" stroke-width="0.05" >0</text>
<text x="38.00" y="572.60" font-size="6.2" text-anchor="middle" fill="#1a1a1a" font-weight="normal" stroke="#1a1a1a" stroke-width="0.05" >0</text>
<text x="47.50" y="572.60" font-size="6.2" text-anchor="middle" fill="#1a1a1a" font-weight="normal" stroke="#1a1a1a" stroke-width="0.05" >1</text>
<text x="57.00" y="572.60" font-size="6.2" text-anchor="middle" fill="#1a1a1a" font-weight="normal" stroke="#1a1a1a" stroke-width="0.05" >2</text>
<text x="65.50" y="572.60" font-size="6.2" text-anchor="middle" fill="#1a1a1a" font-weight="normal" stroke="#1a1a1a" stroke-width="0.05" >3</text>
<text x="74.50" y="572.60" font-size="6.2" text-anchor="middle" fill="#1a1a1a" font-weight="normal" stroke="#1a1a1a" stroke-width="0.05" >4</text>
<text x="85.00" y="572.60" font-size="6.2" text-anchor="middle" fill="#1a1a1a" font-weight="normal" stroke="#1a1a1a" stroke-width="0.05" >5.1</text>
<text x="56.25" y="584.99" font-size="8.3" fill="#1a1a1a" stroke="#1a1a1a" stroke-width="0.28" textLength="10.7" lengthAdjust="spacingAndGlyphs">FSC</text>
<text transform="translate(13.66,544.20) rotate(-90)" x="0" y="0" font-size="8.5" fill="#1a1a1a" stroke="#1a1a1a" stroke-width="0.28" textLength="10.4" lengthAdjust="spacingAndGlyphs">SSC</text>
<rect x="119.10" y="516.40" width="46.90" height="45.50" fill="#fff" stroke="#999" stroke-width="0.6" rx="0" />
<path d="M120 557 C124 549 132 543 142 539.5 C150 536 157 531.5 163 532 C166 533 166 538 163 541 L158.5 545 C158 551 157.5 556 157 561.4 L148 561.4 C146 558 142 557.5 136 558.5 C129 559.5 123 560 120 557 Z" fill="#000" fill-opacity="0.42" filter="url(#speck)"/>
<g filter="url(#bl)"><path d="M121.5 555 C124 550 130 547 137 544.5 C143 542 149 538.5 154 535.5 C158 533.5 162 533 164 535 C165 537 163 540 160 542 C157 544 156.5 548 156 552 C155.5 556 155 559 154.8 561.4 L150 561.4 C149.5 558 148.5 554 146 553 C140 553 133 555 127 556 C124 556.5 121.5 556.5 121.5 555 Z" fill="#000"/><ellipse cx="142" cy="545.4" rx="4.6" ry="1.5" fill="#fff" transform="rotate(-8 142 545.4)"/><path d="M149.5 547 L153.5 542.5 L157.5 543.5 L156 549.5 L152 552 Z" fill="#ccc"/><path d="M151 547 L153.8 544 L156.2 545 L155 548.8 L152.5 550.2 Z" fill="#888"/><ellipse cx="153.6" cy="546.8" rx="1.0" ry="1.3" fill="#444"/></g>
<line x1="157.00" y1="545.00" x2="166.00" y2="540.00" stroke="#444" stroke-width="0.4" />
<path d="M121 543.4 L146.4 540.1 L146.4 558.1 L121 558.1 Z" fill="none" stroke="#6a6af0" stroke-width="0.6"/>
<text x="123.50" y="536.60" font-size="4.3" text-anchor="start" fill="#4848e6" font-weight="bold" >mCD45-</text>
<text x="123.50" y="541.30" font-size="4.3" text-anchor="start" fill="#4848e6" font-weight="bold" >8.39%</text>
<text x="117.00" y="519.40" font-size="6.0" text-anchor="end" fill="#1a1a1a" stroke="#1a1a1a" stroke-width="0.05">10<tspan font-size="3.90" dy="-2.70">7.2</tspan></text>
<text x="117.00" y="536.20" font-size="6.0" text-anchor="end" fill="#1a1a1a" stroke="#1a1a1a" stroke-width="0.05">10<tspan font-size="3.90" dy="-2.70">5</tspan></text>
<text x="117.00" y="549.90" font-size="6.0" text-anchor="end" fill="#1a1a1a" stroke="#1a1a1a" stroke-width="0.05">10<tspan font-size="3.90" dy="-2.70">3</tspan></text>
<text x="117.00" y="564.00" font-size="6.0" text-anchor="end" fill="#1a1a1a" stroke="#1a1a1a" stroke-width="0.05">10<tspan font-size="3.90" dy="-2.70">1</tspan></text>
<text x="120.00" y="572.60" font-size="6.0" text-anchor="middle" fill="#1a1a1a" stroke="#1a1a1a" stroke-width="0.05">10<tspan font-size="3.90" dy="-2.70">1.4</tspan></text>
<text x="133.70" y="572.60" font-size="6.0" text-anchor="middle" fill="#1a1a1a" stroke="#1a1a1a" stroke-width="0.05">10<tspan font-size="3.90" dy="-2.70">3</tspan></text>
<text x="143.40" y="572.60" font-size="6.0" text-anchor="middle" fill="#1a1a1a" stroke="#1a1a1a" stroke-width="0.05">10<tspan font-size="3.90" dy="-2.70">4</tspan></text>
<text x="153.50" y="572.60" font-size="6.0" text-anchor="middle" fill="#1a1a1a" stroke="#1a1a1a" stroke-width="0.05">10<tspan font-size="3.90" dy="-2.70">5</tspan></text>
<text x="166.00" y="572.60" font-size="6.0" text-anchor="middle" fill="#1a1a1a" stroke="#1a1a1a" stroke-width="0.05">10<tspan font-size="3.90" dy="-2.70">5.3</tspan></text>
<text x="133.25" y="584.79" font-size="8.3" fill="#1a1a1a" stroke="#1a1a1a" stroke-width="0.28" textLength="18.5" lengthAdjust="spacingAndGlyphs">mCD45</text>
<text transform="translate(97.96,545.45) rotate(-90)" x="0" y="0" font-size="8.5" fill="#1a1a1a" stroke="#1a1a1a" stroke-width="0.28" textLength="10.7" lengthAdjust="spacingAndGlyphs">GFP</text>
<rect x="202.90" y="516.60" width="47.10" height="44.60" fill="#fff" stroke="#111" stroke-width="0.8" rx="0" />
<path d="M203.5 561.0 L204.1 561.0 L204.7 561.0 L205.2 561.0 L205.8 561.0 L206.4 561.0 L206.9 561.0 L207.5 561.0 L208.1 561.0 L208.7 561.0 L209.2 561.0 L209.8 561.0 L210.4 561.0 L211.0 560.9 L211.6 560.9 L212.1 560.7 L212.7 560.4 L213.3 560.0 L213.8 559.1 L214.4 557.9 L215.0 555.9 L215.6 553.3 L216.2 549.7 L216.7 545.3 L217.3 540.2 L217.9 534.8 L218.4 529.6 L219.0 525.2 L219.6 522.0 L220.2 520.6 L220.8 521.1 L221.3 523.0 L221.9 526.3 L222.5 530.5 L223.1 535.2 L223.6 540.1 L224.2 544.6 L224.8 548.7 L225.3 552.1 L225.9 554.8 L226.5 556.9 L227.1 558.4 L227.7 559.4 L228.2 560.0 L228.8 560.4 L229.4 560.7 L229.9 560.8 L230.5 560.9 L231.1 561.0 L231.7 561.0 L232.2 561.0 L232.8 561.0 L233.4 561.0 L234.0 561.0 L234.6 561.0 L235.1 561.0 L235.7 561.0 L236.3 561.0 L236.8 561.0 L237.4 561.0 L238.0 561.0 L238.6 561.0 L239.2 561.0 L239.7 561.0 L240.3 561.0 L240.9 561.0 L241.4 561.0 L242.0 561.0 L242.6 561.0 L243.2 560.9 L243.8 560.8 L244.3 560.7 L244.9 560.6 L245.5 560.4 L246.1 560.4 L246.6 560.5 L247.2 560.6 L247.8 560.7 L248.3 560.8 L248.9 560.9 L249.5 561.0" fill="#8a94bc" stroke="#34509a" stroke-width="1.0"/>
<text x="196.80" y="518.70" font-size="6.0" text-anchor="end" fill="#1a1a1a" font-weight="normal" stroke="#1a1a1a" stroke-width="0.05" >5.9</text>
<line x1="201.40" y1="516.60" x2="202.90" y2="516.60" stroke="#111" stroke-width="0.5" />
<text x="196.80" y="526.10" font-size="6.0" text-anchor="end" fill="#1a1a1a" font-weight="normal" stroke="#1a1a1a" stroke-width="0.05" >5</text>
<line x1="201.40" y1="524.00" x2="202.90" y2="524.00" stroke="#111" stroke-width="0.5" />
<text x="196.80" y="533.40" font-size="6.0" text-anchor="end" fill="#1a1a1a" font-weight="normal" stroke="#1a1a1a" stroke-width="0.05" >4</text>
<line x1="201.40" y1="531.30" x2="202.90" y2="531.30" stroke="#111" stroke-width="0.5" />
<text x="196.80" y="540.80" font-size="6.0" text-anchor="end" fill="#1a1a1a" font-weight="normal" stroke="#1a1a1a" stroke-width="0.05" >3</text>
<line x1="201.40" y1="538.70" x2="202.90" y2="538.70" stroke="#111" stroke-width="0.5" />
<text x="196.80" y="548.30" font-size="6.0" text-anchor="end" fill="#1a1a1a" font-weight="normal" stroke="#1a1a1a" stroke-width="0.05" >2</text>
<line x1="201.40" y1="546.20" x2="202.90" y2="546.20" stroke="#111" stroke-width="0.5" />
<text x="196.80" y="555.60" font-size="6.0" text-anchor="end" fill="#1a1a1a" font-weight="normal" stroke="#1a1a1a" stroke-width="0.05" >1</text>
<line x1="201.40" y1="553.50" x2="202.90" y2="553.50" stroke="#111" stroke-width="0.5" />
<text x="196.80" y="562.80" font-size="6.0" text-anchor="end" fill="#1a1a1a" font-weight="normal" stroke="#1a1a1a" stroke-width="0.05" >0</text>
<line x1="201.40" y1="560.70" x2="202.90" y2="560.70" stroke="#111" stroke-width="0.5" />
<text x="204.40" y="572.60" font-size="6.0" text-anchor="middle" fill="#1a1a1a" stroke="#1a1a1a" stroke-width="0.05">10<tspan font-size="3.90" dy="-2.70">1.2</tspan></text>
<text x="217.70" y="572.60" font-size="6.0" text-anchor="middle" fill="#1a1a1a" stroke="#1a1a1a" stroke-width="0.05">10<tspan font-size="3.90" dy="-2.70">3</tspan></text>
<text x="227.80" y="572.60" font-size="6.0" text-anchor="middle" fill="#1a1a1a" stroke="#1a1a1a" stroke-width="0.05">10<tspan font-size="3.90" dy="-2.70">4</tspan></text>
<text x="239.00" y="572.60" font-size="6.0" text-anchor="middle" fill="#1a1a1a" stroke="#1a1a1a" stroke-width="0.05">10<tspan font-size="3.90" dy="-2.70">5</tspan></text>
<text x="247.00" y="572.60" font-size="6.0" text-anchor="middle" fill="#1a1a1a" stroke="#1a1a1a" stroke-width="0.05">10<tspan font-size="3.90" dy="-2.70">6.4</tspan></text>
<text x="218.15" y="584.19" font-size="8.3" fill="#1a1a1a" stroke="#1a1a1a" stroke-width="0.28" textLength="17.3" lengthAdjust="spacingAndGlyphs">hCD45</text>
<text transform="translate(182.99,547.95) rotate(-90)" x="0" y="0" font-size="8.3" fill="#1a1a1a" stroke="#1a1a1a" stroke-width="0.28" textLength="18.1" lengthAdjust="spacingAndGlyphs">Counts</text>
<line x1="236.60" y1="556.40" x2="248.70" y2="556.40" stroke="#222" stroke-width="0.6" />
<line x1="236.60" y1="555.20" x2="236.60" y2="557.60" stroke="#222" stroke-width="0.6" />
<line x1="248.70" y1="555.20" x2="248.70" y2="557.60" stroke="#222" stroke-width="0.6" />
<text x="242.50" y="547.80" font-size="3.9" text-anchor="middle" fill="#333" font-weight="normal" stroke="#333" stroke-width="0.05" >hcd45+</text>
<text x="242.50" y="552.90" font-size="3.9" text-anchor="middle" fill="#333" font-weight="normal" stroke="#333" stroke-width="0.05" >1.94%</text>
<rect x="290.50" y="516.20" width="50.70" height="45.00" fill="#fff" stroke="#888" stroke-width="0.6" rx="0" />
<path d="M324.5 538.6h0.6v0.6h-0.6zM304.2 534.9h0.6v0.6h-0.6zM318.7 549.1h0.6v0.6h-0.6zM314.4 539.1h0.6v0.6h-0.6zM320.7 556.0h0.6v0.6h-0.6zM311.8 544.2h0.6v0.6h-0.6zM320.2 548.5h0.6v0.6h-0.6zM321.3 542.2h0.6v0.6h-0.6zM314.4 542.7h0.6v0.6h-0.6zM308.1 543.0h0.6v0.6h-0.6zM310.0 548.5h0.6v0.6h-0.6zM309.9 545.5h0.6v0.6h-0.6zM306.4 536.6h0.6v0.6h-0.6zM321.9 538.3h0.6v0.6h-0.6zM324.6 551.4h0.6v0.6h-0.6zM296.2 540.6h0.6v0.6h-0.6zM309.1 545.1h0.6v0.6h-0.6zM310.8 540.9h0.6v0.6h-0.6zM320.7 544.1h0.6v0.6h-0.6zM318.7 540.3h0.6v0.6h-0.6zM307.2 554.1h0.6v0.6h-0.6zM310.1 537.5h0.6v0.6h-0.6zM310.8 552.2h0.6v0.6h-0.6zM310.9 540.1h0.6v0.6h-0.6zM316.4 551.7h0.6v0.6h-0.6zM310.6 542.8h0.6v0.6h-0.6zM310.7 557.0h0.6v0.6h-0.6zM311.0 547.8h0.6v0.6h-0.6zM297.9 546.2h0.6v0.6h-0.6zM312.4 542.8h0.6v0.6h-0.6zM309.2 535.7h0.6v0.6h-0.6zM301.7 546.1h0.6v0.6h-0.6zM307.6 544.4h0.6v0.6h-0.6zM310.8 541.5h0.6v0.6h-0.6zM307.0 557.7h0.6v0.6h-0.6zM304.4 541.5h0.6v0.6h-0.6zM310.0 537.1h0.6v0.6h-0.6zM305.4 550.9h0.6v0.6h-0.6zM318.5 545.9h0.6v0.6h-0.6zM334.4 550.7h0.6v0.6h-0.6zM320.5 539.4h0.6v0.6h-0.6zM319.5 556.5h0.6v0.6h-0.6zM309.4 557.4h0.6v0.6h-0.6zM306.4 537.2h0.6v0.6h-0.6zM311.7 539.5h0.6v0.6h-0.6zM316.4 537.4h0.6v0.6h-0.6zM312.6 531.6h0.6v0.6h-0.6zM311.8 552.2h0.6v0.6h-0.6zM310.2 547.1h0.6v0.6h-0.6zM319.6 537.5h0.6v0.6h-0.6zM303.2 545.6h0.6v0.6h-0.6zM313.9 543.2h0.6v0.6h-0.6zM305.3 553.3h0.6v0.6h-0.6zM304.0 543.2h0.6v0.6h-0.6zM311.7 550.0h0.6v0.6h-0.6zM308.9 539.4h0.6v0.6h-0.6zM325.9 539.2h0.6v0.6h-0.6zM317.5 544.0h0.6v0.6h-0.6zM308.7 544.7h0.6v0.6h-0.6zM310.3 547.1h0.6v0.6h-0.6zM294.4 544.8h0.6v0.6h-0.6zM312.5 538.4h0.6v0.6h-0.6zM324.8 549.4h0.6v0.6h-0.6zM313.6 542.9h0.6v0.6h-0.6zM321.6 541.9h0.6v0.6h-0.6zM306.4 549.7h0.6v0.6h-0.6zM305.3 539.6h0.6v0.6h-0.6zM322.0 534.0h0.6v0.6h-0.6zM311.6 545.8h0.6v0.6h-0.6zM313.8 535.1h0.6v0.6h-0.6zM310.5 542.7h0.6v0.6h-0.6zM325.3 551.9h0.6v0.6h-0.6zM306.8 551.0h0.6v0.6h-0.6zM316.5 544.2h0.6v0.6h-0.6zM310.4 543.1h0.6v0.6h-0.6zM301.4 540.7h0.6v0.6h-0.6zM318.5 554.9h0.6v0.6h-0.6zM324.8 542.4h0.6v0.6h-0.6zM316.3 528.6h0.6v0.6h-0.6zM310.2 536.4h0.6v0.6h-0.6zM317.7 533.7h0.6v0.6h-0.6zM304.8 537.5h0.6v0.6h-0.6zM314.8 550.7h0.6v0.6h-0.6zM305.7 557.3h0.6v0.6h-0.6zM313.1 539.3h0.6v0.6h-0.6zM314.4 544.9h0.6v0.6h-0.6zM317.8 547.4h0.6v0.6h-0.6zM327.2 553.0h0.6v0.6h-0.6zM307.6 550.4h0.6v0.6h-0.6zM317.3 538.2h0.6v0.6h-0.6zM306.9 539.5h0.6v0.6h-0.6zM295.0 549.4h0.6v0.6h-0.6zM310.5 553.4h0.6v0.6h-0.6zM308.2 545.5h0.6v0.6h-0.6zM317.0 551.6h0.6v0.6h-0.6zM314.2 537.9h0.6v0.6h-0.6zM327.3 550.9h0.6v0.6h-0.6zM321.4 556.1h0.6v0.6h-0.6zM321.7 547.8h0.6v0.6h-0.6zM315.3 549.3h0.6v0.6h-0.6zM301.7 550.6h0.6v0.6h-0.6zM305.3 547.9h0.6v0.6h-0.6zM305.1 549.9h0.6v0.6h-0.6zM313.4 548.5h0.6v0.6h-0.6zM305.8 543.0h0.6v0.6h-0.6zM311.6 543.0h0.6v0.6h-0.6zM309.0 539.0h0.6v0.6h-0.6zM317.3 542.4h0.6v0.6h-0.6zM306.4 547.5h0.6v0.6h-0.6zM306.4 543.8h0.6v0.6h-0.6zM308.5 538.7h0.6v0.6h-0.6zM310.5 539.4h0.6v0.6h-0.6zM303.4 547.4h0.6v0.6h-0.6zM310.0 535.0h0.6v0.6h-0.6zM309.3 546.3h0.6v0.6h-0.6zM315.0 547.6h0.6v0.6h-0.6zM313.8 549.1h0.6v0.6h-0.6zM308.6 539.6h0.6v0.6h-0.6zM316.3 542.2h0.6v0.6h-0.6zM312.1 549.4h0.6v0.6h-0.6zM318.5 553.3h0.6v0.6h-0.6zM307.3 542.5h0.6v0.6h-0.6zM315.9 535.2h0.6v0.6h-0.6zM303.4 549.2h0.6v0.6h-0.6zM307.8 538.7h0.6v0.6h-0.6zM317.6 548.6h0.6v0.6h-0.6zM318.4 542.8h0.6v0.6h-0.6zM310.1 542.7h0.6v0.6h-0.6zM314.1 531.2h0.6v0.6h-0.6zM307.3 549.8h0.6v0.6h-0.6zM306.7 544.6h0.6v0.6h-0.6zM312.9 548.6h0.6v0.6h-0.6zM308.8 537.3h0.6v0.6h-0.6zM329.3 540.1h0.6v0.6h-0.6zM323.8 533.0h0.6v0.6h-0.6zM312.8 543.7h0.6v0.6h-0.6zM325.1 558.9h0.6v0.6h-0.6zM318.8 538.1h0.6v0.6h-0.6zM306.5 539.9h0.6v0.6h-0.6zM308.5 546.8h0.6v0.6h-0.6zM306.6 543.3h0.6v0.6h-0.6zM322.2 554.8h0.6v0.6h-0.6zM299.2 538.5h0.6v0.6h-0.6zM309.5 553.8h0.6v0.6h-0.6zM309.8 558.0h0.6v0.6h-0.6zM314.6 554.8h0.6v0.6h-0.6zM306.2 542.9h0.6v0.6h-0.6zM319.1 548.9h0.6v0.6h-0.6zM299.2 543.1h0.6v0.6h-0.6zM313.3 549.3h0.6v0.6h-0.6zM307.7 556.8h0.6v0.6h-0.6zM313.1 554.9h0.6v0.6h-0.6zM314.8 545.6h0.6v0.6h-0.6zM309.9 537.1h0.6v0.6h-0.6zM318.0 550.2h0.6v0.6h-0.6zM318.5 542.5h0.6v0.6h-0.6zM305.2 542.4h0.6v0.6h-0.6zM309.9 544.9h0.6v0.6h-0.6zM318.8 538.8h0.6v0.6h-0.6zM308.7 549.7h0.6v0.6h-0.6zM318.3 560.0h0.6v0.6h-0.6zM315.7 539.3h0.6v0.6h-0.6zM304.9 539.6h0.6v0.6h-0.6zM312.6 546.7h0.6v0.6h-0.6zM311.6 540.8h0.6v0.6h-0.6zM310.8 544.5h0.6v0.6h-0.6zM316.2 545.6h0.6v0.6h-0.6zM306.5 537.1h0.6v0.6h-0.6zM322.3 544.4h0.6v0.6h-0.6zM310.9 544.8h0.6v0.6h-0.6zM319.8 542.9h0.6v0.6h-0.6zM313.3 543.4h0.6v0.6h-0.6zM316.1 538.2h0.6v0.6h-0.6zM313.5 552.0h0.6v0.6h-0.6zM320.2 549.2h0.6v0.6h-0.6zM314.1 555.7h0.6v0.6h-0.6zM316.9 554.5h0.6v0.6h-0.6zM303.8 537.6h0.6v0.6h-0.6zM317.6 543.2h0.6v0.6h-0.6zM309.1 538.6h0.6v0.6h-0.6zM322.3 536.9h0.6v0.6h-0.6zM312.8 535.6h0.6v0.6h-0.6zM310.9 560.2h0.6v0.6h-0.6zM328.8 541.7h0.6v0.6h-0.6zM305.2 556.1h0.6v0.6h-0.6zM306.2 532.9h0.6v0.6h-0.6zM314.5 537.7h0.6v0.6h-0.6zM302.1 552.6h0.6v0.6h-0.6zM307.1 537.8h0.6v0.6h-0.6zM313.2 543.7h0.6v0.6h-0.6zM319.8 545.7h0.6v0.6h-0.6zM323.0 552.7h0.6v0.6h-0.6zM324.3 552.6h0.6v0.6h-0.6zM312.6 548.7h0.6v0.6h-0.6zM312.2 534.5h0.6v0.6h-0.6zM304.0 550.0h0.6v0.6h-0.6zM295.9 539.4h0.6v0.6h-0.6zM303.3 544.6h0.6v0.6h-0.6zM305.0 546.7h0.6v0.6h-0.6zM310.7 541.8h0.6v0.6h-0.6zM306.3 530.0h0.6v0.6h-0.6zM312.6 536.3h0.6v0.6h-0.6zM310.1 547.5h0.6v0.6h-0.6zM319.3 549.8h0.6v0.6h-0.6zM322.2 535.4h0.6v0.6h-0.6zM316.7 555.6h0.6v0.6h-0.6zM314.8 537.5h0.6v0.6h-0.6zM314.8 541.5h0.6v0.6h-0.6zM307.7 552.2h0.6v0.6h-0.6zM310.9 537.4h0.6v0.6h-0.6zM307.5 558.3h0.6v0.6h-0.6zM306.3 549.6h0.6v0.6h-0.6zM313.3 552.9h0.6v0.6h-0.6zM310.2 538.6h0.6v0.6h-0.6zM307.7 538.0h0.6v0.6h-0.6zM329.9 546.3h0.6v0.6h-0.6zM309.9 553.5h0.6v0.6h-0.6zM316.6 543.8h0.6v0.6h-0.6zM316.4 546.9h0.6v0.6h-0.6zM319.8 556.2h0.6v0.6h-0.6zM310.0 544.8h0.6v0.6h-0.6zM310.9 553.3h0.6v0.6h-0.6zM314.7 550.3h0.6v0.6h-0.6zM318.3 540.7h0.6v0.6h-0.6zM313.0 554.4h0.6v0.6h-0.6zM318.4 550.5h0.6v0.6h-0.6zM310.2 542.6h0.6v0.6h-0.6zM306.3 543.2h0.6v0.6h-0.6zM311.7 535.3h0.6v0.6h-0.6zM320.1 539.8h0.6v0.6h-0.6zM313.8 549.1h0.6v0.6h-0.6zM308.3 532.8h0.6v0.6h-0.6zM318.7 547.8h0.6v0.6h-0.6zM310.4 552.7h0.6v0.6h-0.6zM318.2 538.6h0.6v0.6h-0.6zM311.6 533.1h0.6v0.6h-0.6zM310.3 554.6h0.6v0.6h-0.6zM306.4 550.6h0.6v0.6h-0.6zM301.8 543.0h0.6v0.6h-0.6zM318.6 556.6h0.6v0.6h-0.6zM315.2 550.1h0.6v0.6h-0.6zM323.9 528.5h0.6v0.6h-0.6zM300.4 557.8h0.6v0.6h-0.6zM329.0 549.1h0.6v0.6h-0.6zM312.6 546.8h0.6v0.6h-0.6zM312.3 540.9h0.6v0.6h-0.6zM312.0 544.2h0.6v0.6h-0.6zM316.7 549.6h0.6v0.6h-0.6zM318.8 549.0h0.6v0.6h-0.6zM305.5 554.4h0.6v0.6h-0.6zM293.9 545.8h0.6v0.6h-0.6zM314.4 541.4h0.6v0.6h-0.6zM324.9 537.6h0.6v0.6h-0.6zM304.1 541.6h0.6v0.6h-0.6zM315.0 550.4h0.6v0.6h-0.6zM312.9 549.5h0.6v0.6h-0.6zM307.3 540.9h0.6v0.6h-0.6zM313.0 535.9h0.6v0.6h-0.6zM313.4 542.4h0.6v0.6h-0.6zM316.8 538.2h0.6v0.6h-0.6zM308.5 541.2h0.6v0.6h-0.6zM309.6 538.3h0.6v0.6h-0.6zM310.3 535.9h0.6v0.6h-0.6zM315.8 549.6h0.6v0.6h-0.6zM312.0 543.7h0.6v0.6h-0.6zM306.1 538.5h0.6v0.6h-0.6zM310.6 538.9h0.6v0.6h-0.6zM304.1 546.1h0.6v0.6h-0.6zM312.0 542.3h0.6v0.6h-0.6zM306.6 544.7h0.6v0.6h-0.6zM307.4 542.1h0.6v0.6h-0.6zM313.4 549.9h0.6v0.6h-0.6zM317.3 540.9h0.6v0.6h-0.6zM320.3 537.2h0.6v0.6h-0.6zM310.9 553.8h0.6v0.6h-0.6zM328.2 545.9h0.6v0.6h-0.6zM309.7 542.5h0.6v0.6h-0.6zM303.9 544.0h0.6v0.6h-0.6zM309.2 539.9h0.6v0.6h-0.6zM320.2 539.8h0.6v0.6h-0.6zM323.6 550.7h0.6v0.6h-0.6zM316.5 541.0h0.6v0.6h-0.6zM308.7 531.5h0.6v0.6h-0.6zM314.0 543.2h0.6v0.6h-0.6zM314.7 540.5h0.6v0.6h-0.6zM315.4 534.9h0.6v0.6h-0.6zM297.3 548.2h0.6v0.6h-0.6zM319.4 523.7h0.6v0.6h-0.6zM320.8 542.7h0.6v0.6h-0.6zM311.0 534.6h0.6v0.6h-0.6zM305.3 549.8h0.6v0.6h-0.6zM307.1 544.8h0.6v0.6h-0.6zM311.1 558.5h0.6v0.6h-0.6zM318.1 536.1h0.6v0.6h-0.6zM308.9 537.3h0.6v0.6h-0.6zM302.7 540.4h0.6v0.6h-0.6zM319.6 545.3h0.6v0.6h-0.6zM321.0 526.6h0.6v0.6h-0.6zM316.2 527.3h0.6v0.6h-0.6zM317.7 533.5h0.6v0.6h-0.6zM325.9 528.3h0.6v0.6h-0.6zM320.7 520.3h0.6v0.6h-0.6zM317.5 535.1h0.6v0.6h-0.6zM314.6 529.8h0.6v0.6h-0.6zM323.4 525.7h0.6v0.6h-0.6zM317.1 525.5h0.6v0.6h-0.6zM321.5 527.1h0.6v0.6h-0.6zM324.6 531.0h0.6v0.6h-0.6zM318.0 535.8h0.6v0.6h-0.6zM316.7 524.9h0.6v0.6h-0.6zM317.0 524.0h0.6v0.6h-0.6zM316.2 526.8h0.6v0.6h-0.6zM321.9 521.7h0.6v0.6h-0.6zM312.0 524.4h0.6v0.6h-0.6zM316.7 528.5h0.6v0.6h-0.6zM314.6 532.1h0.6v0.6h-0.6zM315.8 526.3h0.6v0.6h-0.6zM318.3 531.0h0.6v0.6h-0.6zM319.4 527.1h0.6v0.6h-0.6zM315.7 527.6h0.6v0.6h-0.6zM319.8 525.8h0.6v0.6h-0.6zM318.0 520.8h0.6v0.6h-0.6zM315.8 531.0h0.6v0.6h-0.6zM324.2 526.8h0.6v0.6h-0.6zM308.7 533.2h0.6v0.6h-0.6zM317.3 535.7h0.6v0.6h-0.6zM316.3 530.4h0.6v0.6h-0.6zM315.4 531.7h0.6v0.6h-0.6zM323.1 523.4h0.6v0.6h-0.6zM323.7 536.7h0.6v0.6h-0.6zM317.1 522.9h0.6v0.6h-0.6zM319.3 525.6h0.6v0.6h-0.6zM311.6 523.4h0.6v0.6h-0.6zM319.1 521.8h0.6v0.6h-0.6zM322.7 528.5h0.6v0.6h-0.6zM317.3 531.8h0.6v0.6h-0.6zM314.0 529.3h0.6v0.6h-0.6zM312.2 525.9h0.6v0.6h-0.6zM320.8 525.2h0.6v0.6h-0.6zM317.6 529.2h0.6v0.6h-0.6zM324.7 531.4h0.6v0.6h-0.6zM320.0 526.1h0.6v0.6h-0.6zM311.8 532.8h0.6v0.6h-0.6zM326.2 519.7h0.6v0.6h-0.6zM321.8 526.9h0.6v0.6h-0.6zM321.1 528.1h0.6v0.6h-0.6zM317.2 527.0h0.6v0.6h-0.6zM317.9 531.0h0.6v0.6h-0.6zM316.9 525.2h0.6v0.6h-0.6zM320.9 529.2h0.6v0.6h-0.6zM319.9 528.0h0.6v0.6h-0.6zM324.4 530.8h0.6v0.6h-0.6zM319.0 526.3h0.6v0.6h-0.6zM320.9 520.6h0.6v0.6h-0.6zM315.8 524.6h0.6v0.6h-0.6zM318.8 525.7h0.6v0.6h-0.6zM328.7 529.5h0.6v0.6h-0.6zM319.8 534.7h0.6v0.6h-0.6zM318.0 525.9h0.6v0.6h-0.6zM323.4 529.8h0.6v0.6h-0.6zM322.1 531.1h0.6v0.6h-0.6zM316.5 524.8h0.6v0.6h-0.6zM314.9 527.4h0.6v0.6h-0.6zM322.4 523.4h0.6v0.6h-0.6zM315.7 522.5h0.6v0.6h-0.6zM326.7 529.7h0.6v0.6h-0.6zM319.0 522.9h0.6v0.6h-0.6zM313.6 524.8h0.6v0.6h-0.6zM318.2 522.7h0.6v0.6h-0.6zM317.1 531.2h0.6v0.6h-0.6zM318.1 527.3h0.6v0.6h-0.6zM309.0 526.1h0.6v0.6h-0.6zM317.4 524.6h0.6v0.6h-0.6zM312.1 526.8h0.6v0.6h-0.6zM313.6 525.1h0.6v0.6h-0.6zM311.1 526.7h0.6v0.6h-0.6zM322.0 524.1h0.6v0.6h-0.6zM319.4 521.8h0.6v0.6h-0.6zM320.5 528.9h0.6v0.6h-0.6zM316.4 530.0h0.6v0.6h-0.6zM314.2 527.2h0.6v0.6h-0.6zM325.3 526.9h0.6v0.6h-0.6zM313.2 530.9h0.6v0.6h-0.6zM320.4 526.1h0.6v0.6h-0.6zM310.2 520.6h0.6v0.6h-0.6zM311.5 532.1h0.6v0.6h-0.6zM319.3 524.1h0.6v0.6h-0.6zM323.0 532.0h0.6v0.6h-0.6zM314.4 528.6h0.6v0.6h-0.6zM310.9 528.3h0.6v0.6h-0.6zM325.9 522.2h0.6v0.6h-0.6zM318.3 524.8h0.6v0.6h-0.6zM317.6 527.3h0.6v0.6h-0.6zM319.3 530.0h0.6v0.6h-0.6zM320.3 530.6h0.6v0.6h-0.6zM322.4 530.8h0.6v0.6h-0.6zM315.1 528.4h0.6v0.6h-0.6zM316.4 524.1h0.6v0.6h-0.6zM326.5 528.0h0.6v0.6h-0.6zM318.2 519.8h0.6v0.6h-0.6zM317.0 529.6h0.6v0.6h-0.6zM317.2 525.1h0.6v0.6h-0.6zM324.4 525.9h0.6v0.6h-0.6zM316.6 526.7h0.6v0.6h-0.6zM317.0 530.6h0.6v0.6h-0.6zM320.5 526.8h0.6v0.6h-0.6zM316.5 526.2h0.6v0.6h-0.6zM325.3 526.0h0.6v0.6h-0.6zM320.9 521.6h0.6v0.6h-0.6zM319.4 529.4h0.6v0.6h-0.6zM323.5 528.1h0.6v0.6h-0.6zM320.5 528.1h0.6v0.6h-0.6zM322.6 534.0h0.6v0.6h-0.6zM318.9 524.2h0.6v0.6h-0.6zM320.6 526.6h0.6v0.6h-0.6zM320.8 529.6h0.6v0.6h-0.6zM318.7 525.5h0.6v0.6h-0.6zM319.4 522.7h0.6v0.6h-0.6zM319.2 524.0h0.6v0.6h-0.6zM320.0 527.4h0.6v0.6h-0.6zM317.1 522.9h0.6v0.6h-0.6zM318.3 524.7h0.6v0.6h-0.6zM317.4 529.4h0.6v0.6h-0.6zM322.1 522.6h0.6v0.6h-0.6zM322.1 531.7h0.6v0.6h-0.6zM322.9 527.9h0.6v0.6h-0.6zM317.7 532.9h0.6v0.6h-0.6zM316.7 521.8h0.6v0.6h-0.6zM318.4 528.0h0.6v0.6h-0.6zM313.6 522.8h0.6v0.6h-0.6zM326.6 527.4h0.6v0.6h-0.6zM321.4 525.0h0.6v0.6h-0.6zM311.5 526.4h0.6v0.6h-0.6zM323.8 524.7h0.6v0.6h-0.6zM310.3 526.4h0.6v0.6h-0.6zM316.8 527.1h0.6v0.6h-0.6zM313.6 525.9h0.6v0.6h-0.6zM315.7 530.0h0.6v0.6h-0.6zM318.7 530.0h0.6v0.6h-0.6zM317.8 519.7h0.6v0.6h-0.6zM309.6 528.8h0.6v0.6h-0.6zM321.8 530.0h0.6v0.6h-0.6zM317.7 520.9h0.6v0.6h-0.6zM315.9 528.4h0.6v0.6h-0.6zM324.0 525.8h0.6v0.6h-0.6zM315.6 524.4h0.6v0.6h-0.6zM322.4 530.0h0.6v0.6h-0.6zM310.2 531.1h0.6v0.6h-0.6zM314.1 522.0h0.6v0.6h-0.6zM311.2 524.5h0.6v0.6h-0.6zM328.0 535.7h0.6v0.6h-0.6zM312.7 524.7h0.6v0.6h-0.6zM318.7 528.4h0.6v0.6h-0.6zM316.0 521.6h0.6v0.6h-0.6zM316.3 524.7h0.6v0.6h-0.6zM310.3 527.5h0.6v0.6h-0.6zM311.7 521.1h0.6v0.6h-0.6zM324.6 530.2h0.6v0.6h-0.6zM324.3 527.4h0.6v0.6h-0.6zM316.3 526.7h0.6v0.6h-0.6zM312.2 529.5h0.6v0.6h-0.6zM319.2 526.0h0.6v0.6h-0.6zM310.0 526.6h0.6v0.6h-0.6zM325.1 532.0h0.6v0.6h-0.6zM321.8 525.8h0.6v0.6h-0.6zM318.6 528.9h0.6v0.6h-0.6zM318.9 530.6h0.6v0.6h-0.6zM315.2 519.1h0.6v0.6h-0.6zM307.6 523.9h0.6v0.6h-0.6zM312.1 529.3h0.6v0.6h-0.6zM322.7 527.0h0.6v0.6h-0.6zM320.4 527.3h0.6v0.6h-0.6zM318.8 525.4h0.6v0.6h-0.6zM316.3 531.1h0.6v0.6h-0.6zM316.9 526.9h0.6v0.6h-0.6zM323.2 530.4h0.6v0.6h-0.6zM316.4 527.9h0.6v0.6h-0.6zM313.7 527.5h0.6v0.6h-0.6zM319.4 527.0h0.6v0.6h-0.6zM318.8 528.2h0.6v0.6h-0.6zM307.1 524.2h0.6v0.6h-0.6zM318.4 525.3h0.6v0.6h-0.6zM313.9 526.2h0.6v0.6h-0.6zM325.0 526.2h0.6v0.6h-0.6zM315.3 525.4h0.6v0.6h-0.6zM312.9 528.7h0.6v0.6h-0.6zM313.8 530.1h0.6v0.6h-0.6zM322.0 529.0h0.6v0.6h-0.6zM322.5 526.7h0.6v0.6h-0.6zM310.5 526.8h0.6v0.6h-0.6zM320.8 521.7h0.6v0.6h-0.6zM312.8 530.7h0.6v0.6h-0.6zM319.9 531.6h0.6v0.6h-0.6zM320.9 527.2h0.6v0.6h-0.6zM319.9 529.9h0.6v0.6h-0.6zM317.9 526.3h0.6v0.6h-0.6zM319.4 525.9h0.6v0.6h-0.6zM328.4 524.4h0.6v0.6h-0.6zM311.5 522.6h0.6v0.6h-0.6zM322.6 525.6h0.6v0.6h-0.6zM318.7 526.3h0.6v0.6h-0.6zM319.3 522.0h0.6v0.6h-0.6zM318.4 525.0h0.6v0.6h-0.6zM322.7 529.1h0.6v0.6h-0.6zM312.6 523.7h0.6v0.6h-0.6zM320.5 531.1h0.6v0.6h-0.6zM321.4 526.5h0.6v0.6h-0.6zM322.9 518.9h0.6v0.6h-0.6zM315.7 523.7h0.6v0.6h-0.6zM313.6 528.9h0.6v0.6h-0.6zM319.3 528.0h0.6v0.6h-0.6zM317.5 529.1h0.6v0.6h-0.6zM321.4 525.0h0.6v0.6h-0.6zM322.1 523.8h0.6v0.6h-0.6zM325.7 522.5h0.6v0.6h-0.6zM316.8 523.3h0.6v0.6h-0.6zM318.2 531.5h0.6v0.6h-0.6zM314.8 533.1h0.6v0.6h-0.6zM324.2 528.3h0.6v0.6h-0.6zM315.5 530.1h0.6v0.6h-0.6zM305.7 524.4h0.6v0.6h-0.6zM322.2 526.9h0.6v0.6h-0.6zM328.8 524.7h0.6v0.6h-0.6zM312.3 526.3h0.6v0.6h-0.6zM320.6 532.8h0.6v0.6h-0.6zM310.4 527.5h0.6v0.6h-0.6zM323.5 524.7h0.6v0.6h-0.6zM316.1 522.8h0.6v0.6h-0.6zM321.4 529.8h0.6v0.6h-0.6zM320.6 527.8h0.6v0.6h-0.6zM322.4 526.6h0.6v0.6h-0.6zM321.2 529.8h0.6v0.6h-0.6zM323.7 528.8h0.6v0.6h-0.6zM318.4 529.4h0.6v0.6h-0.6zM311.3 521.0h0.6v0.6h-0.6zM325.1 527.5h0.6v0.6h-0.6zM313.5 525.0h0.6v0.6h-0.6zM317.4 527.2h0.6v0.6h-0.6zM314.7 530.4h0.6v0.6h-0.6zM310.6 536.6h0.6v0.6h-0.6zM313.3 532.7h0.6v0.6h-0.6zM321.0 521.2h0.6v0.6h-0.6zM312.7 527.2h0.6v0.6h-0.6zM319.2 525.5h0.6v0.6h-0.6zM318.1 527.6h0.6v0.6h-0.6zM313.1 527.2h0.6v0.6h-0.6zM328.0 524.8h0.6v0.6h-0.6zM313.6 529.3h0.6v0.6h-0.6zM323.9 530.6h0.6v0.6h-0.6zM315.3 526.7h0.6v0.6h-0.6zM318.9 526.3h0.6v0.6h-0.6zM319.8 530.7h0.6v0.6h-0.6zM320.5 527.0h0.6v0.6h-0.6zM317.2 533.2h0.6v0.6h-0.6zM312.7 533.9h0.6v0.6h-0.6zM321.3 527.3h0.6v0.6h-0.6zM314.8 533.3h0.6v0.6h-0.6zM323.4 530.1h0.6v0.6h-0.6zM327.2 520.8h0.6v0.6h-0.6zM318.5 525.9h0.6v0.6h-0.6zM314.9 527.3h0.6v0.6h-0.6zM320.4 528.8h0.6v0.6h-0.6zM317.4 522.4h0.6v0.6h-0.6zM320.5 529.1h0.6v0.6h-0.6zM327.4 530.2h0.6v0.6h-0.6zM318.1 523.0h0.6v0.6h-0.6zM330.1 524.7h0.6v0.6h-0.6zM318.9 529.6h0.6v0.6h-0.6zM320.3 531.6h0.6v0.6h-0.6zM313.5 524.6h0.6v0.6h-0.6zM318.8 522.8h0.6v0.6h-0.6zM315.4 531.8h0.6v0.6h-0.6zM319.4 526.6h0.6v0.6h-0.6zM315.5 527.2h0.6v0.6h-0.6zM317.9 523.3h0.6v0.6h-0.6zM321.5 522.6h0.6v0.6h-0.6zM323.7 525.8h0.6v0.6h-0.6zM308.0 521.6h0.6v0.6h-0.6zM319.3 524.0h0.6v0.6h-0.6zM326.1 531.8h0.6v0.6h-0.6zM327.4 530.1h0.6v0.6h-0.6zM324.1 524.9h0.6v0.6h-0.6zM323.8 525.5h0.6v0.6h-0.6zM317.8 522.3h0.6v0.6h-0.6zM318.3 528.4h0.6v0.6h-0.6zM317.8 523.2h0.6v0.6h-0.6zM322.1 530.2h0.6v0.6h-0.6zM317.7 529.7h0.6v0.6h-0.6zM322.4 523.6h0.6v0.6h-0.6zM317.9 520.6h0.6v0.6h-0.6zM313.5 528.5h0.6v0.6h-0.6zM314.1 528.4h0.6v0.6h-0.6zM319.7 519.8h0.6v0.6h-0.6zM315.9 532.3h0.6v0.6h-0.6zM318.1 527.4h0.6v0.6h-0.6zM314.9 521.4h0.6v0.6h-0.6zM311.0 537.0h0.6v0.6h-0.6zM317.2 524.0h0.6v0.6h-0.6zM318.6 520.3h0.6v0.6h-0.6zM324.3 533.0h0.6v0.6h-0.6zM314.7 528.1h0.6v0.6h-0.6zM314.0 530.0h0.6v0.6h-0.6zM314.3 526.5h0.6v0.6h-0.6zM323.9 528.8h0.6v0.6h-0.6zM316.6 521.7h0.6v0.6h-0.6zM310.9 531.2h0.6v0.6h-0.6zM320.4 527.2h0.6v0.6h-0.6zM323.7 527.5h0.6v0.6h-0.6zM314.8 526.6h0.6v0.6h-0.6zM317.6 527.0h0.6v0.6h-0.6zM329.2 529.0h0.6v0.6h-0.6zM319.3 526.1h0.6v0.6h-0.6zM315.0 523.5h0.6v0.6h-0.6zM309.6 525.4h0.6v0.6h-0.6zM311.2 520.5h0.6v0.6h-0.6zM313.8 519.9h0.6v0.6h-0.6zM324.2 531.3h0.6v0.6h-0.6zM313.7 534.1h0.6v0.6h-0.6zM321.0 518.2h0.6v0.6h-0.6zM318.1 523.5h0.6v0.6h-0.6zM310.2 526.1h0.6v0.6h-0.6zM323.2 528.6h0.6v0.6h-0.6zM311.5 524.7h0.6v0.6h-0.6zM314.6 531.0h0.6v0.6h-0.6zM317.6 523.6h0.6v0.6h-0.6zM313.9 520.1h0.6v0.6h-0.6zM314.3 530.1h0.6v0.6h-0.6zM309.4 527.7h0.6v0.6h-0.6zM317.5 529.9h0.6v0.6h-0.6zM312.9 530.2h0.6v0.6h-0.6zM325.0 535.0h0.6v0.6h-0.6zM310.7 526.9h0.6v0.6h-0.6zM317.1 527.4h0.6v0.6h-0.6zM313.6 530.0h0.6v0.6h-0.6zM328.6 532.3h0.6v0.6h-0.6zM313.7 525.0h0.6v0.6h-0.6zM321.3 527.5h0.6v0.6h-0.6zM314.6 531.3h0.6v0.6h-0.6zM320.4 530.6h0.6v0.6h-0.6zM317.2 531.5h0.6v0.6h-0.6zM315.9 523.1h0.6v0.6h-0.6zM318.0 522.1h0.6v0.6h-0.6zM323.7 529.6h0.6v0.6h-0.6zM310.4 527.6h0.6v0.6h-0.6zM321.9 525.7h0.6v0.6h-0.6zM319.9 525.0h0.6v0.6h-0.6zM317.7 526.7h0.6v0.6h-0.6zM320.2 523.6h0.6v0.6h-0.6zM312.9 528.2h0.6v0.6h-0.6zM315.7 528.8h0.6v0.6h-0.6zM315.8 522.4h0.6v0.6h-0.6zM321.4 527.9h0.6v0.6h-0.6zM321.3 525.8h0.6v0.6h-0.6zM316.4 531.4h0.6v0.6h-0.6zM310.4 533.1h0.6v0.6h-0.6zM320.4 526.8h0.6v0.6h-0.6zM318.4 529.1h0.6v0.6h-0.6zM314.5 528.0h0.6v0.6h-0.6zM313.7 520.5h0.6v0.6h-0.6zM318.9 527.3h0.6v0.6h-0.6zM321.0 529.0h0.6v0.6h-0.6zM321.2 529.8h0.6v0.6h-0.6zM313.3 531.3h0.6v0.6h-0.6zM330.1 525.0h0.6v0.6h-0.6zM312.3 529.4h0.6v0.6h-0.6zM322.2 530.5h0.6v0.6h-0.6zM325.0 522.1h0.6v0.6h-0.6zM319.7 528.6h0.6v0.6h-0.6zM323.7 523.9h0.6v0.6h-0.6zM318.1 525.7h0.6v0.6h-0.6zM317.3 526.5h0.6v0.6h-0.6zM317.3 520.8h0.6v0.6h-0.6zM317.9 527.2h0.6v0.6h-0.6zM314.9 524.7h0.6v0.6h-0.6zM314.1 532.6h0.6v0.6h-0.6zM322.2 526.3h0.6v0.6h-0.6zM320.7 538.6h0.6v0.6h-0.6zM313.6 528.7h0.6v0.6h-0.6zM315.3 532.2h0.6v0.6h-0.6zM323.0 526.6h0.6v0.6h-0.6zM320.8 524.2h0.6v0.6h-0.6zM310.9 530.0h0.6v0.6h-0.6zM325.4 525.9h0.6v0.6h-0.6zM315.6 520.7h0.6v0.6h-0.6zM327.7 522.8h0.6v0.6h-0.6zM313.6 526.3h0.6v0.6h-0.6zM323.5 527.2h0.6v0.6h-0.6zM317.9 527.1h0.6v0.6h-0.6zM321.9 526.9h0.6v0.6h-0.6zM318.7 526.7h0.6v0.6h-0.6zM313.0 531.7h0.6v0.6h-0.6zM314.9 522.4h0.6v0.6h-0.6zM316.0 527.1h0.6v0.6h-0.6zM321.7 521.8h0.6v0.6h-0.6zM312.3 527.6h0.6v0.6h-0.6zM319.7 523.1h0.6v0.6h-0.6zM293.6 549.4h0.6v0.6h-0.6zM303.6 535.0h0.6v0.6h-0.6zM296.2 559.9h0.6v0.6h-0.6zM294.4 556.4h0.6v0.6h-0.6zM321.1 542.9h0.6v0.6h-0.6zM298.2 553.1h0.6v0.6h-0.6zM292.6 552.4h0.6v0.6h-0.6zM317.3 550.1h0.6v0.6h-0.6zM308.3 546.7h0.6v0.6h-0.6zM315.1 541.4h0.6v0.6h-0.6zM321.0 547.8h0.6v0.6h-0.6zM301.7 534.9h0.6v0.6h-0.6zM300.6 549.9h0.6v0.6h-0.6zM317.5 535.0h0.6v0.6h-0.6zM303.7 542.5h0.6v0.6h-0.6zM293.0 548.0h0.6v0.6h-0.6zM297.4 555.0h0.6v0.6h-0.6zM310.2 545.3h0.6v0.6h-0.6zM306.3 540.2h0.6v0.6h-0.6zM294.5 542.1h0.6v0.6h-0.6zM304.5 541.2h0.6v0.6h-0.6zM300.8 541.1h0.6v0.6h-0.6zM307.4 538.9h0.6v0.6h-0.6zM304.8 548.8h0.6v0.6h-0.6zM314.7 542.0h0.6v0.6h-0.6zM293.6 536.0h0.6v0.6h-0.6zM312.6 543.0h0.6v0.6h-0.6zM314.9 547.4h0.6v0.6h-0.6zM302.2 533.1h0.6v0.6h-0.6zM298.2 554.3h0.6v0.6h-0.6zM298.9 553.4h0.6v0.6h-0.6zM333.0 557.0h0.6v0.6h-0.6zM308.2 538.1h0.6v0.6h-0.6zM299.7 542.7h0.6v0.6h-0.6zM306.9 531.8h0.6v0.6h-0.6zM296.3 554.4h0.6v0.6h-0.6zM306.5 554.0h0.6v0.6h-0.6zM313.6 538.8h0.6v0.6h-0.6zM291.5 551.7h0.6v0.6h-0.6zM305.3 548.6h0.6v0.6h-0.6zM296.8 556.2h0.6v0.6h-0.6zM310.0 557.2h0.6v0.6h-0.6zM301.5 553.6h0.6v0.6h-0.6zM304.4 540.4h0.6v0.6h-0.6zM304.2 534.7h0.6v0.6h-0.6zM303.2 549.4h0.6v0.6h-0.6zM312.0 539.5h0.6v0.6h-0.6zM291.7 542.1h0.6v0.6h-0.6zM331.3 549.2h0.6v0.6h-0.6zM297.4 542.5h0.6v0.6h-0.6zM322.7 538.6h0.6v0.6h-0.6zM303.9 547.4h0.6v0.6h-0.6zM297.6 542.2h0.6v0.6h-0.6zM318.0 559.4h0.6v0.6h-0.6zM302.2 553.7h0.6v0.6h-0.6zM309.6 548.9h0.6v0.6h-0.6zM303.6 557.8h0.6v0.6h-0.6zM310.7 546.2h0.6v0.6h-0.6zM302.7 555.5h0.6v0.6h-0.6zM299.0 542.2h0.6v0.6h-0.6zM302.2 544.0h0.6v0.6h-0.6zM317.7 550.9h0.6v0.6h-0.6zM304.1 543.8h0.6v0.6h-0.6zM319.2 551.5h0.6v0.6h-0.6zM325.9 555.3h0.6v0.6h-0.6zM302.8 543.6h0.6v0.6h-0.6zM302.1 549.5h0.6v0.6h-0.6zM312.9 551.9h0.6v0.6h-0.6zM320.8 535.8h0.6v0.6h-0.6zM305.3 536.6h0.6v0.6h-0.6zM294.7 543.2h0.6v0.6h-0.6zM298.5 540.2h0.6v0.6h-0.6zM301.8 555.7h0.6v0.6h-0.6zM293.9 529.4h0.6v0.6h-0.6zM299.0 555.1h0.6v0.6h-0.6zM299.4 551.2h0.6v0.6h-0.6zM294.2 559.2h0.6v0.6h-0.6zM309.3 556.4h0.6v0.6h-0.6zM302.2 558.3h0.6v0.6h-0.6zM305.7 544.1h0.6v0.6h-0.6zM298.6 548.4h0.6v0.6h-0.6zM295.9 538.4h0.6v0.6h-0.6zM306.3 553.7h0.6v0.6h-0.6zM302.1 554.7h0.6v0.6h-0.6zM320.9 537.8h0.6v0.6h-0.6zM307.6 540.3h0.6v0.6h-0.6zM298.5 549.4h0.6v0.6h-0.6zM313.4 552.3h0.6v0.6h-0.6zM301.3 556.8h0.6v0.6h-0.6zM319.5 551.9h0.6v0.6h-0.6zM302.1 535.0h0.6v0.6h-0.6zM304.4 554.1h0.6v0.6h-0.6zM302.4 546.5h0.6v0.6h-0.6zM319.7 543.1h0.6v0.6h-0.6zM295.5 548.3h0.6v0.6h-0.6zM316.2 552.8h0.6v0.6h-0.6zM305.7 544.0h0.6v0.6h-0.6zM317.4 555.1h0.6v0.6h-0.6zM311.1 542.9h0.6v0.6h-0.6zM292.1 545.6h0.6v0.6h-0.6zM299.9 533.8h0.6v0.6h-0.6zM304.8 557.5h0.6v0.6h-0.6zM292.3 545.1h0.6v0.6h-0.6zM323.2 549.5h0.6v0.6h-0.6zM299.4 549.5h0.6v0.6h-0.6zM312.8 539.9h0.6v0.6h-0.6zM304.0 534.9h0.6v0.6h-0.6zM313.5 550.5h0.6v0.6h-0.6zM312.3 557.7h0.6v0.6h-0.6zM305.5 549.9h0.6v0.6h-0.6zM309.1 551.7h0.6v0.6h-0.6zM294.3 545.8h0.6v0.6h-0.6zM303.5 548.3h0.6v0.6h-0.6zM297.5 546.9h0.6v0.6h-0.6zM307.9 549.5h0.6v0.6h-0.6zM310.9 554.6h0.6v0.6h-0.6zM310.6 555.7h0.6v0.6h-0.6zM313.4 559.2h0.6v0.6h-0.6zM311.3 543.0h0.6v0.6h-0.6zM328.3 557.0h0.6v0.6h-0.6zM317.5 553.8h0.6v0.6h-0.6zM305.5 538.8h0.6v0.6h-0.6zM309.4 545.1h0.6v0.6h-0.6zM301.0 530.9h0.6v0.6h-0.6zM320.5 538.6h0.6v0.6h-0.6zM294.0 551.7h0.6v0.6h-0.6zM310.7 541.6h0.6v0.6h-0.6zM304.9 550.0h0.6v0.6h-0.6zM306.6 552.2h0.6v0.6h-0.6zM312.8 545.0h0.6v0.6h-0.6zM301.1 540.0h0.6v0.6h-0.6zM312.5 552.7h0.6v0.6h-0.6zM304.6 550.5h0.6v0.6h-0.6zM308.2 546.1h0.6v0.6h-0.6zM308.2 537.5h0.6v0.6h-0.6zM313.8 544.7h0.6v0.6h-0.6zM299.2 536.0h0.6v0.6h-0.6zM303.8 546.6h0.6v0.6h-0.6zM298.6 535.5h0.6v0.6h-0.6zM306.6 551.4h0.6v0.6h-0.6zM316.4 552.1h0.6v0.6h-0.6zM320.2 557.6h0.6v0.6h-0.6zM303.9 539.6h0.6v0.6h-0.6zM309.3 555.7h0.6v0.6h-0.6zM311.9 543.5h0.6v0.6h-0.6zM319.6 549.7h0.6v0.6h-0.6zM299.5 537.3h0.6v0.6h-0.6zM311.0 534.2h0.6v0.6h-0.6zM291.9 537.5h0.6v0.6h-0.6zM302.8 544.9h0.6v0.6h-0.6zM312.0 558.0h0.6v0.6h-0.6zM302.9 557.1h0.6v0.6h-0.6zM302.8 537.8h0.6v0.6h-0.6zM324.6 542.5h0.6v0.6h-0.6zM305.0 538.0h0.6v0.6h-0.6zM311.8 549.5h0.6v0.6h-0.6zM302.1 544.8h0.6v0.6h-0.6zM299.3 542.2h0.6v0.6h-0.6zM314.0 536.8h0.6v0.6h-0.6zM293.3 551.3h0.6v0.6h-0.6zM327.7 546.3h0.6v0.6h-0.6zM301.8 546.0h0.6v0.6h-0.6zM307.5 546.6h0.6v0.6h-0.6zM315.9 555.9h0.6v0.6h-0.6zM310.5 560.6h0.6v0.6h-0.6zM302.7 543.6h0.6v0.6h-0.6zM334.9 532.5h0.6v0.6h-0.6zM308.6 539.4h0.6v0.6h-0.6zM315.6 531.1h0.6v0.6h-0.6zM303.6 544.8h0.6v0.6h-0.6zM294.1 557.0h0.6v0.6h-0.6z" fill="#6a78e0" opacity="0.7"/>
<g filter="url(#bl)"><ellipse cx="318" cy="526.8" rx="4.2" ry="3.2" fill="#4a6ad8" transform="rotate(-30 318 526.8)"/><ellipse cx="318" cy="526.8" rx="2.8" ry="1.8" fill="#4ab86a" transform="rotate(-30 318 526.8)"/><ellipse cx="318.5" cy="526.5" rx="1.6" ry="1.0" fill="#e8a030" transform="rotate(-30 318 526.8)"/><ellipse cx="318.8" cy="526.3" rx="0.8" ry="0.6" fill="#e03020"/></g>
<rect x="310.00" y="518.00" width="28.60" height="19.90" fill="none" stroke="#6a70b0" stroke-width="0.7" rx="0" />
<text x="292.40" y="523.80" font-size="4.8" text-anchor="start" fill="#2a2a9a" font-weight="normal" stroke="#2a2a9a" stroke-width="0.05" >CAR-NK</text>
<text x="292.40" y="529.00" font-size="4.8" text-anchor="start" fill="#2a2a9a" font-weight="normal" stroke="#2a2a9a" stroke-width="0.05" >51.40%</text>
<text x="288.70" y="523.50" font-size="6.0" text-anchor="end" fill="#1a1a1a" stroke="#1a1a1a" stroke-width="0.05">10<tspan font-size="3.90" dy="-2.70">3.5</tspan></text>
<text x="288.70" y="538.30" font-size="6.0" text-anchor="end" fill="#1a1a1a" stroke="#1a1a1a" stroke-width="0.05">10<tspan font-size="3.90" dy="-2.70">4</tspan></text>
<text x="288.70" y="562.10" font-size="6.0" text-anchor="end" fill="#1a1a1a" stroke="#1a1a1a" stroke-width="0.05">10<tspan font-size="3.90" dy="-2.70">2.1</tspan></text>
<text x="291.40" y="572.60" font-size="6.0" text-anchor="middle" fill="#1a1a1a" stroke="#1a1a1a" stroke-width="0.05">10<tspan font-size="3.90" dy="-2.70">1</tspan></text>
<text x="303.40" y="572.60" font-size="6.0" text-anchor="middle" fill="#1a1a1a" stroke="#1a1a1a" stroke-width="0.05">10<tspan font-size="3.90" dy="-2.70">2</tspan></text>
<text x="315.60" y="572.60" font-size="6.0" text-anchor="middle" fill="#1a1a1a" stroke="#1a1a1a" stroke-width="0.05">10<tspan font-size="3.90" dy="-2.70">3</tspan></text>
<text x="327.70" y="572.60" font-size="6.0" text-anchor="middle" fill="#1a1a1a" stroke="#1a1a1a" stroke-width="0.05">10<tspan font-size="3.90" dy="-2.70">4</tspan></text>
<text x="339.20" y="572.60" font-size="6.0" text-anchor="middle" fill="#1a1a1a" stroke="#1a1a1a" stroke-width="0.05">10<tspan font-size="3.90" dy="-2.70">5</tspan></text>
<text x="307.30" y="584.19" font-size="8.3" fill="#1a1a1a" stroke="#1a1a1a" stroke-width="0.28" textLength="16.6" lengthAdjust="spacingAndGlyphs">hCD34</text>
<text transform="translate(267.99,548.35) rotate(-90)" x="0" y="0" font-size="8.3" fill="#1a1a1a" stroke="#1a1a1a" stroke-width="0.28" textLength="17.3" lengthAdjust="spacingAndGlyphs">hCD56</text>
<rect x="0" y="0" width="1.5" height="609" fill="#000"/><rect x="518.5" y="0" width="1.5" height="609" fill="#000"/><rect x="0" y="0" width="520" height="1.4" fill="#000"/><rect x="0" y="607.5" width="520" height="1.5" fill="#000"/>
</svg>
</body></html>
